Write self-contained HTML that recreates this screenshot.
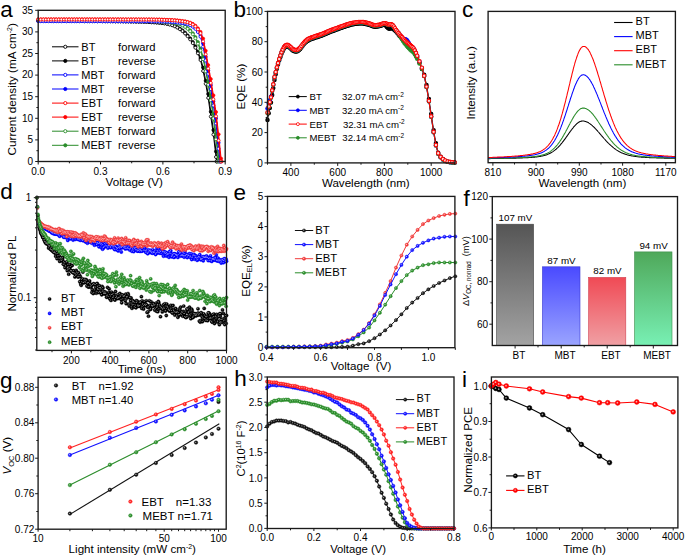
<!DOCTYPE html><html><head><meta charset="utf-8"><title>Figure</title><style>html,body{margin:0;padding:0;background:#fff;width:685px;height:557px;overflow:hidden}svg{display:block;font-family:"Liberation Sans",sans-serif}</style></head><body><svg width="685" height="557" viewBox="0 0 685 557" font-family='&quot;Liberation Sans&quot;, sans-serif'><rect width="100%" height="100%" fill="#fff"/><path d="M38.2,20.8 L40.8,20.8 L43.4,20.9 L45.9,20.9 L48.5,20.9 L51.1,20.9 L53.7,20.9 L56.2,20.9 L58.8,20.9 L61.4,20.9 L64,20.9 L66.5,20.9 L69.1,20.9 L71.7,20.9 L74.3,20.9 L76.8,21 L79.4,21 L82,21 L84.6,21 L87.2,21 L89.7,21 L92.3,21 L94.9,21 L97.5,21 L100,21.1 L102.6,21.1 L105.2,21.1 L107.8,21.1 L110.3,21.1 L112.9,21.2 L115.5,21.2 L118.1,21.2 L120.6,21.2 L123.2,21.3 L125.8,21.3 L128.4,21.3 L131,21.4 L133.5,21.4 L136.1,21.5 L138.7,21.6 L141.3,21.6 L143.8,21.7 L146.4,21.8 L149,21.9 L151.6,22.1 L154.1,22.2 L156.7,22.4 L159.3,22.6 L161.9,22.9 L164.4,23.2 L167,23.6 L169.6,24.2 L172.2,24.9 L174.8,25.8 L177.3,27.1 L179.9,28.6 L182.5,30.4 L185.1,32.7 L187.6,35.4 L190.2,38.4 L192.8,42 L195.4,46.4 L197.9,51.7 L200.5,58.1 L203.1,67.6 L205.7,80.8 L208.2,94 L210.8,111.7 L213.4,130.1 L216,151.5 L217.1,161.5" fill="none" stroke="#000" stroke-width="1.0" stroke-linejoin="round"/><g fill="#000" stroke="#000" stroke-width="0.7"><circle cx="38.2" cy="20.8" r="1.55"/><circle cx="40.8" cy="20.8" r="1.55"/><circle cx="43.4" cy="20.9" r="1.55"/><circle cx="45.9" cy="20.9" r="1.55"/><circle cx="48.5" cy="20.9" r="1.55"/><circle cx="51.1" cy="20.9" r="1.55"/><circle cx="53.7" cy="20.9" r="1.55"/><circle cx="56.2" cy="20.9" r="1.55"/><circle cx="58.8" cy="20.9" r="1.55"/><circle cx="61.4" cy="20.9" r="1.55"/><circle cx="64" cy="20.9" r="1.55"/><circle cx="66.5" cy="20.9" r="1.55"/><circle cx="69.1" cy="20.9" r="1.55"/><circle cx="71.7" cy="20.9" r="1.55"/><circle cx="74.3" cy="20.9" r="1.55"/><circle cx="76.8" cy="21" r="1.55"/><circle cx="79.4" cy="21" r="1.55"/><circle cx="82" cy="21" r="1.55"/><circle cx="84.6" cy="21" r="1.55"/><circle cx="87.2" cy="21" r="1.55"/><circle cx="89.7" cy="21" r="1.55"/><circle cx="92.3" cy="21" r="1.55"/><circle cx="94.9" cy="21" r="1.55"/><circle cx="97.5" cy="21" r="1.55"/><circle cx="100" cy="21.1" r="1.55"/><circle cx="102.6" cy="21.1" r="1.55"/><circle cx="105.2" cy="21.1" r="1.55"/><circle cx="107.8" cy="21.1" r="1.55"/><circle cx="110.3" cy="21.1" r="1.55"/><circle cx="112.9" cy="21.2" r="1.55"/><circle cx="115.5" cy="21.2" r="1.55"/><circle cx="118.1" cy="21.2" r="1.55"/><circle cx="120.6" cy="21.2" r="1.55"/><circle cx="123.2" cy="21.3" r="1.55"/><circle cx="125.8" cy="21.3" r="1.55"/><circle cx="128.4" cy="21.3" r="1.55"/><circle cx="131" cy="21.4" r="1.55"/><circle cx="133.5" cy="21.4" r="1.55"/><circle cx="136.1" cy="21.5" r="1.55"/><circle cx="138.7" cy="21.6" r="1.55"/><circle cx="141.3" cy="21.6" r="1.55"/><circle cx="143.8" cy="21.7" r="1.55"/><circle cx="146.4" cy="21.8" r="1.55"/><circle cx="149" cy="21.9" r="1.55"/><circle cx="151.6" cy="22.1" r="1.55"/><circle cx="154.1" cy="22.2" r="1.55"/><circle cx="156.7" cy="22.4" r="1.55"/><circle cx="159.3" cy="22.6" r="1.55"/><circle cx="161.9" cy="22.9" r="1.55"/><circle cx="164.4" cy="23.2" r="1.55"/><circle cx="167" cy="23.6" r="1.55"/><circle cx="169.6" cy="24.2" r="1.55"/><circle cx="172.2" cy="24.9" r="1.55"/><circle cx="174.8" cy="25.8" r="1.55"/><circle cx="177.3" cy="27.1" r="1.55"/><circle cx="179.9" cy="28.6" r="1.55"/><circle cx="182.5" cy="30.4" r="1.55"/><circle cx="185.1" cy="32.7" r="1.55"/><circle cx="187.6" cy="35.4" r="1.55"/><circle cx="190.2" cy="38.4" r="1.55"/><circle cx="192.8" cy="42" r="1.55"/><circle cx="195.4" cy="46.4" r="1.55"/><circle cx="197.9" cy="51.7" r="1.55"/><circle cx="200.5" cy="58.1" r="1.55"/><circle cx="203.1" cy="67.6" r="1.55"/><circle cx="205.7" cy="80.8" r="1.55"/><circle cx="208.2" cy="94" r="1.55"/><circle cx="210.8" cy="111.7" r="1.55"/><circle cx="213.4" cy="130.1" r="1.55"/><circle cx="216" cy="151.5" r="1.55"/><circle cx="217.1" cy="161.5" r="1.55"/></g><path d="M38.2,21 L40.8,21 L43.4,21 L45.9,21 L48.5,21 L51.1,21.1 L53.7,21.1 L56.2,21.1 L58.8,21.1 L61.4,21.1 L64,21.1 L66.5,21.1 L69.1,21.1 L71.7,21.1 L74.3,21.1 L76.8,21.1 L79.4,21.1 L82,21.1 L84.6,21.2 L87.2,21.2 L89.7,21.2 L92.3,21.2 L94.9,21.2 L97.5,21.2 L100,21.2 L102.6,21.2 L105.2,21.3 L107.8,21.3 L110.3,21.3 L112.9,21.3 L115.5,21.4 L118.1,21.4 L120.6,21.4 L123.2,21.4 L125.8,21.5 L128.4,21.5 L131,21.6 L133.5,21.6 L136.1,21.7 L138.7,21.8 L141.3,21.8 L143.8,21.9 L146.4,22 L149,22.1 L151.6,22.3 L154.1,22.4 L156.7,22.6 L159.3,22.9 L161.9,23.1 L164.4,23.4 L167,23.9 L169.6,24.5 L172.2,25.3 L174.8,26.3 L177.3,27.6 L179.9,29.2 L182.5,31.1 L185.1,33.5 L187.6,36.2 L190.2,39.4 L192.8,43.1 L195.4,47.7 L197.9,53.3 L200.5,60 L203.1,71 L205.7,83.8 L208.2,97.9 L210.8,116.6 L213.4,134.6 L216,157 L216.5,161.5" fill="none" stroke="#000" stroke-width="1.0" stroke-linejoin="round"/><g fill="#fff" stroke="#000" stroke-width="0.85"><circle cx="38.2" cy="21" r="1.5"/><circle cx="40.8" cy="21" r="1.5"/><circle cx="43.4" cy="21" r="1.5"/><circle cx="45.9" cy="21" r="1.5"/><circle cx="48.5" cy="21" r="1.5"/><circle cx="51.1" cy="21.1" r="1.5"/><circle cx="53.7" cy="21.1" r="1.5"/><circle cx="56.2" cy="21.1" r="1.5"/><circle cx="58.8" cy="21.1" r="1.5"/><circle cx="61.4" cy="21.1" r="1.5"/><circle cx="64" cy="21.1" r="1.5"/><circle cx="66.5" cy="21.1" r="1.5"/><circle cx="69.1" cy="21.1" r="1.5"/><circle cx="71.7" cy="21.1" r="1.5"/><circle cx="74.3" cy="21.1" r="1.5"/><circle cx="76.8" cy="21.1" r="1.5"/><circle cx="79.4" cy="21.1" r="1.5"/><circle cx="82" cy="21.1" r="1.5"/><circle cx="84.6" cy="21.2" r="1.5"/><circle cx="87.2" cy="21.2" r="1.5"/><circle cx="89.7" cy="21.2" r="1.5"/><circle cx="92.3" cy="21.2" r="1.5"/><circle cx="94.9" cy="21.2" r="1.5"/><circle cx="97.5" cy="21.2" r="1.5"/><circle cx="100" cy="21.2" r="1.5"/><circle cx="102.6" cy="21.2" r="1.5"/><circle cx="105.2" cy="21.3" r="1.5"/><circle cx="107.8" cy="21.3" r="1.5"/><circle cx="110.3" cy="21.3" r="1.5"/><circle cx="112.9" cy="21.3" r="1.5"/><circle cx="115.5" cy="21.4" r="1.5"/><circle cx="118.1" cy="21.4" r="1.5"/><circle cx="120.6" cy="21.4" r="1.5"/><circle cx="123.2" cy="21.4" r="1.5"/><circle cx="125.8" cy="21.5" r="1.5"/><circle cx="128.4" cy="21.5" r="1.5"/><circle cx="131" cy="21.6" r="1.5"/><circle cx="133.5" cy="21.6" r="1.5"/><circle cx="136.1" cy="21.7" r="1.5"/><circle cx="138.7" cy="21.8" r="1.5"/><circle cx="141.3" cy="21.8" r="1.5"/><circle cx="143.8" cy="21.9" r="1.5"/><circle cx="146.4" cy="22" r="1.5"/><circle cx="149" cy="22.1" r="1.5"/><circle cx="151.6" cy="22.3" r="1.5"/><circle cx="154.1" cy="22.4" r="1.5"/><circle cx="156.7" cy="22.6" r="1.5"/><circle cx="159.3" cy="22.9" r="1.5"/><circle cx="161.9" cy="23.1" r="1.5"/><circle cx="164.4" cy="23.4" r="1.5"/><circle cx="167" cy="23.9" r="1.5"/><circle cx="169.6" cy="24.5" r="1.5"/><circle cx="172.2" cy="25.3" r="1.5"/><circle cx="174.8" cy="26.3" r="1.5"/><circle cx="177.3" cy="27.6" r="1.5"/><circle cx="179.9" cy="29.2" r="1.5"/><circle cx="182.5" cy="31.1" r="1.5"/><circle cx="185.1" cy="33.5" r="1.5"/><circle cx="187.6" cy="36.2" r="1.5"/><circle cx="190.2" cy="39.4" r="1.5"/><circle cx="192.8" cy="43.1" r="1.5"/><circle cx="195.4" cy="47.7" r="1.5"/><circle cx="197.9" cy="53.3" r="1.5"/><circle cx="200.5" cy="60" r="1.5"/><circle cx="203.1" cy="71" r="1.5"/><circle cx="205.7" cy="83.8" r="1.5"/><circle cx="208.2" cy="97.9" r="1.5"/><circle cx="210.8" cy="116.6" r="1.5"/><circle cx="213.4" cy="134.6" r="1.5"/><circle cx="216" cy="157" r="1.5"/><circle cx="216.5" cy="161.5" r="1.5"/></g><path d="M38.2,20.2 L40.8,20.2 L43.4,20.2 L45.9,20.2 L48.5,20.2 L51.1,20.3 L53.7,20.3 L56.2,20.3 L58.8,20.3 L61.4,20.3 L64,20.3 L66.5,20.3 L69.1,20.3 L71.7,20.3 L74.3,20.3 L76.8,20.3 L79.4,20.3 L82,20.3 L84.6,20.3 L87.2,20.3 L89.7,20.3 L92.3,20.3 L94.9,20.3 L97.5,20.3 L100,20.3 L102.6,20.3 L105.2,20.3 L107.8,20.3 L110.3,20.4 L112.9,20.4 L115.5,20.4 L118.1,20.4 L120.6,20.4 L123.2,20.4 L125.8,20.5 L128.4,20.5 L131,20.5 L133.5,20.5 L136.1,20.6 L138.7,20.6 L141.3,20.6 L143.8,20.7 L146.4,20.7 L149,20.8 L151.6,20.9 L154.1,21 L156.7,21.1 L159.3,21.2 L161.9,21.3 L164.4,21.5 L167,21.8 L169.6,22 L172.2,22.3 L174.8,22.7 L177.3,23.2 L179.9,23.9 L182.5,24.9 L185.1,26.3 L187.6,28.1 L190.2,30.4 L192.8,33.3 L195.4,37.1 L197.9,42.1 L200.5,48.6 L203.1,56.8 L205.7,67.9 L208.2,81.4 L210.8,96.2 L213.4,113.7 L216,133.7 L218.6,157 L219.1,161.5" fill="none" stroke="#2a8c2a" stroke-width="1.0" stroke-linejoin="round"/><g fill="#2a8c2a" stroke="#2a8c2a" stroke-width="0.7"><circle cx="38.2" cy="20.2" r="1.55"/><circle cx="40.8" cy="20.2" r="1.55"/><circle cx="43.4" cy="20.2" r="1.55"/><circle cx="45.9" cy="20.2" r="1.55"/><circle cx="48.5" cy="20.2" r="1.55"/><circle cx="51.1" cy="20.3" r="1.55"/><circle cx="53.7" cy="20.3" r="1.55"/><circle cx="56.2" cy="20.3" r="1.55"/><circle cx="58.8" cy="20.3" r="1.55"/><circle cx="61.4" cy="20.3" r="1.55"/><circle cx="64" cy="20.3" r="1.55"/><circle cx="66.5" cy="20.3" r="1.55"/><circle cx="69.1" cy="20.3" r="1.55"/><circle cx="71.7" cy="20.3" r="1.55"/><circle cx="74.3" cy="20.3" r="1.55"/><circle cx="76.8" cy="20.3" r="1.55"/><circle cx="79.4" cy="20.3" r="1.55"/><circle cx="82" cy="20.3" r="1.55"/><circle cx="84.6" cy="20.3" r="1.55"/><circle cx="87.2" cy="20.3" r="1.55"/><circle cx="89.7" cy="20.3" r="1.55"/><circle cx="92.3" cy="20.3" r="1.55"/><circle cx="94.9" cy="20.3" r="1.55"/><circle cx="97.5" cy="20.3" r="1.55"/><circle cx="100" cy="20.3" r="1.55"/><circle cx="102.6" cy="20.3" r="1.55"/><circle cx="105.2" cy="20.3" r="1.55"/><circle cx="107.8" cy="20.3" r="1.55"/><circle cx="110.3" cy="20.4" r="1.55"/><circle cx="112.9" cy="20.4" r="1.55"/><circle cx="115.5" cy="20.4" r="1.55"/><circle cx="118.1" cy="20.4" r="1.55"/><circle cx="120.6" cy="20.4" r="1.55"/><circle cx="123.2" cy="20.4" r="1.55"/><circle cx="125.8" cy="20.5" r="1.55"/><circle cx="128.4" cy="20.5" r="1.55"/><circle cx="131" cy="20.5" r="1.55"/><circle cx="133.5" cy="20.5" r="1.55"/><circle cx="136.1" cy="20.6" r="1.55"/><circle cx="138.7" cy="20.6" r="1.55"/><circle cx="141.3" cy="20.6" r="1.55"/><circle cx="143.8" cy="20.7" r="1.55"/><circle cx="146.4" cy="20.7" r="1.55"/><circle cx="149" cy="20.8" r="1.55"/><circle cx="151.6" cy="20.9" r="1.55"/><circle cx="154.1" cy="21" r="1.55"/><circle cx="156.7" cy="21.1" r="1.55"/><circle cx="159.3" cy="21.2" r="1.55"/><circle cx="161.9" cy="21.3" r="1.55"/><circle cx="164.4" cy="21.5" r="1.55"/><circle cx="167" cy="21.8" r="1.55"/><circle cx="169.6" cy="22" r="1.55"/><circle cx="172.2" cy="22.3" r="1.55"/><circle cx="174.8" cy="22.7" r="1.55"/><circle cx="177.3" cy="23.2" r="1.55"/><circle cx="179.9" cy="23.9" r="1.55"/><circle cx="182.5" cy="24.9" r="1.55"/><circle cx="185.1" cy="26.3" r="1.55"/><circle cx="187.6" cy="28.1" r="1.55"/><circle cx="190.2" cy="30.4" r="1.55"/><circle cx="192.8" cy="33.3" r="1.55"/><circle cx="195.4" cy="37.1" r="1.55"/><circle cx="197.9" cy="42.1" r="1.55"/><circle cx="200.5" cy="48.6" r="1.55"/><circle cx="203.1" cy="56.8" r="1.55"/><circle cx="205.7" cy="67.9" r="1.55"/><circle cx="208.2" cy="81.4" r="1.55"/><circle cx="210.8" cy="96.2" r="1.55"/><circle cx="213.4" cy="113.7" r="1.55"/><circle cx="216" cy="133.7" r="1.55"/><circle cx="218.6" cy="157" r="1.55"/><circle cx="219.1" cy="161.5" r="1.55"/></g><path d="M38.2,20.4 L40.8,20.4 L43.4,20.4 L45.9,20.4 L48.5,20.4 L51.1,20.4 L53.7,20.4 L56.2,20.4 L58.8,20.4 L61.4,20.4 L64,20.4 L66.5,20.4 L69.1,20.4 L71.7,20.4 L74.3,20.5 L76.8,20.5 L79.4,20.5 L82,20.5 L84.6,20.5 L87.2,20.5 L89.7,20.5 L92.3,20.5 L94.9,20.5 L97.5,20.5 L100,20.5 L102.6,20.5 L105.2,20.5 L107.8,20.5 L110.3,20.5 L112.9,20.5 L115.5,20.6 L118.1,20.6 L120.6,20.6 L123.2,20.6 L125.8,20.6 L128.4,20.7 L131,20.7 L133.5,20.7 L136.1,20.7 L138.7,20.8 L141.3,20.8 L143.8,20.9 L146.4,20.9 L149,21 L151.6,21.1 L154.1,21.2 L156.7,21.3 L159.3,21.4 L161.9,21.6 L164.4,21.8 L167,22 L169.6,22.2 L172.2,22.5 L174.8,22.9 L177.3,23.5 L179.9,24.3 L182.5,25.4 L185.1,26.9 L187.6,28.8 L190.2,31.2 L192.8,34.3 L195.4,38.3 L197.9,43.7 L200.5,50.6 L203.1,59.2 L205.7,71.3 L208.2,84.8 L210.8,100.3 L213.4,118.4 L216,139.3 L218.4,161.5" fill="none" stroke="#2a8c2a" stroke-width="1.0" stroke-linejoin="round"/><g fill="#fff" stroke="#2a8c2a" stroke-width="0.85"><circle cx="38.2" cy="20.4" r="1.5"/><circle cx="40.8" cy="20.4" r="1.5"/><circle cx="43.4" cy="20.4" r="1.5"/><circle cx="45.9" cy="20.4" r="1.5"/><circle cx="48.5" cy="20.4" r="1.5"/><circle cx="51.1" cy="20.4" r="1.5"/><circle cx="53.7" cy="20.4" r="1.5"/><circle cx="56.2" cy="20.4" r="1.5"/><circle cx="58.8" cy="20.4" r="1.5"/><circle cx="61.4" cy="20.4" r="1.5"/><circle cx="64" cy="20.4" r="1.5"/><circle cx="66.5" cy="20.4" r="1.5"/><circle cx="69.1" cy="20.4" r="1.5"/><circle cx="71.7" cy="20.4" r="1.5"/><circle cx="74.3" cy="20.5" r="1.5"/><circle cx="76.8" cy="20.5" r="1.5"/><circle cx="79.4" cy="20.5" r="1.5"/><circle cx="82" cy="20.5" r="1.5"/><circle cx="84.6" cy="20.5" r="1.5"/><circle cx="87.2" cy="20.5" r="1.5"/><circle cx="89.7" cy="20.5" r="1.5"/><circle cx="92.3" cy="20.5" r="1.5"/><circle cx="94.9" cy="20.5" r="1.5"/><circle cx="97.5" cy="20.5" r="1.5"/><circle cx="100" cy="20.5" r="1.5"/><circle cx="102.6" cy="20.5" r="1.5"/><circle cx="105.2" cy="20.5" r="1.5"/><circle cx="107.8" cy="20.5" r="1.5"/><circle cx="110.3" cy="20.5" r="1.5"/><circle cx="112.9" cy="20.5" r="1.5"/><circle cx="115.5" cy="20.6" r="1.5"/><circle cx="118.1" cy="20.6" r="1.5"/><circle cx="120.6" cy="20.6" r="1.5"/><circle cx="123.2" cy="20.6" r="1.5"/><circle cx="125.8" cy="20.6" r="1.5"/><circle cx="128.4" cy="20.7" r="1.5"/><circle cx="131" cy="20.7" r="1.5"/><circle cx="133.5" cy="20.7" r="1.5"/><circle cx="136.1" cy="20.7" r="1.5"/><circle cx="138.7" cy="20.8" r="1.5"/><circle cx="141.3" cy="20.8" r="1.5"/><circle cx="143.8" cy="20.9" r="1.5"/><circle cx="146.4" cy="20.9" r="1.5"/><circle cx="149" cy="21" r="1.5"/><circle cx="151.6" cy="21.1" r="1.5"/><circle cx="154.1" cy="21.2" r="1.5"/><circle cx="156.7" cy="21.3" r="1.5"/><circle cx="159.3" cy="21.4" r="1.5"/><circle cx="161.9" cy="21.6" r="1.5"/><circle cx="164.4" cy="21.8" r="1.5"/><circle cx="167" cy="22" r="1.5"/><circle cx="169.6" cy="22.2" r="1.5"/><circle cx="172.2" cy="22.5" r="1.5"/><circle cx="174.8" cy="22.9" r="1.5"/><circle cx="177.3" cy="23.5" r="1.5"/><circle cx="179.9" cy="24.3" r="1.5"/><circle cx="182.5" cy="25.4" r="1.5"/><circle cx="185.1" cy="26.9" r="1.5"/><circle cx="187.6" cy="28.8" r="1.5"/><circle cx="190.2" cy="31.2" r="1.5"/><circle cx="192.8" cy="34.3" r="1.5"/><circle cx="195.4" cy="38.3" r="1.5"/><circle cx="197.9" cy="43.7" r="1.5"/><circle cx="200.5" cy="50.6" r="1.5"/><circle cx="203.1" cy="59.2" r="1.5"/><circle cx="205.7" cy="71.3" r="1.5"/><circle cx="208.2" cy="84.8" r="1.5"/><circle cx="210.8" cy="100.3" r="1.5"/><circle cx="213.4" cy="118.4" r="1.5"/><circle cx="216" cy="139.3" r="1.5"/><circle cx="218.4" cy="161.5" r="1.5"/></g><path d="M38.2,21 L40.8,21 L43.4,21 L45.9,21 L48.5,21 L51.1,21 L53.7,21 L56.2,21 L58.8,21 L61.4,21 L64,21 L66.5,21 L69.1,21 L71.7,21 L74.3,21 L76.8,21 L79.4,21 L82,21 L84.6,21 L87.2,21 L89.7,21 L92.3,21 L94.9,21.1 L97.5,21.1 L100,21.1 L102.6,21.1 L105.2,21.1 L107.8,21.1 L110.3,21.1 L112.9,21.1 L115.5,21.1 L118.1,21.1 L120.6,21.1 L123.2,21.1 L125.8,21.1 L128.4,21.1 L131,21.1 L133.5,21.1 L136.1,21.1 L138.7,21.1 L141.3,21.1 L143.8,21.1 L146.4,21.1 L149,21.1 L151.6,21.2 L154.1,21.2 L156.7,21.2 L159.3,21.3 L161.9,21.3 L164.4,21.4 L167,21.5 L169.6,21.6 L172.2,21.8 L174.8,22 L177.3,22.2 L179.9,22.5 L182.5,22.9 L185.1,23.3 L187.6,23.8 L190.2,24.7 L192.8,26.1 L195.4,28.1 L197.9,31 L200.5,35 L203.1,43.5 L205.7,56.7 L208.2,70.5 L210.8,85.1 L213.4,101.3 L216,118.2 L218.6,142.7 L220.6,161.5" fill="none" stroke="#0000ff" stroke-width="1.0" stroke-linejoin="round"/><g fill="#0000ff" stroke="#0000ff" stroke-width="0.7"><circle cx="38.2" cy="21" r="1.55"/><circle cx="40.8" cy="21" r="1.55"/><circle cx="43.4" cy="21" r="1.55"/><circle cx="45.9" cy="21" r="1.55"/><circle cx="48.5" cy="21" r="1.55"/><circle cx="51.1" cy="21" r="1.55"/><circle cx="53.7" cy="21" r="1.55"/><circle cx="56.2" cy="21" r="1.55"/><circle cx="58.8" cy="21" r="1.55"/><circle cx="61.4" cy="21" r="1.55"/><circle cx="64" cy="21" r="1.55"/><circle cx="66.5" cy="21" r="1.55"/><circle cx="69.1" cy="21" r="1.55"/><circle cx="71.7" cy="21" r="1.55"/><circle cx="74.3" cy="21" r="1.55"/><circle cx="76.8" cy="21" r="1.55"/><circle cx="79.4" cy="21" r="1.55"/><circle cx="82" cy="21" r="1.55"/><circle cx="84.6" cy="21" r="1.55"/><circle cx="87.2" cy="21" r="1.55"/><circle cx="89.7" cy="21" r="1.55"/><circle cx="92.3" cy="21" r="1.55"/><circle cx="94.9" cy="21.1" r="1.55"/><circle cx="97.5" cy="21.1" r="1.55"/><circle cx="100" cy="21.1" r="1.55"/><circle cx="102.6" cy="21.1" r="1.55"/><circle cx="105.2" cy="21.1" r="1.55"/><circle cx="107.8" cy="21.1" r="1.55"/><circle cx="110.3" cy="21.1" r="1.55"/><circle cx="112.9" cy="21.1" r="1.55"/><circle cx="115.5" cy="21.1" r="1.55"/><circle cx="118.1" cy="21.1" r="1.55"/><circle cx="120.6" cy="21.1" r="1.55"/><circle cx="123.2" cy="21.1" r="1.55"/><circle cx="125.8" cy="21.1" r="1.55"/><circle cx="128.4" cy="21.1" r="1.55"/><circle cx="131" cy="21.1" r="1.55"/><circle cx="133.5" cy="21.1" r="1.55"/><circle cx="136.1" cy="21.1" r="1.55"/><circle cx="138.7" cy="21.1" r="1.55"/><circle cx="141.3" cy="21.1" r="1.55"/><circle cx="143.8" cy="21.1" r="1.55"/><circle cx="146.4" cy="21.1" r="1.55"/><circle cx="149" cy="21.1" r="1.55"/><circle cx="151.6" cy="21.2" r="1.55"/><circle cx="154.1" cy="21.2" r="1.55"/><circle cx="156.7" cy="21.2" r="1.55"/><circle cx="159.3" cy="21.3" r="1.55"/><circle cx="161.9" cy="21.3" r="1.55"/><circle cx="164.4" cy="21.4" r="1.55"/><circle cx="167" cy="21.5" r="1.55"/><circle cx="169.6" cy="21.6" r="1.55"/><circle cx="172.2" cy="21.8" r="1.55"/><circle cx="174.8" cy="22" r="1.55"/><circle cx="177.3" cy="22.2" r="1.55"/><circle cx="179.9" cy="22.5" r="1.55"/><circle cx="182.5" cy="22.9" r="1.55"/><circle cx="185.1" cy="23.3" r="1.55"/><circle cx="187.6" cy="23.8" r="1.55"/><circle cx="190.2" cy="24.7" r="1.55"/><circle cx="192.8" cy="26.1" r="1.55"/><circle cx="195.4" cy="28.1" r="1.55"/><circle cx="197.9" cy="31" r="1.55"/><circle cx="200.5" cy="35" r="1.55"/><circle cx="203.1" cy="43.5" r="1.55"/><circle cx="205.7" cy="56.7" r="1.55"/><circle cx="208.2" cy="70.5" r="1.55"/><circle cx="210.8" cy="85.1" r="1.55"/><circle cx="213.4" cy="101.3" r="1.55"/><circle cx="216" cy="118.2" r="1.55"/><circle cx="218.6" cy="142.7" r="1.55"/><circle cx="220.6" cy="161.5" r="1.55"/></g><path d="M38.2,21.2 L40.8,21.2 L43.4,21.2 L45.9,21.2 L48.5,21.2 L51.1,21.2 L53.7,21.2 L56.2,21.2 L58.8,21.2 L61.4,21.2 L64,21.2 L66.5,21.2 L69.1,21.2 L71.7,21.2 L74.3,21.2 L76.8,21.2 L79.4,21.2 L82,21.2 L84.6,21.2 L87.2,21.2 L89.7,21.2 L92.3,21.2 L94.9,21.2 L97.5,21.2 L100,21.2 L102.6,21.2 L105.2,21.2 L107.8,21.2 L110.3,21.2 L112.9,21.2 L115.5,21.2 L118.1,21.2 L120.6,21.2 L123.2,21.3 L125.8,21.3 L128.4,21.3 L131,21.3 L133.5,21.3 L136.1,21.3 L138.7,21.3 L141.3,21.3 L143.8,21.3 L146.4,21.3 L149,21.3 L151.6,21.4 L154.1,21.4 L156.7,21.4 L159.3,21.5 L161.9,21.5 L164.4,21.6 L167,21.7 L169.6,21.8 L172.2,22 L174.8,22.2 L177.3,22.5 L179.9,22.8 L182.5,23.1 L185.1,23.6 L187.6,24.2 L190.2,25.2 L192.8,26.7 L195.4,28.9 L197.9,32 L200.5,36.7 L203.1,46.7 L205.7,60.4 L208.2,73.9 L210.8,89.1 L213.4,105.4 L216,123.5 L218.6,148.7 L220,161.5" fill="none" stroke="#0000ff" stroke-width="1.0" stroke-linejoin="round"/><g fill="#fff" stroke="#0000ff" stroke-width="0.85"><circle cx="38.2" cy="21.2" r="1.5"/><circle cx="40.8" cy="21.2" r="1.5"/><circle cx="43.4" cy="21.2" r="1.5"/><circle cx="45.9" cy="21.2" r="1.5"/><circle cx="48.5" cy="21.2" r="1.5"/><circle cx="51.1" cy="21.2" r="1.5"/><circle cx="53.7" cy="21.2" r="1.5"/><circle cx="56.2" cy="21.2" r="1.5"/><circle cx="58.8" cy="21.2" r="1.5"/><circle cx="61.4" cy="21.2" r="1.5"/><circle cx="64" cy="21.2" r="1.5"/><circle cx="66.5" cy="21.2" r="1.5"/><circle cx="69.1" cy="21.2" r="1.5"/><circle cx="71.7" cy="21.2" r="1.5"/><circle cx="74.3" cy="21.2" r="1.5"/><circle cx="76.8" cy="21.2" r="1.5"/><circle cx="79.4" cy="21.2" r="1.5"/><circle cx="82" cy="21.2" r="1.5"/><circle cx="84.6" cy="21.2" r="1.5"/><circle cx="87.2" cy="21.2" r="1.5"/><circle cx="89.7" cy="21.2" r="1.5"/><circle cx="92.3" cy="21.2" r="1.5"/><circle cx="94.9" cy="21.2" r="1.5"/><circle cx="97.5" cy="21.2" r="1.5"/><circle cx="100" cy="21.2" r="1.5"/><circle cx="102.6" cy="21.2" r="1.5"/><circle cx="105.2" cy="21.2" r="1.5"/><circle cx="107.8" cy="21.2" r="1.5"/><circle cx="110.3" cy="21.2" r="1.5"/><circle cx="112.9" cy="21.2" r="1.5"/><circle cx="115.5" cy="21.2" r="1.5"/><circle cx="118.1" cy="21.2" r="1.5"/><circle cx="120.6" cy="21.2" r="1.5"/><circle cx="123.2" cy="21.3" r="1.5"/><circle cx="125.8" cy="21.3" r="1.5"/><circle cx="128.4" cy="21.3" r="1.5"/><circle cx="131" cy="21.3" r="1.5"/><circle cx="133.5" cy="21.3" r="1.5"/><circle cx="136.1" cy="21.3" r="1.5"/><circle cx="138.7" cy="21.3" r="1.5"/><circle cx="141.3" cy="21.3" r="1.5"/><circle cx="143.8" cy="21.3" r="1.5"/><circle cx="146.4" cy="21.3" r="1.5"/><circle cx="149" cy="21.3" r="1.5"/><circle cx="151.6" cy="21.4" r="1.5"/><circle cx="154.1" cy="21.4" r="1.5"/><circle cx="156.7" cy="21.4" r="1.5"/><circle cx="159.3" cy="21.5" r="1.5"/><circle cx="161.9" cy="21.5" r="1.5"/><circle cx="164.4" cy="21.6" r="1.5"/><circle cx="167" cy="21.7" r="1.5"/><circle cx="169.6" cy="21.8" r="1.5"/><circle cx="172.2" cy="22" r="1.5"/><circle cx="174.8" cy="22.2" r="1.5"/><circle cx="177.3" cy="22.5" r="1.5"/><circle cx="179.9" cy="22.8" r="1.5"/><circle cx="182.5" cy="23.1" r="1.5"/><circle cx="185.1" cy="23.6" r="1.5"/><circle cx="187.6" cy="24.2" r="1.5"/><circle cx="190.2" cy="25.2" r="1.5"/><circle cx="192.8" cy="26.7" r="1.5"/><circle cx="195.4" cy="28.9" r="1.5"/><circle cx="197.9" cy="32" r="1.5"/><circle cx="200.5" cy="36.7" r="1.5"/><circle cx="203.1" cy="46.7" r="1.5"/><circle cx="205.7" cy="60.4" r="1.5"/><circle cx="208.2" cy="73.9" r="1.5"/><circle cx="210.8" cy="89.1" r="1.5"/><circle cx="213.4" cy="105.4" r="1.5"/><circle cx="216" cy="123.5" r="1.5"/><circle cx="218.6" cy="148.7" r="1.5"/><circle cx="220" cy="161.5" r="1.5"/></g><path d="M38.2,19.3 L40.8,19.3 L43.4,19.3 L45.9,19.3 L48.5,19.3 L51.1,19.3 L53.7,19.3 L56.2,19.3 L58.8,19.3 L61.4,19.3 L64,19.3 L66.5,19.3 L69.1,19.3 L71.7,19.3 L74.3,19.3 L76.8,19.3 L79.4,19.3 L82,19.3 L84.6,19.3 L87.2,19.3 L89.7,19.3 L92.3,19.3 L94.9,19.3 L97.5,19.3 L100,19.3 L102.6,19.3 L105.2,19.3 L107.8,19.3 L110.3,19.3 L112.9,19.3 L115.5,19.3 L118.1,19.3 L120.6,19.3 L123.2,19.4 L125.8,19.4 L128.4,19.4 L131,19.4 L133.5,19.4 L136.1,19.4 L138.7,19.4 L141.3,19.4 L143.8,19.4 L146.4,19.4 L149,19.4 L151.6,19.4 L154.1,19.5 L156.7,19.5 L159.3,19.5 L161.9,19.6 L164.4,19.7 L167,19.8 L169.6,19.9 L172.2,20 L174.8,20.2 L177.3,20.4 L179.9,20.7 L182.5,21 L185.1,21.4 L187.6,22 L190.2,22.7 L192.8,23.9 L195.4,25.7 L197.9,28.4 L200.5,31.9 L203.1,38.6 L205.7,50.7 L208.2,65.1 L210.8,79 L213.4,95.3 L216,112 L218.6,134.3 L221.1,158.6 L221.5,161.5" fill="none" stroke="#ff0000" stroke-width="1.0" stroke-linejoin="round"/><g fill="#ff0000" stroke="#ff0000" stroke-width="0.7"><circle cx="38.2" cy="19.3" r="1.55"/><circle cx="40.8" cy="19.3" r="1.55"/><circle cx="43.4" cy="19.3" r="1.55"/><circle cx="45.9" cy="19.3" r="1.55"/><circle cx="48.5" cy="19.3" r="1.55"/><circle cx="51.1" cy="19.3" r="1.55"/><circle cx="53.7" cy="19.3" r="1.55"/><circle cx="56.2" cy="19.3" r="1.55"/><circle cx="58.8" cy="19.3" r="1.55"/><circle cx="61.4" cy="19.3" r="1.55"/><circle cx="64" cy="19.3" r="1.55"/><circle cx="66.5" cy="19.3" r="1.55"/><circle cx="69.1" cy="19.3" r="1.55"/><circle cx="71.7" cy="19.3" r="1.55"/><circle cx="74.3" cy="19.3" r="1.55"/><circle cx="76.8" cy="19.3" r="1.55"/><circle cx="79.4" cy="19.3" r="1.55"/><circle cx="82" cy="19.3" r="1.55"/><circle cx="84.6" cy="19.3" r="1.55"/><circle cx="87.2" cy="19.3" r="1.55"/><circle cx="89.7" cy="19.3" r="1.55"/><circle cx="92.3" cy="19.3" r="1.55"/><circle cx="94.9" cy="19.3" r="1.55"/><circle cx="97.5" cy="19.3" r="1.55"/><circle cx="100" cy="19.3" r="1.55"/><circle cx="102.6" cy="19.3" r="1.55"/><circle cx="105.2" cy="19.3" r="1.55"/><circle cx="107.8" cy="19.3" r="1.55"/><circle cx="110.3" cy="19.3" r="1.55"/><circle cx="112.9" cy="19.3" r="1.55"/><circle cx="115.5" cy="19.3" r="1.55"/><circle cx="118.1" cy="19.3" r="1.55"/><circle cx="120.6" cy="19.3" r="1.55"/><circle cx="123.2" cy="19.4" r="1.55"/><circle cx="125.8" cy="19.4" r="1.55"/><circle cx="128.4" cy="19.4" r="1.55"/><circle cx="131" cy="19.4" r="1.55"/><circle cx="133.5" cy="19.4" r="1.55"/><circle cx="136.1" cy="19.4" r="1.55"/><circle cx="138.7" cy="19.4" r="1.55"/><circle cx="141.3" cy="19.4" r="1.55"/><circle cx="143.8" cy="19.4" r="1.55"/><circle cx="146.4" cy="19.4" r="1.55"/><circle cx="149" cy="19.4" r="1.55"/><circle cx="151.6" cy="19.4" r="1.55"/><circle cx="154.1" cy="19.5" r="1.55"/><circle cx="156.7" cy="19.5" r="1.55"/><circle cx="159.3" cy="19.5" r="1.55"/><circle cx="161.9" cy="19.6" r="1.55"/><circle cx="164.4" cy="19.7" r="1.55"/><circle cx="167" cy="19.8" r="1.55"/><circle cx="169.6" cy="19.9" r="1.55"/><circle cx="172.2" cy="20" r="1.55"/><circle cx="174.8" cy="20.2" r="1.55"/><circle cx="177.3" cy="20.4" r="1.55"/><circle cx="179.9" cy="20.7" r="1.55"/><circle cx="182.5" cy="21" r="1.55"/><circle cx="185.1" cy="21.4" r="1.55"/><circle cx="187.6" cy="22" r="1.55"/><circle cx="190.2" cy="22.7" r="1.55"/><circle cx="192.8" cy="23.9" r="1.55"/><circle cx="195.4" cy="25.7" r="1.55"/><circle cx="197.9" cy="28.4" r="1.55"/><circle cx="200.5" cy="31.9" r="1.55"/><circle cx="203.1" cy="38.6" r="1.55"/><circle cx="205.7" cy="50.7" r="1.55"/><circle cx="208.2" cy="65.1" r="1.55"/><circle cx="210.8" cy="79" r="1.55"/><circle cx="213.4" cy="95.3" r="1.55"/><circle cx="216" cy="112" r="1.55"/><circle cx="218.6" cy="134.3" r="1.55"/><circle cx="221.1" cy="158.6" r="1.55"/><circle cx="221.5" cy="161.5" r="1.55"/></g><path d="M38.2,19.5 L40.8,19.5 L43.4,19.5 L45.9,19.5 L48.5,19.5 L51.1,19.5 L53.7,19.5 L56.2,19.5 L58.8,19.5 L61.4,19.5 L64,19.5 L66.5,19.5 L69.1,19.5 L71.7,19.5 L74.3,19.5 L76.8,19.5 L79.4,19.5 L82,19.5 L84.6,19.5 L87.2,19.5 L89.7,19.5 L92.3,19.5 L94.9,19.5 L97.5,19.5 L100,19.5 L102.6,19.5 L105.2,19.5 L107.8,19.5 L110.3,19.5 L112.9,19.5 L115.5,19.5 L118.1,19.5 L120.6,19.5 L123.2,19.5 L125.8,19.5 L128.4,19.5 L131,19.5 L133.5,19.5 L136.1,19.5 L138.7,19.5 L141.3,19.6 L143.8,19.6 L146.4,19.6 L149,19.6 L151.6,19.6 L154.1,19.6 L156.7,19.7 L159.3,19.7 L161.9,19.8 L164.4,19.9 L167,20 L169.6,20.1 L172.2,20.2 L174.8,20.4 L177.3,20.7 L179.9,21 L182.5,21.3 L185.1,21.7 L187.6,22.3 L190.2,23.1 L192.8,24.5 L195.4,26.4 L197.9,29.3 L200.5,33.2 L203.1,41.3 L205.7,54.3 L208.2,68.5 L210.8,82.9 L213.4,99.3 L216,116.2 L218.6,140.5 L220.8,161.5" fill="none" stroke="#ff0000" stroke-width="1.0" stroke-linejoin="round"/><g fill="#fff" stroke="#ff0000" stroke-width="0.85"><circle cx="38.2" cy="19.5" r="1.5"/><circle cx="40.8" cy="19.5" r="1.5"/><circle cx="43.4" cy="19.5" r="1.5"/><circle cx="45.9" cy="19.5" r="1.5"/><circle cx="48.5" cy="19.5" r="1.5"/><circle cx="51.1" cy="19.5" r="1.5"/><circle cx="53.7" cy="19.5" r="1.5"/><circle cx="56.2" cy="19.5" r="1.5"/><circle cx="58.8" cy="19.5" r="1.5"/><circle cx="61.4" cy="19.5" r="1.5"/><circle cx="64" cy="19.5" r="1.5"/><circle cx="66.5" cy="19.5" r="1.5"/><circle cx="69.1" cy="19.5" r="1.5"/><circle cx="71.7" cy="19.5" r="1.5"/><circle cx="74.3" cy="19.5" r="1.5"/><circle cx="76.8" cy="19.5" r="1.5"/><circle cx="79.4" cy="19.5" r="1.5"/><circle cx="82" cy="19.5" r="1.5"/><circle cx="84.6" cy="19.5" r="1.5"/><circle cx="87.2" cy="19.5" r="1.5"/><circle cx="89.7" cy="19.5" r="1.5"/><circle cx="92.3" cy="19.5" r="1.5"/><circle cx="94.9" cy="19.5" r="1.5"/><circle cx="97.5" cy="19.5" r="1.5"/><circle cx="100" cy="19.5" r="1.5"/><circle cx="102.6" cy="19.5" r="1.5"/><circle cx="105.2" cy="19.5" r="1.5"/><circle cx="107.8" cy="19.5" r="1.5"/><circle cx="110.3" cy="19.5" r="1.5"/><circle cx="112.9" cy="19.5" r="1.5"/><circle cx="115.5" cy="19.5" r="1.5"/><circle cx="118.1" cy="19.5" r="1.5"/><circle cx="120.6" cy="19.5" r="1.5"/><circle cx="123.2" cy="19.5" r="1.5"/><circle cx="125.8" cy="19.5" r="1.5"/><circle cx="128.4" cy="19.5" r="1.5"/><circle cx="131" cy="19.5" r="1.5"/><circle cx="133.5" cy="19.5" r="1.5"/><circle cx="136.1" cy="19.5" r="1.5"/><circle cx="138.7" cy="19.5" r="1.5"/><circle cx="141.3" cy="19.6" r="1.5"/><circle cx="143.8" cy="19.6" r="1.5"/><circle cx="146.4" cy="19.6" r="1.5"/><circle cx="149" cy="19.6" r="1.5"/><circle cx="151.6" cy="19.6" r="1.5"/><circle cx="154.1" cy="19.6" r="1.5"/><circle cx="156.7" cy="19.7" r="1.5"/><circle cx="159.3" cy="19.7" r="1.5"/><circle cx="161.9" cy="19.8" r="1.5"/><circle cx="164.4" cy="19.9" r="1.5"/><circle cx="167" cy="20" r="1.5"/><circle cx="169.6" cy="20.1" r="1.5"/><circle cx="172.2" cy="20.2" r="1.5"/><circle cx="174.8" cy="20.4" r="1.5"/><circle cx="177.3" cy="20.7" r="1.5"/><circle cx="179.9" cy="21" r="1.5"/><circle cx="182.5" cy="21.3" r="1.5"/><circle cx="185.1" cy="21.7" r="1.5"/><circle cx="187.6" cy="22.3" r="1.5"/><circle cx="190.2" cy="23.1" r="1.5"/><circle cx="192.8" cy="24.5" r="1.5"/><circle cx="195.4" cy="26.4" r="1.5"/><circle cx="197.9" cy="29.3" r="1.5"/><circle cx="200.5" cy="33.2" r="1.5"/><circle cx="203.1" cy="41.3" r="1.5"/><circle cx="205.7" cy="54.3" r="1.5"/><circle cx="208.2" cy="68.5" r="1.5"/><circle cx="210.8" cy="82.9" r="1.5"/><circle cx="213.4" cy="99.3" r="1.5"/><circle cx="216" cy="116.2" r="1.5"/><circle cx="218.6" cy="140.5" r="1.5"/><circle cx="220.8" cy="161.5" r="1.5"/></g><rect x="38.2" y="10.3" width="187" height="151.2" fill="none" stroke="#1a1a1a" stroke-width="1.35"/><line x1="38.2" y1="161.5" x2="38.2" y2="164.5" stroke="#1a1a1a" stroke-width="1.0"/><line x1="100.5" y1="161.5" x2="100.5" y2="164.5" stroke="#1a1a1a" stroke-width="1.0"/><line x1="162.9" y1="161.5" x2="162.9" y2="164.5" stroke="#1a1a1a" stroke-width="1.0"/><line x1="225.2" y1="161.5" x2="225.2" y2="164.5" stroke="#1a1a1a" stroke-width="1.0"/><line x1="69.4" y1="161.5" x2="69.4" y2="163.3" stroke="#1a1a1a" stroke-width="1.0"/><line x1="131.7" y1="161.5" x2="131.7" y2="163.3" stroke="#1a1a1a" stroke-width="1.0"/><line x1="194" y1="161.5" x2="194" y2="163.3" stroke="#1a1a1a" stroke-width="1.0"/><text x="38.2" y="174.6" font-size="10" text-anchor="middle" fill="#000">0.0</text><text x="100.5" y="174.6" font-size="10" text-anchor="middle" fill="#000">0.3</text><text x="162.9" y="174.6" font-size="10" text-anchor="middle" fill="#000">0.6</text><text x="225.2" y="174.6" font-size="10" text-anchor="middle" fill="#000">0.9</text><line x1="35.2" y1="161.5" x2="38.2" y2="161.5" stroke="#1a1a1a" stroke-width="1.0"/><line x1="35.2" y1="139.9" x2="38.2" y2="139.9" stroke="#1a1a1a" stroke-width="1.0"/><line x1="35.2" y1="118.3" x2="38.2" y2="118.3" stroke="#1a1a1a" stroke-width="1.0"/><line x1="35.2" y1="96.7" x2="38.2" y2="96.7" stroke="#1a1a1a" stroke-width="1.0"/><line x1="35.2" y1="75.1" x2="38.2" y2="75.1" stroke="#1a1a1a" stroke-width="1.0"/><line x1="35.2" y1="53.5" x2="38.2" y2="53.5" stroke="#1a1a1a" stroke-width="1.0"/><line x1="35.2" y1="31.9" x2="38.2" y2="31.9" stroke="#1a1a1a" stroke-width="1.0"/><line x1="35.2" y1="10.3" x2="38.2" y2="10.3" stroke="#1a1a1a" stroke-width="1.0"/><line x1="36.4" y1="150.7" x2="38.2" y2="150.7" stroke="#1a1a1a" stroke-width="1.0"/><line x1="36.4" y1="129.1" x2="38.2" y2="129.1" stroke="#1a1a1a" stroke-width="1.0"/><line x1="36.4" y1="107.5" x2="38.2" y2="107.5" stroke="#1a1a1a" stroke-width="1.0"/><line x1="36.4" y1="85.9" x2="38.2" y2="85.9" stroke="#1a1a1a" stroke-width="1.0"/><line x1="36.4" y1="64.3" x2="38.2" y2="64.3" stroke="#1a1a1a" stroke-width="1.0"/><line x1="36.4" y1="42.7" x2="38.2" y2="42.7" stroke="#1a1a1a" stroke-width="1.0"/><line x1="36.4" y1="21.1" x2="38.2" y2="21.1" stroke="#1a1a1a" stroke-width="1.0"/><text x="33" y="164.8" font-size="10" text-anchor="end" fill="#000">0</text><text x="33" y="143.2" font-size="10" text-anchor="end" fill="#000">5</text><text x="33" y="121.6" font-size="10" text-anchor="end" fill="#000">10</text><text x="33" y="100" font-size="10" text-anchor="end" fill="#000">15</text><text x="33" y="78.4" font-size="10" text-anchor="end" fill="#000">20</text><text x="33" y="56.8" font-size="10" text-anchor="end" fill="#000">25</text><text x="33" y="35.2" font-size="10" text-anchor="end" fill="#000">30</text><text x="33" y="13.6" font-size="10" text-anchor="end" fill="#000">35</text><text x="134.3" y="186.3" font-size="11.6" text-anchor="middle" fill="#000">Voltage (V)</text><text x="0" y="0" transform="translate(16.4,89.3) rotate(-90)" font-size="11.7" text-anchor="middle" fill="#000">Current density (mA cm<tspan font-size="7" dy="-4">-2</tspan><tspan dy="4">)</tspan></text><line x1="52" y1="46.8" x2="78.5" y2="46.8" stroke="#000" stroke-width="1.0"/><g fill="#fff" stroke="#000" stroke-width="0.9"><circle cx="65.3" cy="46.8" r="1.6"/></g><text x="81.3" y="50.8" font-size="11" text-anchor="start" fill="#000">BT</text><text x="118.1" y="50.8" font-size="11.2" text-anchor="start" fill="#000">forward</text><line x1="52" y1="60.9" x2="78.5" y2="60.9" stroke="#000" stroke-width="1.0"/><g fill="#000" stroke="#000" stroke-width="0.9"><circle cx="65.3" cy="60.9" r="1.6"/></g><text x="81.3" y="64.9" font-size="11" text-anchor="start" fill="#000">BT</text><text x="118.1" y="64.9" font-size="11.2" text-anchor="start" fill="#000">reverse</text><line x1="52" y1="74.9" x2="78.5" y2="74.9" stroke="#0000ff" stroke-width="1.0"/><g fill="#fff" stroke="#0000ff" stroke-width="0.9"><circle cx="65.3" cy="74.9" r="1.6"/></g><text x="81.3" y="78.9" font-size="11" text-anchor="start" fill="#000">MBT</text><text x="118.1" y="78.9" font-size="11.2" text-anchor="start" fill="#000">forward</text><line x1="52" y1="89" x2="78.5" y2="89" stroke="#0000ff" stroke-width="1.0"/><g fill="#0000ff" stroke="#0000ff" stroke-width="0.9"><circle cx="65.3" cy="89" r="1.6"/></g><text x="81.3" y="93" font-size="11" text-anchor="start" fill="#000">MBT</text><text x="118.1" y="93" font-size="11.2" text-anchor="start" fill="#000">reverse</text><line x1="52" y1="103.1" x2="78.5" y2="103.1" stroke="#ff0000" stroke-width="1.0"/><g fill="#fff" stroke="#ff0000" stroke-width="0.9"><circle cx="65.3" cy="103.1" r="1.6"/></g><text x="81.3" y="107.1" font-size="11" text-anchor="start" fill="#000">EBT</text><text x="118.1" y="107.1" font-size="11.2" text-anchor="start" fill="#000">forward</text><line x1="52" y1="117.1" x2="78.5" y2="117.1" stroke="#ff0000" stroke-width="1.0"/><g fill="#ff0000" stroke="#ff0000" stroke-width="0.9"><circle cx="65.3" cy="117.1" r="1.6"/></g><text x="81.3" y="121.1" font-size="11" text-anchor="start" fill="#000">EBT</text><text x="118.1" y="121.1" font-size="11.2" text-anchor="start" fill="#000">reverse</text><line x1="52" y1="131.2" x2="78.5" y2="131.2" stroke="#2a8c2a" stroke-width="1.0"/><g fill="#fff" stroke="#2a8c2a" stroke-width="0.9"><circle cx="65.3" cy="131.2" r="1.6"/></g><text x="81.3" y="135.2" font-size="11" text-anchor="start" fill="#000">MEBT</text><text x="118.1" y="135.2" font-size="11.2" text-anchor="start" fill="#000">forward</text><line x1="52" y1="145.3" x2="78.5" y2="145.3" stroke="#2a8c2a" stroke-width="1.0"/><g fill="#2a8c2a" stroke="#2a8c2a" stroke-width="0.9"><circle cx="65.3" cy="145.3" r="1.6"/></g><text x="81.3" y="149.3" font-size="11" text-anchor="start" fill="#000">MEBT</text><text x="118.1" y="149.3" font-size="11.2" text-anchor="start" fill="#000">reverse</text><text x="0.3" y="17.4" font-size="22.5" text-anchor="start" fill="#000">a</text><path d="M267.5,120 L268.7,113.3 L269.8,108.1 L271,102.6 L272.2,94.9 L273.3,88.1 L274.5,80 L275.7,74.3 L276.9,68.8 L278,64.6 L279.2,60.5 L280.4,56.9 L281.5,53.8 L282.7,51.2 L283.9,48.7 L285,47.3 L286.2,46.5 L287.4,46.3 L288.5,46.8 L289.7,47.8 L290.9,48.7 L292.1,49.9 L293.2,50.8 L294.4,51.2 L295.6,51.5 L296.7,51.5 L297.9,51 L299.1,50.1 L300.2,49.1 L301.4,47.5 L302.6,45.8 L303.8,44.3 L304.9,43.1 L306.1,42 L307.3,41.1 L308.4,40.4 L309.6,39.8 L310.8,39.3 L311.9,38.8 L313.1,38.4 L314.3,38 L315.4,37.6 L316.6,37.2 L317.8,36.9 L319,36.5 L320.1,36.1 L321.3,35.7 L322.5,35.2 L323.6,34.8 L324.8,34.2 L326,33.7 L327.1,33.2 L328.3,32.7 L329.5,32.2 L330.6,31.8 L331.8,31.3 L333,30.9 L334.2,30.5 L335.3,30 L336.5,29.6 L337.7,29.2 L338.8,28.8 L340,28.3 L341.2,27.9 L342.3,27.5 L343.5,27.1 L344.7,26.7 L345.8,26.3 L347,25.9 L348.2,25.5 L349.4,25.2 L350.5,24.8 L351.7,24.6 L352.9,24.4 L354,24.1 L355.2,23.9 L356.4,23.8 L357.5,23.6 L358.7,23.5 L359.9,23.4 L361,23.4 L362.2,23.4 L363.4,23.6 L364.6,23.8 L365.7,24 L366.9,24.3 L368.1,24.6 L369.2,24.9 L370.4,25.2 L371.6,25.7 L372.7,26.2 L373.9,26.6 L375.1,26.7 L376.3,26.6 L377.4,26.5 L378.6,26.3 L379.8,26.1 L380.9,25.8 L382.1,25.3 L383.3,24.9 L384.4,24.6 L385.6,25.5 L386.8,26.9 L387.9,28.1 L389.1,28.7 L390.3,28.5 L391.5,28.3 L392.6,28.6 L393.8,29.5 L395,30.6 L396.1,31.4 L397.3,32.9 L398.5,34.4 L399.6,35.9 L400.8,37.3 L402,38.6 L403.1,39.9 L404.3,41.1 L405.5,42.3 L406.7,43.4 L407.8,44.5 L409,45.5 L410.2,46.6 L411.3,47.6 L412.5,48.6 L413.7,49.9 L414.8,51.8 L416,54.4 L417.2,57.2 L419.5,62.8 L421.9,69.1 L424.2,74.6 L426.5,84.9 L428.9,99 L431.2,114 L433.6,130.1 L435.9,143.3 L438.2,152.7 L440.6,156.7 L442.9,159 L445.2,160.6 L447.6,161.6 L449.9,162.1 L452.3,162.4 L454.6,162.6" fill="none" stroke="#000" stroke-width="1.0" stroke-linejoin="round"/><g fill="#000" stroke="#000" stroke-width="1.05"><circle cx="267.5" cy="120" r="1.7"/><circle cx="268.7" cy="113.3" r="1.7"/><circle cx="269.8" cy="108.1" r="1.7"/><circle cx="271" cy="102.6" r="1.7"/><circle cx="272.2" cy="94.9" r="1.7"/><circle cx="273.3" cy="88.1" r="1.7"/><circle cx="274.5" cy="80" r="1.7"/><circle cx="275.7" cy="74.3" r="1.7"/><circle cx="276.9" cy="68.8" r="1.7"/><circle cx="278" cy="64.6" r="1.7"/><circle cx="279.2" cy="60.5" r="1.7"/><circle cx="280.4" cy="56.9" r="1.7"/><circle cx="281.5" cy="53.8" r="1.7"/><circle cx="282.7" cy="51.2" r="1.7"/><circle cx="283.9" cy="48.7" r="1.7"/><circle cx="285" cy="47.3" r="1.7"/><circle cx="286.2" cy="46.5" r="1.7"/><circle cx="287.4" cy="46.3" r="1.7"/><circle cx="288.5" cy="46.8" r="1.7"/><circle cx="289.7" cy="47.8" r="1.7"/><circle cx="290.9" cy="48.7" r="1.7"/><circle cx="292.1" cy="49.9" r="1.7"/><circle cx="293.2" cy="50.8" r="1.7"/><circle cx="294.4" cy="51.2" r="1.7"/><circle cx="295.6" cy="51.5" r="1.7"/><circle cx="296.7" cy="51.5" r="1.7"/><circle cx="297.9" cy="51" r="1.7"/><circle cx="299.1" cy="50.1" r="1.7"/><circle cx="300.2" cy="49.1" r="1.7"/><circle cx="301.4" cy="47.5" r="1.7"/><circle cx="302.6" cy="45.8" r="1.7"/><circle cx="303.8" cy="44.3" r="1.7"/><circle cx="304.9" cy="43.1" r="1.7"/><circle cx="306.1" cy="42" r="1.7"/><circle cx="307.3" cy="41.1" r="1.7"/><circle cx="308.4" cy="40.4" r="1.7"/><circle cx="309.6" cy="39.8" r="1.7"/><circle cx="310.8" cy="39.3" r="1.7"/><circle cx="311.9" cy="38.8" r="1.7"/><circle cx="313.1" cy="38.4" r="1.7"/><circle cx="314.3" cy="38" r="1.7"/><circle cx="315.4" cy="37.6" r="1.7"/><circle cx="316.6" cy="37.2" r="1.7"/><circle cx="317.8" cy="36.9" r="1.7"/><circle cx="319" cy="36.5" r="1.7"/><circle cx="320.1" cy="36.1" r="1.7"/><circle cx="321.3" cy="35.7" r="1.7"/><circle cx="322.5" cy="35.2" r="1.7"/><circle cx="323.6" cy="34.8" r="1.7"/><circle cx="324.8" cy="34.2" r="1.7"/><circle cx="326" cy="33.7" r="1.7"/><circle cx="327.1" cy="33.2" r="1.7"/><circle cx="328.3" cy="32.7" r="1.7"/><circle cx="329.5" cy="32.2" r="1.7"/><circle cx="330.6" cy="31.8" r="1.7"/><circle cx="331.8" cy="31.3" r="1.7"/><circle cx="333" cy="30.9" r="1.7"/><circle cx="334.2" cy="30.5" r="1.7"/><circle cx="335.3" cy="30" r="1.7"/><circle cx="336.5" cy="29.6" r="1.7"/><circle cx="337.7" cy="29.2" r="1.7"/><circle cx="338.8" cy="28.8" r="1.7"/><circle cx="340" cy="28.3" r="1.7"/><circle cx="341.2" cy="27.9" r="1.7"/><circle cx="342.3" cy="27.5" r="1.7"/><circle cx="343.5" cy="27.1" r="1.7"/><circle cx="344.7" cy="26.7" r="1.7"/><circle cx="345.8" cy="26.3" r="1.7"/><circle cx="347" cy="25.9" r="1.7"/><circle cx="348.2" cy="25.5" r="1.7"/><circle cx="349.4" cy="25.2" r="1.7"/><circle cx="350.5" cy="24.8" r="1.7"/><circle cx="351.7" cy="24.6" r="1.7"/><circle cx="352.9" cy="24.4" r="1.7"/><circle cx="354" cy="24.1" r="1.7"/><circle cx="355.2" cy="23.9" r="1.7"/><circle cx="356.4" cy="23.8" r="1.7"/><circle cx="357.5" cy="23.6" r="1.7"/><circle cx="358.7" cy="23.5" r="1.7"/><circle cx="359.9" cy="23.4" r="1.7"/><circle cx="361" cy="23.4" r="1.7"/><circle cx="362.2" cy="23.4" r="1.7"/><circle cx="363.4" cy="23.6" r="1.7"/><circle cx="364.6" cy="23.8" r="1.7"/><circle cx="365.7" cy="24" r="1.7"/><circle cx="366.9" cy="24.3" r="1.7"/><circle cx="368.1" cy="24.6" r="1.7"/><circle cx="369.2" cy="24.9" r="1.7"/><circle cx="370.4" cy="25.2" r="1.7"/><circle cx="371.6" cy="25.7" r="1.7"/><circle cx="372.7" cy="26.2" r="1.7"/><circle cx="373.9" cy="26.6" r="1.7"/><circle cx="375.1" cy="26.7" r="1.7"/><circle cx="376.3" cy="26.6" r="1.7"/><circle cx="377.4" cy="26.5" r="1.7"/><circle cx="378.6" cy="26.3" r="1.7"/><circle cx="379.8" cy="26.1" r="1.7"/><circle cx="380.9" cy="25.8" r="1.7"/><circle cx="382.1" cy="25.3" r="1.7"/><circle cx="383.3" cy="24.9" r="1.7"/><circle cx="384.4" cy="24.6" r="1.7"/><circle cx="385.6" cy="25.5" r="1.7"/><circle cx="386.8" cy="26.9" r="1.7"/><circle cx="387.9" cy="28.1" r="1.7"/><circle cx="389.1" cy="28.7" r="1.7"/><circle cx="390.3" cy="28.5" r="1.7"/><circle cx="391.5" cy="28.3" r="1.7"/><circle cx="392.6" cy="28.6" r="1.7"/><circle cx="393.8" cy="29.5" r="1.7"/><circle cx="395" cy="30.6" r="1.7"/><circle cx="396.1" cy="31.4" r="1.7"/><circle cx="397.3" cy="32.9" r="1.7"/><circle cx="398.5" cy="34.4" r="1.7"/><circle cx="399.6" cy="35.9" r="1.7"/><circle cx="400.8" cy="37.3" r="1.7"/><circle cx="402" cy="38.6" r="1.7"/><circle cx="403.1" cy="39.9" r="1.7"/><circle cx="404.3" cy="41.1" r="1.7"/><circle cx="405.5" cy="42.3" r="1.7"/><circle cx="406.7" cy="43.4" r="1.7"/><circle cx="407.8" cy="44.5" r="1.7"/><circle cx="409" cy="45.5" r="1.7"/><circle cx="410.2" cy="46.6" r="1.7"/><circle cx="411.3" cy="47.6" r="1.7"/><circle cx="412.5" cy="48.6" r="1.7"/><circle cx="413.7" cy="49.9" r="1.7"/><circle cx="414.8" cy="51.8" r="1.7"/><circle cx="416" cy="54.4" r="1.7"/><circle cx="417.2" cy="57.2" r="1.7"/><circle cx="419.5" cy="62.8" r="1.7"/><circle cx="421.9" cy="69.1" r="1.7"/><circle cx="424.2" cy="74.6" r="1.7"/><circle cx="426.5" cy="84.9" r="1.7"/><circle cx="428.9" cy="99" r="1.7"/><circle cx="431.2" cy="114" r="1.7"/><circle cx="433.6" cy="130.1" r="1.7"/><circle cx="435.9" cy="143.3" r="1.7"/><circle cx="438.2" cy="152.7" r="1.7"/><circle cx="440.6" cy="156.7" r="1.7"/><circle cx="442.9" cy="159" r="1.7"/><circle cx="445.2" cy="160.6" r="1.7"/><circle cx="447.6" cy="161.6" r="1.7"/><circle cx="449.9" cy="162.1" r="1.7"/><circle cx="452.3" cy="162.4" r="1.7"/><circle cx="454.6" cy="162.6" r="1.7"/></g><path d="M267.5,108.4 L268.7,103.6 L269.8,100.3 L271,96.6 L272.2,90.8 L273.3,84.7 L274.5,77.4 L275.7,72.5 L276.9,67.7 L278,63.6 L279.2,59.4 L280.4,55.9 L281.5,52.8 L282.7,50.1 L283.9,47.6 L285,46.2 L286.2,45.4 L287.4,45.2 L288.5,45.8 L289.7,46.7 L290.9,47.7 L292.1,48.8 L293.2,49.7 L294.4,50.1 L295.6,50.4 L296.7,50.5 L297.9,50 L299.1,49.1 L300.2,48 L301.4,46.5 L302.6,44.7 L303.8,43.3 L304.9,42.1 L306.1,41 L307.3,40 L308.4,39.3 L309.6,38.7 L310.8,38.2 L311.9,37.8 L313.1,37.3 L314.3,36.9 L315.4,36.5 L316.6,36.2 L317.8,35.8 L319,35.4 L320.1,35.1 L321.3,34.6 L322.5,34.2 L323.6,33.7 L324.8,33.2 L326,32.7 L327.1,32.1 L328.3,31.6 L329.5,31.2 L330.6,30.7 L331.8,30.3 L333,29.8 L334.2,29.4 L335.3,29 L336.5,28.6 L337.7,28.1 L338.8,27.7 L340,27.3 L341.2,26.9 L342.3,26.4 L343.5,26 L344.7,25.6 L345.8,25.2 L347,24.8 L348.2,24.5 L349.4,24.1 L350.5,23.8 L351.7,23.5 L352.9,23.3 L354,23.1 L355.2,22.9 L356.4,22.7 L357.5,22.5 L358.7,22.4 L359.9,22.3 L361,22.3 L362.2,22.4 L363.4,22.5 L364.6,22.7 L365.7,23 L366.9,23.2 L368.1,23.5 L369.2,23.8 L370.4,24.2 L371.6,24.7 L372.7,25.1 L373.9,25.5 L375.1,25.6 L376.3,25.6 L377.4,25.4 L378.6,25.2 L379.8,25 L380.9,24.7 L382.1,24.3 L383.3,23.8 L384.4,23.5 L385.6,23.6 L386.8,24.2 L387.9,24.8 L389.1,25 L390.3,24.7 L391.5,24.6 L392.6,25.4 L393.8,26.9 L395,28.7 L396.1,30.3 L397.3,31.8 L398.5,33.3 L399.6,34.8 L400.8,36.2 L402,37.5 L403.1,38.8 L404.3,38.9 L405.5,39.2 L406.7,40.1 L407.8,41.4 L409,43.3 L410.2,45.6 L411.3,46.5 L412.5,47.5 L413.7,48.8 L414.8,50.7 L416,53.3 L417.2,56.1 L419.5,61.8 L421.9,68.1 L424.2,76.1 L426.5,87.1 L428.9,101.3 L431.2,116.7 L433.6,132.3 L435.9,145.4 L438.2,153.7 L440.6,157.3 L442.9,159.5 L445.2,161 L447.6,161.8 L449.9,162.3 L452.3,162.6 L454.6,162.7" fill="none" stroke="#0000ff" stroke-width="1.0" stroke-linejoin="round"/><g fill="#0000ff" stroke="#0000ff" stroke-width="1.05"><circle cx="267.5" cy="108.4" r="1.7"/><circle cx="268.7" cy="103.6" r="1.7"/><circle cx="269.8" cy="100.3" r="1.7"/><circle cx="271" cy="96.6" r="1.7"/><circle cx="272.2" cy="90.8" r="1.7"/><circle cx="273.3" cy="84.7" r="1.7"/><circle cx="274.5" cy="77.4" r="1.7"/><circle cx="275.7" cy="72.5" r="1.7"/><circle cx="276.9" cy="67.7" r="1.7"/><circle cx="278" cy="63.6" r="1.7"/><circle cx="279.2" cy="59.4" r="1.7"/><circle cx="280.4" cy="55.9" r="1.7"/><circle cx="281.5" cy="52.8" r="1.7"/><circle cx="282.7" cy="50.1" r="1.7"/><circle cx="283.9" cy="47.6" r="1.7"/><circle cx="285" cy="46.2" r="1.7"/><circle cx="286.2" cy="45.4" r="1.7"/><circle cx="287.4" cy="45.2" r="1.7"/><circle cx="288.5" cy="45.8" r="1.7"/><circle cx="289.7" cy="46.7" r="1.7"/><circle cx="290.9" cy="47.7" r="1.7"/><circle cx="292.1" cy="48.8" r="1.7"/><circle cx="293.2" cy="49.7" r="1.7"/><circle cx="294.4" cy="50.1" r="1.7"/><circle cx="295.6" cy="50.4" r="1.7"/><circle cx="296.7" cy="50.5" r="1.7"/><circle cx="297.9" cy="50" r="1.7"/><circle cx="299.1" cy="49.1" r="1.7"/><circle cx="300.2" cy="48" r="1.7"/><circle cx="301.4" cy="46.5" r="1.7"/><circle cx="302.6" cy="44.7" r="1.7"/><circle cx="303.8" cy="43.3" r="1.7"/><circle cx="304.9" cy="42.1" r="1.7"/><circle cx="306.1" cy="41" r="1.7"/><circle cx="307.3" cy="40" r="1.7"/><circle cx="308.4" cy="39.3" r="1.7"/><circle cx="309.6" cy="38.7" r="1.7"/><circle cx="310.8" cy="38.2" r="1.7"/><circle cx="311.9" cy="37.8" r="1.7"/><circle cx="313.1" cy="37.3" r="1.7"/><circle cx="314.3" cy="36.9" r="1.7"/><circle cx="315.4" cy="36.5" r="1.7"/><circle cx="316.6" cy="36.2" r="1.7"/><circle cx="317.8" cy="35.8" r="1.7"/><circle cx="319" cy="35.4" r="1.7"/><circle cx="320.1" cy="35.1" r="1.7"/><circle cx="321.3" cy="34.6" r="1.7"/><circle cx="322.5" cy="34.2" r="1.7"/><circle cx="323.6" cy="33.7" r="1.7"/><circle cx="324.8" cy="33.2" r="1.7"/><circle cx="326" cy="32.7" r="1.7"/><circle cx="327.1" cy="32.1" r="1.7"/><circle cx="328.3" cy="31.6" r="1.7"/><circle cx="329.5" cy="31.2" r="1.7"/><circle cx="330.6" cy="30.7" r="1.7"/><circle cx="331.8" cy="30.3" r="1.7"/><circle cx="333" cy="29.8" r="1.7"/><circle cx="334.2" cy="29.4" r="1.7"/><circle cx="335.3" cy="29" r="1.7"/><circle cx="336.5" cy="28.6" r="1.7"/><circle cx="337.7" cy="28.1" r="1.7"/><circle cx="338.8" cy="27.7" r="1.7"/><circle cx="340" cy="27.3" r="1.7"/><circle cx="341.2" cy="26.9" r="1.7"/><circle cx="342.3" cy="26.4" r="1.7"/><circle cx="343.5" cy="26" r="1.7"/><circle cx="344.7" cy="25.6" r="1.7"/><circle cx="345.8" cy="25.2" r="1.7"/><circle cx="347" cy="24.8" r="1.7"/><circle cx="348.2" cy="24.5" r="1.7"/><circle cx="349.4" cy="24.1" r="1.7"/><circle cx="350.5" cy="23.8" r="1.7"/><circle cx="351.7" cy="23.5" r="1.7"/><circle cx="352.9" cy="23.3" r="1.7"/><circle cx="354" cy="23.1" r="1.7"/><circle cx="355.2" cy="22.9" r="1.7"/><circle cx="356.4" cy="22.7" r="1.7"/><circle cx="357.5" cy="22.5" r="1.7"/><circle cx="358.7" cy="22.4" r="1.7"/><circle cx="359.9" cy="22.3" r="1.7"/><circle cx="361" cy="22.3" r="1.7"/><circle cx="362.2" cy="22.4" r="1.7"/><circle cx="363.4" cy="22.5" r="1.7"/><circle cx="364.6" cy="22.7" r="1.7"/><circle cx="365.7" cy="23" r="1.7"/><circle cx="366.9" cy="23.2" r="1.7"/><circle cx="368.1" cy="23.5" r="1.7"/><circle cx="369.2" cy="23.8" r="1.7"/><circle cx="370.4" cy="24.2" r="1.7"/><circle cx="371.6" cy="24.7" r="1.7"/><circle cx="372.7" cy="25.1" r="1.7"/><circle cx="373.9" cy="25.5" r="1.7"/><circle cx="375.1" cy="25.6" r="1.7"/><circle cx="376.3" cy="25.6" r="1.7"/><circle cx="377.4" cy="25.4" r="1.7"/><circle cx="378.6" cy="25.2" r="1.7"/><circle cx="379.8" cy="25" r="1.7"/><circle cx="380.9" cy="24.7" r="1.7"/><circle cx="382.1" cy="24.3" r="1.7"/><circle cx="383.3" cy="23.8" r="1.7"/><circle cx="384.4" cy="23.5" r="1.7"/><circle cx="385.6" cy="23.6" r="1.7"/><circle cx="386.8" cy="24.2" r="1.7"/><circle cx="387.9" cy="24.8" r="1.7"/><circle cx="389.1" cy="25" r="1.7"/><circle cx="390.3" cy="24.7" r="1.7"/><circle cx="391.5" cy="24.6" r="1.7"/><circle cx="392.6" cy="25.4" r="1.7"/><circle cx="393.8" cy="26.9" r="1.7"/><circle cx="395" cy="28.7" r="1.7"/><circle cx="396.1" cy="30.3" r="1.7"/><circle cx="397.3" cy="31.8" r="1.7"/><circle cx="398.5" cy="33.3" r="1.7"/><circle cx="399.6" cy="34.8" r="1.7"/><circle cx="400.8" cy="36.2" r="1.7"/><circle cx="402" cy="37.5" r="1.7"/><circle cx="403.1" cy="38.8" r="1.7"/><circle cx="404.3" cy="38.9" r="1.7"/><circle cx="405.5" cy="39.2" r="1.7"/><circle cx="406.7" cy="40.1" r="1.7"/><circle cx="407.8" cy="41.4" r="1.7"/><circle cx="409" cy="43.3" r="1.7"/><circle cx="410.2" cy="45.6" r="1.7"/><circle cx="411.3" cy="46.5" r="1.7"/><circle cx="412.5" cy="47.5" r="1.7"/><circle cx="413.7" cy="48.8" r="1.7"/><circle cx="414.8" cy="50.7" r="1.7"/><circle cx="416" cy="53.3" r="1.7"/><circle cx="417.2" cy="56.1" r="1.7"/><circle cx="419.5" cy="61.8" r="1.7"/><circle cx="421.9" cy="68.1" r="1.7"/><circle cx="424.2" cy="76.1" r="1.7"/><circle cx="426.5" cy="87.1" r="1.7"/><circle cx="428.9" cy="101.3" r="1.7"/><circle cx="431.2" cy="116.7" r="1.7"/><circle cx="433.6" cy="132.3" r="1.7"/><circle cx="435.9" cy="145.4" r="1.7"/><circle cx="438.2" cy="153.7" r="1.7"/><circle cx="440.6" cy="157.3" r="1.7"/><circle cx="442.9" cy="159.5" r="1.7"/><circle cx="445.2" cy="161" r="1.7"/><circle cx="447.6" cy="161.8" r="1.7"/><circle cx="449.9" cy="162.3" r="1.7"/><circle cx="452.3" cy="162.6" r="1.7"/><circle cx="454.6" cy="162.7" r="1.7"/></g><path d="M267.5,112.9 L268.7,107 L269.8,102.5 L271,97.7 L272.2,90.8 L273.3,84.7 L274.5,77.4 L275.7,72.5 L276.9,67.7 L278,63.6 L279.2,59.4 L280.4,55.9 L281.5,52.8 L282.7,50.1 L283.9,47.6 L285,46.2 L286.2,45.4 L287.4,45.2 L288.5,45.8 L289.7,46.7 L290.9,47.7 L292.1,48.8 L293.2,49.7 L294.4,50.1 L295.6,50.4 L296.7,50.5 L297.9,50 L299.1,49.1 L300.2,48 L301.4,46.5 L302.6,44.7 L303.8,43.3 L304.9,42.1 L306.1,41 L307.3,40 L308.4,39.3 L309.6,38.7 L310.8,38.2 L311.9,37.8 L313.1,37.3 L314.3,36.9 L315.4,36.5 L316.6,36.2 L317.8,35.8 L319,35.4 L320.1,35.1 L321.3,34.6 L322.5,34.2 L323.6,33.7 L324.8,33.2 L326,32.7 L327.1,32.1 L328.3,31.6 L329.5,31.2 L330.6,30.7 L331.8,30.3 L333,29.8 L334.2,29.4 L335.3,29 L336.5,28.6 L337.7,28.1 L338.8,27.7 L340,27.3 L341.2,26.9 L342.3,26.4 L343.5,26 L344.7,25.6 L345.8,25.2 L347,24.8 L348.2,24.5 L349.4,24.1 L350.5,23.8 L351.7,23.5 L352.9,23.3 L354,23.1 L355.2,22.9 L356.4,22.7 L357.5,22.5 L358.7,22.4 L359.9,22.3 L361,22.3 L362.2,22.4 L363.4,22.5 L364.6,22.7 L365.7,23 L366.9,23.2 L368.1,23.5 L369.2,23.8 L370.4,24.2 L371.6,24.7 L372.7,25.1 L373.9,25.5 L375.1,25.6 L376.3,25.6 L377.4,25.4 L378.6,25.2 L379.8,25 L380.9,24.7 L382.1,24.3 L383.3,23.8 L384.4,23.5 L385.6,23.6 L386.8,24.2 L387.9,24.8 L389.1,25 L390.3,24.7 L391.5,24.6 L392.6,25.4 L393.8,26.9 L395,28.7 L396.1,30.3 L397.3,31.8 L398.5,33.3 L399.6,35.4 L400.8,37.4 L402,39.3 L403.1,41 L404.3,42.7 L405.5,44.3 L406.7,45.7 L407.8,47.1 L409,48.3 L410.2,49.5 L411.3,50.5 L412.5,51.4 L413.7,52.5 L414.8,54.2 L416,56.4 L417.2,58.8 L419.5,63.5 L421.9,68.7 L424.2,76.1 L426.5,87.1 L428.9,101.3 L431.2,116.7 L433.6,132.3 L435.9,145.4 L438.2,153.7 L440.6,157.3 L442.9,159.5 L445.2,161 L447.6,161.8 L449.9,162.3 L452.3,162.6 L454.6,162.7" fill="none" stroke="#2a8c2a" stroke-width="1.0" stroke-linejoin="round"/><g fill="#2a8c2a" stroke="#2a8c2a" stroke-width="1.05"><circle cx="267.5" cy="112.9" r="1.7"/><circle cx="268.7" cy="107" r="1.7"/><circle cx="269.8" cy="102.5" r="1.7"/><circle cx="271" cy="97.7" r="1.7"/><circle cx="272.2" cy="90.8" r="1.7"/><circle cx="273.3" cy="84.7" r="1.7"/><circle cx="274.5" cy="77.4" r="1.7"/><circle cx="275.7" cy="72.5" r="1.7"/><circle cx="276.9" cy="67.7" r="1.7"/><circle cx="278" cy="63.6" r="1.7"/><circle cx="279.2" cy="59.4" r="1.7"/><circle cx="280.4" cy="55.9" r="1.7"/><circle cx="281.5" cy="52.8" r="1.7"/><circle cx="282.7" cy="50.1" r="1.7"/><circle cx="283.9" cy="47.6" r="1.7"/><circle cx="285" cy="46.2" r="1.7"/><circle cx="286.2" cy="45.4" r="1.7"/><circle cx="287.4" cy="45.2" r="1.7"/><circle cx="288.5" cy="45.8" r="1.7"/><circle cx="289.7" cy="46.7" r="1.7"/><circle cx="290.9" cy="47.7" r="1.7"/><circle cx="292.1" cy="48.8" r="1.7"/><circle cx="293.2" cy="49.7" r="1.7"/><circle cx="294.4" cy="50.1" r="1.7"/><circle cx="295.6" cy="50.4" r="1.7"/><circle cx="296.7" cy="50.5" r="1.7"/><circle cx="297.9" cy="50" r="1.7"/><circle cx="299.1" cy="49.1" r="1.7"/><circle cx="300.2" cy="48" r="1.7"/><circle cx="301.4" cy="46.5" r="1.7"/><circle cx="302.6" cy="44.7" r="1.7"/><circle cx="303.8" cy="43.3" r="1.7"/><circle cx="304.9" cy="42.1" r="1.7"/><circle cx="306.1" cy="41" r="1.7"/><circle cx="307.3" cy="40" r="1.7"/><circle cx="308.4" cy="39.3" r="1.7"/><circle cx="309.6" cy="38.7" r="1.7"/><circle cx="310.8" cy="38.2" r="1.7"/><circle cx="311.9" cy="37.8" r="1.7"/><circle cx="313.1" cy="37.3" r="1.7"/><circle cx="314.3" cy="36.9" r="1.7"/><circle cx="315.4" cy="36.5" r="1.7"/><circle cx="316.6" cy="36.2" r="1.7"/><circle cx="317.8" cy="35.8" r="1.7"/><circle cx="319" cy="35.4" r="1.7"/><circle cx="320.1" cy="35.1" r="1.7"/><circle cx="321.3" cy="34.6" r="1.7"/><circle cx="322.5" cy="34.2" r="1.7"/><circle cx="323.6" cy="33.7" r="1.7"/><circle cx="324.8" cy="33.2" r="1.7"/><circle cx="326" cy="32.7" r="1.7"/><circle cx="327.1" cy="32.1" r="1.7"/><circle cx="328.3" cy="31.6" r="1.7"/><circle cx="329.5" cy="31.2" r="1.7"/><circle cx="330.6" cy="30.7" r="1.7"/><circle cx="331.8" cy="30.3" r="1.7"/><circle cx="333" cy="29.8" r="1.7"/><circle cx="334.2" cy="29.4" r="1.7"/><circle cx="335.3" cy="29" r="1.7"/><circle cx="336.5" cy="28.6" r="1.7"/><circle cx="337.7" cy="28.1" r="1.7"/><circle cx="338.8" cy="27.7" r="1.7"/><circle cx="340" cy="27.3" r="1.7"/><circle cx="341.2" cy="26.9" r="1.7"/><circle cx="342.3" cy="26.4" r="1.7"/><circle cx="343.5" cy="26" r="1.7"/><circle cx="344.7" cy="25.6" r="1.7"/><circle cx="345.8" cy="25.2" r="1.7"/><circle cx="347" cy="24.8" r="1.7"/><circle cx="348.2" cy="24.5" r="1.7"/><circle cx="349.4" cy="24.1" r="1.7"/><circle cx="350.5" cy="23.8" r="1.7"/><circle cx="351.7" cy="23.5" r="1.7"/><circle cx="352.9" cy="23.3" r="1.7"/><circle cx="354" cy="23.1" r="1.7"/><circle cx="355.2" cy="22.9" r="1.7"/><circle cx="356.4" cy="22.7" r="1.7"/><circle cx="357.5" cy="22.5" r="1.7"/><circle cx="358.7" cy="22.4" r="1.7"/><circle cx="359.9" cy="22.3" r="1.7"/><circle cx="361" cy="22.3" r="1.7"/><circle cx="362.2" cy="22.4" r="1.7"/><circle cx="363.4" cy="22.5" r="1.7"/><circle cx="364.6" cy="22.7" r="1.7"/><circle cx="365.7" cy="23" r="1.7"/><circle cx="366.9" cy="23.2" r="1.7"/><circle cx="368.1" cy="23.5" r="1.7"/><circle cx="369.2" cy="23.8" r="1.7"/><circle cx="370.4" cy="24.2" r="1.7"/><circle cx="371.6" cy="24.7" r="1.7"/><circle cx="372.7" cy="25.1" r="1.7"/><circle cx="373.9" cy="25.5" r="1.7"/><circle cx="375.1" cy="25.6" r="1.7"/><circle cx="376.3" cy="25.6" r="1.7"/><circle cx="377.4" cy="25.4" r="1.7"/><circle cx="378.6" cy="25.2" r="1.7"/><circle cx="379.8" cy="25" r="1.7"/><circle cx="380.9" cy="24.7" r="1.7"/><circle cx="382.1" cy="24.3" r="1.7"/><circle cx="383.3" cy="23.8" r="1.7"/><circle cx="384.4" cy="23.5" r="1.7"/><circle cx="385.6" cy="23.6" r="1.7"/><circle cx="386.8" cy="24.2" r="1.7"/><circle cx="387.9" cy="24.8" r="1.7"/><circle cx="389.1" cy="25" r="1.7"/><circle cx="390.3" cy="24.7" r="1.7"/><circle cx="391.5" cy="24.6" r="1.7"/><circle cx="392.6" cy="25.4" r="1.7"/><circle cx="393.8" cy="26.9" r="1.7"/><circle cx="395" cy="28.7" r="1.7"/><circle cx="396.1" cy="30.3" r="1.7"/><circle cx="397.3" cy="31.8" r="1.7"/><circle cx="398.5" cy="33.3" r="1.7"/><circle cx="399.6" cy="35.4" r="1.7"/><circle cx="400.8" cy="37.4" r="1.7"/><circle cx="402" cy="39.3" r="1.7"/><circle cx="403.1" cy="41" r="1.7"/><circle cx="404.3" cy="42.7" r="1.7"/><circle cx="405.5" cy="44.3" r="1.7"/><circle cx="406.7" cy="45.7" r="1.7"/><circle cx="407.8" cy="47.1" r="1.7"/><circle cx="409" cy="48.3" r="1.7"/><circle cx="410.2" cy="49.5" r="1.7"/><circle cx="411.3" cy="50.5" r="1.7"/><circle cx="412.5" cy="51.4" r="1.7"/><circle cx="413.7" cy="52.5" r="1.7"/><circle cx="414.8" cy="54.2" r="1.7"/><circle cx="416" cy="56.4" r="1.7"/><circle cx="417.2" cy="58.8" r="1.7"/><circle cx="419.5" cy="63.5" r="1.7"/><circle cx="421.9" cy="68.7" r="1.7"/><circle cx="424.2" cy="76.1" r="1.7"/><circle cx="426.5" cy="87.1" r="1.7"/><circle cx="428.9" cy="101.3" r="1.7"/><circle cx="431.2" cy="116.7" r="1.7"/><circle cx="433.6" cy="132.3" r="1.7"/><circle cx="435.9" cy="145.4" r="1.7"/><circle cx="438.2" cy="153.7" r="1.7"/><circle cx="440.6" cy="157.3" r="1.7"/><circle cx="442.9" cy="159.5" r="1.7"/><circle cx="445.2" cy="161" r="1.7"/><circle cx="447.6" cy="161.8" r="1.7"/><circle cx="449.9" cy="162.3" r="1.7"/><circle cx="452.3" cy="162.6" r="1.7"/><circle cx="454.6" cy="162.7" r="1.7"/></g><path d="M267.5,112.5 L268.7,106.5 L269.8,102.1 L271,97.3 L272.2,90.3 L273.3,84.3 L274.5,77 L275.7,72 L276.9,67.3 L278,63.1 L279.2,59 L280.4,55.4 L281.5,52.3 L282.7,49.6 L283.9,47.2 L285,45.8 L286.2,45 L287.4,44.8 L288.5,45.3 L289.7,46.3 L290.9,47.2 L292.1,48.4 L293.2,49.3 L294.4,49.7 L295.6,50 L296.7,50 L297.9,49.5 L299.1,48.6 L300.2,47.5 L301.4,46 L302.6,44.3 L303.8,42.8 L304.9,41.6 L306.1,40.5 L307.3,39.6 L308.4,38.8 L309.6,38.3 L310.8,37.7 L311.9,37.3 L313.1,36.9 L314.3,36.5 L315.4,36.1 L316.6,35.7 L317.8,35.3 L319,35 L320.1,34.6 L321.3,34.2 L322.5,33.7 L323.6,33.2 L324.8,32.7 L326,32.2 L327.1,31.7 L328.3,31.2 L329.5,30.7 L330.6,30.2 L331.8,29.8 L333,29.4 L334.2,28.9 L335.3,28.5 L336.5,28.1 L337.7,27.7 L338.8,27.3 L340,26.8 L341.2,26.4 L342.3,26 L343.5,25.6 L344.7,25.2 L345.8,24.8 L347,24.4 L348.2,24 L349.4,23.6 L350.5,23.3 L351.7,23.1 L352.9,22.8 L354,22.6 L355.2,22.4 L356.4,22.2 L357.5,22.1 L358.7,22 L359.9,21.9 L361,21.9 L362.2,21.9 L363.4,22 L364.6,22.2 L365.7,22.5 L366.9,22.8 L368.1,23.1 L369.2,23.4 L370.4,23.7 L371.6,24.2 L372.7,24.7 L373.9,25 L375.1,25.2 L376.3,25.1 L377.4,25 L378.6,24.8 L379.8,24.6 L380.9,24.3 L382.1,23.8 L383.3,23.4 L384.4,23.1 L385.6,23.2 L386.8,23.8 L387.9,24.4 L389.1,24.6 L390.3,24.3 L391.5,24.2 L392.6,24.9 L393.8,26.4 L395,28.2 L396.1,29.9 L397.3,31.4 L398.5,32.9 L399.6,34.4 L400.8,35.8 L402,37.1 L403.1,38.4 L404.3,39.6 L405.5,40.8 L406.7,41.9 L407.8,43 L409,44 L410.2,45.1 L411.3,46.1 L412.5,47.1 L413.7,48.4 L414.8,50.3 L416,52.8 L417.2,55.7 L419.5,61.3 L421.9,67.6 L424.2,75.7 L426.5,86.6 L428.9,100.8 L431.2,116.3 L433.6,131.8 L435.9,145 L438.2,153.2 L440.6,156.8 L442.9,159 L445.2,160.5 L447.6,161.4 L449.9,161.8 L452.3,162.1 L454.6,162.3" fill="none" stroke="#ff0000" stroke-width="1.0" stroke-linejoin="round"/><g fill="#ffd8d8" stroke="#ff0000" stroke-width="1.05"><circle cx="267.5" cy="112.5" r="1.7"/><circle cx="268.7" cy="106.5" r="1.7"/><circle cx="269.8" cy="102.1" r="1.7"/><circle cx="271" cy="97.3" r="1.7"/><circle cx="272.2" cy="90.3" r="1.7"/><circle cx="273.3" cy="84.3" r="1.7"/><circle cx="274.5" cy="77" r="1.7"/><circle cx="275.7" cy="72" r="1.7"/><circle cx="276.9" cy="67.3" r="1.7"/><circle cx="278" cy="63.1" r="1.7"/><circle cx="279.2" cy="59" r="1.7"/><circle cx="280.4" cy="55.4" r="1.7"/><circle cx="281.5" cy="52.3" r="1.7"/><circle cx="282.7" cy="49.6" r="1.7"/><circle cx="283.9" cy="47.2" r="1.7"/><circle cx="285" cy="45.8" r="1.7"/><circle cx="286.2" cy="45" r="1.7"/><circle cx="287.4" cy="44.8" r="1.7"/><circle cx="288.5" cy="45.3" r="1.7"/><circle cx="289.7" cy="46.3" r="1.7"/><circle cx="290.9" cy="47.2" r="1.7"/><circle cx="292.1" cy="48.4" r="1.7"/><circle cx="293.2" cy="49.3" r="1.7"/><circle cx="294.4" cy="49.7" r="1.7"/><circle cx="295.6" cy="50" r="1.7"/><circle cx="296.7" cy="50" r="1.7"/><circle cx="297.9" cy="49.5" r="1.7"/><circle cx="299.1" cy="48.6" r="1.7"/><circle cx="300.2" cy="47.5" r="1.7"/><circle cx="301.4" cy="46" r="1.7"/><circle cx="302.6" cy="44.3" r="1.7"/><circle cx="303.8" cy="42.8" r="1.7"/><circle cx="304.9" cy="41.6" r="1.7"/><circle cx="306.1" cy="40.5" r="1.7"/><circle cx="307.3" cy="39.6" r="1.7"/><circle cx="308.4" cy="38.8" r="1.7"/><circle cx="309.6" cy="38.3" r="1.7"/><circle cx="310.8" cy="37.7" r="1.7"/><circle cx="311.9" cy="37.3" r="1.7"/><circle cx="313.1" cy="36.9" r="1.7"/><circle cx="314.3" cy="36.5" r="1.7"/><circle cx="315.4" cy="36.1" r="1.7"/><circle cx="316.6" cy="35.7" r="1.7"/><circle cx="317.8" cy="35.3" r="1.7"/><circle cx="319" cy="35" r="1.7"/><circle cx="320.1" cy="34.6" r="1.7"/><circle cx="321.3" cy="34.2" r="1.7"/><circle cx="322.5" cy="33.7" r="1.7"/><circle cx="323.6" cy="33.2" r="1.7"/><circle cx="324.8" cy="32.7" r="1.7"/><circle cx="326" cy="32.2" r="1.7"/><circle cx="327.1" cy="31.7" r="1.7"/><circle cx="328.3" cy="31.2" r="1.7"/><circle cx="329.5" cy="30.7" r="1.7"/><circle cx="330.6" cy="30.2" r="1.7"/><circle cx="331.8" cy="29.8" r="1.7"/><circle cx="333" cy="29.4" r="1.7"/><circle cx="334.2" cy="28.9" r="1.7"/><circle cx="335.3" cy="28.5" r="1.7"/><circle cx="336.5" cy="28.1" r="1.7"/><circle cx="337.7" cy="27.7" r="1.7"/><circle cx="338.8" cy="27.3" r="1.7"/><circle cx="340" cy="26.8" r="1.7"/><circle cx="341.2" cy="26.4" r="1.7"/><circle cx="342.3" cy="26" r="1.7"/><circle cx="343.5" cy="25.6" r="1.7"/><circle cx="344.7" cy="25.2" r="1.7"/><circle cx="345.8" cy="24.8" r="1.7"/><circle cx="347" cy="24.4" r="1.7"/><circle cx="348.2" cy="24" r="1.7"/><circle cx="349.4" cy="23.6" r="1.7"/><circle cx="350.5" cy="23.3" r="1.7"/><circle cx="351.7" cy="23.1" r="1.7"/><circle cx="352.9" cy="22.8" r="1.7"/><circle cx="354" cy="22.6" r="1.7"/><circle cx="355.2" cy="22.4" r="1.7"/><circle cx="356.4" cy="22.2" r="1.7"/><circle cx="357.5" cy="22.1" r="1.7"/><circle cx="358.7" cy="22" r="1.7"/><circle cx="359.9" cy="21.9" r="1.7"/><circle cx="361" cy="21.9" r="1.7"/><circle cx="362.2" cy="21.9" r="1.7"/><circle cx="363.4" cy="22" r="1.7"/><circle cx="364.6" cy="22.2" r="1.7"/><circle cx="365.7" cy="22.5" r="1.7"/><circle cx="366.9" cy="22.8" r="1.7"/><circle cx="368.1" cy="23.1" r="1.7"/><circle cx="369.2" cy="23.4" r="1.7"/><circle cx="370.4" cy="23.7" r="1.7"/><circle cx="371.6" cy="24.2" r="1.7"/><circle cx="372.7" cy="24.7" r="1.7"/><circle cx="373.9" cy="25" r="1.7"/><circle cx="375.1" cy="25.2" r="1.7"/><circle cx="376.3" cy="25.1" r="1.7"/><circle cx="377.4" cy="25" r="1.7"/><circle cx="378.6" cy="24.8" r="1.7"/><circle cx="379.8" cy="24.6" r="1.7"/><circle cx="380.9" cy="24.3" r="1.7"/><circle cx="382.1" cy="23.8" r="1.7"/><circle cx="383.3" cy="23.4" r="1.7"/><circle cx="384.4" cy="23.1" r="1.7"/><circle cx="385.6" cy="23.2" r="1.7"/><circle cx="386.8" cy="23.8" r="1.7"/><circle cx="387.9" cy="24.4" r="1.7"/><circle cx="389.1" cy="24.6" r="1.7"/><circle cx="390.3" cy="24.3" r="1.7"/><circle cx="391.5" cy="24.2" r="1.7"/><circle cx="392.6" cy="24.9" r="1.7"/><circle cx="393.8" cy="26.4" r="1.7"/><circle cx="395" cy="28.2" r="1.7"/><circle cx="396.1" cy="29.9" r="1.7"/><circle cx="397.3" cy="31.4" r="1.7"/><circle cx="398.5" cy="32.9" r="1.7"/><circle cx="399.6" cy="34.4" r="1.7"/><circle cx="400.8" cy="35.8" r="1.7"/><circle cx="402" cy="37.1" r="1.7"/><circle cx="403.1" cy="38.4" r="1.7"/><circle cx="404.3" cy="39.6" r="1.7"/><circle cx="405.5" cy="40.8" r="1.7"/><circle cx="406.7" cy="41.9" r="1.7"/><circle cx="407.8" cy="43" r="1.7"/><circle cx="409" cy="44" r="1.7"/><circle cx="410.2" cy="45.1" r="1.7"/><circle cx="411.3" cy="46.1" r="1.7"/><circle cx="412.5" cy="47.1" r="1.7"/><circle cx="413.7" cy="48.4" r="1.7"/><circle cx="414.8" cy="50.3" r="1.7"/><circle cx="416" cy="52.8" r="1.7"/><circle cx="417.2" cy="55.7" r="1.7"/><circle cx="419.5" cy="61.3" r="1.7"/><circle cx="421.9" cy="67.6" r="1.7"/><circle cx="424.2" cy="75.7" r="1.7"/><circle cx="426.5" cy="86.6" r="1.7"/><circle cx="428.9" cy="100.8" r="1.7"/><circle cx="431.2" cy="116.3" r="1.7"/><circle cx="433.6" cy="131.8" r="1.7"/><circle cx="435.9" cy="145" r="1.7"/><circle cx="438.2" cy="153.2" r="1.7"/><circle cx="440.6" cy="156.8" r="1.7"/><circle cx="442.9" cy="159" r="1.7"/><circle cx="445.2" cy="160.5" r="1.7"/><circle cx="447.6" cy="161.4" r="1.7"/><circle cx="449.9" cy="161.8" r="1.7"/><circle cx="452.3" cy="162.1" r="1.7"/><circle cx="454.6" cy="162.3" r="1.7"/></g><rect x="267.5" y="11.4" width="187.5" height="151.5" fill="none" stroke="#1a1a1a" stroke-width="1.35"/><line x1="290.9" y1="162.9" x2="290.9" y2="165.9" stroke="#1a1a1a" stroke-width="1.0"/><line x1="337.7" y1="162.9" x2="337.7" y2="165.9" stroke="#1a1a1a" stroke-width="1.0"/><line x1="384.4" y1="162.9" x2="384.4" y2="165.9" stroke="#1a1a1a" stroke-width="1.0"/><line x1="431.2" y1="162.9" x2="431.2" y2="165.9" stroke="#1a1a1a" stroke-width="1.0"/><line x1="267.5" y1="162.9" x2="267.5" y2="164.7" stroke="#1a1a1a" stroke-width="1.0"/><line x1="314.3" y1="162.9" x2="314.3" y2="164.7" stroke="#1a1a1a" stroke-width="1.0"/><line x1="361" y1="162.9" x2="361" y2="164.7" stroke="#1a1a1a" stroke-width="1.0"/><line x1="407.8" y1="162.9" x2="407.8" y2="164.7" stroke="#1a1a1a" stroke-width="1.0"/><line x1="454.6" y1="162.9" x2="454.6" y2="164.7" stroke="#1a1a1a" stroke-width="1.0"/><text x="290.9" y="176" font-size="10" text-anchor="middle" fill="#000">400</text><text x="337.7" y="176" font-size="10" text-anchor="middle" fill="#000">600</text><text x="384.4" y="176" font-size="10" text-anchor="middle" fill="#000">800</text><text x="431.2" y="176" font-size="10" text-anchor="middle" fill="#000">1000</text><line x1="264.5" y1="162.9" x2="267.5" y2="162.9" stroke="#1a1a1a" stroke-width="1.0"/><line x1="264.5" y1="132.6" x2="267.5" y2="132.6" stroke="#1a1a1a" stroke-width="1.0"/><line x1="264.5" y1="102.3" x2="267.5" y2="102.3" stroke="#1a1a1a" stroke-width="1.0"/><line x1="264.5" y1="72" x2="267.5" y2="72" stroke="#1a1a1a" stroke-width="1.0"/><line x1="264.5" y1="41.7" x2="267.5" y2="41.7" stroke="#1a1a1a" stroke-width="1.0"/><line x1="264.5" y1="11.4" x2="267.5" y2="11.4" stroke="#1a1a1a" stroke-width="1.0"/><line x1="265.7" y1="147.8" x2="267.5" y2="147.8" stroke="#1a1a1a" stroke-width="1.0"/><line x1="265.7" y1="117.5" x2="267.5" y2="117.5" stroke="#1a1a1a" stroke-width="1.0"/><line x1="265.7" y1="87.2" x2="267.5" y2="87.2" stroke="#1a1a1a" stroke-width="1.0"/><line x1="265.7" y1="56.9" x2="267.5" y2="56.9" stroke="#1a1a1a" stroke-width="1.0"/><line x1="265.7" y1="26.6" x2="267.5" y2="26.6" stroke="#1a1a1a" stroke-width="1.0"/><text x="262.8" y="166.5" font-size="10" text-anchor="end" fill="#000">0</text><text x="262.8" y="136.2" font-size="10" text-anchor="end" fill="#000">20</text><text x="262.8" y="105.9" font-size="10" text-anchor="end" fill="#000">40</text><text x="262.8" y="75.6" font-size="10" text-anchor="end" fill="#000">60</text><text x="262.8" y="45.3" font-size="10" text-anchor="end" fill="#000">80</text><text x="262.8" y="15" font-size="10" text-anchor="end" fill="#000">100</text><text x="365.8" y="187" font-size="11.6" text-anchor="middle" fill="#000">Wavelength (nm)</text><text x="0" y="0" transform="translate(245.3,86.6) rotate(-90)" font-size="11.6" text-anchor="middle" fill="#000">EQE (%)</text><line x1="288.7" y1="96.6" x2="306.8" y2="96.6" stroke="#000" stroke-width="1.0"/><g fill="#000" stroke="#000" stroke-width="0.8"><circle cx="297.9" cy="96.6" r="1.5"/></g><text x="309.5" y="100.1" font-size="9.6" text-anchor="start" fill="#000">BT</text><text x="342" y="100.1" font-size="9.6" text-anchor="start" fill="#000">32.07 mA cm<tspan font-size="6.5" dy="-3.5">-2</tspan></text><line x1="288.7" y1="110.3" x2="306.8" y2="110.3" stroke="#0000ff" stroke-width="1.0"/><g fill="#0000ff" stroke="#0000ff" stroke-width="0.8"><circle cx="297.9" cy="110.3" r="1.5"/></g><text x="309.5" y="113.8" font-size="9.6" text-anchor="start" fill="#000">MBT</text><text x="342" y="113.8" font-size="9.6" text-anchor="start" fill="#000">32.20 mA cm<tspan font-size="6.5" dy="-3.5">-2</tspan></text><line x1="288.7" y1="124.1" x2="306.8" y2="124.1" stroke="#ff0000" stroke-width="1.0"/><g fill="#fff" stroke="#ff0000" stroke-width="0.8"><circle cx="297.9" cy="124.1" r="1.5"/></g><text x="309.5" y="127.6" font-size="9.6" text-anchor="start" fill="#000">EBT</text><text x="342.9" y="127.6" font-size="9.6" text-anchor="start" fill="#000">32.31 mA cm<tspan font-size="6.5" dy="-3.5">-2</tspan></text><line x1="288.7" y1="137.8" x2="306.8" y2="137.8" stroke="#2a8c2a" stroke-width="1.0"/><g fill="#2a8c2a" stroke="#2a8c2a" stroke-width="0.8"><circle cx="297.9" cy="137.8" r="1.5"/></g><text x="309.5" y="141.3" font-size="9.6" text-anchor="start" fill="#000">MEBT</text><text x="342.3" y="141.3" font-size="9.6" text-anchor="start" fill="#000">32.14 mA cm<tspan font-size="6.5" dy="-3.5">-2</tspan></text><text x="233.6" y="17.3" font-size="22.5" text-anchor="start" fill="#000">b</text><path d="M488.1,158.6 L488.6,158.6 L489,158.6 L489.5,158.6 L490,158.6 L490.4,158.6 L490.9,158.5 L491.4,158.5 L491.9,158.5 L492.3,158.5 L492.8,158.5 L493.3,158.5 L493.7,158.5 L494.2,158.5 L494.7,158.5 L495.1,158.5 L495.6,158.5 L496.1,158.5 L496.5,158.5 L497,158.5 L497.5,158.5 L498,158.5 L498.4,158.4 L498.9,158.4 L499.4,158.4 L499.8,158.4 L500.3,158.4 L500.8,158.4 L501.2,158.4 L501.7,158.4 L502.2,158.4 L502.7,158.4 L503.1,158.4 L503.6,158.4 L504.1,158.3 L504.5,158.3 L505,158.3 L505.5,158.3 L505.9,158.3 L506.4,158.3 L506.9,158.3 L507.3,158.3 L507.8,158.3 L508.3,158.3 L508.8,158.3 L509.2,158.2 L509.7,158.2 L510.2,158.2 L510.6,158.2 L511.1,158.2 L511.6,158.2 L512,158.2 L512.5,158.2 L513,158.2 L513.4,158.1 L513.9,158.1 L514.4,158.1 L514.9,158.1 L515.3,158.1 L515.8,158.1 L516.3,158.1 L516.7,158 L517.2,158 L517.7,158 L518.1,158 L518.6,158 L519.1,158 L519.6,158 L520,157.9 L520.5,157.9 L521,157.9 L521.4,157.9 L521.9,157.9 L522.4,157.9 L522.8,157.8 L523.3,157.8 L523.8,157.8 L524.2,157.8 L524.7,157.8 L525.2,157.7 L525.7,157.7 L526.1,157.7 L526.6,157.7 L527.1,157.6 L527.5,157.6 L528,157.6 L528.5,157.6 L528.9,157.5 L529.4,157.5 L529.9,157.5 L530.3,157.5 L530.8,157.4 L531.3,157.4 L531.8,157.4 L532.2,157.3 L532.7,157.3 L533.2,157.2 L533.6,157.2 L534.1,157.2 L534.6,157.1 L535,157.1 L535.5,157 L536,157 L536.5,156.9 L536.9,156.9 L537.4,156.8 L537.9,156.7 L538.3,156.7 L538.8,156.6 L539.3,156.5 L539.7,156.5 L540.2,156.4 L540.7,156.3 L541.1,156.2 L541.6,156.1 L542.1,156 L542.6,155.9 L543,155.8 L543.5,155.7 L544,155.6 L544.4,155.4 L544.9,155.3 L545.4,155.2 L545.8,155 L546.3,154.9 L546.8,154.7 L547.2,154.5 L547.7,154.3 L548.2,154.1 L548.7,153.9 L549.1,153.7 L549.6,153.5 L550.1,153.3 L550.5,153 L551,152.7 L551.5,152.5 L551.9,152.2 L552.4,151.9 L552.9,151.6 L553.3,151.3 L553.8,150.9 L554.3,150.6 L554.8,150.2 L555.2,149.9 L555.7,149.5 L556.2,149.1 L556.6,148.6 L557.1,148.2 L557.6,147.8 L558,147.3 L558.5,146.8 L559,146.3 L559.5,145.8 L559.9,145.3 L560.4,144.8 L560.9,144.2 L561.3,143.7 L561.8,143.1 L562.3,142.5 L562.7,141.9 L563.2,141.3 L563.7,140.7 L564.1,140.1 L564.6,139.4 L565.1,138.8 L565.6,138.2 L566,137.5 L566.5,136.8 L567,136.2 L567.4,135.5 L567.9,134.8 L568.4,134.2 L568.8,133.5 L569.3,132.8 L569.8,132.2 L570.2,131.5 L570.7,130.9 L571.2,130.2 L571.7,129.6 L572.1,129 L572.6,128.4 L573.1,127.8 L573.5,127.2 L574,126.6 L574.5,126.1 L574.9,125.6 L575.4,125.1 L575.9,124.6 L576.4,124.1 L576.8,123.7 L577.3,123.3 L577.8,123 L578.2,122.6 L578.7,122.3 L579.2,122 L579.6,121.8 L580.1,121.6 L580.6,121.4 L581,121.2 L581.5,121.1 L582,121.1 L582.5,121 L582.9,121 L583.4,121 L583.9,121.1 L584.3,121.2 L584.8,121.3 L585.3,121.4 L585.7,121.5 L586.2,121.7 L586.7,121.9 L587.1,122.1 L587.6,122.3 L588.1,122.5 L588.6,122.8 L589,123.1 L589.5,123.4 L590,123.7 L590.4,124.1 L590.9,124.5 L591.4,124.8 L591.8,125.2 L592.3,125.6 L592.8,126.1 L593.3,126.5 L593.7,127 L594.2,127.4 L594.7,127.9 L595.1,128.4 L595.6,128.9 L596.1,129.4 L596.5,129.9 L597,130.4 L597.5,130.9 L597.9,131.5 L598.4,132 L598.9,132.5 L599.4,133.1 L599.8,133.6 L600.3,134.2 L600.8,134.7 L601.2,135.3 L601.7,135.8 L602.2,136.4 L602.6,136.9 L603.1,137.4 L603.6,138 L604,138.5 L604.5,139 L605,139.5 L605.5,140.1 L605.9,140.6 L606.4,141.1 L606.9,141.6 L607.3,142.1 L607.8,142.6 L608.3,143 L608.7,143.5 L609.2,144 L609.7,144.4 L610.2,144.9 L610.6,145.3 L611.1,145.7 L611.6,146.1 L612,146.5 L612.5,146.9 L613,147.3 L613.4,147.7 L613.9,148.1 L614.4,148.4 L614.8,148.8 L615.3,149.1 L615.8,149.4 L616.3,149.8 L616.7,150.1 L617.2,150.4 L617.7,150.7 L618.1,150.9 L618.6,151.2 L619.1,151.5 L619.5,151.7 L620,152 L620.5,152.2 L620.9,152.5 L621.4,152.7 L621.9,152.9 L622.4,153.1 L622.8,153.3 L623.3,153.5 L623.8,153.7 L624.2,153.8 L624.7,154 L625.2,154.2 L625.6,154.3 L626.1,154.5 L626.6,154.6 L627,154.8 L627.5,154.9 L628,155 L628.5,155.2 L628.9,155.3 L629.4,155.4 L629.9,155.5 L630.3,155.6 L630.8,155.7 L631.3,155.8 L631.7,155.9 L632.2,156 L632.7,156 L633.2,156.1 L633.6,156.2 L634.1,156.3 L634.6,156.3 L635,156.4 L635.5,156.5 L636,156.5 L636.4,156.6 L636.9,156.7 L637.4,156.7 L637.8,156.8 L638.3,156.8 L638.8,156.9 L639.3,156.9 L639.7,157 L640.2,157 L640.7,157 L641.1,157.1 L641.6,157.1 L642.1,157.1 L642.5,157.2 L643,157.2 L643.5,157.2 L643.9,157.3 L644.4,157.3 L644.9,157.3 L645.4,157.4 L645.8,157.4 L646.3,157.4 L646.8,157.4 L647.2,157.5 L647.7,157.5 L648.2,157.5 L648.6,157.5 L649.1,157.6 L649.6,157.6 L650.1,157.6 L650.5,157.6 L651,157.6 L651.5,157.7 L651.9,157.7 L652.4,157.7 L652.9,157.7 L653.3,157.7 L653.8,157.8 L654.3,157.8 L654.7,157.8 L655.2,157.8 L655.7,157.8 L656.2,157.8 L656.6,157.9 L657.1,157.9 L657.6,157.9 L658,157.9 L658.5,157.9 L659,157.9 L659.4,157.9 L659.9,158 L660.4,158 L660.8,158 L661.3,158 L661.8,158 L662.3,158 L662.7,158 L663.2,158 L663.7,158 L664.1,158.1 L664.6,158.1 L665.1,158.1 L665.5,158.1 L666,158.1 L666.5,158.1 L667,158.1 L667.4,158.1 L667.9,158.1 L668.4,158.2 L668.8,158.2 L669.3,158.2 L669.8,158.2 L670.2,158.2 L670.7,158.2 L671.2,158.2 L671.6,158.2 L672.1,158.2 L672.6,158.2 L673.1,158.2 L673.5,158.3 L674,158.3 L674.5,158.3 L674.9,158.3 L675.4,158.3" fill="none" stroke="#000" stroke-width="1.05" stroke-linejoin="round"/><path d="M488.1,158.4 L488.6,158.4 L489,158.4 L489.5,158.4 L490,158.4 L490.4,158.4 L490.9,158.4 L491.4,158.3 L491.9,158.3 L492.3,158.3 L492.8,158.3 L493.3,158.3 L493.7,158.3 L494.2,158.3 L494.7,158.3 L495.1,158.3 L495.6,158.3 L496.1,158.3 L496.5,158.3 L497,158.2 L497.5,158.2 L498,158.2 L498.4,158.2 L498.9,158.2 L499.4,158.2 L499.8,158.2 L500.3,158.2 L500.8,158.2 L501.2,158.2 L501.7,158.1 L502.2,158.1 L502.7,158.1 L503.1,158.1 L503.6,158.1 L504.1,158.1 L504.5,158.1 L505,158.1 L505.5,158.1 L505.9,158 L506.4,158 L506.9,158 L507.3,158 L507.8,158 L508.3,158 L508.8,158 L509.2,157.9 L509.7,157.9 L510.2,157.9 L510.6,157.9 L511.1,157.9 L511.6,157.9 L512,157.9 L512.5,157.8 L513,157.8 L513.4,157.8 L513.9,157.8 L514.4,157.8 L514.9,157.8 L515.3,157.7 L515.8,157.7 L516.3,157.7 L516.7,157.7 L517.2,157.7 L517.7,157.7 L518.1,157.6 L518.6,157.6 L519.1,157.6 L519.6,157.6 L520,157.6 L520.5,157.5 L521,157.5 L521.4,157.5 L521.9,157.5 L522.4,157.4 L522.8,157.4 L523.3,157.4 L523.8,157.4 L524.2,157.3 L524.7,157.3 L525.2,157.3 L525.7,157.3 L526.1,157.2 L526.6,157.2 L527.1,157.2 L527.5,157.1 L528,157.1 L528.5,157.1 L528.9,157 L529.4,157 L529.9,157 L530.3,156.9 L530.8,156.9 L531.3,156.8 L531.8,156.8 L532.2,156.7 L532.7,156.7 L533.2,156.7 L533.6,156.6 L534.1,156.5 L534.6,156.5 L535,156.4 L535.5,156.4 L536,156.3 L536.5,156.2 L536.9,156.2 L537.4,156.1 L537.9,156 L538.3,155.9 L538.8,155.8 L539.3,155.8 L539.7,155.7 L540.2,155.6 L540.7,155.4 L541.1,155.3 L541.6,155.2 L542.1,155.1 L542.6,155 L543,154.8 L543.5,154.7 L544,154.5 L544.4,154.4 L544.9,154.2 L545.4,154 L545.8,153.8 L546.3,153.6 L546.8,153.4 L547.2,153.2 L547.7,152.9 L548.2,152.7 L548.7,152.4 L549.1,152.2 L549.6,151.9 L550.1,151.6 L550.5,151.3 L551,150.9 L551.5,150.6 L551.9,150.2 L552.4,149.8 L552.9,149.4 L553.3,149 L553.8,148.6 L554.3,148.2 L554.8,147.7 L555.2,147.2 L555.7,146.7 L556.2,146.2 L556.6,145.6 L557.1,145.1 L557.6,144.5 L558,143.9 L558.5,143.3 L559,142.6 L559.5,142 L559.9,141.3 L560.4,140.6 L560.9,139.9 L561.3,139.2 L561.8,138.4 L562.3,137.7 L562.7,136.9 L563.2,136.1 L563.7,135.3 L564.1,134.4 L564.6,133.6 L565.1,132.8 L565.6,131.9 L566,131 L566.5,130.1 L567,129.3 L567.4,128.4 L567.9,127.5 L568.4,126.6 L568.8,125.7 L569.3,124.8 L569.8,123.9 L570.2,123 L570.7,122.1 L571.2,121.3 L571.7,120.4 L572.1,119.6 L572.6,118.7 L573.1,117.9 L573.5,117.1 L574,116.3 L574.5,115.6 L574.9,114.9 L575.4,114.2 L575.9,113.5 L576.4,112.9 L576.8,112.3 L577.3,111.7 L577.8,111.1 L578.2,110.7 L578.7,110.2 L579.2,109.8 L579.6,109.4 L580.1,109.1 L580.6,108.8 L581,108.5 L581.5,108.4 L582,108.2 L582.5,108.1 L582.9,108.1 L583.4,108.1 L583.9,108.1 L584.3,108.1 L584.8,108.2 L585.3,108.4 L585.7,108.5 L586.2,108.7 L586.7,108.9 L587.1,109.2 L587.6,109.4 L588.1,109.8 L588.6,110.1 L589,110.5 L589.5,110.8 L590,111.3 L590.4,111.7 L590.9,112.2 L591.4,112.6 L591.8,113.2 L592.3,113.7 L592.8,114.2 L593.3,114.8 L593.7,115.4 L594.2,116 L594.7,116.6 L595.1,117.3 L595.6,117.9 L596.1,118.6 L596.5,119.3 L597,119.9 L597.5,120.6 L597.9,121.3 L598.4,122 L598.9,122.8 L599.4,123.5 L599.8,124.2 L600.3,124.9 L600.8,125.7 L601.2,126.4 L601.7,127.1 L602.2,127.9 L602.6,128.6 L603.1,129.3 L603.6,130 L604,130.7 L604.5,131.5 L605,132.2 L605.5,132.9 L605.9,133.6 L606.4,134.2 L606.9,134.9 L607.3,135.6 L607.8,136.2 L608.3,136.9 L608.7,137.5 L609.2,138.2 L609.7,138.8 L610.2,139.4 L610.6,140 L611.1,140.6 L611.6,141.1 L612,141.7 L612.5,142.2 L613,142.8 L613.4,143.3 L613.9,143.8 L614.4,144.3 L614.8,144.8 L615.3,145.2 L615.8,145.7 L616.3,146.1 L616.7,146.6 L617.2,147 L617.7,147.4 L618.1,147.8 L618.6,148.1 L619.1,148.5 L619.5,148.9 L620,149.2 L620.5,149.5 L620.9,149.9 L621.4,150.2 L621.9,150.5 L622.4,150.8 L622.8,151 L623.3,151.3 L623.8,151.6 L624.2,151.8 L624.7,152 L625.2,152.3 L625.6,152.5 L626.1,152.7 L626.6,152.9 L627,153.1 L627.5,153.3 L628,153.5 L628.5,153.6 L628.9,153.8 L629.4,153.9 L629.9,154.1 L630.3,154.2 L630.8,154.4 L631.3,154.5 L631.7,154.6 L632.2,154.8 L632.7,154.9 L633.2,155 L633.6,155.1 L634.1,155.2 L634.6,155.3 L635,155.4 L635.5,155.5 L636,155.6 L636.4,155.7 L636.9,155.7 L637.4,155.8 L637.8,155.9 L638.3,155.9 L638.8,156 L639.3,156.1 L639.7,156.1 L640.2,156.2 L640.7,156.3 L641.1,156.3 L641.6,156.4 L642.1,156.4 L642.5,156.5 L643,156.5 L643.5,156.6 L643.9,156.6 L644.4,156.6 L644.9,156.7 L645.4,156.7 L645.8,156.8 L646.3,156.8 L646.8,156.8 L647.2,156.9 L647.7,156.9 L648.2,156.9 L648.6,157 L649.1,157 L649.6,157 L650.1,157.1 L650.5,157.1 L651,157.1 L651.5,157.1 L651.9,157.2 L652.4,157.2 L652.9,157.2 L653.3,157.2 L653.8,157.3 L654.3,157.3 L654.7,157.3 L655.2,157.3 L655.7,157.4 L656.2,157.4 L656.6,157.4 L657.1,157.4 L657.6,157.4 L658,157.5 L658.5,157.5 L659,157.5 L659.4,157.5 L659.9,157.5 L660.4,157.5 L660.8,157.6 L661.3,157.6 L661.8,157.6 L662.3,157.6 L662.7,157.6 L663.2,157.6 L663.7,157.7 L664.1,157.7 L664.6,157.7 L665.1,157.7 L665.5,157.7 L666,157.7 L666.5,157.7 L667,157.8 L667.4,157.8 L667.9,157.8 L668.4,157.8 L668.8,157.8 L669.3,157.8 L669.8,157.8 L670.2,157.9 L670.7,157.9 L671.2,157.9 L671.6,157.9 L672.1,157.9 L672.6,157.9 L673.1,157.9 L673.5,157.9 L674,158 L674.5,158 L674.9,158 L675.4,158" fill="none" stroke="#2a8c2a" stroke-width="1.05" stroke-linejoin="round"/><path d="M488.1,157.9 L488.6,157.9 L489,157.9 L489.5,157.9 L490,157.9 L490.4,157.8 L490.9,157.8 L491.4,157.8 L491.9,157.8 L492.3,157.8 L492.8,157.8 L493.3,157.8 L493.7,157.8 L494.2,157.7 L494.7,157.7 L495.1,157.7 L495.6,157.7 L496.1,157.7 L496.5,157.7 L497,157.7 L497.5,157.6 L498,157.6 L498.4,157.6 L498.9,157.6 L499.4,157.6 L499.8,157.6 L500.3,157.5 L500.8,157.5 L501.2,157.5 L501.7,157.5 L502.2,157.5 L502.7,157.5 L503.1,157.4 L503.6,157.4 L504.1,157.4 L504.5,157.4 L505,157.4 L505.5,157.3 L505.9,157.3 L506.4,157.3 L506.9,157.3 L507.3,157.3 L507.8,157.2 L508.3,157.2 L508.8,157.2 L509.2,157.2 L509.7,157.1 L510.2,157.1 L510.6,157.1 L511.1,157.1 L511.6,157 L512,157 L512.5,157 L513,157 L513.4,156.9 L513.9,156.9 L514.4,156.9 L514.9,156.9 L515.3,156.8 L515.8,156.8 L516.3,156.8 L516.7,156.7 L517.2,156.7 L517.7,156.7 L518.1,156.6 L518.6,156.6 L519.1,156.6 L519.6,156.5 L520,156.5 L520.5,156.5 L521,156.4 L521.4,156.4 L521.9,156.4 L522.4,156.3 L522.8,156.3 L523.3,156.2 L523.8,156.2 L524.2,156.2 L524.7,156.1 L525.2,156.1 L525.7,156 L526.1,156 L526.6,155.9 L527.1,155.9 L527.5,155.8 L528,155.8 L528.5,155.7 L528.9,155.7 L529.4,155.6 L529.9,155.5 L530.3,155.5 L530.8,155.4 L531.3,155.3 L531.8,155.3 L532.2,155.2 L532.7,155.1 L533.2,155 L533.6,154.9 L534.1,154.9 L534.6,154.8 L535,154.7 L535.5,154.6 L536,154.5 L536.5,154.3 L536.9,154.2 L537.4,154.1 L537.9,154 L538.3,153.8 L538.8,153.7 L539.3,153.5 L539.7,153.4 L540.2,153.2 L540.7,153 L541.1,152.9 L541.6,152.7 L542.1,152.4 L542.6,152.2 L543,152 L543.5,151.8 L544,151.5 L544.4,151.2 L544.9,150.9 L545.4,150.6 L545.8,150.3 L546.3,150 L546.8,149.6 L547.2,149.3 L547.7,148.9 L548.2,148.5 L548.7,148.1 L549.1,147.6 L549.6,147.1 L550.1,146.6 L550.5,146.1 L551,145.6 L551.5,145 L551.9,144.4 L552.4,143.8 L552.9,143.1 L553.3,142.4 L553.8,141.7 L554.3,141 L554.8,140.2 L555.2,139.4 L555.7,138.6 L556.2,137.7 L556.6,136.8 L557.1,135.9 L557.6,135 L558,134 L558.5,133 L559,131.9 L559.5,130.8 L559.9,129.7 L560.4,128.6 L560.9,127.4 L561.3,126.2 L561.8,124.9 L562.3,123.7 L562.7,122.4 L563.2,121.1 L563.7,119.7 L564.1,118.4 L564.6,117 L565.1,115.6 L565.6,114.1 L566,112.7 L566.5,111.3 L567,109.8 L567.4,108.3 L567.9,106.9 L568.4,105.4 L568.8,103.9 L569.3,102.4 L569.8,101 L570.2,99.5 L570.7,98 L571.2,96.6 L571.7,95.2 L572.1,93.8 L572.6,92.4 L573.1,91.1 L573.5,89.8 L574,88.5 L574.5,87.2 L574.9,86 L575.4,84.9 L575.9,83.8 L576.4,82.7 L576.8,81.7 L577.3,80.8 L577.8,79.9 L578.2,79.1 L578.7,78.3 L579.2,77.6 L579.6,77 L580.1,76.5 L580.6,76 L581,75.6 L581.5,75.3 L582,75 L582.5,74.9 L582.9,74.8 L583.4,74.8 L583.9,74.8 L584.3,74.9 L584.8,75.1 L585.3,75.3 L585.7,75.5 L586.2,75.9 L586.7,76.2 L587.1,76.6 L587.6,77.1 L588.1,77.6 L588.6,78.1 L589,78.7 L589.5,79.4 L590,80.1 L590.4,80.8 L590.9,81.6 L591.4,82.4 L591.8,83.2 L592.3,84.1 L592.8,85 L593.3,85.9 L593.7,86.9 L594.2,87.9 L594.7,88.9 L595.1,90 L595.6,91.1 L596.1,92.2 L596.5,93.3 L597,94.4 L597.5,95.5 L597.9,96.7 L598.4,97.9 L598.9,99.1 L599.4,100.3 L599.8,101.4 L600.3,102.6 L600.8,103.9 L601.2,105.1 L601.7,106.3 L602.2,107.5 L602.6,108.7 L603.1,109.9 L603.6,111.1 L604,112.2 L604.5,113.4 L605,114.6 L605.5,115.7 L605.9,116.9 L606.4,118 L606.9,119.1 L607.3,120.2 L607.8,121.3 L608.3,122.4 L608.7,123.5 L609.2,124.5 L609.7,125.5 L610.2,126.5 L610.6,127.5 L611.1,128.5 L611.6,129.4 L612,130.3 L612.5,131.2 L613,132.1 L613.4,132.9 L613.9,133.8 L614.4,134.6 L614.8,135.4 L615.3,136.2 L615.8,136.9 L616.3,137.6 L616.7,138.4 L617.2,139 L617.7,139.7 L618.1,140.4 L618.6,141 L619.1,141.6 L619.5,142.2 L620,142.7 L620.5,143.3 L620.9,143.8 L621.4,144.3 L621.9,144.8 L622.4,145.3 L622.8,145.7 L623.3,146.2 L623.8,146.6 L624.2,147 L624.7,147.4 L625.2,147.8 L625.6,148.1 L626.1,148.5 L626.6,148.8 L627,149.1 L627.5,149.5 L628,149.7 L628.5,150 L628.9,150.3 L629.4,150.6 L629.9,150.8 L630.3,151.1 L630.8,151.3 L631.3,151.5 L631.7,151.7 L632.2,151.9 L632.7,152.1 L633.2,152.3 L633.6,152.5 L634.1,152.6 L634.6,152.8 L635,152.9 L635.5,153.1 L636,153.2 L636.4,153.4 L636.9,153.5 L637.4,153.6 L637.8,153.8 L638.3,153.9 L638.8,154 L639.3,154.1 L639.7,154.2 L640.2,154.3 L640.7,154.4 L641.1,154.5 L641.6,154.6 L642.1,154.6 L642.5,154.7 L643,154.8 L643.5,154.9 L643.9,154.9 L644.4,155 L644.9,155.1 L645.4,155.1 L645.8,155.2 L646.3,155.3 L646.8,155.3 L647.2,155.4 L647.7,155.4 L648.2,155.5 L648.6,155.5 L649.1,155.6 L649.6,155.6 L650.1,155.7 L650.5,155.7 L651,155.8 L651.5,155.8 L651.9,155.9 L652.4,155.9 L652.9,156 L653.3,156 L653.8,156 L654.3,156.1 L654.7,156.1 L655.2,156.1 L655.7,156.2 L656.2,156.2 L656.6,156.2 L657.1,156.3 L657.6,156.3 L658,156.3 L658.5,156.4 L659,156.4 L659.4,156.4 L659.9,156.5 L660.4,156.5 L660.8,156.5 L661.3,156.6 L661.8,156.6 L662.3,156.6 L662.7,156.6 L663.2,156.7 L663.7,156.7 L664.1,156.7 L664.6,156.7 L665.1,156.8 L665.5,156.8 L666,156.8 L666.5,156.8 L667,156.9 L667.4,156.9 L667.9,156.9 L668.4,156.9 L668.8,157 L669.3,157 L669.8,157 L670.2,157 L670.7,157 L671.2,157.1 L671.6,157.1 L672.1,157.1 L672.6,157.1 L673.1,157.1 L673.5,157.2 L674,157.2 L674.5,157.2 L674.9,157.2 L675.4,157.2" fill="none" stroke="#0000ff" stroke-width="1.05" stroke-linejoin="round"/><path d="M488.1,157.5 L488.6,157.5 L489,157.5 L489.5,157.5 L490,157.4 L490.4,157.4 L490.9,157.4 L491.4,157.4 L491.9,157.4 L492.3,157.4 L492.8,157.3 L493.3,157.3 L493.7,157.3 L494.2,157.3 L494.7,157.3 L495.1,157.2 L495.6,157.2 L496.1,157.2 L496.5,157.2 L497,157.2 L497.5,157.1 L498,157.1 L498.4,157.1 L498.9,157.1 L499.4,157.1 L499.8,157 L500.3,157 L500.8,157 L501.2,157 L501.7,157 L502.2,156.9 L502.7,156.9 L503.1,156.9 L503.6,156.9 L504.1,156.8 L504.5,156.8 L505,156.8 L505.5,156.8 L505.9,156.7 L506.4,156.7 L506.9,156.7 L507.3,156.6 L507.8,156.6 L508.3,156.6 L508.8,156.6 L509.2,156.5 L509.7,156.5 L510.2,156.5 L510.6,156.4 L511.1,156.4 L511.6,156.4 L512,156.3 L512.5,156.3 L513,156.3 L513.4,156.2 L513.9,156.2 L514.4,156.2 L514.9,156.1 L515.3,156.1 L515.8,156.1 L516.3,156 L516.7,156 L517.2,155.9 L517.7,155.9 L518.1,155.9 L518.6,155.8 L519.1,155.8 L519.6,155.7 L520,155.7 L520.5,155.6 L521,155.6 L521.4,155.5 L521.9,155.5 L522.4,155.4 L522.8,155.4 L523.3,155.3 L523.8,155.3 L524.2,155.2 L524.7,155.2 L525.2,155.1 L525.7,155 L526.1,155 L526.6,154.9 L527.1,154.8 L527.5,154.8 L528,154.7 L528.5,154.6 L528.9,154.6 L529.4,154.5 L529.9,154.4 L530.3,154.3 L530.8,154.2 L531.3,154.1 L531.8,154.1 L532.2,154 L532.7,153.9 L533.2,153.7 L533.6,153.6 L534.1,153.5 L534.6,153.4 L535,153.3 L535.5,153.2 L536,153 L536.5,152.9 L536.9,152.7 L537.4,152.6 L537.9,152.4 L538.3,152.2 L538.8,152 L539.3,151.9 L539.7,151.7 L540.2,151.4 L540.7,151.2 L541.1,151 L541.6,150.7 L542.1,150.5 L542.6,150.2 L543,149.9 L543.5,149.6 L544,149.3 L544.4,148.9 L544.9,148.6 L545.4,148.2 L545.8,147.8 L546.3,147.4 L546.8,146.9 L547.2,146.5 L547.7,146 L548.2,145.4 L548.7,144.9 L549.1,144.3 L549.6,143.7 L550.1,143.1 L550.5,142.4 L551,141.7 L551.5,141 L551.9,140.3 L552.4,139.5 L552.9,138.6 L553.3,137.8 L553.8,136.8 L554.3,135.9 L554.8,134.9 L555.2,133.9 L555.7,132.8 L556.2,131.7 L556.6,130.6 L557.1,129.4 L557.6,128.1 L558,126.8 L558.5,125.5 L559,124.2 L559.5,122.8 L559.9,121.3 L560.4,119.8 L560.9,118.3 L561.3,116.7 L561.8,115.1 L562.3,113.4 L562.7,111.8 L563.2,110 L563.7,108.3 L564.1,106.5 L564.6,104.7 L565.1,102.8 L565.6,100.9 L566,99 L566.5,97.1 L567,95.2 L567.4,93.2 L567.9,91.3 L568.4,89.3 L568.8,87.3 L569.3,85.3 L569.8,83.4 L570.2,81.4 L570.7,79.4 L571.2,77.5 L571.7,75.6 L572.1,73.7 L572.6,71.8 L573.1,70 L573.5,68.2 L574,66.4 L574.5,64.7 L574.9,63 L575.4,61.4 L575.9,59.9 L576.4,58.4 L576.8,57 L577.3,55.7 L577.8,54.4 L578.2,53.2 L578.7,52.1 L579.2,51.1 L579.6,50.2 L580.1,49.4 L580.6,48.6 L581,48 L581.5,47.5 L582,47 L582.5,46.7 L582.9,46.5 L583.4,46.4 L583.9,46.4 L584.3,46.4 L584.8,46.6 L585.3,46.8 L585.7,47 L586.2,47.4 L586.7,47.8 L587.1,48.3 L587.6,48.8 L588.1,49.4 L588.6,50.1 L589,50.8 L589.5,51.6 L590,52.5 L590.4,53.4 L590.9,54.4 L591.4,55.4 L591.8,56.5 L592.3,57.6 L592.8,58.8 L593.3,60 L593.7,61.2 L594.2,62.5 L594.7,63.9 L595.1,65.2 L595.6,66.6 L596.1,68.1 L596.5,69.5 L597,71 L597.5,72.5 L597.9,74.1 L598.4,75.6 L598.9,77.2 L599.4,78.8 L599.8,80.4 L600.3,82 L600.8,83.6 L601.2,85.2 L601.7,86.8 L602.2,88.4 L602.6,90 L603.1,91.6 L603.6,93.2 L604,94.8 L604.5,96.4 L605,98 L605.5,99.5 L605.9,101.1 L606.4,102.6 L606.9,104.1 L607.3,105.6 L607.8,107.1 L608.3,108.6 L608.7,110 L609.2,111.4 L609.7,112.8 L610.2,114.1 L610.6,115.5 L611.1,116.8 L611.6,118.1 L612,119.3 L612.5,120.6 L613,121.8 L613.4,122.9 L613.9,124.1 L614.4,125.2 L614.8,126.3 L615.3,127.4 L615.8,128.4 L616.3,129.4 L616.7,130.4 L617.2,131.3 L617.7,132.2 L618.1,133.1 L618.6,134 L619.1,134.8 L619.5,135.6 L620,136.4 L620.5,137.2 L620.9,137.9 L621.4,138.6 L621.9,139.3 L622.4,140 L622.8,140.6 L623.3,141.2 L623.8,141.8 L624.2,142.4 L624.7,142.9 L625.2,143.4 L625.6,143.9 L626.1,144.4 L626.6,144.9 L627,145.3 L627.5,145.8 L628,146.2 L628.5,146.6 L628.9,147 L629.4,147.3 L629.9,147.7 L630.3,148 L630.8,148.3 L631.3,148.6 L631.7,148.9 L632.2,149.2 L632.7,149.5 L633.2,149.7 L633.6,150 L634.1,150.2 L634.6,150.4 L635,150.6 L635.5,150.9 L636,151.1 L636.4,151.2 L636.9,151.4 L637.4,151.6 L637.8,151.8 L638.3,151.9 L638.8,152.1 L639.3,152.2 L639.7,152.4 L640.2,152.5 L640.7,152.6 L641.1,152.8 L641.6,152.9 L642.1,153 L642.5,153.1 L643,153.2 L643.5,153.3 L643.9,153.4 L644.4,153.5 L644.9,153.6 L645.4,153.7 L645.8,153.8 L646.3,153.9 L646.8,154 L647.2,154 L647.7,154.1 L648.2,154.2 L648.6,154.3 L649.1,154.3 L649.6,154.4 L650.1,154.5 L650.5,154.5 L651,154.6 L651.5,154.7 L651.9,154.7 L652.4,154.8 L652.9,154.8 L653.3,154.9 L653.8,154.9 L654.3,155 L654.7,155 L655.2,155.1 L655.7,155.1 L656.2,155.2 L656.6,155.2 L657.1,155.3 L657.6,155.3 L658,155.4 L658.5,155.4 L659,155.4 L659.4,155.5 L659.9,155.5 L660.4,155.6 L660.8,155.6 L661.3,155.6 L661.8,155.7 L662.3,155.7 L662.7,155.8 L663.2,155.8 L663.7,155.8 L664.1,155.9 L664.6,155.9 L665.1,155.9 L665.5,156 L666,156 L666.5,156 L667,156.1 L667.4,156.1 L667.9,156.1 L668.4,156.2 L668.8,156.2 L669.3,156.2 L669.8,156.2 L670.2,156.3 L670.7,156.3 L671.2,156.3 L671.6,156.3 L672.1,156.4 L672.6,156.4 L673.1,156.4 L673.5,156.5 L674,156.5 L674.5,156.5 L674.9,156.5 L675.4,156.6" fill="none" stroke="#ff0000" stroke-width="1.05" stroke-linejoin="round"/><rect x="488.1" y="11.4" width="187.3" height="151.3" fill="none" stroke="#1a1a1a" stroke-width="1.35"/><line x1="492.9" y1="162.7" x2="492.9" y2="165.7" stroke="#1a1a1a" stroke-width="1.0"/><line x1="536.1" y1="162.7" x2="536.1" y2="165.7" stroke="#1a1a1a" stroke-width="1.0"/><line x1="579.3" y1="162.7" x2="579.3" y2="165.7" stroke="#1a1a1a" stroke-width="1.0"/><line x1="622.6" y1="162.7" x2="622.6" y2="165.7" stroke="#1a1a1a" stroke-width="1.0"/><line x1="665.8" y1="162.7" x2="665.8" y2="165.7" stroke="#1a1a1a" stroke-width="1.0"/><line x1="514.5" y1="162.7" x2="514.5" y2="164.5" stroke="#1a1a1a" stroke-width="1.0"/><line x1="557.7" y1="162.7" x2="557.7" y2="164.5" stroke="#1a1a1a" stroke-width="1.0"/><line x1="601" y1="162.7" x2="601" y2="164.5" stroke="#1a1a1a" stroke-width="1.0"/><line x1="644.2" y1="162.7" x2="644.2" y2="164.5" stroke="#1a1a1a" stroke-width="1.0"/><text x="492.9" y="176" font-size="10" text-anchor="middle" fill="#000">810</text><text x="536.1" y="176" font-size="10" text-anchor="middle" fill="#000">900</text><text x="579.3" y="176" font-size="10" text-anchor="middle" fill="#000">990</text><text x="622.6" y="176" font-size="10" text-anchor="middle" fill="#000">1080</text><text x="665.8" y="176" font-size="10" text-anchor="middle" fill="#000">1170</text><text x="582.4" y="187.2" font-size="11.6" text-anchor="middle" fill="#000">Wavelength (nm)</text><text x="0" y="0" transform="translate(475.2,82.8) rotate(-90)" font-size="11.6" text-anchor="middle" fill="#000">Intensity (a.u.)</text><line x1="614.1" y1="22.5" x2="632.6" y2="22.5" stroke="#000" stroke-width="1.1"/><text x="635.6" y="25.2" font-size="11" text-anchor="start" fill="#000">BT</text><line x1="614.1" y1="36.6" x2="632.6" y2="36.6" stroke="#0000ff" stroke-width="1.1"/><text x="635.6" y="39.3" font-size="11" text-anchor="start" fill="#000">MBT</text><line x1="614.1" y1="50.7" x2="632.6" y2="50.7" stroke="#ff0000" stroke-width="1.1"/><text x="635.6" y="53.4" font-size="11" text-anchor="start" fill="#000">EBT</text><line x1="614.1" y1="64.8" x2="632.6" y2="64.8" stroke="#2a8c2a" stroke-width="1.1"/><text x="635.6" y="67.5" font-size="11" text-anchor="start" fill="#000">MEBT</text><text x="462" y="17.3" font-size="22.5" text-anchor="start" fill="#000">c</text><g fill="#000" stroke="#000" stroke-width="0.4"><circle cx="36.9" cy="197.7" r="1.65"/><circle cx="37.4" cy="206.9" r="1.65"/><circle cx="37.9" cy="215.7" r="1.65"/><circle cx="38.3" cy="220.8" r="1.65"/><circle cx="38.8" cy="224.4" r="1.65"/><circle cx="39.2" cy="227.2" r="1.65"/><circle cx="39.7" cy="228.9" r="1.65"/><circle cx="40.1" cy="230.1" r="1.65"/><circle cx="40.6" cy="232" r="1.65"/><circle cx="41" cy="233.3" r="1.65"/><circle cx="41.5" cy="233.9" r="1.65"/><circle cx="41.9" cy="234.9" r="1.65"/><circle cx="42.4" cy="235.8" r="1.65"/><circle cx="42.8" cy="237.3" r="1.65"/><circle cx="43.2" cy="237.6" r="1.65"/><circle cx="43.7" cy="237.8" r="1.65"/><circle cx="44.1" cy="240" r="1.65"/><circle cx="44.6" cy="240" r="1.65"/><circle cx="45" cy="241.9" r="1.65"/><circle cx="45.5" cy="242" r="1.65"/><circle cx="45.9" cy="243.2" r="1.65"/><circle cx="46.4" cy="242.3" r="1.65"/><circle cx="46.8" cy="243.9" r="1.65"/><circle cx="47.3" cy="242.8" r="1.65"/><circle cx="47.7" cy="243.5" r="1.65"/><circle cx="48.2" cy="244.5" r="1.65"/><circle cx="48.6" cy="248" r="1.65"/><circle cx="49" cy="246.1" r="1.65"/><circle cx="49.5" cy="246" r="1.65"/><circle cx="49.9" cy="246.4" r="1.65"/><circle cx="50.4" cy="249.3" r="1.65"/><circle cx="50.8" cy="248.4" r="1.65"/><circle cx="51.3" cy="249.7" r="1.65"/><circle cx="51.7" cy="250.1" r="1.65"/><circle cx="52.2" cy="247.5" r="1.65"/><circle cx="52.6" cy="251.2" r="1.65"/><circle cx="53.1" cy="250.4" r="1.65"/><circle cx="53.5" cy="249.3" r="1.65"/><circle cx="54" cy="252.5" r="1.65"/><circle cx="54.4" cy="252.2" r="1.65"/><circle cx="54.8" cy="252.3" r="1.65"/><circle cx="55.3" cy="252.9" r="1.65"/><circle cx="55.7" cy="256.2" r="1.65"/><circle cx="56.2" cy="254" r="1.65"/><circle cx="56.6" cy="251.7" r="1.65"/><circle cx="57.1" cy="258.7" r="1.65"/><circle cx="57.5" cy="253.8" r="1.65"/><circle cx="58" cy="256" r="1.65"/><circle cx="58.4" cy="258.3" r="1.65"/><circle cx="58.9" cy="252.4" r="1.65"/><circle cx="59.3" cy="255.9" r="1.65"/><circle cx="59.7" cy="261.4" r="1.65"/><circle cx="60.2" cy="258.6" r="1.65"/><circle cx="60.6" cy="257.8" r="1.65"/><circle cx="61.1" cy="260.3" r="1.65"/><circle cx="61.5" cy="258.4" r="1.65"/><circle cx="62" cy="260.9" r="1.65"/><circle cx="62.4" cy="259.3" r="1.65"/><circle cx="62.9" cy="257.5" r="1.65"/><circle cx="63.3" cy="264.2" r="1.65"/><circle cx="63.8" cy="262" r="1.65"/><circle cx="64.2" cy="264.5" r="1.65"/><circle cx="64.7" cy="263.1" r="1.65"/><circle cx="65.1" cy="267.7" r="1.65"/><circle cx="65.5" cy="266.3" r="1.65"/><circle cx="66" cy="265.5" r="1.65"/><circle cx="66.4" cy="262.3" r="1.65"/><circle cx="66.9" cy="261.8" r="1.65"/><circle cx="67.3" cy="270.7" r="1.65"/><circle cx="67.8" cy="269.3" r="1.65"/><circle cx="68.2" cy="264.8" r="1.65"/><circle cx="68.7" cy="274.2" r="1.65"/><circle cx="69.1" cy="269.4" r="1.65"/><circle cx="69.6" cy="268.6" r="1.65"/><circle cx="70" cy="264.4" r="1.65"/><circle cx="70.5" cy="266.7" r="1.65"/><circle cx="70.9" cy="270.6" r="1.65"/><circle cx="71.3" cy="271.1" r="1.65"/><circle cx="71.8" cy="271.1" r="1.65"/><circle cx="72.2" cy="265.5" r="1.65"/><circle cx="72.7" cy="272.5" r="1.65"/><circle cx="73.1" cy="272.5" r="1.65"/><circle cx="73.6" cy="270.7" r="1.65"/><circle cx="74" cy="272.7" r="1.65"/><circle cx="74.5" cy="273.4" r="1.65"/><circle cx="74.9" cy="276.9" r="1.65"/><circle cx="75.4" cy="273.5" r="1.65"/><circle cx="75.8" cy="275.4" r="1.65"/><circle cx="76.2" cy="270.3" r="1.65"/><circle cx="76.7" cy="272.4" r="1.65"/><circle cx="77.1" cy="275.1" r="1.65"/><circle cx="77.6" cy="273.2" r="1.65"/><circle cx="78" cy="277" r="1.65"/><circle cx="78.5" cy="272.6" r="1.65"/><circle cx="78.9" cy="276.6" r="1.65"/><circle cx="79.4" cy="274.9" r="1.65"/><circle cx="79.8" cy="281.7" r="1.65"/><circle cx="80.3" cy="276.5" r="1.65"/><circle cx="80.7" cy="283.8" r="1.65"/><circle cx="81.2" cy="285.3" r="1.65"/><circle cx="81.6" cy="279.8" r="1.65"/><circle cx="82" cy="282.1" r="1.65"/><circle cx="82.5" cy="278.9" r="1.65"/><circle cx="82.9" cy="272.1" r="1.65"/><circle cx="83.4" cy="282.9" r="1.65"/><circle cx="83.8" cy="282.6" r="1.65"/><circle cx="84.3" cy="280.1" r="1.65"/><circle cx="84.7" cy="279.4" r="1.65"/><circle cx="85.2" cy="282" r="1.65"/><circle cx="85.6" cy="282.4" r="1.65"/><circle cx="86.1" cy="279.6" r="1.65"/><circle cx="86.5" cy="280.6" r="1.65"/><circle cx="86.9" cy="286.1" r="1.65"/><circle cx="87.4" cy="283.2" r="1.65"/><circle cx="87.8" cy="283.1" r="1.65"/><circle cx="88.3" cy="287" r="1.65"/><circle cx="88.7" cy="282.9" r="1.65"/><circle cx="89.2" cy="286.9" r="1.65"/><circle cx="89.6" cy="281" r="1.65"/><circle cx="90.1" cy="283.9" r="1.65"/><circle cx="90.5" cy="284.5" r="1.65"/><circle cx="91" cy="287.1" r="1.65"/><circle cx="91.4" cy="285.7" r="1.65"/><circle cx="91.9" cy="292.4" r="1.65"/><circle cx="92.3" cy="289.7" r="1.65"/><circle cx="92.7" cy="284.8" r="1.65"/><circle cx="93.2" cy="293.5" r="1.65"/><circle cx="93.6" cy="283.7" r="1.65"/><circle cx="94.1" cy="292.7" r="1.65"/><circle cx="94.5" cy="284.4" r="1.65"/><circle cx="95" cy="290.1" r="1.65"/><circle cx="95.4" cy="284.8" r="1.65"/><circle cx="95.9" cy="287.3" r="1.65"/><circle cx="96.3" cy="293.2" r="1.65"/><circle cx="96.8" cy="283.9" r="1.65"/><circle cx="97.2" cy="283.5" r="1.65"/><circle cx="97.7" cy="288.8" r="1.65"/><circle cx="98.1" cy="289.8" r="1.65"/><circle cx="98.5" cy="289.6" r="1.65"/><circle cx="99" cy="292.6" r="1.65"/><circle cx="99.4" cy="285.7" r="1.65"/><circle cx="99.9" cy="291.5" r="1.65"/><circle cx="100.3" cy="290" r="1.65"/><circle cx="100.8" cy="292.8" r="1.65"/><circle cx="101.2" cy="292.4" r="1.65"/><circle cx="101.7" cy="294.8" r="1.65"/><circle cx="102.1" cy="286.4" r="1.65"/><circle cx="102.6" cy="291.4" r="1.65"/><circle cx="103" cy="287.8" r="1.65"/><circle cx="103.4" cy="291.2" r="1.65"/><circle cx="103.9" cy="293.8" r="1.65"/><circle cx="104.3" cy="292.8" r="1.65"/><circle cx="104.8" cy="293.8" r="1.65"/><circle cx="105.2" cy="292" r="1.65"/><circle cx="105.7" cy="293.5" r="1.65"/><circle cx="106.1" cy="293.4" r="1.65"/><circle cx="106.6" cy="297.3" r="1.65"/><circle cx="107" cy="295.5" r="1.65"/><circle cx="107.5" cy="287.4" r="1.65"/><circle cx="107.9" cy="295.4" r="1.65"/><circle cx="108.4" cy="296.9" r="1.65"/><circle cx="108.8" cy="292.4" r="1.65"/><circle cx="109.2" cy="288.9" r="1.65"/><circle cx="109.7" cy="298.8" r="1.65"/><circle cx="110.1" cy="294.8" r="1.65"/><circle cx="110.6" cy="296.4" r="1.65"/><circle cx="111" cy="300.4" r="1.65"/><circle cx="111.5" cy="292.1" r="1.65"/><circle cx="111.9" cy="294.8" r="1.65"/><circle cx="112.4" cy="294.6" r="1.65"/><circle cx="112.8" cy="297.6" r="1.65"/><circle cx="113.3" cy="293.7" r="1.65"/><circle cx="113.7" cy="297.2" r="1.65"/><circle cx="114.1" cy="296" r="1.65"/><circle cx="114.6" cy="299.5" r="1.65"/><circle cx="115" cy="300" r="1.65"/><circle cx="115.5" cy="291.5" r="1.65"/><circle cx="115.9" cy="297.9" r="1.65"/><circle cx="116.4" cy="295.3" r="1.65"/><circle cx="116.8" cy="296.6" r="1.65"/><circle cx="117.3" cy="298.1" r="1.65"/><circle cx="117.7" cy="298.5" r="1.65"/><circle cx="118.2" cy="294.8" r="1.65"/><circle cx="118.6" cy="298.1" r="1.65"/><circle cx="119.1" cy="297.8" r="1.65"/><circle cx="119.5" cy="297.3" r="1.65"/><circle cx="119.9" cy="293.5" r="1.65"/><circle cx="120.4" cy="295.4" r="1.65"/><circle cx="120.8" cy="296.5" r="1.65"/><circle cx="121.3" cy="299.9" r="1.65"/><circle cx="121.7" cy="302.8" r="1.65"/><circle cx="122.2" cy="295" r="1.65"/><circle cx="122.6" cy="295.1" r="1.65"/><circle cx="123.1" cy="299" r="1.65"/><circle cx="123.5" cy="296.8" r="1.65"/><circle cx="124" cy="296.2" r="1.65"/><circle cx="124.4" cy="296.1" r="1.65"/><circle cx="124.9" cy="296" r="1.65"/><circle cx="125.3" cy="300.8" r="1.65"/><circle cx="125.7" cy="294.2" r="1.65"/><circle cx="126.2" cy="303.7" r="1.65"/><circle cx="126.6" cy="296.7" r="1.65"/><circle cx="127.1" cy="298.1" r="1.65"/><circle cx="127.5" cy="296.9" r="1.65"/><circle cx="128" cy="293.6" r="1.65"/><circle cx="128.4" cy="295.1" r="1.65"/><circle cx="128.9" cy="304.2" r="1.65"/><circle cx="129.3" cy="306.1" r="1.65"/><circle cx="129.8" cy="297.8" r="1.65"/><circle cx="130.2" cy="304.1" r="1.65"/><circle cx="130.6" cy="300.8" r="1.65"/><circle cx="131.1" cy="298" r="1.65"/><circle cx="131.5" cy="306.6" r="1.65"/><circle cx="132" cy="308.3" r="1.65"/><circle cx="132.4" cy="300.4" r="1.65"/><circle cx="132.9" cy="301.2" r="1.65"/><circle cx="133.3" cy="302.4" r="1.65"/><circle cx="133.8" cy="301.5" r="1.65"/><circle cx="134.2" cy="304.7" r="1.65"/><circle cx="134.7" cy="307" r="1.65"/><circle cx="135.1" cy="302.6" r="1.65"/><circle cx="135.6" cy="305.4" r="1.65"/><circle cx="136" cy="307.8" r="1.65"/><circle cx="136.4" cy="300.6" r="1.65"/><circle cx="136.9" cy="302.7" r="1.65"/><circle cx="137.3" cy="301.2" r="1.65"/><circle cx="137.8" cy="306" r="1.65"/><circle cx="138.2" cy="305" r="1.65"/><circle cx="138.7" cy="306.3" r="1.65"/><circle cx="139.1" cy="306" r="1.65"/><circle cx="139.6" cy="302.5" r="1.65"/><circle cx="140" cy="305.9" r="1.65"/><circle cx="140.5" cy="302.1" r="1.65"/><circle cx="140.9" cy="302.3" r="1.65"/><circle cx="141.4" cy="296.7" r="1.65"/><circle cx="141.8" cy="308.4" r="1.65"/><circle cx="142.2" cy="300.8" r="1.65"/><circle cx="142.7" cy="304.2" r="1.65"/><circle cx="143.1" cy="304" r="1.65"/><circle cx="143.6" cy="309" r="1.65"/><circle cx="144" cy="305.8" r="1.65"/><circle cx="144.5" cy="301.8" r="1.65"/><circle cx="144.9" cy="304.7" r="1.65"/><circle cx="145.4" cy="304.2" r="1.65"/><circle cx="145.8" cy="305.6" r="1.65"/><circle cx="146.3" cy="300.8" r="1.65"/><circle cx="146.7" cy="304.9" r="1.65"/><circle cx="147.1" cy="312.4" r="1.65"/><circle cx="147.6" cy="307.3" r="1.65"/><circle cx="148" cy="311.8" r="1.65"/><circle cx="148.5" cy="316.2" r="1.65"/><circle cx="148.9" cy="307.1" r="1.65"/><circle cx="149.4" cy="300.8" r="1.65"/><circle cx="149.8" cy="305.3" r="1.65"/><circle cx="150.3" cy="309.5" r="1.65"/><circle cx="150.7" cy="308.9" r="1.65"/><circle cx="151.2" cy="301.9" r="1.65"/><circle cx="151.6" cy="305.3" r="1.65"/><circle cx="152.1" cy="305.8" r="1.65"/><circle cx="152.5" cy="306.2" r="1.65"/><circle cx="152.9" cy="306" r="1.65"/><circle cx="153.4" cy="303.5" r="1.65"/><circle cx="153.8" cy="304.4" r="1.65"/><circle cx="154.3" cy="305.7" r="1.65"/><circle cx="154.7" cy="310.1" r="1.65"/><circle cx="155.2" cy="304.9" r="1.65"/><circle cx="155.6" cy="309" r="1.65"/><circle cx="156.1" cy="303.1" r="1.65"/><circle cx="156.5" cy="311.2" r="1.65"/><circle cx="157" cy="307.5" r="1.65"/><circle cx="157.4" cy="307.1" r="1.65"/><circle cx="157.8" cy="311.7" r="1.65"/><circle cx="158.3" cy="301.5" r="1.65"/><circle cx="158.7" cy="302.4" r="1.65"/><circle cx="159.2" cy="309.1" r="1.65"/><circle cx="159.6" cy="305" r="1.65"/><circle cx="160.1" cy="306.4" r="1.65"/><circle cx="160.5" cy="316.7" r="1.65"/><circle cx="161" cy="307.1" r="1.65"/><circle cx="161.4" cy="308.3" r="1.65"/><circle cx="161.9" cy="307.9" r="1.65"/><circle cx="162.3" cy="311.9" r="1.65"/><circle cx="162.8" cy="309.3" r="1.65"/><circle cx="163.2" cy="309.1" r="1.65"/><circle cx="163.6" cy="304.6" r="1.65"/><circle cx="164.1" cy="307.6" r="1.65"/><circle cx="164.5" cy="308.9" r="1.65"/><circle cx="165" cy="303.8" r="1.65"/><circle cx="165.4" cy="311" r="1.65"/><circle cx="165.9" cy="310.5" r="1.65"/><circle cx="166.3" cy="315.5" r="1.65"/><circle cx="166.8" cy="304.1" r="1.65"/><circle cx="167.2" cy="306.3" r="1.65"/><circle cx="167.7" cy="306.5" r="1.65"/><circle cx="168.1" cy="307.5" r="1.65"/><circle cx="168.6" cy="309.5" r="1.65"/><circle cx="169" cy="309.2" r="1.65"/><circle cx="169.4" cy="310.9" r="1.65"/><circle cx="169.9" cy="310.9" r="1.65"/><circle cx="170.3" cy="310.1" r="1.65"/><circle cx="170.8" cy="305.3" r="1.65"/><circle cx="171.2" cy="308.6" r="1.65"/><circle cx="171.7" cy="310.8" r="1.65"/><circle cx="172.1" cy="312.7" r="1.65"/><circle cx="172.6" cy="313" r="1.65"/><circle cx="173" cy="305.5" r="1.65"/><circle cx="173.5" cy="309.3" r="1.65"/><circle cx="173.9" cy="310.9" r="1.65"/><circle cx="174.3" cy="312.4" r="1.65"/><circle cx="174.8" cy="315.1" r="1.65"/><circle cx="175.2" cy="311.6" r="1.65"/><circle cx="175.7" cy="308.5" r="1.65"/><circle cx="176.1" cy="312.9" r="1.65"/><circle cx="176.6" cy="312.4" r="1.65"/><circle cx="177" cy="312.5" r="1.65"/><circle cx="177.5" cy="311.5" r="1.65"/><circle cx="177.9" cy="317.3" r="1.65"/><circle cx="178.4" cy="312.8" r="1.65"/><circle cx="178.8" cy="315" r="1.65"/><circle cx="179.3" cy="309.1" r="1.65"/><circle cx="179.7" cy="314.9" r="1.65"/><circle cx="180.1" cy="310.4" r="1.65"/><circle cx="180.6" cy="307.2" r="1.65"/><circle cx="181" cy="313.5" r="1.65"/><circle cx="181.5" cy="314.6" r="1.65"/><circle cx="181.9" cy="312" r="1.65"/><circle cx="182.4" cy="312.7" r="1.65"/><circle cx="182.8" cy="316.2" r="1.65"/><circle cx="183.3" cy="311.3" r="1.65"/><circle cx="183.7" cy="306.1" r="1.65"/><circle cx="184.2" cy="313.9" r="1.65"/><circle cx="184.6" cy="313.8" r="1.65"/><circle cx="185" cy="316.7" r="1.65"/><circle cx="185.5" cy="312.1" r="1.65"/><circle cx="185.9" cy="317.5" r="1.65"/><circle cx="186.4" cy="317.1" r="1.65"/><circle cx="186.8" cy="309.1" r="1.65"/><circle cx="187.3" cy="316.6" r="1.65"/><circle cx="187.7" cy="309.9" r="1.65"/><circle cx="188.2" cy="308.5" r="1.65"/><circle cx="188.6" cy="312.9" r="1.65"/><circle cx="189.1" cy="311.9" r="1.65"/><circle cx="189.5" cy="307.2" r="1.65"/><circle cx="190" cy="314.6" r="1.65"/><circle cx="190.4" cy="316" r="1.65"/><circle cx="190.8" cy="318.7" r="1.65"/><circle cx="191.3" cy="314" r="1.65"/><circle cx="191.7" cy="309.2" r="1.65"/><circle cx="192.2" cy="311" r="1.65"/><circle cx="192.6" cy="317.6" r="1.65"/><circle cx="193.1" cy="317.3" r="1.65"/><circle cx="193.5" cy="316.2" r="1.65"/><circle cx="194" cy="313.6" r="1.65"/><circle cx="194.4" cy="315.3" r="1.65"/><circle cx="194.9" cy="314" r="1.65"/><circle cx="195.3" cy="313.8" r="1.65"/><circle cx="195.8" cy="315.9" r="1.65"/><circle cx="196.2" cy="315" r="1.65"/><circle cx="196.6" cy="314.3" r="1.65"/><circle cx="197.1" cy="315.3" r="1.65"/><circle cx="197.5" cy="313.4" r="1.65"/><circle cx="198" cy="308.8" r="1.65"/><circle cx="198.4" cy="313.2" r="1.65"/><circle cx="198.9" cy="315.1" r="1.65"/><circle cx="199.3" cy="321.1" r="1.65"/><circle cx="199.8" cy="314.1" r="1.65"/><circle cx="200.2" cy="322.1" r="1.65"/><circle cx="200.7" cy="320.4" r="1.65"/><circle cx="201.1" cy="312.7" r="1.65"/><circle cx="201.5" cy="313.3" r="1.65"/><circle cx="202" cy="316.3" r="1.65"/><circle cx="202.4" cy="321.7" r="1.65"/><circle cx="202.9" cy="317.2" r="1.65"/><circle cx="203.3" cy="318.3" r="1.65"/><circle cx="203.8" cy="313.9" r="1.65"/><circle cx="204.2" cy="308.4" r="1.65"/><circle cx="204.7" cy="315.4" r="1.65"/><circle cx="205.1" cy="318.9" r="1.65"/><circle cx="205.6" cy="320.3" r="1.65"/><circle cx="206" cy="316.6" r="1.65"/><circle cx="206.5" cy="317" r="1.65"/><circle cx="206.9" cy="320.4" r="1.65"/><circle cx="207.3" cy="316.2" r="1.65"/><circle cx="207.8" cy="320.6" r="1.65"/><circle cx="208.2" cy="312.9" r="1.65"/><circle cx="208.7" cy="313.2" r="1.65"/><circle cx="209.1" cy="313.1" r="1.65"/><circle cx="209.6" cy="318.5" r="1.65"/><circle cx="210" cy="315.2" r="1.65"/><circle cx="210.5" cy="317.5" r="1.65"/><circle cx="210.9" cy="318.4" r="1.65"/><circle cx="211.4" cy="318.3" r="1.65"/><circle cx="211.8" cy="321.6" r="1.65"/><circle cx="212.3" cy="322.2" r="1.65"/><circle cx="212.7" cy="314.6" r="1.65"/><circle cx="213.1" cy="318" r="1.65"/><circle cx="213.6" cy="316.7" r="1.65"/><circle cx="214" cy="314.1" r="1.65"/><circle cx="214.5" cy="323.5" r="1.65"/><circle cx="214.9" cy="320.3" r="1.65"/><circle cx="215.4" cy="317.1" r="1.65"/><circle cx="215.8" cy="316.4" r="1.65"/><circle cx="216.3" cy="319.1" r="1.65"/><circle cx="216.7" cy="314.4" r="1.65"/><circle cx="217.2" cy="317.2" r="1.65"/><circle cx="217.6" cy="322.1" r="1.65"/><circle cx="218" cy="321.2" r="1.65"/><circle cx="218.5" cy="315.4" r="1.65"/><circle cx="218.9" cy="316.6" r="1.65"/><circle cx="219.4" cy="324.7" r="1.65"/><circle cx="219.8" cy="313.7" r="1.65"/><circle cx="220.3" cy="316.3" r="1.65"/><circle cx="220.7" cy="313.9" r="1.65"/><circle cx="221.2" cy="319.8" r="1.65"/><circle cx="221.6" cy="319.5" r="1.65"/><circle cx="222.1" cy="322.4" r="1.65"/><circle cx="222.5" cy="310" r="1.65"/><circle cx="223" cy="319.3" r="1.65"/><circle cx="223.4" cy="313.4" r="1.65"/><circle cx="223.8" cy="321" r="1.65"/><circle cx="224.3" cy="318.3" r="1.65"/><circle cx="224.7" cy="324.6" r="1.65"/><circle cx="225.2" cy="320.3" r="1.65"/><circle cx="225.6" cy="315.7" r="1.65"/><circle cx="226.1" cy="323.4" r="1.65"/><circle cx="226.5" cy="315.5" r="1.65"/></g><g fill="#999"><circle cx="36.6" cy="197.4" r="0.5"/><circle cx="37.1" cy="206.6" r="0.5"/><circle cx="37.6" cy="215.4" r="0.5"/><circle cx="38" cy="220.5" r="0.5"/><circle cx="38.5" cy="224.1" r="0.5"/><circle cx="38.9" cy="226.9" r="0.5"/><circle cx="39.4" cy="228.6" r="0.5"/><circle cx="39.8" cy="229.8" r="0.5"/><circle cx="40.3" cy="231.7" r="0.5"/><circle cx="40.7" cy="233" r="0.5"/><circle cx="41.2" cy="233.6" r="0.5"/><circle cx="41.6" cy="234.6" r="0.5"/><circle cx="42.1" cy="235.5" r="0.5"/><circle cx="42.5" cy="237" r="0.5"/><circle cx="42.9" cy="237.3" r="0.5"/><circle cx="43.4" cy="237.5" r="0.5"/><circle cx="43.8" cy="239.7" r="0.5"/><circle cx="44.3" cy="239.7" r="0.5"/><circle cx="44.7" cy="241.6" r="0.5"/><circle cx="45.2" cy="241.7" r="0.5"/><circle cx="45.6" cy="242.9" r="0.5"/><circle cx="46.1" cy="242" r="0.5"/><circle cx="46.5" cy="243.6" r="0.5"/><circle cx="47" cy="242.5" r="0.5"/><circle cx="47.4" cy="243.2" r="0.5"/><circle cx="47.9" cy="244.2" r="0.5"/><circle cx="48.3" cy="247.7" r="0.5"/><circle cx="48.7" cy="245.8" r="0.5"/><circle cx="49.2" cy="245.7" r="0.5"/><circle cx="49.6" cy="246.1" r="0.5"/><circle cx="50.1" cy="249" r="0.5"/><circle cx="50.5" cy="248.1" r="0.5"/><circle cx="51" cy="249.4" r="0.5"/><circle cx="51.4" cy="249.8" r="0.5"/><circle cx="51.9" cy="247.2" r="0.5"/><circle cx="52.3" cy="250.9" r="0.5"/><circle cx="52.8" cy="250.1" r="0.5"/><circle cx="53.2" cy="249" r="0.5"/><circle cx="53.7" cy="252.2" r="0.5"/><circle cx="54.1" cy="251.9" r="0.5"/><circle cx="54.5" cy="252" r="0.5"/><circle cx="55" cy="252.6" r="0.5"/><circle cx="55.4" cy="255.9" r="0.5"/><circle cx="55.9" cy="253.7" r="0.5"/><circle cx="56.3" cy="251.4" r="0.5"/><circle cx="56.8" cy="258.4" r="0.5"/><circle cx="57.2" cy="253.5" r="0.5"/><circle cx="57.7" cy="255.7" r="0.5"/><circle cx="58.1" cy="258" r="0.5"/><circle cx="58.6" cy="252.1" r="0.5"/><circle cx="59" cy="255.6" r="0.5"/><circle cx="59.4" cy="261.1" r="0.5"/><circle cx="59.9" cy="258.3" r="0.5"/><circle cx="60.3" cy="257.5" r="0.5"/><circle cx="60.8" cy="260" r="0.5"/><circle cx="61.2" cy="258.1" r="0.5"/><circle cx="61.7" cy="260.6" r="0.5"/><circle cx="62.1" cy="259" r="0.5"/><circle cx="62.6" cy="257.2" r="0.5"/><circle cx="63" cy="263.9" r="0.5"/><circle cx="63.5" cy="261.7" r="0.5"/><circle cx="63.9" cy="264.2" r="0.5"/><circle cx="64.4" cy="262.8" r="0.5"/><circle cx="64.8" cy="267.4" r="0.5"/><circle cx="65.2" cy="266" r="0.5"/><circle cx="65.7" cy="265.2" r="0.5"/><circle cx="66.1" cy="262" r="0.5"/><circle cx="66.6" cy="261.5" r="0.5"/><circle cx="67" cy="270.4" r="0.5"/><circle cx="67.5" cy="269" r="0.5"/><circle cx="67.9" cy="264.5" r="0.5"/><circle cx="68.4" cy="273.9" r="0.5"/><circle cx="68.8" cy="269.1" r="0.5"/><circle cx="69.3" cy="268.3" r="0.5"/><circle cx="69.7" cy="264.1" r="0.5"/><circle cx="70.2" cy="266.4" r="0.5"/><circle cx="70.6" cy="270.3" r="0.5"/><circle cx="71" cy="270.8" r="0.5"/><circle cx="71.5" cy="270.8" r="0.5"/><circle cx="71.9" cy="265.2" r="0.5"/><circle cx="72.4" cy="272.2" r="0.5"/><circle cx="72.8" cy="272.2" r="0.5"/><circle cx="73.3" cy="270.4" r="0.5"/><circle cx="73.7" cy="272.4" r="0.5"/><circle cx="74.2" cy="273.1" r="0.5"/><circle cx="74.6" cy="276.6" r="0.5"/><circle cx="75.1" cy="273.2" r="0.5"/><circle cx="75.5" cy="275.1" r="0.5"/><circle cx="75.9" cy="270" r="0.5"/><circle cx="76.4" cy="272.1" r="0.5"/><circle cx="76.8" cy="274.8" r="0.5"/><circle cx="77.3" cy="272.9" r="0.5"/><circle cx="77.7" cy="276.7" r="0.5"/><circle cx="78.2" cy="272.3" r="0.5"/><circle cx="78.6" cy="276.3" r="0.5"/><circle cx="79.1" cy="274.6" r="0.5"/><circle cx="79.5" cy="281.4" r="0.5"/><circle cx="80" cy="276.2" r="0.5"/><circle cx="80.4" cy="283.5" r="0.5"/><circle cx="80.9" cy="285" r="0.5"/><circle cx="81.3" cy="279.5" r="0.5"/><circle cx="81.7" cy="281.8" r="0.5"/><circle cx="82.2" cy="278.6" r="0.5"/><circle cx="82.6" cy="271.8" r="0.5"/><circle cx="83.1" cy="282.6" r="0.5"/><circle cx="83.5" cy="282.3" r="0.5"/><circle cx="84" cy="279.8" r="0.5"/><circle cx="84.4" cy="279.1" r="0.5"/><circle cx="84.9" cy="281.7" r="0.5"/><circle cx="85.3" cy="282.1" r="0.5"/><circle cx="85.8" cy="279.3" r="0.5"/><circle cx="86.2" cy="280.3" r="0.5"/><circle cx="86.6" cy="285.8" r="0.5"/><circle cx="87.1" cy="282.9" r="0.5"/><circle cx="87.5" cy="282.8" r="0.5"/><circle cx="88" cy="286.7" r="0.5"/><circle cx="88.4" cy="282.6" r="0.5"/><circle cx="88.9" cy="286.6" r="0.5"/><circle cx="89.3" cy="280.7" r="0.5"/><circle cx="89.8" cy="283.6" r="0.5"/><circle cx="90.2" cy="284.2" r="0.5"/><circle cx="90.7" cy="286.8" r="0.5"/><circle cx="91.1" cy="285.4" r="0.5"/><circle cx="91.6" cy="292.1" r="0.5"/><circle cx="92" cy="289.4" r="0.5"/><circle cx="92.4" cy="284.5" r="0.5"/><circle cx="92.9" cy="293.2" r="0.5"/><circle cx="93.3" cy="283.4" r="0.5"/><circle cx="93.8" cy="292.4" r="0.5"/><circle cx="94.2" cy="284.1" r="0.5"/><circle cx="94.7" cy="289.8" r="0.5"/><circle cx="95.1" cy="284.5" r="0.5"/><circle cx="95.6" cy="287" r="0.5"/><circle cx="96" cy="292.9" r="0.5"/><circle cx="96.5" cy="283.6" r="0.5"/><circle cx="96.9" cy="283.2" r="0.5"/><circle cx="97.4" cy="288.5" r="0.5"/><circle cx="97.8" cy="289.5" r="0.5"/><circle cx="98.2" cy="289.3" r="0.5"/><circle cx="98.7" cy="292.3" r="0.5"/><circle cx="99.1" cy="285.4" r="0.5"/><circle cx="99.6" cy="291.2" r="0.5"/><circle cx="100" cy="289.7" r="0.5"/><circle cx="100.5" cy="292.5" r="0.5"/><circle cx="100.9" cy="292.1" r="0.5"/><circle cx="101.4" cy="294.5" r="0.5"/><circle cx="101.8" cy="286.1" r="0.5"/><circle cx="102.3" cy="291.1" r="0.5"/><circle cx="102.7" cy="287.5" r="0.5"/><circle cx="103.1" cy="290.9" r="0.5"/><circle cx="103.6" cy="293.5" r="0.5"/><circle cx="104" cy="292.5" r="0.5"/><circle cx="104.5" cy="293.5" r="0.5"/><circle cx="104.9" cy="291.7" r="0.5"/><circle cx="105.4" cy="293.2" r="0.5"/><circle cx="105.8" cy="293.1" r="0.5"/><circle cx="106.3" cy="297" r="0.5"/><circle cx="106.7" cy="295.2" r="0.5"/><circle cx="107.2" cy="287.1" r="0.5"/><circle cx="107.6" cy="295.1" r="0.5"/><circle cx="108.1" cy="296.6" r="0.5"/><circle cx="108.5" cy="292.1" r="0.5"/><circle cx="108.9" cy="288.6" r="0.5"/><circle cx="109.4" cy="298.5" r="0.5"/><circle cx="109.8" cy="294.5" r="0.5"/><circle cx="110.3" cy="296.1" r="0.5"/><circle cx="110.7" cy="300.1" r="0.5"/><circle cx="111.2" cy="291.8" r="0.5"/><circle cx="111.6" cy="294.5" r="0.5"/><circle cx="112.1" cy="294.3" r="0.5"/><circle cx="112.5" cy="297.3" r="0.5"/><circle cx="113" cy="293.4" r="0.5"/><circle cx="113.4" cy="296.9" r="0.5"/><circle cx="113.8" cy="295.7" r="0.5"/><circle cx="114.3" cy="299.2" r="0.5"/><circle cx="114.7" cy="299.7" r="0.5"/><circle cx="115.2" cy="291.2" r="0.5"/><circle cx="115.6" cy="297.6" r="0.5"/><circle cx="116.1" cy="295" r="0.5"/><circle cx="116.5" cy="296.3" r="0.5"/><circle cx="117" cy="297.8" r="0.5"/><circle cx="117.4" cy="298.2" r="0.5"/><circle cx="117.9" cy="294.5" r="0.5"/><circle cx="118.3" cy="297.8" r="0.5"/><circle cx="118.8" cy="297.5" r="0.5"/><circle cx="119.2" cy="297" r="0.5"/><circle cx="119.6" cy="293.2" r="0.5"/><circle cx="120.1" cy="295.1" r="0.5"/><circle cx="120.5" cy="296.2" r="0.5"/><circle cx="121" cy="299.6" r="0.5"/><circle cx="121.4" cy="302.5" r="0.5"/><circle cx="121.9" cy="294.7" r="0.5"/><circle cx="122.3" cy="294.8" r="0.5"/><circle cx="122.8" cy="298.7" r="0.5"/><circle cx="123.2" cy="296.5" r="0.5"/><circle cx="123.7" cy="295.9" r="0.5"/><circle cx="124.1" cy="295.8" r="0.5"/><circle cx="124.6" cy="295.7" r="0.5"/><circle cx="125" cy="300.5" r="0.5"/><circle cx="125.4" cy="293.9" r="0.5"/><circle cx="125.9" cy="303.4" r="0.5"/><circle cx="126.3" cy="296.4" r="0.5"/><circle cx="126.8" cy="297.8" r="0.5"/><circle cx="127.2" cy="296.6" r="0.5"/><circle cx="127.7" cy="293.3" r="0.5"/><circle cx="128.1" cy="294.8" r="0.5"/><circle cx="128.6" cy="303.9" r="0.5"/><circle cx="129" cy="305.8" r="0.5"/><circle cx="129.5" cy="297.5" r="0.5"/><circle cx="129.9" cy="303.8" r="0.5"/><circle cx="130.3" cy="300.5" r="0.5"/><circle cx="130.8" cy="297.7" r="0.5"/><circle cx="131.2" cy="306.3" r="0.5"/><circle cx="131.7" cy="308" r="0.5"/><circle cx="132.1" cy="300.1" r="0.5"/><circle cx="132.6" cy="300.9" r="0.5"/><circle cx="133" cy="302.1" r="0.5"/><circle cx="133.5" cy="301.2" r="0.5"/><circle cx="133.9" cy="304.4" r="0.5"/><circle cx="134.4" cy="306.7" r="0.5"/><circle cx="134.8" cy="302.3" r="0.5"/><circle cx="135.3" cy="305.1" r="0.5"/><circle cx="135.7" cy="307.5" r="0.5"/><circle cx="136.1" cy="300.3" r="0.5"/><circle cx="136.6" cy="302.4" r="0.5"/><circle cx="137" cy="300.9" r="0.5"/><circle cx="137.5" cy="305.7" r="0.5"/><circle cx="137.9" cy="304.7" r="0.5"/><circle cx="138.4" cy="306" r="0.5"/><circle cx="138.8" cy="305.7" r="0.5"/><circle cx="139.3" cy="302.2" r="0.5"/><circle cx="139.7" cy="305.6" r="0.5"/><circle cx="140.2" cy="301.8" r="0.5"/><circle cx="140.6" cy="302" r="0.5"/><circle cx="141.1" cy="296.4" r="0.5"/><circle cx="141.5" cy="308.1" r="0.5"/><circle cx="141.9" cy="300.5" r="0.5"/><circle cx="142.4" cy="303.9" r="0.5"/><circle cx="142.8" cy="303.7" r="0.5"/><circle cx="143.3" cy="308.7" r="0.5"/><circle cx="143.7" cy="305.5" r="0.5"/><circle cx="144.2" cy="301.5" r="0.5"/><circle cx="144.6" cy="304.4" r="0.5"/><circle cx="145.1" cy="303.9" r="0.5"/><circle cx="145.5" cy="305.3" r="0.5"/><circle cx="146" cy="300.5" r="0.5"/><circle cx="146.4" cy="304.6" r="0.5"/><circle cx="146.8" cy="312.1" r="0.5"/><circle cx="147.3" cy="307" r="0.5"/><circle cx="147.7" cy="311.5" r="0.5"/><circle cx="148.2" cy="315.9" r="0.5"/><circle cx="148.6" cy="306.8" r="0.5"/><circle cx="149.1" cy="300.5" r="0.5"/><circle cx="149.5" cy="305" r="0.5"/><circle cx="150" cy="309.2" r="0.5"/><circle cx="150.4" cy="308.6" r="0.5"/><circle cx="150.9" cy="301.6" r="0.5"/><circle cx="151.3" cy="305" r="0.5"/><circle cx="151.8" cy="305.5" r="0.5"/><circle cx="152.2" cy="305.9" r="0.5"/><circle cx="152.6" cy="305.7" r="0.5"/><circle cx="153.1" cy="303.2" r="0.5"/><circle cx="153.5" cy="304.1" r="0.5"/><circle cx="154" cy="305.4" r="0.5"/><circle cx="154.4" cy="309.8" r="0.5"/><circle cx="154.9" cy="304.6" r="0.5"/><circle cx="155.3" cy="308.7" r="0.5"/><circle cx="155.8" cy="302.8" r="0.5"/><circle cx="156.2" cy="310.9" r="0.5"/><circle cx="156.7" cy="307.2" r="0.5"/><circle cx="157.1" cy="306.8" r="0.5"/><circle cx="157.5" cy="311.4" r="0.5"/><circle cx="158" cy="301.2" r="0.5"/><circle cx="158.4" cy="302.1" r="0.5"/><circle cx="158.9" cy="308.8" r="0.5"/><circle cx="159.3" cy="304.7" r="0.5"/><circle cx="159.8" cy="306.1" r="0.5"/><circle cx="160.2" cy="316.4" r="0.5"/><circle cx="160.7" cy="306.8" r="0.5"/><circle cx="161.1" cy="308" r="0.5"/><circle cx="161.6" cy="307.6" r="0.5"/><circle cx="162" cy="311.6" r="0.5"/><circle cx="162.5" cy="309" r="0.5"/><circle cx="162.9" cy="308.8" r="0.5"/><circle cx="163.3" cy="304.3" r="0.5"/><circle cx="163.8" cy="307.3" r="0.5"/><circle cx="164.2" cy="308.6" r="0.5"/><circle cx="164.7" cy="303.5" r="0.5"/><circle cx="165.1" cy="310.7" r="0.5"/><circle cx="165.6" cy="310.2" r="0.5"/><circle cx="166" cy="315.2" r="0.5"/><circle cx="166.5" cy="303.8" r="0.5"/><circle cx="166.9" cy="306" r="0.5"/><circle cx="167.4" cy="306.2" r="0.5"/><circle cx="167.8" cy="307.2" r="0.5"/><circle cx="168.3" cy="309.2" r="0.5"/><circle cx="168.7" cy="308.9" r="0.5"/><circle cx="169.1" cy="310.6" r="0.5"/><circle cx="169.6" cy="310.6" r="0.5"/><circle cx="170" cy="309.8" r="0.5"/><circle cx="170.5" cy="305" r="0.5"/><circle cx="170.9" cy="308.3" r="0.5"/><circle cx="171.4" cy="310.5" r="0.5"/><circle cx="171.8" cy="312.4" r="0.5"/><circle cx="172.3" cy="312.7" r="0.5"/><circle cx="172.7" cy="305.2" r="0.5"/><circle cx="173.2" cy="309" r="0.5"/><circle cx="173.6" cy="310.6" r="0.5"/><circle cx="174" cy="312.1" r="0.5"/><circle cx="174.5" cy="314.8" r="0.5"/><circle cx="174.9" cy="311.3" r="0.5"/><circle cx="175.4" cy="308.2" r="0.5"/><circle cx="175.8" cy="312.6" r="0.5"/><circle cx="176.3" cy="312.1" r="0.5"/><circle cx="176.7" cy="312.2" r="0.5"/><circle cx="177.2" cy="311.2" r="0.5"/><circle cx="177.6" cy="317" r="0.5"/><circle cx="178.1" cy="312.5" r="0.5"/><circle cx="178.5" cy="314.7" r="0.5"/><circle cx="179" cy="308.8" r="0.5"/><circle cx="179.4" cy="314.6" r="0.5"/><circle cx="179.8" cy="310.1" r="0.5"/><circle cx="180.3" cy="306.9" r="0.5"/><circle cx="180.7" cy="313.2" r="0.5"/><circle cx="181.2" cy="314.3" r="0.5"/><circle cx="181.6" cy="311.7" r="0.5"/><circle cx="182.1" cy="312.4" r="0.5"/><circle cx="182.5" cy="315.9" r="0.5"/><circle cx="183" cy="311" r="0.5"/><circle cx="183.4" cy="305.8" r="0.5"/><circle cx="183.9" cy="313.6" r="0.5"/><circle cx="184.3" cy="313.5" r="0.5"/><circle cx="184.7" cy="316.4" r="0.5"/><circle cx="185.2" cy="311.8" r="0.5"/><circle cx="185.6" cy="317.2" r="0.5"/><circle cx="186.1" cy="316.8" r="0.5"/><circle cx="186.5" cy="308.8" r="0.5"/><circle cx="187" cy="316.3" r="0.5"/><circle cx="187.4" cy="309.6" r="0.5"/><circle cx="187.9" cy="308.2" r="0.5"/><circle cx="188.3" cy="312.6" r="0.5"/><circle cx="188.8" cy="311.6" r="0.5"/><circle cx="189.2" cy="306.9" r="0.5"/><circle cx="189.7" cy="314.3" r="0.5"/><circle cx="190.1" cy="315.7" r="0.5"/><circle cx="190.5" cy="318.4" r="0.5"/><circle cx="191" cy="313.7" r="0.5"/><circle cx="191.4" cy="308.9" r="0.5"/><circle cx="191.9" cy="310.7" r="0.5"/><circle cx="192.3" cy="317.3" r="0.5"/><circle cx="192.8" cy="317" r="0.5"/><circle cx="193.2" cy="315.9" r="0.5"/><circle cx="193.7" cy="313.3" r="0.5"/><circle cx="194.1" cy="315" r="0.5"/><circle cx="194.6" cy="313.7" r="0.5"/><circle cx="195" cy="313.5" r="0.5"/><circle cx="195.5" cy="315.6" r="0.5"/><circle cx="195.9" cy="314.7" r="0.5"/><circle cx="196.3" cy="314" r="0.5"/><circle cx="196.8" cy="315" r="0.5"/><circle cx="197.2" cy="313.1" r="0.5"/><circle cx="197.7" cy="308.5" r="0.5"/><circle cx="198.1" cy="312.9" r="0.5"/><circle cx="198.6" cy="314.8" r="0.5"/><circle cx="199" cy="320.8" r="0.5"/><circle cx="199.5" cy="313.8" r="0.5"/><circle cx="199.9" cy="321.8" r="0.5"/><circle cx="200.4" cy="320.1" r="0.5"/><circle cx="200.8" cy="312.4" r="0.5"/><circle cx="201.2" cy="313" r="0.5"/><circle cx="201.7" cy="316" r="0.5"/><circle cx="202.1" cy="321.4" r="0.5"/><circle cx="202.6" cy="316.9" r="0.5"/><circle cx="203" cy="318" r="0.5"/><circle cx="203.5" cy="313.6" r="0.5"/><circle cx="203.9" cy="308.1" r="0.5"/><circle cx="204.4" cy="315.1" r="0.5"/><circle cx="204.8" cy="318.6" r="0.5"/><circle cx="205.3" cy="320" r="0.5"/><circle cx="205.7" cy="316.3" r="0.5"/><circle cx="206.2" cy="316.7" r="0.5"/><circle cx="206.6" cy="320.1" r="0.5"/><circle cx="207" cy="315.9" r="0.5"/><circle cx="207.5" cy="320.3" r="0.5"/><circle cx="207.9" cy="312.6" r="0.5"/><circle cx="208.4" cy="312.9" r="0.5"/><circle cx="208.8" cy="312.8" r="0.5"/><circle cx="209.3" cy="318.2" r="0.5"/><circle cx="209.7" cy="314.9" r="0.5"/><circle cx="210.2" cy="317.2" r="0.5"/><circle cx="210.6" cy="318.1" r="0.5"/><circle cx="211.1" cy="318" r="0.5"/><circle cx="211.5" cy="321.3" r="0.5"/><circle cx="212" cy="321.9" r="0.5"/><circle cx="212.4" cy="314.3" r="0.5"/><circle cx="212.8" cy="317.7" r="0.5"/><circle cx="213.3" cy="316.4" r="0.5"/><circle cx="213.7" cy="313.8" r="0.5"/><circle cx="214.2" cy="323.2" r="0.5"/><circle cx="214.6" cy="320" r="0.5"/><circle cx="215.1" cy="316.8" r="0.5"/><circle cx="215.5" cy="316.1" r="0.5"/><circle cx="216" cy="318.8" r="0.5"/><circle cx="216.4" cy="314.1" r="0.5"/><circle cx="216.9" cy="316.9" r="0.5"/><circle cx="217.3" cy="321.8" r="0.5"/><circle cx="217.7" cy="320.9" r="0.5"/><circle cx="218.2" cy="315.1" r="0.5"/><circle cx="218.6" cy="316.3" r="0.5"/><circle cx="219.1" cy="324.4" r="0.5"/><circle cx="219.5" cy="313.4" r="0.5"/><circle cx="220" cy="316" r="0.5"/><circle cx="220.4" cy="313.6" r="0.5"/><circle cx="220.9" cy="319.5" r="0.5"/><circle cx="221.3" cy="319.2" r="0.5"/><circle cx="221.8" cy="322.1" r="0.5"/><circle cx="222.2" cy="309.7" r="0.5"/><circle cx="222.7" cy="319" r="0.5"/><circle cx="223.1" cy="313.1" r="0.5"/><circle cx="223.5" cy="320.7" r="0.5"/><circle cx="224" cy="318" r="0.5"/><circle cx="224.4" cy="324.3" r="0.5"/><circle cx="224.9" cy="320" r="0.5"/><circle cx="225.3" cy="315.4" r="0.5"/><circle cx="225.8" cy="323.1" r="0.5"/><circle cx="226.2" cy="315.2" r="0.5"/></g><g fill="#0000ff" stroke="#0000ff" stroke-width="0.4"><circle cx="36.9" cy="197.7" r="1.65"/><circle cx="37.4" cy="207.4" r="1.65"/><circle cx="37.9" cy="219.9" r="1.65"/><circle cx="38.3" cy="221.4" r="1.65"/><circle cx="38.8" cy="222.1" r="1.65"/><circle cx="39.2" cy="222.7" r="1.65"/><circle cx="39.7" cy="223.4" r="1.65"/><circle cx="40.1" cy="223.9" r="1.65"/><circle cx="40.6" cy="224.6" r="1.65"/><circle cx="41" cy="225.2" r="1.65"/><circle cx="41.5" cy="225.5" r="1.65"/><circle cx="41.9" cy="225.7" r="1.65"/><circle cx="42.4" cy="226.7" r="1.65"/><circle cx="42.8" cy="226.6" r="1.65"/><circle cx="43.2" cy="227.2" r="1.65"/><circle cx="43.7" cy="227.6" r="1.65"/><circle cx="44.1" cy="227.3" r="1.65"/><circle cx="44.6" cy="228.1" r="1.65"/><circle cx="45" cy="227.6" r="1.65"/><circle cx="45.5" cy="228.8" r="1.65"/><circle cx="45.9" cy="228.5" r="1.65"/><circle cx="46.4" cy="229.1" r="1.65"/><circle cx="46.8" cy="229.6" r="1.65"/><circle cx="47.3" cy="229.2" r="1.65"/><circle cx="47.7" cy="229.8" r="1.65"/><circle cx="48.2" cy="229.6" r="1.65"/><circle cx="48.6" cy="230.2" r="1.65"/><circle cx="49" cy="231" r="1.65"/><circle cx="49.5" cy="230.6" r="1.65"/><circle cx="49.9" cy="230.7" r="1.65"/><circle cx="50.4" cy="230.3" r="1.65"/><circle cx="50.8" cy="231.8" r="1.65"/><circle cx="51.3" cy="231.4" r="1.65"/><circle cx="51.7" cy="232.8" r="1.65"/><circle cx="52.2" cy="231.2" r="1.65"/><circle cx="52.6" cy="232.7" r="1.65"/><circle cx="53.1" cy="233.5" r="1.65"/><circle cx="53.5" cy="232.2" r="1.65"/><circle cx="54" cy="231.4" r="1.65"/><circle cx="54.4" cy="233.9" r="1.65"/><circle cx="54.8" cy="233.7" r="1.65"/><circle cx="55.3" cy="233.5" r="1.65"/><circle cx="55.7" cy="234" r="1.65"/><circle cx="56.2" cy="232.7" r="1.65"/><circle cx="56.6" cy="234" r="1.65"/><circle cx="57.1" cy="234.1" r="1.65"/><circle cx="57.5" cy="232.8" r="1.65"/><circle cx="58" cy="234.4" r="1.65"/><circle cx="58.4" cy="233.2" r="1.65"/><circle cx="58.9" cy="235" r="1.65"/><circle cx="59.3" cy="235.4" r="1.65"/><circle cx="59.7" cy="236.3" r="1.65"/><circle cx="60.2" cy="231.9" r="1.65"/><circle cx="60.6" cy="234.7" r="1.65"/><circle cx="61.1" cy="234.1" r="1.65"/><circle cx="61.5" cy="234.5" r="1.65"/><circle cx="62" cy="234.4" r="1.65"/><circle cx="62.4" cy="234.6" r="1.65"/><circle cx="62.9" cy="232.2" r="1.65"/><circle cx="63.3" cy="236.4" r="1.65"/><circle cx="63.8" cy="237.2" r="1.65"/><circle cx="64.2" cy="236.6" r="1.65"/><circle cx="64.7" cy="237.2" r="1.65"/><circle cx="65.1" cy="234.2" r="1.65"/><circle cx="65.5" cy="234.2" r="1.65"/><circle cx="66" cy="237" r="1.65"/><circle cx="66.4" cy="237.8" r="1.65"/><circle cx="66.9" cy="236.3" r="1.65"/><circle cx="67.3" cy="233.6" r="1.65"/><circle cx="67.8" cy="240.4" r="1.65"/><circle cx="68.2" cy="235.2" r="1.65"/><circle cx="68.7" cy="237.8" r="1.65"/><circle cx="69.1" cy="234.5" r="1.65"/><circle cx="69.6" cy="238" r="1.65"/><circle cx="70" cy="236.9" r="1.65"/><circle cx="70.5" cy="238.9" r="1.65"/><circle cx="70.9" cy="238.2" r="1.65"/><circle cx="71.3" cy="234.5" r="1.65"/><circle cx="71.8" cy="235.5" r="1.65"/><circle cx="72.2" cy="237.5" r="1.65"/><circle cx="72.7" cy="238.4" r="1.65"/><circle cx="73.1" cy="240.1" r="1.65"/><circle cx="73.6" cy="237.8" r="1.65"/><circle cx="74" cy="237.3" r="1.65"/><circle cx="74.5" cy="237.5" r="1.65"/><circle cx="74.9" cy="237.6" r="1.65"/><circle cx="75.4" cy="239.4" r="1.65"/><circle cx="75.8" cy="237.8" r="1.65"/><circle cx="76.2" cy="237.8" r="1.65"/><circle cx="76.7" cy="235.8" r="1.65"/><circle cx="77.1" cy="235" r="1.65"/><circle cx="77.6" cy="238.3" r="1.65"/><circle cx="78" cy="239.4" r="1.65"/><circle cx="78.5" cy="238.3" r="1.65"/><circle cx="78.9" cy="239.3" r="1.65"/><circle cx="79.4" cy="239.6" r="1.65"/><circle cx="79.8" cy="238.6" r="1.65"/><circle cx="80.3" cy="240.3" r="1.65"/><circle cx="80.7" cy="237.7" r="1.65"/><circle cx="81.2" cy="238.9" r="1.65"/><circle cx="81.6" cy="238.4" r="1.65"/><circle cx="82" cy="239.2" r="1.65"/><circle cx="82.5" cy="240.2" r="1.65"/><circle cx="82.9" cy="240.6" r="1.65"/><circle cx="83.4" cy="239.5" r="1.65"/><circle cx="83.8" cy="240.1" r="1.65"/><circle cx="84.3" cy="238.9" r="1.65"/><circle cx="84.7" cy="239.4" r="1.65"/><circle cx="85.2" cy="241.7" r="1.65"/><circle cx="85.6" cy="239.4" r="1.65"/><circle cx="86.1" cy="241.8" r="1.65"/><circle cx="86.5" cy="240.7" r="1.65"/><circle cx="86.9" cy="240.3" r="1.65"/><circle cx="87.4" cy="243.2" r="1.65"/><circle cx="87.8" cy="239.9" r="1.65"/><circle cx="88.3" cy="239.9" r="1.65"/><circle cx="88.7" cy="240.5" r="1.65"/><circle cx="89.2" cy="241" r="1.65"/><circle cx="89.6" cy="241.1" r="1.65"/><circle cx="90.1" cy="242.2" r="1.65"/><circle cx="90.5" cy="241.2" r="1.65"/><circle cx="91" cy="241.8" r="1.65"/><circle cx="91.4" cy="241" r="1.65"/><circle cx="91.9" cy="243.2" r="1.65"/><circle cx="92.3" cy="241.1" r="1.65"/><circle cx="92.7" cy="241.5" r="1.65"/><circle cx="93.2" cy="242.1" r="1.65"/><circle cx="93.6" cy="242.8" r="1.65"/><circle cx="94.1" cy="241.4" r="1.65"/><circle cx="94.5" cy="245.2" r="1.65"/><circle cx="95" cy="242" r="1.65"/><circle cx="95.4" cy="242.6" r="1.65"/><circle cx="95.9" cy="242.7" r="1.65"/><circle cx="96.3" cy="242.7" r="1.65"/><circle cx="96.8" cy="244.6" r="1.65"/><circle cx="97.2" cy="244.2" r="1.65"/><circle cx="97.7" cy="242.9" r="1.65"/><circle cx="98.1" cy="243.4" r="1.65"/><circle cx="98.5" cy="243.9" r="1.65"/><circle cx="99" cy="246.8" r="1.65"/><circle cx="99.4" cy="243.7" r="1.65"/><circle cx="99.9" cy="242.8" r="1.65"/><circle cx="100.3" cy="243.1" r="1.65"/><circle cx="100.8" cy="244.4" r="1.65"/><circle cx="101.2" cy="247.4" r="1.65"/><circle cx="101.7" cy="243.5" r="1.65"/><circle cx="102.1" cy="245.3" r="1.65"/><circle cx="102.6" cy="249.2" r="1.65"/><circle cx="103" cy="244.7" r="1.65"/><circle cx="103.4" cy="247.7" r="1.65"/><circle cx="103.9" cy="247.5" r="1.65"/><circle cx="104.3" cy="246.5" r="1.65"/><circle cx="104.8" cy="243.5" r="1.65"/><circle cx="105.2" cy="246.2" r="1.65"/><circle cx="105.7" cy="245.3" r="1.65"/><circle cx="106.1" cy="243" r="1.65"/><circle cx="106.6" cy="243.3" r="1.65"/><circle cx="107" cy="246.1" r="1.65"/><circle cx="107.5" cy="246.4" r="1.65"/><circle cx="107.9" cy="248.1" r="1.65"/><circle cx="108.4" cy="247.2" r="1.65"/><circle cx="108.8" cy="245.5" r="1.65"/><circle cx="109.2" cy="245.6" r="1.65"/><circle cx="109.7" cy="246.1" r="1.65"/><circle cx="110.1" cy="244.8" r="1.65"/><circle cx="110.6" cy="247.7" r="1.65"/><circle cx="111" cy="246.6" r="1.65"/><circle cx="111.5" cy="245.4" r="1.65"/><circle cx="111.9" cy="245.7" r="1.65"/><circle cx="112.4" cy="244.9" r="1.65"/><circle cx="112.8" cy="246.1" r="1.65"/><circle cx="113.3" cy="247.2" r="1.65"/><circle cx="113.7" cy="246.2" r="1.65"/><circle cx="114.1" cy="248.5" r="1.65"/><circle cx="114.6" cy="249.5" r="1.65"/><circle cx="115" cy="246" r="1.65"/><circle cx="115.5" cy="247.1" r="1.65"/><circle cx="115.9" cy="246.6" r="1.65"/><circle cx="116.4" cy="249.8" r="1.65"/><circle cx="116.8" cy="247.7" r="1.65"/><circle cx="117.3" cy="248.2" r="1.65"/><circle cx="117.7" cy="248.6" r="1.65"/><circle cx="118.2" cy="250.9" r="1.65"/><circle cx="118.6" cy="247.9" r="1.65"/><circle cx="119.1" cy="245.9" r="1.65"/><circle cx="119.5" cy="246.8" r="1.65"/><circle cx="119.9" cy="248.4" r="1.65"/><circle cx="120.4" cy="247.5" r="1.65"/><circle cx="120.8" cy="246.4" r="1.65"/><circle cx="121.3" cy="252" r="1.65"/><circle cx="121.7" cy="247.9" r="1.65"/><circle cx="122.2" cy="246.8" r="1.65"/><circle cx="122.6" cy="246.7" r="1.65"/><circle cx="123.1" cy="245.1" r="1.65"/><circle cx="123.5" cy="246" r="1.65"/><circle cx="124" cy="247.4" r="1.65"/><circle cx="124.4" cy="247.5" r="1.65"/><circle cx="124.9" cy="246.7" r="1.65"/><circle cx="125.3" cy="248.9" r="1.65"/><circle cx="125.7" cy="248.2" r="1.65"/><circle cx="126.2" cy="246.7" r="1.65"/><circle cx="126.6" cy="245.1" r="1.65"/><circle cx="127.1" cy="248.5" r="1.65"/><circle cx="127.5" cy="248.4" r="1.65"/><circle cx="128" cy="248" r="1.65"/><circle cx="128.4" cy="246.3" r="1.65"/><circle cx="128.9" cy="248.5" r="1.65"/><circle cx="129.3" cy="246.2" r="1.65"/><circle cx="129.8" cy="250.1" r="1.65"/><circle cx="130.2" cy="248.9" r="1.65"/><circle cx="130.6" cy="249" r="1.65"/><circle cx="131.1" cy="247.5" r="1.65"/><circle cx="131.5" cy="247.2" r="1.65"/><circle cx="132" cy="251.3" r="1.65"/><circle cx="132.4" cy="250.4" r="1.65"/><circle cx="132.9" cy="248.5" r="1.65"/><circle cx="133.3" cy="250.1" r="1.65"/><circle cx="133.8" cy="251.6" r="1.65"/><circle cx="134.2" cy="247.5" r="1.65"/><circle cx="134.7" cy="248.4" r="1.65"/><circle cx="135.1" cy="248.5" r="1.65"/><circle cx="135.6" cy="250.1" r="1.65"/><circle cx="136" cy="247.8" r="1.65"/><circle cx="136.4" cy="249.9" r="1.65"/><circle cx="136.9" cy="247.8" r="1.65"/><circle cx="137.3" cy="251" r="1.65"/><circle cx="137.8" cy="251" r="1.65"/><circle cx="138.2" cy="249.4" r="1.65"/><circle cx="138.7" cy="250.9" r="1.65"/><circle cx="139.1" cy="248.7" r="1.65"/><circle cx="139.6" cy="249.5" r="1.65"/><circle cx="140" cy="251.4" r="1.65"/><circle cx="140.5" cy="249.9" r="1.65"/><circle cx="140.9" cy="250.6" r="1.65"/><circle cx="141.4" cy="248.6" r="1.65"/><circle cx="141.8" cy="251.2" r="1.65"/><circle cx="142.2" cy="250.9" r="1.65"/><circle cx="142.7" cy="248.4" r="1.65"/><circle cx="143.1" cy="246.8" r="1.65"/><circle cx="143.6" cy="247.2" r="1.65"/><circle cx="144" cy="250.4" r="1.65"/><circle cx="144.5" cy="250.2" r="1.65"/><circle cx="144.9" cy="248.1" r="1.65"/><circle cx="145.4" cy="250.8" r="1.65"/><circle cx="145.8" cy="252.3" r="1.65"/><circle cx="146.3" cy="250.6" r="1.65"/><circle cx="146.7" cy="250.1" r="1.65"/><circle cx="147.1" cy="252.2" r="1.65"/><circle cx="147.6" cy="253.6" r="1.65"/><circle cx="148" cy="253.3" r="1.65"/><circle cx="148.5" cy="250" r="1.65"/><circle cx="148.9" cy="252.3" r="1.65"/><circle cx="149.4" cy="251.4" r="1.65"/><circle cx="149.8" cy="250.9" r="1.65"/><circle cx="150.3" cy="250.3" r="1.65"/><circle cx="150.7" cy="251.9" r="1.65"/><circle cx="151.2" cy="250.6" r="1.65"/><circle cx="151.6" cy="252.9" r="1.65"/><circle cx="152.1" cy="252.1" r="1.65"/><circle cx="152.5" cy="253.2" r="1.65"/><circle cx="152.9" cy="249.8" r="1.65"/><circle cx="153.4" cy="251.7" r="1.65"/><circle cx="153.8" cy="252.9" r="1.65"/><circle cx="154.3" cy="252.4" r="1.65"/><circle cx="154.7" cy="252.2" r="1.65"/><circle cx="155.2" cy="250.8" r="1.65"/><circle cx="155.6" cy="254.5" r="1.65"/><circle cx="156.1" cy="253.7" r="1.65"/><circle cx="156.5" cy="252.7" r="1.65"/><circle cx="157" cy="248.1" r="1.65"/><circle cx="157.4" cy="250.7" r="1.65"/><circle cx="157.8" cy="252.4" r="1.65"/><circle cx="158.3" cy="251.2" r="1.65"/><circle cx="158.7" cy="249.1" r="1.65"/><circle cx="159.2" cy="252.8" r="1.65"/><circle cx="159.6" cy="253.1" r="1.65"/><circle cx="160.1" cy="250.6" r="1.65"/><circle cx="160.5" cy="251.8" r="1.65"/><circle cx="161" cy="251.6" r="1.65"/><circle cx="161.4" cy="253.5" r="1.65"/><circle cx="161.9" cy="249.7" r="1.65"/><circle cx="162.3" cy="250.1" r="1.65"/><circle cx="162.8" cy="252" r="1.65"/><circle cx="163.2" cy="251.8" r="1.65"/><circle cx="163.6" cy="256.2" r="1.65"/><circle cx="164.1" cy="252" r="1.65"/><circle cx="164.5" cy="253.4" r="1.65"/><circle cx="165" cy="252.4" r="1.65"/><circle cx="165.4" cy="252.1" r="1.65"/><circle cx="165.9" cy="253.8" r="1.65"/><circle cx="166.3" cy="256" r="1.65"/><circle cx="166.8" cy="252.8" r="1.65"/><circle cx="167.2" cy="254.6" r="1.65"/><circle cx="167.7" cy="254" r="1.65"/><circle cx="168.1" cy="254.5" r="1.65"/><circle cx="168.6" cy="254.1" r="1.65"/><circle cx="169" cy="257.3" r="1.65"/><circle cx="169.4" cy="251.7" r="1.65"/><circle cx="169.9" cy="253.3" r="1.65"/><circle cx="170.3" cy="252" r="1.65"/><circle cx="170.8" cy="250.7" r="1.65"/><circle cx="171.2" cy="253.9" r="1.65"/><circle cx="171.7" cy="256.8" r="1.65"/><circle cx="172.1" cy="255.4" r="1.65"/><circle cx="172.6" cy="256" r="1.65"/><circle cx="173" cy="254.9" r="1.65"/><circle cx="173.5" cy="254" r="1.65"/><circle cx="173.9" cy="257.4" r="1.65"/><circle cx="174.3" cy="253.7" r="1.65"/><circle cx="174.8" cy="256.8" r="1.65"/><circle cx="175.2" cy="253.9" r="1.65"/><circle cx="175.7" cy="254.6" r="1.65"/><circle cx="176.1" cy="255" r="1.65"/><circle cx="176.6" cy="254.7" r="1.65"/><circle cx="177" cy="255.5" r="1.65"/><circle cx="177.5" cy="255.6" r="1.65"/><circle cx="177.9" cy="257.4" r="1.65"/><circle cx="178.4" cy="254.8" r="1.65"/><circle cx="178.8" cy="251.9" r="1.65"/><circle cx="179.3" cy="251.7" r="1.65"/><circle cx="179.7" cy="252.8" r="1.65"/><circle cx="180.1" cy="253.8" r="1.65"/><circle cx="180.6" cy="256.1" r="1.65"/><circle cx="181" cy="252.8" r="1.65"/><circle cx="181.5" cy="255.2" r="1.65"/><circle cx="181.9" cy="255.3" r="1.65"/><circle cx="182.4" cy="255.7" r="1.65"/><circle cx="182.8" cy="255.1" r="1.65"/><circle cx="183.3" cy="256" r="1.65"/><circle cx="183.7" cy="255.5" r="1.65"/><circle cx="184.2" cy="257.2" r="1.65"/><circle cx="184.6" cy="256.1" r="1.65"/><circle cx="185" cy="251.9" r="1.65"/><circle cx="185.5" cy="255.7" r="1.65"/><circle cx="185.9" cy="256" r="1.65"/><circle cx="186.4" cy="254.9" r="1.65"/><circle cx="186.8" cy="254.6" r="1.65"/><circle cx="187.3" cy="257.6" r="1.65"/><circle cx="187.7" cy="256.2" r="1.65"/><circle cx="188.2" cy="254.5" r="1.65"/><circle cx="188.6" cy="255.5" r="1.65"/><circle cx="189.1" cy="255.8" r="1.65"/><circle cx="189.5" cy="253.6" r="1.65"/><circle cx="190" cy="257.2" r="1.65"/><circle cx="190.4" cy="256" r="1.65"/><circle cx="190.8" cy="257.1" r="1.65"/><circle cx="191.3" cy="253.9" r="1.65"/><circle cx="191.7" cy="259.5" r="1.65"/><circle cx="192.2" cy="257.5" r="1.65"/><circle cx="192.6" cy="257.3" r="1.65"/><circle cx="193.1" cy="255.4" r="1.65"/><circle cx="193.5" cy="255.6" r="1.65"/><circle cx="194" cy="254.4" r="1.65"/><circle cx="194.4" cy="259.2" r="1.65"/><circle cx="194.9" cy="255.5" r="1.65"/><circle cx="195.3" cy="257.2" r="1.65"/><circle cx="195.8" cy="257.9" r="1.65"/><circle cx="196.2" cy="256" r="1.65"/><circle cx="196.6" cy="258.4" r="1.65"/><circle cx="197.1" cy="260.3" r="1.65"/><circle cx="197.5" cy="257.6" r="1.65"/><circle cx="198" cy="259.5" r="1.65"/><circle cx="198.4" cy="258.1" r="1.65"/><circle cx="198.9" cy="256.6" r="1.65"/><circle cx="199.3" cy="256.7" r="1.65"/><circle cx="199.8" cy="254.7" r="1.65"/><circle cx="200.2" cy="257.6" r="1.65"/><circle cx="200.7" cy="259.8" r="1.65"/><circle cx="201.1" cy="258.6" r="1.65"/><circle cx="201.5" cy="258.9" r="1.65"/><circle cx="202" cy="259.5" r="1.65"/><circle cx="202.4" cy="256.9" r="1.65"/><circle cx="202.9" cy="258.6" r="1.65"/><circle cx="203.3" cy="260.8" r="1.65"/><circle cx="203.8" cy="256.6" r="1.65"/><circle cx="204.2" cy="257.9" r="1.65"/><circle cx="204.7" cy="257.2" r="1.65"/><circle cx="205.1" cy="257.7" r="1.65"/><circle cx="205.6" cy="256.9" r="1.65"/><circle cx="206" cy="257.9" r="1.65"/><circle cx="206.5" cy="256" r="1.65"/><circle cx="206.9" cy="257.4" r="1.65"/><circle cx="207.3" cy="257.5" r="1.65"/><circle cx="207.8" cy="257.5" r="1.65"/><circle cx="208.2" cy="260.5" r="1.65"/><circle cx="208.7" cy="258.5" r="1.65"/><circle cx="209.1" cy="258.7" r="1.65"/><circle cx="209.6" cy="258" r="1.65"/><circle cx="210" cy="260.6" r="1.65"/><circle cx="210.5" cy="255.9" r="1.65"/><circle cx="210.9" cy="258.4" r="1.65"/><circle cx="211.4" cy="260.5" r="1.65"/><circle cx="211.8" cy="261.4" r="1.65"/><circle cx="212.3" cy="259.1" r="1.65"/><circle cx="212.7" cy="258.9" r="1.65"/><circle cx="213.1" cy="259.9" r="1.65"/><circle cx="213.6" cy="258.7" r="1.65"/><circle cx="214" cy="259.9" r="1.65"/><circle cx="214.5" cy="258" r="1.65"/><circle cx="214.9" cy="260.1" r="1.65"/><circle cx="215.4" cy="259.1" r="1.65"/><circle cx="215.8" cy="257.5" r="1.65"/><circle cx="216.3" cy="255" r="1.65"/><circle cx="216.7" cy="260.8" r="1.65"/><circle cx="217.2" cy="260" r="1.65"/><circle cx="217.6" cy="260.6" r="1.65"/><circle cx="218" cy="258.1" r="1.65"/><circle cx="218.5" cy="261.2" r="1.65"/><circle cx="218.9" cy="260.2" r="1.65"/><circle cx="219.4" cy="259.5" r="1.65"/><circle cx="219.8" cy="261.1" r="1.65"/><circle cx="220.3" cy="261.1" r="1.65"/><circle cx="220.7" cy="260.4" r="1.65"/><circle cx="221.2" cy="263" r="1.65"/><circle cx="221.6" cy="262" r="1.65"/><circle cx="222.1" cy="260.4" r="1.65"/><circle cx="222.5" cy="259.6" r="1.65"/><circle cx="223" cy="260.1" r="1.65"/><circle cx="223.4" cy="262.7" r="1.65"/><circle cx="223.8" cy="260.7" r="1.65"/><circle cx="224.3" cy="258.7" r="1.65"/><circle cx="224.7" cy="259.1" r="1.65"/><circle cx="225.2" cy="260.2" r="1.65"/><circle cx="225.6" cy="261.6" r="1.65"/><circle cx="226.1" cy="259.2" r="1.65"/><circle cx="226.5" cy="261.2" r="1.65"/></g><g fill="#9a9aff"><circle cx="36.6" cy="197.4" r="0.5"/><circle cx="37.1" cy="207.1" r="0.5"/><circle cx="37.6" cy="219.6" r="0.5"/><circle cx="38" cy="221.1" r="0.5"/><circle cx="38.5" cy="221.8" r="0.5"/><circle cx="38.9" cy="222.4" r="0.5"/><circle cx="39.4" cy="223.1" r="0.5"/><circle cx="39.8" cy="223.6" r="0.5"/><circle cx="40.3" cy="224.3" r="0.5"/><circle cx="40.7" cy="224.9" r="0.5"/><circle cx="41.2" cy="225.2" r="0.5"/><circle cx="41.6" cy="225.4" r="0.5"/><circle cx="42.1" cy="226.4" r="0.5"/><circle cx="42.5" cy="226.3" r="0.5"/><circle cx="42.9" cy="226.9" r="0.5"/><circle cx="43.4" cy="227.3" r="0.5"/><circle cx="43.8" cy="227" r="0.5"/><circle cx="44.3" cy="227.8" r="0.5"/><circle cx="44.7" cy="227.3" r="0.5"/><circle cx="45.2" cy="228.5" r="0.5"/><circle cx="45.6" cy="228.2" r="0.5"/><circle cx="46.1" cy="228.8" r="0.5"/><circle cx="46.5" cy="229.3" r="0.5"/><circle cx="47" cy="228.9" r="0.5"/><circle cx="47.4" cy="229.5" r="0.5"/><circle cx="47.9" cy="229.3" r="0.5"/><circle cx="48.3" cy="229.9" r="0.5"/><circle cx="48.7" cy="230.7" r="0.5"/><circle cx="49.2" cy="230.3" r="0.5"/><circle cx="49.6" cy="230.4" r="0.5"/><circle cx="50.1" cy="230" r="0.5"/><circle cx="50.5" cy="231.5" r="0.5"/><circle cx="51" cy="231.1" r="0.5"/><circle cx="51.4" cy="232.5" r="0.5"/><circle cx="51.9" cy="230.9" r="0.5"/><circle cx="52.3" cy="232.4" r="0.5"/><circle cx="52.8" cy="233.2" r="0.5"/><circle cx="53.2" cy="231.9" r="0.5"/><circle cx="53.7" cy="231.1" r="0.5"/><circle cx="54.1" cy="233.6" r="0.5"/><circle cx="54.5" cy="233.4" r="0.5"/><circle cx="55" cy="233.2" r="0.5"/><circle cx="55.4" cy="233.7" r="0.5"/><circle cx="55.9" cy="232.4" r="0.5"/><circle cx="56.3" cy="233.7" r="0.5"/><circle cx="56.8" cy="233.8" r="0.5"/><circle cx="57.2" cy="232.5" r="0.5"/><circle cx="57.7" cy="234.1" r="0.5"/><circle cx="58.1" cy="232.9" r="0.5"/><circle cx="58.6" cy="234.7" r="0.5"/><circle cx="59" cy="235.1" r="0.5"/><circle cx="59.4" cy="236" r="0.5"/><circle cx="59.9" cy="231.6" r="0.5"/><circle cx="60.3" cy="234.4" r="0.5"/><circle cx="60.8" cy="233.8" r="0.5"/><circle cx="61.2" cy="234.2" r="0.5"/><circle cx="61.7" cy="234.1" r="0.5"/><circle cx="62.1" cy="234.3" r="0.5"/><circle cx="62.6" cy="231.9" r="0.5"/><circle cx="63" cy="236.1" r="0.5"/><circle cx="63.5" cy="236.9" r="0.5"/><circle cx="63.9" cy="236.3" r="0.5"/><circle cx="64.4" cy="236.9" r="0.5"/><circle cx="64.8" cy="233.9" r="0.5"/><circle cx="65.2" cy="233.9" r="0.5"/><circle cx="65.7" cy="236.7" r="0.5"/><circle cx="66.1" cy="237.5" r="0.5"/><circle cx="66.6" cy="236" r="0.5"/><circle cx="67" cy="233.3" r="0.5"/><circle cx="67.5" cy="240.1" r="0.5"/><circle cx="67.9" cy="234.9" r="0.5"/><circle cx="68.4" cy="237.5" r="0.5"/><circle cx="68.8" cy="234.2" r="0.5"/><circle cx="69.3" cy="237.7" r="0.5"/><circle cx="69.7" cy="236.6" r="0.5"/><circle cx="70.2" cy="238.6" r="0.5"/><circle cx="70.6" cy="237.9" r="0.5"/><circle cx="71" cy="234.2" r="0.5"/><circle cx="71.5" cy="235.2" r="0.5"/><circle cx="71.9" cy="237.2" r="0.5"/><circle cx="72.4" cy="238.1" r="0.5"/><circle cx="72.8" cy="239.8" r="0.5"/><circle cx="73.3" cy="237.5" r="0.5"/><circle cx="73.7" cy="237" r="0.5"/><circle cx="74.2" cy="237.2" r="0.5"/><circle cx="74.6" cy="237.3" r="0.5"/><circle cx="75.1" cy="239.1" r="0.5"/><circle cx="75.5" cy="237.5" r="0.5"/><circle cx="75.9" cy="237.5" r="0.5"/><circle cx="76.4" cy="235.5" r="0.5"/><circle cx="76.8" cy="234.7" r="0.5"/><circle cx="77.3" cy="238" r="0.5"/><circle cx="77.7" cy="239.1" r="0.5"/><circle cx="78.2" cy="238" r="0.5"/><circle cx="78.6" cy="239" r="0.5"/><circle cx="79.1" cy="239.3" r="0.5"/><circle cx="79.5" cy="238.3" r="0.5"/><circle cx="80" cy="240" r="0.5"/><circle cx="80.4" cy="237.4" r="0.5"/><circle cx="80.9" cy="238.6" r="0.5"/><circle cx="81.3" cy="238.1" r="0.5"/><circle cx="81.7" cy="238.9" r="0.5"/><circle cx="82.2" cy="239.9" r="0.5"/><circle cx="82.6" cy="240.3" r="0.5"/><circle cx="83.1" cy="239.2" r="0.5"/><circle cx="83.5" cy="239.8" r="0.5"/><circle cx="84" cy="238.6" r="0.5"/><circle cx="84.4" cy="239.1" r="0.5"/><circle cx="84.9" cy="241.4" r="0.5"/><circle cx="85.3" cy="239.1" r="0.5"/><circle cx="85.8" cy="241.5" r="0.5"/><circle cx="86.2" cy="240.4" r="0.5"/><circle cx="86.6" cy="240" r="0.5"/><circle cx="87.1" cy="242.9" r="0.5"/><circle cx="87.5" cy="239.6" r="0.5"/><circle cx="88" cy="239.6" r="0.5"/><circle cx="88.4" cy="240.2" r="0.5"/><circle cx="88.9" cy="240.7" r="0.5"/><circle cx="89.3" cy="240.8" r="0.5"/><circle cx="89.8" cy="241.9" r="0.5"/><circle cx="90.2" cy="240.9" r="0.5"/><circle cx="90.7" cy="241.5" r="0.5"/><circle cx="91.1" cy="240.7" r="0.5"/><circle cx="91.6" cy="242.9" r="0.5"/><circle cx="92" cy="240.8" r="0.5"/><circle cx="92.4" cy="241.2" r="0.5"/><circle cx="92.9" cy="241.8" r="0.5"/><circle cx="93.3" cy="242.5" r="0.5"/><circle cx="93.8" cy="241.1" r="0.5"/><circle cx="94.2" cy="244.9" r="0.5"/><circle cx="94.7" cy="241.7" r="0.5"/><circle cx="95.1" cy="242.3" r="0.5"/><circle cx="95.6" cy="242.4" r="0.5"/><circle cx="96" cy="242.4" r="0.5"/><circle cx="96.5" cy="244.3" r="0.5"/><circle cx="96.9" cy="243.9" r="0.5"/><circle cx="97.4" cy="242.6" r="0.5"/><circle cx="97.8" cy="243.1" r="0.5"/><circle cx="98.2" cy="243.6" r="0.5"/><circle cx="98.7" cy="246.5" r="0.5"/><circle cx="99.1" cy="243.4" r="0.5"/><circle cx="99.6" cy="242.5" r="0.5"/><circle cx="100" cy="242.8" r="0.5"/><circle cx="100.5" cy="244.1" r="0.5"/><circle cx="100.9" cy="247.1" r="0.5"/><circle cx="101.4" cy="243.2" r="0.5"/><circle cx="101.8" cy="245" r="0.5"/><circle cx="102.3" cy="248.9" r="0.5"/><circle cx="102.7" cy="244.4" r="0.5"/><circle cx="103.1" cy="247.4" r="0.5"/><circle cx="103.6" cy="247.2" r="0.5"/><circle cx="104" cy="246.2" r="0.5"/><circle cx="104.5" cy="243.2" r="0.5"/><circle cx="104.9" cy="245.9" r="0.5"/><circle cx="105.4" cy="245" r="0.5"/><circle cx="105.8" cy="242.7" r="0.5"/><circle cx="106.3" cy="243" r="0.5"/><circle cx="106.7" cy="245.8" r="0.5"/><circle cx="107.2" cy="246.1" r="0.5"/><circle cx="107.6" cy="247.8" r="0.5"/><circle cx="108.1" cy="246.9" r="0.5"/><circle cx="108.5" cy="245.2" r="0.5"/><circle cx="108.9" cy="245.3" r="0.5"/><circle cx="109.4" cy="245.8" r="0.5"/><circle cx="109.8" cy="244.5" r="0.5"/><circle cx="110.3" cy="247.4" r="0.5"/><circle cx="110.7" cy="246.3" r="0.5"/><circle cx="111.2" cy="245.1" r="0.5"/><circle cx="111.6" cy="245.4" r="0.5"/><circle cx="112.1" cy="244.6" r="0.5"/><circle cx="112.5" cy="245.8" r="0.5"/><circle cx="113" cy="246.9" r="0.5"/><circle cx="113.4" cy="245.9" r="0.5"/><circle cx="113.8" cy="248.2" r="0.5"/><circle cx="114.3" cy="249.2" r="0.5"/><circle cx="114.7" cy="245.7" r="0.5"/><circle cx="115.2" cy="246.8" r="0.5"/><circle cx="115.6" cy="246.3" r="0.5"/><circle cx="116.1" cy="249.5" r="0.5"/><circle cx="116.5" cy="247.4" r="0.5"/><circle cx="117" cy="247.9" r="0.5"/><circle cx="117.4" cy="248.3" r="0.5"/><circle cx="117.9" cy="250.6" r="0.5"/><circle cx="118.3" cy="247.6" r="0.5"/><circle cx="118.8" cy="245.6" r="0.5"/><circle cx="119.2" cy="246.5" r="0.5"/><circle cx="119.6" cy="248.1" r="0.5"/><circle cx="120.1" cy="247.2" r="0.5"/><circle cx="120.5" cy="246.1" r="0.5"/><circle cx="121" cy="251.7" r="0.5"/><circle cx="121.4" cy="247.6" r="0.5"/><circle cx="121.9" cy="246.5" r="0.5"/><circle cx="122.3" cy="246.4" r="0.5"/><circle cx="122.8" cy="244.8" r="0.5"/><circle cx="123.2" cy="245.7" r="0.5"/><circle cx="123.7" cy="247.1" r="0.5"/><circle cx="124.1" cy="247.2" r="0.5"/><circle cx="124.6" cy="246.4" r="0.5"/><circle cx="125" cy="248.6" r="0.5"/><circle cx="125.4" cy="247.9" r="0.5"/><circle cx="125.9" cy="246.4" r="0.5"/><circle cx="126.3" cy="244.8" r="0.5"/><circle cx="126.8" cy="248.2" r="0.5"/><circle cx="127.2" cy="248.1" r="0.5"/><circle cx="127.7" cy="247.7" r="0.5"/><circle cx="128.1" cy="246" r="0.5"/><circle cx="128.6" cy="248.2" r="0.5"/><circle cx="129" cy="245.9" r="0.5"/><circle cx="129.5" cy="249.8" r="0.5"/><circle cx="129.9" cy="248.6" r="0.5"/><circle cx="130.3" cy="248.7" r="0.5"/><circle cx="130.8" cy="247.2" r="0.5"/><circle cx="131.2" cy="246.9" r="0.5"/><circle cx="131.7" cy="251" r="0.5"/><circle cx="132.1" cy="250.1" r="0.5"/><circle cx="132.6" cy="248.2" r="0.5"/><circle cx="133" cy="249.8" r="0.5"/><circle cx="133.5" cy="251.3" r="0.5"/><circle cx="133.9" cy="247.2" r="0.5"/><circle cx="134.4" cy="248.1" r="0.5"/><circle cx="134.8" cy="248.2" r="0.5"/><circle cx="135.3" cy="249.8" r="0.5"/><circle cx="135.7" cy="247.5" r="0.5"/><circle cx="136.1" cy="249.6" r="0.5"/><circle cx="136.6" cy="247.5" r="0.5"/><circle cx="137" cy="250.7" r="0.5"/><circle cx="137.5" cy="250.7" r="0.5"/><circle cx="137.9" cy="249.1" r="0.5"/><circle cx="138.4" cy="250.6" r="0.5"/><circle cx="138.8" cy="248.4" r="0.5"/><circle cx="139.3" cy="249.2" r="0.5"/><circle cx="139.7" cy="251.1" r="0.5"/><circle cx="140.2" cy="249.6" r="0.5"/><circle cx="140.6" cy="250.3" r="0.5"/><circle cx="141.1" cy="248.3" r="0.5"/><circle cx="141.5" cy="250.9" r="0.5"/><circle cx="141.9" cy="250.6" r="0.5"/><circle cx="142.4" cy="248.1" r="0.5"/><circle cx="142.8" cy="246.5" r="0.5"/><circle cx="143.3" cy="246.9" r="0.5"/><circle cx="143.7" cy="250.1" r="0.5"/><circle cx="144.2" cy="249.9" r="0.5"/><circle cx="144.6" cy="247.8" r="0.5"/><circle cx="145.1" cy="250.5" r="0.5"/><circle cx="145.5" cy="252" r="0.5"/><circle cx="146" cy="250.3" r="0.5"/><circle cx="146.4" cy="249.8" r="0.5"/><circle cx="146.8" cy="251.9" r="0.5"/><circle cx="147.3" cy="253.3" r="0.5"/><circle cx="147.7" cy="253" r="0.5"/><circle cx="148.2" cy="249.7" r="0.5"/><circle cx="148.6" cy="252" r="0.5"/><circle cx="149.1" cy="251.1" r="0.5"/><circle cx="149.5" cy="250.6" r="0.5"/><circle cx="150" cy="250" r="0.5"/><circle cx="150.4" cy="251.6" r="0.5"/><circle cx="150.9" cy="250.3" r="0.5"/><circle cx="151.3" cy="252.6" r="0.5"/><circle cx="151.8" cy="251.8" r="0.5"/><circle cx="152.2" cy="252.9" r="0.5"/><circle cx="152.6" cy="249.5" r="0.5"/><circle cx="153.1" cy="251.4" r="0.5"/><circle cx="153.5" cy="252.6" r="0.5"/><circle cx="154" cy="252.1" r="0.5"/><circle cx="154.4" cy="251.9" r="0.5"/><circle cx="154.9" cy="250.5" r="0.5"/><circle cx="155.3" cy="254.2" r="0.5"/><circle cx="155.8" cy="253.4" r="0.5"/><circle cx="156.2" cy="252.4" r="0.5"/><circle cx="156.7" cy="247.8" r="0.5"/><circle cx="157.1" cy="250.4" r="0.5"/><circle cx="157.5" cy="252.1" r="0.5"/><circle cx="158" cy="250.9" r="0.5"/><circle cx="158.4" cy="248.8" r="0.5"/><circle cx="158.9" cy="252.5" r="0.5"/><circle cx="159.3" cy="252.8" r="0.5"/><circle cx="159.8" cy="250.3" r="0.5"/><circle cx="160.2" cy="251.5" r="0.5"/><circle cx="160.7" cy="251.3" r="0.5"/><circle cx="161.1" cy="253.2" r="0.5"/><circle cx="161.6" cy="249.4" r="0.5"/><circle cx="162" cy="249.8" r="0.5"/><circle cx="162.5" cy="251.7" r="0.5"/><circle cx="162.9" cy="251.5" r="0.5"/><circle cx="163.3" cy="255.9" r="0.5"/><circle cx="163.8" cy="251.7" r="0.5"/><circle cx="164.2" cy="253.1" r="0.5"/><circle cx="164.7" cy="252.1" r="0.5"/><circle cx="165.1" cy="251.8" r="0.5"/><circle cx="165.6" cy="253.5" r="0.5"/><circle cx="166" cy="255.7" r="0.5"/><circle cx="166.5" cy="252.5" r="0.5"/><circle cx="166.9" cy="254.3" r="0.5"/><circle cx="167.4" cy="253.7" r="0.5"/><circle cx="167.8" cy="254.2" r="0.5"/><circle cx="168.3" cy="253.8" r="0.5"/><circle cx="168.7" cy="257" r="0.5"/><circle cx="169.1" cy="251.4" r="0.5"/><circle cx="169.6" cy="253" r="0.5"/><circle cx="170" cy="251.7" r="0.5"/><circle cx="170.5" cy="250.4" r="0.5"/><circle cx="170.9" cy="253.6" r="0.5"/><circle cx="171.4" cy="256.5" r="0.5"/><circle cx="171.8" cy="255.1" r="0.5"/><circle cx="172.3" cy="255.7" r="0.5"/><circle cx="172.7" cy="254.6" r="0.5"/><circle cx="173.2" cy="253.7" r="0.5"/><circle cx="173.6" cy="257.1" r="0.5"/><circle cx="174" cy="253.4" r="0.5"/><circle cx="174.5" cy="256.5" r="0.5"/><circle cx="174.9" cy="253.6" r="0.5"/><circle cx="175.4" cy="254.3" r="0.5"/><circle cx="175.8" cy="254.7" r="0.5"/><circle cx="176.3" cy="254.4" r="0.5"/><circle cx="176.7" cy="255.2" r="0.5"/><circle cx="177.2" cy="255.3" r="0.5"/><circle cx="177.6" cy="257.1" r="0.5"/><circle cx="178.1" cy="254.5" r="0.5"/><circle cx="178.5" cy="251.6" r="0.5"/><circle cx="179" cy="251.4" r="0.5"/><circle cx="179.4" cy="252.5" r="0.5"/><circle cx="179.8" cy="253.5" r="0.5"/><circle cx="180.3" cy="255.8" r="0.5"/><circle cx="180.7" cy="252.5" r="0.5"/><circle cx="181.2" cy="254.9" r="0.5"/><circle cx="181.6" cy="255" r="0.5"/><circle cx="182.1" cy="255.4" r="0.5"/><circle cx="182.5" cy="254.8" r="0.5"/><circle cx="183" cy="255.7" r="0.5"/><circle cx="183.4" cy="255.2" r="0.5"/><circle cx="183.9" cy="256.9" r="0.5"/><circle cx="184.3" cy="255.8" r="0.5"/><circle cx="184.7" cy="251.6" r="0.5"/><circle cx="185.2" cy="255.4" r="0.5"/><circle cx="185.6" cy="255.7" r="0.5"/><circle cx="186.1" cy="254.6" r="0.5"/><circle cx="186.5" cy="254.3" r="0.5"/><circle cx="187" cy="257.3" r="0.5"/><circle cx="187.4" cy="255.9" r="0.5"/><circle cx="187.9" cy="254.2" r="0.5"/><circle cx="188.3" cy="255.2" r="0.5"/><circle cx="188.8" cy="255.5" r="0.5"/><circle cx="189.2" cy="253.3" r="0.5"/><circle cx="189.7" cy="256.9" r="0.5"/><circle cx="190.1" cy="255.7" r="0.5"/><circle cx="190.5" cy="256.8" r="0.5"/><circle cx="191" cy="253.6" r="0.5"/><circle cx="191.4" cy="259.2" r="0.5"/><circle cx="191.9" cy="257.2" r="0.5"/><circle cx="192.3" cy="257" r="0.5"/><circle cx="192.8" cy="255.1" r="0.5"/><circle cx="193.2" cy="255.3" r="0.5"/><circle cx="193.7" cy="254.1" r="0.5"/><circle cx="194.1" cy="258.9" r="0.5"/><circle cx="194.6" cy="255.2" r="0.5"/><circle cx="195" cy="256.9" r="0.5"/><circle cx="195.5" cy="257.6" r="0.5"/><circle cx="195.9" cy="255.7" r="0.5"/><circle cx="196.3" cy="258.1" r="0.5"/><circle cx="196.8" cy="260" r="0.5"/><circle cx="197.2" cy="257.3" r="0.5"/><circle cx="197.7" cy="259.2" r="0.5"/><circle cx="198.1" cy="257.8" r="0.5"/><circle cx="198.6" cy="256.3" r="0.5"/><circle cx="199" cy="256.4" r="0.5"/><circle cx="199.5" cy="254.4" r="0.5"/><circle cx="199.9" cy="257.3" r="0.5"/><circle cx="200.4" cy="259.5" r="0.5"/><circle cx="200.8" cy="258.3" r="0.5"/><circle cx="201.2" cy="258.6" r="0.5"/><circle cx="201.7" cy="259.2" r="0.5"/><circle cx="202.1" cy="256.6" r="0.5"/><circle cx="202.6" cy="258.3" r="0.5"/><circle cx="203" cy="260.5" r="0.5"/><circle cx="203.5" cy="256.3" r="0.5"/><circle cx="203.9" cy="257.6" r="0.5"/><circle cx="204.4" cy="256.9" r="0.5"/><circle cx="204.8" cy="257.4" r="0.5"/><circle cx="205.3" cy="256.6" r="0.5"/><circle cx="205.7" cy="257.6" r="0.5"/><circle cx="206.2" cy="255.7" r="0.5"/><circle cx="206.6" cy="257.1" r="0.5"/><circle cx="207" cy="257.2" r="0.5"/><circle cx="207.5" cy="257.2" r="0.5"/><circle cx="207.9" cy="260.2" r="0.5"/><circle cx="208.4" cy="258.2" r="0.5"/><circle cx="208.8" cy="258.4" r="0.5"/><circle cx="209.3" cy="257.7" r="0.5"/><circle cx="209.7" cy="260.3" r="0.5"/><circle cx="210.2" cy="255.6" r="0.5"/><circle cx="210.6" cy="258.1" r="0.5"/><circle cx="211.1" cy="260.2" r="0.5"/><circle cx="211.5" cy="261.1" r="0.5"/><circle cx="212" cy="258.8" r="0.5"/><circle cx="212.4" cy="258.6" r="0.5"/><circle cx="212.8" cy="259.6" r="0.5"/><circle cx="213.3" cy="258.4" r="0.5"/><circle cx="213.7" cy="259.6" r="0.5"/><circle cx="214.2" cy="257.7" r="0.5"/><circle cx="214.6" cy="259.8" r="0.5"/><circle cx="215.1" cy="258.8" r="0.5"/><circle cx="215.5" cy="257.2" r="0.5"/><circle cx="216" cy="254.7" r="0.5"/><circle cx="216.4" cy="260.5" r="0.5"/><circle cx="216.9" cy="259.7" r="0.5"/><circle cx="217.3" cy="260.3" r="0.5"/><circle cx="217.7" cy="257.8" r="0.5"/><circle cx="218.2" cy="260.9" r="0.5"/><circle cx="218.6" cy="259.9" r="0.5"/><circle cx="219.1" cy="259.2" r="0.5"/><circle cx="219.5" cy="260.8" r="0.5"/><circle cx="220" cy="260.8" r="0.5"/><circle cx="220.4" cy="260.1" r="0.5"/><circle cx="220.9" cy="262.7" r="0.5"/><circle cx="221.3" cy="261.7" r="0.5"/><circle cx="221.8" cy="260.1" r="0.5"/><circle cx="222.2" cy="259.3" r="0.5"/><circle cx="222.7" cy="259.8" r="0.5"/><circle cx="223.1" cy="262.4" r="0.5"/><circle cx="223.5" cy="260.4" r="0.5"/><circle cx="224" cy="258.4" r="0.5"/><circle cx="224.4" cy="258.8" r="0.5"/><circle cx="224.9" cy="259.9" r="0.5"/><circle cx="225.3" cy="261.3" r="0.5"/><circle cx="225.8" cy="258.9" r="0.5"/><circle cx="226.2" cy="260.9" r="0.5"/></g><g fill="#f04040" stroke="#f04040" stroke-width="0.4"><circle cx="36.9" cy="197.7" r="1.65"/><circle cx="37.4" cy="207.9" r="1.65"/><circle cx="37.9" cy="219.9" r="1.65"/><circle cx="38.3" cy="221" r="1.65"/><circle cx="38.8" cy="221.5" r="1.65"/><circle cx="39.2" cy="222" r="1.65"/><circle cx="39.7" cy="222.3" r="1.65"/><circle cx="40.1" cy="223" r="1.65"/><circle cx="40.6" cy="223.4" r="1.65"/><circle cx="41" cy="223.4" r="1.65"/><circle cx="41.5" cy="224.1" r="1.65"/><circle cx="41.9" cy="224.8" r="1.65"/><circle cx="42.4" cy="225" r="1.65"/><circle cx="42.8" cy="225.2" r="1.65"/><circle cx="43.2" cy="225.2" r="1.65"/><circle cx="43.7" cy="226" r="1.65"/><circle cx="44.1" cy="226.7" r="1.65"/><circle cx="44.6" cy="226.4" r="1.65"/><circle cx="45" cy="226.5" r="1.65"/><circle cx="45.5" cy="226.7" r="1.65"/><circle cx="45.9" cy="226.4" r="1.65"/><circle cx="46.4" cy="227" r="1.65"/><circle cx="46.8" cy="227" r="1.65"/><circle cx="47.3" cy="228.1" r="1.65"/><circle cx="47.7" cy="227.3" r="1.65"/><circle cx="48.2" cy="226.8" r="1.65"/><circle cx="48.6" cy="227.7" r="1.65"/><circle cx="49" cy="228.1" r="1.65"/><circle cx="49.5" cy="228.4" r="1.65"/><circle cx="49.9" cy="227.4" r="1.65"/><circle cx="50.4" cy="229.4" r="1.65"/><circle cx="50.8" cy="229" r="1.65"/><circle cx="51.3" cy="228.7" r="1.65"/><circle cx="51.7" cy="228.6" r="1.65"/><circle cx="52.2" cy="229.7" r="1.65"/><circle cx="52.6" cy="229.3" r="1.65"/><circle cx="53.1" cy="229.9" r="1.65"/><circle cx="53.5" cy="229.7" r="1.65"/><circle cx="54" cy="230" r="1.65"/><circle cx="54.4" cy="231.1" r="1.65"/><circle cx="54.8" cy="230.2" r="1.65"/><circle cx="55.3" cy="229.5" r="1.65"/><circle cx="55.7" cy="231.4" r="1.65"/><circle cx="56.2" cy="230.8" r="1.65"/><circle cx="56.6" cy="230" r="1.65"/><circle cx="57.1" cy="232" r="1.65"/><circle cx="57.5" cy="230.8" r="1.65"/><circle cx="58" cy="232.3" r="1.65"/><circle cx="58.4" cy="229.9" r="1.65"/><circle cx="58.9" cy="228.6" r="1.65"/><circle cx="59.3" cy="229" r="1.65"/><circle cx="59.7" cy="231.8" r="1.65"/><circle cx="60.2" cy="230.7" r="1.65"/><circle cx="60.6" cy="231.6" r="1.65"/><circle cx="61.1" cy="231.7" r="1.65"/><circle cx="61.5" cy="230" r="1.65"/><circle cx="62" cy="233.8" r="1.65"/><circle cx="62.4" cy="230.8" r="1.65"/><circle cx="62.9" cy="232.4" r="1.65"/><circle cx="63.3" cy="230.4" r="1.65"/><circle cx="63.8" cy="232.2" r="1.65"/><circle cx="64.2" cy="233.6" r="1.65"/><circle cx="64.7" cy="232.3" r="1.65"/><circle cx="65.1" cy="231.7" r="1.65"/><circle cx="65.5" cy="232.8" r="1.65"/><circle cx="66" cy="232.2" r="1.65"/><circle cx="66.4" cy="233.9" r="1.65"/><circle cx="66.9" cy="236.6" r="1.65"/><circle cx="67.3" cy="231.8" r="1.65"/><circle cx="67.8" cy="232.2" r="1.65"/><circle cx="68.2" cy="233.2" r="1.65"/><circle cx="68.7" cy="233.5" r="1.65"/><circle cx="69.1" cy="232" r="1.65"/><circle cx="69.6" cy="234.5" r="1.65"/><circle cx="70" cy="235" r="1.65"/><circle cx="70.5" cy="234.2" r="1.65"/><circle cx="70.9" cy="232.1" r="1.65"/><circle cx="71.3" cy="236.3" r="1.65"/><circle cx="71.8" cy="232.3" r="1.65"/><circle cx="72.2" cy="235.3" r="1.65"/><circle cx="72.7" cy="236.1" r="1.65"/><circle cx="73.1" cy="232.5" r="1.65"/><circle cx="73.6" cy="234.7" r="1.65"/><circle cx="74" cy="236.7" r="1.65"/><circle cx="74.5" cy="235.3" r="1.65"/><circle cx="74.9" cy="233.3" r="1.65"/><circle cx="75.4" cy="233" r="1.65"/><circle cx="75.8" cy="235.7" r="1.65"/><circle cx="76.2" cy="234.4" r="1.65"/><circle cx="76.7" cy="234" r="1.65"/><circle cx="77.1" cy="236.3" r="1.65"/><circle cx="77.6" cy="234.8" r="1.65"/><circle cx="78" cy="235.5" r="1.65"/><circle cx="78.5" cy="236.4" r="1.65"/><circle cx="78.9" cy="236.4" r="1.65"/><circle cx="79.4" cy="235.6" r="1.65"/><circle cx="79.8" cy="235.7" r="1.65"/><circle cx="80.3" cy="236.8" r="1.65"/><circle cx="80.7" cy="236.7" r="1.65"/><circle cx="81.2" cy="234.3" r="1.65"/><circle cx="81.6" cy="235.8" r="1.65"/><circle cx="82" cy="234.9" r="1.65"/><circle cx="82.5" cy="234.5" r="1.65"/><circle cx="82.9" cy="235.6" r="1.65"/><circle cx="83.4" cy="233" r="1.65"/><circle cx="83.8" cy="238" r="1.65"/><circle cx="84.3" cy="235.5" r="1.65"/><circle cx="84.7" cy="237.5" r="1.65"/><circle cx="85.2" cy="234.1" r="1.65"/><circle cx="85.6" cy="234.4" r="1.65"/><circle cx="86.1" cy="240.4" r="1.65"/><circle cx="86.5" cy="238.9" r="1.65"/><circle cx="86.9" cy="236.4" r="1.65"/><circle cx="87.4" cy="236.3" r="1.65"/><circle cx="87.8" cy="236.4" r="1.65"/><circle cx="88.3" cy="237.8" r="1.65"/><circle cx="88.7" cy="237" r="1.65"/><circle cx="89.2" cy="236.8" r="1.65"/><circle cx="89.6" cy="238" r="1.65"/><circle cx="90.1" cy="236.3" r="1.65"/><circle cx="90.5" cy="241.6" r="1.65"/><circle cx="91" cy="237.1" r="1.65"/><circle cx="91.4" cy="239.8" r="1.65"/><circle cx="91.9" cy="236.6" r="1.65"/><circle cx="92.3" cy="238.6" r="1.65"/><circle cx="92.7" cy="239.7" r="1.65"/><circle cx="93.2" cy="237.7" r="1.65"/><circle cx="93.6" cy="239.8" r="1.65"/><circle cx="94.1" cy="239.8" r="1.65"/><circle cx="94.5" cy="240.9" r="1.65"/><circle cx="95" cy="238.5" r="1.65"/><circle cx="95.4" cy="237.7" r="1.65"/><circle cx="95.9" cy="236.9" r="1.65"/><circle cx="96.3" cy="238.8" r="1.65"/><circle cx="96.8" cy="236.9" r="1.65"/><circle cx="97.2" cy="238.6" r="1.65"/><circle cx="97.7" cy="238.8" r="1.65"/><circle cx="98.1" cy="237.8" r="1.65"/><circle cx="98.5" cy="237.1" r="1.65"/><circle cx="99" cy="239.4" r="1.65"/><circle cx="99.4" cy="239.3" r="1.65"/><circle cx="99.9" cy="239.2" r="1.65"/><circle cx="100.3" cy="238.8" r="1.65"/><circle cx="100.8" cy="240.4" r="1.65"/><circle cx="101.2" cy="237.4" r="1.65"/><circle cx="101.7" cy="239.7" r="1.65"/><circle cx="102.1" cy="238.4" r="1.65"/><circle cx="102.6" cy="240.5" r="1.65"/><circle cx="103" cy="238.7" r="1.65"/><circle cx="103.4" cy="238.7" r="1.65"/><circle cx="103.9" cy="240" r="1.65"/><circle cx="104.3" cy="236.1" r="1.65"/><circle cx="104.8" cy="238.8" r="1.65"/><circle cx="105.2" cy="236.6" r="1.65"/><circle cx="105.7" cy="238" r="1.65"/><circle cx="106.1" cy="240.6" r="1.65"/><circle cx="106.6" cy="240.2" r="1.65"/><circle cx="107" cy="239" r="1.65"/><circle cx="107.5" cy="239.6" r="1.65"/><circle cx="107.9" cy="239.7" r="1.65"/><circle cx="108.4" cy="240.3" r="1.65"/><circle cx="108.8" cy="242.7" r="1.65"/><circle cx="109.2" cy="240.3" r="1.65"/><circle cx="109.7" cy="243.5" r="1.65"/><circle cx="110.1" cy="239.4" r="1.65"/><circle cx="110.6" cy="241.2" r="1.65"/><circle cx="111" cy="241.2" r="1.65"/><circle cx="111.5" cy="240.5" r="1.65"/><circle cx="111.9" cy="239.8" r="1.65"/><circle cx="112.4" cy="242.5" r="1.65"/><circle cx="112.8" cy="243.1" r="1.65"/><circle cx="113.3" cy="242" r="1.65"/><circle cx="113.7" cy="243.7" r="1.65"/><circle cx="114.1" cy="242" r="1.65"/><circle cx="114.6" cy="237.9" r="1.65"/><circle cx="115" cy="242.2" r="1.65"/><circle cx="115.5" cy="239.5" r="1.65"/><circle cx="115.9" cy="242.8" r="1.65"/><circle cx="116.4" cy="240.2" r="1.65"/><circle cx="116.8" cy="241.2" r="1.65"/><circle cx="117.3" cy="240.9" r="1.65"/><circle cx="117.7" cy="239.9" r="1.65"/><circle cx="118.2" cy="238.1" r="1.65"/><circle cx="118.6" cy="240.6" r="1.65"/><circle cx="119.1" cy="240.8" r="1.65"/><circle cx="119.5" cy="242.6" r="1.65"/><circle cx="119.9" cy="240.1" r="1.65"/><circle cx="120.4" cy="241.5" r="1.65"/><circle cx="120.8" cy="239.8" r="1.65"/><circle cx="121.3" cy="241.3" r="1.65"/><circle cx="121.7" cy="238.5" r="1.65"/><circle cx="122.2" cy="244.5" r="1.65"/><circle cx="122.6" cy="241.8" r="1.65"/><circle cx="123.1" cy="240" r="1.65"/><circle cx="123.5" cy="242" r="1.65"/><circle cx="124" cy="242.8" r="1.65"/><circle cx="124.4" cy="242" r="1.65"/><circle cx="124.9" cy="243.8" r="1.65"/><circle cx="125.3" cy="241.4" r="1.65"/><circle cx="125.7" cy="237.8" r="1.65"/><circle cx="126.2" cy="239.9" r="1.65"/><circle cx="126.6" cy="243.5" r="1.65"/><circle cx="127.1" cy="243.2" r="1.65"/><circle cx="127.5" cy="242.5" r="1.65"/><circle cx="128" cy="240.3" r="1.65"/><circle cx="128.4" cy="243.3" r="1.65"/><circle cx="128.9" cy="243.1" r="1.65"/><circle cx="129.3" cy="240.6" r="1.65"/><circle cx="129.8" cy="240.7" r="1.65"/><circle cx="130.2" cy="242.7" r="1.65"/><circle cx="130.6" cy="244" r="1.65"/><circle cx="131.1" cy="244.7" r="1.65"/><circle cx="131.5" cy="243.4" r="1.65"/><circle cx="132" cy="245.9" r="1.65"/><circle cx="132.4" cy="241.2" r="1.65"/><circle cx="132.9" cy="243.4" r="1.65"/><circle cx="133.3" cy="241.7" r="1.65"/><circle cx="133.8" cy="239.5" r="1.65"/><circle cx="134.2" cy="240.7" r="1.65"/><circle cx="134.7" cy="244.4" r="1.65"/><circle cx="135.1" cy="241.2" r="1.65"/><circle cx="135.6" cy="240.8" r="1.65"/><circle cx="136" cy="243.9" r="1.65"/><circle cx="136.4" cy="244.3" r="1.65"/><circle cx="136.9" cy="243" r="1.65"/><circle cx="137.3" cy="245.4" r="1.65"/><circle cx="137.8" cy="240.5" r="1.65"/><circle cx="138.2" cy="246.8" r="1.65"/><circle cx="138.7" cy="244.7" r="1.65"/><circle cx="139.1" cy="243.4" r="1.65"/><circle cx="139.6" cy="243.4" r="1.65"/><circle cx="140" cy="242.8" r="1.65"/><circle cx="140.5" cy="242.7" r="1.65"/><circle cx="140.9" cy="243.5" r="1.65"/><circle cx="141.4" cy="241.4" r="1.65"/><circle cx="141.8" cy="246.7" r="1.65"/><circle cx="142.2" cy="243.3" r="1.65"/><circle cx="142.7" cy="244.5" r="1.65"/><circle cx="143.1" cy="243.2" r="1.65"/><circle cx="143.6" cy="243.1" r="1.65"/><circle cx="144" cy="244.9" r="1.65"/><circle cx="144.5" cy="244.5" r="1.65"/><circle cx="144.9" cy="242.3" r="1.65"/><circle cx="145.4" cy="243" r="1.65"/><circle cx="145.8" cy="244.7" r="1.65"/><circle cx="146.3" cy="240.4" r="1.65"/><circle cx="146.7" cy="240" r="1.65"/><circle cx="147.1" cy="246.1" r="1.65"/><circle cx="147.6" cy="243.3" r="1.65"/><circle cx="148" cy="239.8" r="1.65"/><circle cx="148.5" cy="242.6" r="1.65"/><circle cx="148.9" cy="243.6" r="1.65"/><circle cx="149.4" cy="244.3" r="1.65"/><circle cx="149.8" cy="244.9" r="1.65"/><circle cx="150.3" cy="244.4" r="1.65"/><circle cx="150.7" cy="245" r="1.65"/><circle cx="151.2" cy="243" r="1.65"/><circle cx="151.6" cy="244.8" r="1.65"/><circle cx="152.1" cy="244.9" r="1.65"/><circle cx="152.5" cy="246.2" r="1.65"/><circle cx="152.9" cy="244.4" r="1.65"/><circle cx="153.4" cy="245.8" r="1.65"/><circle cx="153.8" cy="244.7" r="1.65"/><circle cx="154.3" cy="242.8" r="1.65"/><circle cx="154.7" cy="243.9" r="1.65"/><circle cx="155.2" cy="243.7" r="1.65"/><circle cx="155.6" cy="244" r="1.65"/><circle cx="156.1" cy="244.5" r="1.65"/><circle cx="156.5" cy="244.8" r="1.65"/><circle cx="157" cy="245.2" r="1.65"/><circle cx="157.4" cy="243.5" r="1.65"/><circle cx="157.8" cy="246.5" r="1.65"/><circle cx="158.3" cy="242.6" r="1.65"/><circle cx="158.7" cy="244.8" r="1.65"/><circle cx="159.2" cy="246.1" r="1.65"/><circle cx="159.6" cy="245.7" r="1.65"/><circle cx="160.1" cy="246" r="1.65"/><circle cx="160.5" cy="244.7" r="1.65"/><circle cx="161" cy="246.2" r="1.65"/><circle cx="161.4" cy="243.2" r="1.65"/><circle cx="161.9" cy="246.3" r="1.65"/><circle cx="162.3" cy="248.8" r="1.65"/><circle cx="162.8" cy="246.3" r="1.65"/><circle cx="163.2" cy="248.4" r="1.65"/><circle cx="163.6" cy="245.3" r="1.65"/><circle cx="164.1" cy="243.6" r="1.65"/><circle cx="164.5" cy="244.3" r="1.65"/><circle cx="165" cy="247.5" r="1.65"/><circle cx="165.4" cy="246.6" r="1.65"/><circle cx="165.9" cy="242.6" r="1.65"/><circle cx="166.3" cy="245" r="1.65"/><circle cx="166.8" cy="245.5" r="1.65"/><circle cx="167.2" cy="243.9" r="1.65"/><circle cx="167.7" cy="241.7" r="1.65"/><circle cx="168.1" cy="243.5" r="1.65"/><circle cx="168.6" cy="245.4" r="1.65"/><circle cx="169" cy="245.1" r="1.65"/><circle cx="169.4" cy="244.7" r="1.65"/><circle cx="169.9" cy="246.7" r="1.65"/><circle cx="170.3" cy="247.5" r="1.65"/><circle cx="170.8" cy="245.8" r="1.65"/><circle cx="171.2" cy="247.4" r="1.65"/><circle cx="171.7" cy="246" r="1.65"/><circle cx="172.1" cy="245.8" r="1.65"/><circle cx="172.6" cy="242.2" r="1.65"/><circle cx="173" cy="247.4" r="1.65"/><circle cx="173.5" cy="246.2" r="1.65"/><circle cx="173.9" cy="246.3" r="1.65"/><circle cx="174.3" cy="245.4" r="1.65"/><circle cx="174.8" cy="244.5" r="1.65"/><circle cx="175.2" cy="247" r="1.65"/><circle cx="175.7" cy="247.5" r="1.65"/><circle cx="176.1" cy="248.9" r="1.65"/><circle cx="176.6" cy="247.8" r="1.65"/><circle cx="177" cy="245.5" r="1.65"/><circle cx="177.5" cy="246.3" r="1.65"/><circle cx="177.9" cy="248" r="1.65"/><circle cx="178.4" cy="247" r="1.65"/><circle cx="178.8" cy="246.4" r="1.65"/><circle cx="179.3" cy="245.7" r="1.65"/><circle cx="179.7" cy="247.5" r="1.65"/><circle cx="180.1" cy="247" r="1.65"/><circle cx="180.6" cy="249.5" r="1.65"/><circle cx="181" cy="248.5" r="1.65"/><circle cx="181.5" cy="244.1" r="1.65"/><circle cx="181.9" cy="250.2" r="1.65"/><circle cx="182.4" cy="247.3" r="1.65"/><circle cx="182.8" cy="246.4" r="1.65"/><circle cx="183.3" cy="247.4" r="1.65"/><circle cx="183.7" cy="248.2" r="1.65"/><circle cx="184.2" cy="247" r="1.65"/><circle cx="184.6" cy="246.9" r="1.65"/><circle cx="185" cy="247.1" r="1.65"/><circle cx="185.5" cy="250" r="1.65"/><circle cx="185.9" cy="247.3" r="1.65"/><circle cx="186.4" cy="248.4" r="1.65"/><circle cx="186.8" cy="248" r="1.65"/><circle cx="187.3" cy="246.8" r="1.65"/><circle cx="187.7" cy="246.2" r="1.65"/><circle cx="188.2" cy="245.8" r="1.65"/><circle cx="188.6" cy="248.1" r="1.65"/><circle cx="189.1" cy="245.8" r="1.65"/><circle cx="189.5" cy="245.5" r="1.65"/><circle cx="190" cy="245.5" r="1.65"/><circle cx="190.4" cy="245.2" r="1.65"/><circle cx="190.8" cy="247.7" r="1.65"/><circle cx="191.3" cy="247.8" r="1.65"/><circle cx="191.7" cy="246.2" r="1.65"/><circle cx="192.2" cy="249.7" r="1.65"/><circle cx="192.6" cy="247.2" r="1.65"/><circle cx="193.1" cy="248.5" r="1.65"/><circle cx="193.5" cy="248.2" r="1.65"/><circle cx="194" cy="250.5" r="1.65"/><circle cx="194.4" cy="249.1" r="1.65"/><circle cx="194.9" cy="247.8" r="1.65"/><circle cx="195.3" cy="246.4" r="1.65"/><circle cx="195.8" cy="246.2" r="1.65"/><circle cx="196.2" cy="248" r="1.65"/><circle cx="196.6" cy="248.2" r="1.65"/><circle cx="197.1" cy="249.3" r="1.65"/><circle cx="197.5" cy="247.3" r="1.65"/><circle cx="198" cy="248.4" r="1.65"/><circle cx="198.4" cy="247.1" r="1.65"/><circle cx="198.9" cy="245.3" r="1.65"/><circle cx="199.3" cy="248.2" r="1.65"/><circle cx="199.8" cy="250.5" r="1.65"/><circle cx="200.2" cy="249.6" r="1.65"/><circle cx="200.7" cy="250.6" r="1.65"/><circle cx="201.1" cy="250.2" r="1.65"/><circle cx="201.5" cy="246.2" r="1.65"/><circle cx="202" cy="248" r="1.65"/><circle cx="202.4" cy="250.8" r="1.65"/><circle cx="202.9" cy="247.4" r="1.65"/><circle cx="203.3" cy="246.4" r="1.65"/><circle cx="203.8" cy="249" r="1.65"/><circle cx="204.2" cy="249.6" r="1.65"/><circle cx="204.7" cy="249.1" r="1.65"/><circle cx="205.1" cy="248.1" r="1.65"/><circle cx="205.6" cy="247.6" r="1.65"/><circle cx="206" cy="246.8" r="1.65"/><circle cx="206.5" cy="246.7" r="1.65"/><circle cx="206.9" cy="246.8" r="1.65"/><circle cx="207.3" cy="246.6" r="1.65"/><circle cx="207.8" cy="247.7" r="1.65"/><circle cx="208.2" cy="251.3" r="1.65"/><circle cx="208.7" cy="249.1" r="1.65"/><circle cx="209.1" cy="248.4" r="1.65"/><circle cx="209.6" cy="249.5" r="1.65"/><circle cx="210" cy="247.5" r="1.65"/><circle cx="210.5" cy="249.6" r="1.65"/><circle cx="210.9" cy="250.5" r="1.65"/><circle cx="211.4" cy="246.8" r="1.65"/><circle cx="211.8" cy="248" r="1.65"/><circle cx="212.3" cy="248.8" r="1.65"/><circle cx="212.7" cy="247.7" r="1.65"/><circle cx="213.1" cy="247.5" r="1.65"/><circle cx="213.6" cy="248.7" r="1.65"/><circle cx="214" cy="253.2" r="1.65"/><circle cx="214.5" cy="250.4" r="1.65"/><circle cx="214.9" cy="250.1" r="1.65"/><circle cx="215.4" cy="251" r="1.65"/><circle cx="215.8" cy="249.1" r="1.65"/><circle cx="216.3" cy="247.6" r="1.65"/><circle cx="216.7" cy="250.3" r="1.65"/><circle cx="217.2" cy="251.4" r="1.65"/><circle cx="217.6" cy="246.3" r="1.65"/><circle cx="218" cy="250.3" r="1.65"/><circle cx="218.5" cy="251.6" r="1.65"/><circle cx="218.9" cy="249.3" r="1.65"/><circle cx="219.4" cy="249" r="1.65"/><circle cx="219.8" cy="250.9" r="1.65"/><circle cx="220.3" cy="248.5" r="1.65"/><circle cx="220.7" cy="250.6" r="1.65"/><circle cx="221.2" cy="251.3" r="1.65"/><circle cx="221.6" cy="249.6" r="1.65"/><circle cx="222.1" cy="248.7" r="1.65"/><circle cx="222.5" cy="251" r="1.65"/><circle cx="223" cy="249.5" r="1.65"/><circle cx="223.4" cy="250.2" r="1.65"/><circle cx="223.8" cy="245.5" r="1.65"/><circle cx="224.3" cy="251.2" r="1.65"/><circle cx="224.7" cy="247.9" r="1.65"/><circle cx="225.2" cy="250.3" r="1.65"/><circle cx="225.6" cy="250.4" r="1.65"/><circle cx="226.1" cy="249.1" r="1.65"/><circle cx="226.5" cy="248.8" r="1.65"/></g><g fill="#ffb0b0"><circle cx="36.6" cy="197.4" r="0.5"/><circle cx="37.1" cy="207.6" r="0.5"/><circle cx="37.6" cy="219.6" r="0.5"/><circle cx="38" cy="220.7" r="0.5"/><circle cx="38.5" cy="221.2" r="0.5"/><circle cx="38.9" cy="221.7" r="0.5"/><circle cx="39.4" cy="222" r="0.5"/><circle cx="39.8" cy="222.7" r="0.5"/><circle cx="40.3" cy="223.1" r="0.5"/><circle cx="40.7" cy="223.1" r="0.5"/><circle cx="41.2" cy="223.8" r="0.5"/><circle cx="41.6" cy="224.5" r="0.5"/><circle cx="42.1" cy="224.7" r="0.5"/><circle cx="42.5" cy="224.9" r="0.5"/><circle cx="42.9" cy="224.9" r="0.5"/><circle cx="43.4" cy="225.7" r="0.5"/><circle cx="43.8" cy="226.4" r="0.5"/><circle cx="44.3" cy="226.1" r="0.5"/><circle cx="44.7" cy="226.2" r="0.5"/><circle cx="45.2" cy="226.4" r="0.5"/><circle cx="45.6" cy="226.1" r="0.5"/><circle cx="46.1" cy="226.7" r="0.5"/><circle cx="46.5" cy="226.7" r="0.5"/><circle cx="47" cy="227.8" r="0.5"/><circle cx="47.4" cy="227" r="0.5"/><circle cx="47.9" cy="226.5" r="0.5"/><circle cx="48.3" cy="227.4" r="0.5"/><circle cx="48.7" cy="227.8" r="0.5"/><circle cx="49.2" cy="228.1" r="0.5"/><circle cx="49.6" cy="227.1" r="0.5"/><circle cx="50.1" cy="229.1" r="0.5"/><circle cx="50.5" cy="228.7" r="0.5"/><circle cx="51" cy="228.4" r="0.5"/><circle cx="51.4" cy="228.3" r="0.5"/><circle cx="51.9" cy="229.4" r="0.5"/><circle cx="52.3" cy="229" r="0.5"/><circle cx="52.8" cy="229.6" r="0.5"/><circle cx="53.2" cy="229.4" r="0.5"/><circle cx="53.7" cy="229.7" r="0.5"/><circle cx="54.1" cy="230.8" r="0.5"/><circle cx="54.5" cy="229.9" r="0.5"/><circle cx="55" cy="229.2" r="0.5"/><circle cx="55.4" cy="231.1" r="0.5"/><circle cx="55.9" cy="230.5" r="0.5"/><circle cx="56.3" cy="229.7" r="0.5"/><circle cx="56.8" cy="231.7" r="0.5"/><circle cx="57.2" cy="230.5" r="0.5"/><circle cx="57.7" cy="232" r="0.5"/><circle cx="58.1" cy="229.6" r="0.5"/><circle cx="58.6" cy="228.3" r="0.5"/><circle cx="59" cy="228.7" r="0.5"/><circle cx="59.4" cy="231.5" r="0.5"/><circle cx="59.9" cy="230.4" r="0.5"/><circle cx="60.3" cy="231.3" r="0.5"/><circle cx="60.8" cy="231.4" r="0.5"/><circle cx="61.2" cy="229.7" r="0.5"/><circle cx="61.7" cy="233.5" r="0.5"/><circle cx="62.1" cy="230.5" r="0.5"/><circle cx="62.6" cy="232.1" r="0.5"/><circle cx="63" cy="230.1" r="0.5"/><circle cx="63.5" cy="231.9" r="0.5"/><circle cx="63.9" cy="233.3" r="0.5"/><circle cx="64.4" cy="232" r="0.5"/><circle cx="64.8" cy="231.4" r="0.5"/><circle cx="65.2" cy="232.5" r="0.5"/><circle cx="65.7" cy="231.9" r="0.5"/><circle cx="66.1" cy="233.6" r="0.5"/><circle cx="66.6" cy="236.3" r="0.5"/><circle cx="67" cy="231.5" r="0.5"/><circle cx="67.5" cy="231.9" r="0.5"/><circle cx="67.9" cy="232.9" r="0.5"/><circle cx="68.4" cy="233.2" r="0.5"/><circle cx="68.8" cy="231.7" r="0.5"/><circle cx="69.3" cy="234.2" r="0.5"/><circle cx="69.7" cy="234.7" r="0.5"/><circle cx="70.2" cy="233.9" r="0.5"/><circle cx="70.6" cy="231.8" r="0.5"/><circle cx="71" cy="236" r="0.5"/><circle cx="71.5" cy="232" r="0.5"/><circle cx="71.9" cy="235" r="0.5"/><circle cx="72.4" cy="235.8" r="0.5"/><circle cx="72.8" cy="232.2" r="0.5"/><circle cx="73.3" cy="234.4" r="0.5"/><circle cx="73.7" cy="236.4" r="0.5"/><circle cx="74.2" cy="235" r="0.5"/><circle cx="74.6" cy="233" r="0.5"/><circle cx="75.1" cy="232.7" r="0.5"/><circle cx="75.5" cy="235.4" r="0.5"/><circle cx="75.9" cy="234.1" r="0.5"/><circle cx="76.4" cy="233.7" r="0.5"/><circle cx="76.8" cy="236" r="0.5"/><circle cx="77.3" cy="234.5" r="0.5"/><circle cx="77.7" cy="235.2" r="0.5"/><circle cx="78.2" cy="236.1" r="0.5"/><circle cx="78.6" cy="236.1" r="0.5"/><circle cx="79.1" cy="235.3" r="0.5"/><circle cx="79.5" cy="235.4" r="0.5"/><circle cx="80" cy="236.5" r="0.5"/><circle cx="80.4" cy="236.4" r="0.5"/><circle cx="80.9" cy="234" r="0.5"/><circle cx="81.3" cy="235.5" r="0.5"/><circle cx="81.7" cy="234.6" r="0.5"/><circle cx="82.2" cy="234.2" r="0.5"/><circle cx="82.6" cy="235.3" r="0.5"/><circle cx="83.1" cy="232.7" r="0.5"/><circle cx="83.5" cy="237.7" r="0.5"/><circle cx="84" cy="235.2" r="0.5"/><circle cx="84.4" cy="237.2" r="0.5"/><circle cx="84.9" cy="233.8" r="0.5"/><circle cx="85.3" cy="234.1" r="0.5"/><circle cx="85.8" cy="240.1" r="0.5"/><circle cx="86.2" cy="238.6" r="0.5"/><circle cx="86.6" cy="236.1" r="0.5"/><circle cx="87.1" cy="236" r="0.5"/><circle cx="87.5" cy="236.1" r="0.5"/><circle cx="88" cy="237.5" r="0.5"/><circle cx="88.4" cy="236.7" r="0.5"/><circle cx="88.9" cy="236.5" r="0.5"/><circle cx="89.3" cy="237.7" r="0.5"/><circle cx="89.8" cy="236" r="0.5"/><circle cx="90.2" cy="241.3" r="0.5"/><circle cx="90.7" cy="236.8" r="0.5"/><circle cx="91.1" cy="239.5" r="0.5"/><circle cx="91.6" cy="236.3" r="0.5"/><circle cx="92" cy="238.3" r="0.5"/><circle cx="92.4" cy="239.4" r="0.5"/><circle cx="92.9" cy="237.4" r="0.5"/><circle cx="93.3" cy="239.5" r="0.5"/><circle cx="93.8" cy="239.5" r="0.5"/><circle cx="94.2" cy="240.6" r="0.5"/><circle cx="94.7" cy="238.2" r="0.5"/><circle cx="95.1" cy="237.4" r="0.5"/><circle cx="95.6" cy="236.6" r="0.5"/><circle cx="96" cy="238.5" r="0.5"/><circle cx="96.5" cy="236.6" r="0.5"/><circle cx="96.9" cy="238.3" r="0.5"/><circle cx="97.4" cy="238.5" r="0.5"/><circle cx="97.8" cy="237.5" r="0.5"/><circle cx="98.2" cy="236.8" r="0.5"/><circle cx="98.7" cy="239.1" r="0.5"/><circle cx="99.1" cy="239" r="0.5"/><circle cx="99.6" cy="238.9" r="0.5"/><circle cx="100" cy="238.5" r="0.5"/><circle cx="100.5" cy="240.1" r="0.5"/><circle cx="100.9" cy="237.1" r="0.5"/><circle cx="101.4" cy="239.4" r="0.5"/><circle cx="101.8" cy="238.1" r="0.5"/><circle cx="102.3" cy="240.2" r="0.5"/><circle cx="102.7" cy="238.4" r="0.5"/><circle cx="103.1" cy="238.4" r="0.5"/><circle cx="103.6" cy="239.7" r="0.5"/><circle cx="104" cy="235.8" r="0.5"/><circle cx="104.5" cy="238.5" r="0.5"/><circle cx="104.9" cy="236.3" r="0.5"/><circle cx="105.4" cy="237.7" r="0.5"/><circle cx="105.8" cy="240.3" r="0.5"/><circle cx="106.3" cy="239.9" r="0.5"/><circle cx="106.7" cy="238.7" r="0.5"/><circle cx="107.2" cy="239.3" r="0.5"/><circle cx="107.6" cy="239.4" r="0.5"/><circle cx="108.1" cy="240" r="0.5"/><circle cx="108.5" cy="242.4" r="0.5"/><circle cx="108.9" cy="240" r="0.5"/><circle cx="109.4" cy="243.2" r="0.5"/><circle cx="109.8" cy="239.1" r="0.5"/><circle cx="110.3" cy="240.9" r="0.5"/><circle cx="110.7" cy="240.9" r="0.5"/><circle cx="111.2" cy="240.2" r="0.5"/><circle cx="111.6" cy="239.5" r="0.5"/><circle cx="112.1" cy="242.2" r="0.5"/><circle cx="112.5" cy="242.8" r="0.5"/><circle cx="113" cy="241.7" r="0.5"/><circle cx="113.4" cy="243.4" r="0.5"/><circle cx="113.8" cy="241.7" r="0.5"/><circle cx="114.3" cy="237.6" r="0.5"/><circle cx="114.7" cy="241.9" r="0.5"/><circle cx="115.2" cy="239.2" r="0.5"/><circle cx="115.6" cy="242.5" r="0.5"/><circle cx="116.1" cy="239.9" r="0.5"/><circle cx="116.5" cy="240.9" r="0.5"/><circle cx="117" cy="240.6" r="0.5"/><circle cx="117.4" cy="239.6" r="0.5"/><circle cx="117.9" cy="237.8" r="0.5"/><circle cx="118.3" cy="240.3" r="0.5"/><circle cx="118.8" cy="240.5" r="0.5"/><circle cx="119.2" cy="242.3" r="0.5"/><circle cx="119.6" cy="239.8" r="0.5"/><circle cx="120.1" cy="241.2" r="0.5"/><circle cx="120.5" cy="239.5" r="0.5"/><circle cx="121" cy="241" r="0.5"/><circle cx="121.4" cy="238.2" r="0.5"/><circle cx="121.9" cy="244.2" r="0.5"/><circle cx="122.3" cy="241.5" r="0.5"/><circle cx="122.8" cy="239.7" r="0.5"/><circle cx="123.2" cy="241.7" r="0.5"/><circle cx="123.7" cy="242.5" r="0.5"/><circle cx="124.1" cy="241.7" r="0.5"/><circle cx="124.6" cy="243.5" r="0.5"/><circle cx="125" cy="241.1" r="0.5"/><circle cx="125.4" cy="237.5" r="0.5"/><circle cx="125.9" cy="239.6" r="0.5"/><circle cx="126.3" cy="243.2" r="0.5"/><circle cx="126.8" cy="242.9" r="0.5"/><circle cx="127.2" cy="242.2" r="0.5"/><circle cx="127.7" cy="240" r="0.5"/><circle cx="128.1" cy="243" r="0.5"/><circle cx="128.6" cy="242.8" r="0.5"/><circle cx="129" cy="240.3" r="0.5"/><circle cx="129.5" cy="240.4" r="0.5"/><circle cx="129.9" cy="242.4" r="0.5"/><circle cx="130.3" cy="243.7" r="0.5"/><circle cx="130.8" cy="244.4" r="0.5"/><circle cx="131.2" cy="243.1" r="0.5"/><circle cx="131.7" cy="245.6" r="0.5"/><circle cx="132.1" cy="240.9" r="0.5"/><circle cx="132.6" cy="243.1" r="0.5"/><circle cx="133" cy="241.4" r="0.5"/><circle cx="133.5" cy="239.2" r="0.5"/><circle cx="133.9" cy="240.4" r="0.5"/><circle cx="134.4" cy="244.1" r="0.5"/><circle cx="134.8" cy="240.9" r="0.5"/><circle cx="135.3" cy="240.5" r="0.5"/><circle cx="135.7" cy="243.6" r="0.5"/><circle cx="136.1" cy="244" r="0.5"/><circle cx="136.6" cy="242.7" r="0.5"/><circle cx="137" cy="245.1" r="0.5"/><circle cx="137.5" cy="240.2" r="0.5"/><circle cx="137.9" cy="246.5" r="0.5"/><circle cx="138.4" cy="244.4" r="0.5"/><circle cx="138.8" cy="243.1" r="0.5"/><circle cx="139.3" cy="243.1" r="0.5"/><circle cx="139.7" cy="242.5" r="0.5"/><circle cx="140.2" cy="242.4" r="0.5"/><circle cx="140.6" cy="243.2" r="0.5"/><circle cx="141.1" cy="241.1" r="0.5"/><circle cx="141.5" cy="246.4" r="0.5"/><circle cx="141.9" cy="243" r="0.5"/><circle cx="142.4" cy="244.2" r="0.5"/><circle cx="142.8" cy="242.9" r="0.5"/><circle cx="143.3" cy="242.8" r="0.5"/><circle cx="143.7" cy="244.6" r="0.5"/><circle cx="144.2" cy="244.2" r="0.5"/><circle cx="144.6" cy="242" r="0.5"/><circle cx="145.1" cy="242.7" r="0.5"/><circle cx="145.5" cy="244.4" r="0.5"/><circle cx="146" cy="240.1" r="0.5"/><circle cx="146.4" cy="239.7" r="0.5"/><circle cx="146.8" cy="245.8" r="0.5"/><circle cx="147.3" cy="243" r="0.5"/><circle cx="147.7" cy="239.5" r="0.5"/><circle cx="148.2" cy="242.3" r="0.5"/><circle cx="148.6" cy="243.3" r="0.5"/><circle cx="149.1" cy="244" r="0.5"/><circle cx="149.5" cy="244.6" r="0.5"/><circle cx="150" cy="244.1" r="0.5"/><circle cx="150.4" cy="244.7" r="0.5"/><circle cx="150.9" cy="242.7" r="0.5"/><circle cx="151.3" cy="244.5" r="0.5"/><circle cx="151.8" cy="244.6" r="0.5"/><circle cx="152.2" cy="245.9" r="0.5"/><circle cx="152.6" cy="244.1" r="0.5"/><circle cx="153.1" cy="245.5" r="0.5"/><circle cx="153.5" cy="244.4" r="0.5"/><circle cx="154" cy="242.5" r="0.5"/><circle cx="154.4" cy="243.6" r="0.5"/><circle cx="154.9" cy="243.4" r="0.5"/><circle cx="155.3" cy="243.7" r="0.5"/><circle cx="155.8" cy="244.2" r="0.5"/><circle cx="156.2" cy="244.5" r="0.5"/><circle cx="156.7" cy="244.9" r="0.5"/><circle cx="157.1" cy="243.2" r="0.5"/><circle cx="157.5" cy="246.2" r="0.5"/><circle cx="158" cy="242.3" r="0.5"/><circle cx="158.4" cy="244.5" r="0.5"/><circle cx="158.9" cy="245.8" r="0.5"/><circle cx="159.3" cy="245.4" r="0.5"/><circle cx="159.8" cy="245.7" r="0.5"/><circle cx="160.2" cy="244.4" r="0.5"/><circle cx="160.7" cy="245.9" r="0.5"/><circle cx="161.1" cy="242.9" r="0.5"/><circle cx="161.6" cy="246" r="0.5"/><circle cx="162" cy="248.5" r="0.5"/><circle cx="162.5" cy="246" r="0.5"/><circle cx="162.9" cy="248.1" r="0.5"/><circle cx="163.3" cy="245" r="0.5"/><circle cx="163.8" cy="243.3" r="0.5"/><circle cx="164.2" cy="244" r="0.5"/><circle cx="164.7" cy="247.2" r="0.5"/><circle cx="165.1" cy="246.3" r="0.5"/><circle cx="165.6" cy="242.3" r="0.5"/><circle cx="166" cy="244.7" r="0.5"/><circle cx="166.5" cy="245.2" r="0.5"/><circle cx="166.9" cy="243.6" r="0.5"/><circle cx="167.4" cy="241.4" r="0.5"/><circle cx="167.8" cy="243.2" r="0.5"/><circle cx="168.3" cy="245.1" r="0.5"/><circle cx="168.7" cy="244.8" r="0.5"/><circle cx="169.1" cy="244.4" r="0.5"/><circle cx="169.6" cy="246.4" r="0.5"/><circle cx="170" cy="247.2" r="0.5"/><circle cx="170.5" cy="245.5" r="0.5"/><circle cx="170.9" cy="247.1" r="0.5"/><circle cx="171.4" cy="245.7" r="0.5"/><circle cx="171.8" cy="245.5" r="0.5"/><circle cx="172.3" cy="241.9" r="0.5"/><circle cx="172.7" cy="247.1" r="0.5"/><circle cx="173.2" cy="245.9" r="0.5"/><circle cx="173.6" cy="246" r="0.5"/><circle cx="174" cy="245.1" r="0.5"/><circle cx="174.5" cy="244.2" r="0.5"/><circle cx="174.9" cy="246.7" r="0.5"/><circle cx="175.4" cy="247.2" r="0.5"/><circle cx="175.8" cy="248.6" r="0.5"/><circle cx="176.3" cy="247.5" r="0.5"/><circle cx="176.7" cy="245.2" r="0.5"/><circle cx="177.2" cy="246" r="0.5"/><circle cx="177.6" cy="247.7" r="0.5"/><circle cx="178.1" cy="246.7" r="0.5"/><circle cx="178.5" cy="246.1" r="0.5"/><circle cx="179" cy="245.4" r="0.5"/><circle cx="179.4" cy="247.2" r="0.5"/><circle cx="179.8" cy="246.7" r="0.5"/><circle cx="180.3" cy="249.2" r="0.5"/><circle cx="180.7" cy="248.2" r="0.5"/><circle cx="181.2" cy="243.8" r="0.5"/><circle cx="181.6" cy="249.9" r="0.5"/><circle cx="182.1" cy="247" r="0.5"/><circle cx="182.5" cy="246.1" r="0.5"/><circle cx="183" cy="247.1" r="0.5"/><circle cx="183.4" cy="247.9" r="0.5"/><circle cx="183.9" cy="246.7" r="0.5"/><circle cx="184.3" cy="246.6" r="0.5"/><circle cx="184.7" cy="246.8" r="0.5"/><circle cx="185.2" cy="249.7" r="0.5"/><circle cx="185.6" cy="247" r="0.5"/><circle cx="186.1" cy="248.1" r="0.5"/><circle cx="186.5" cy="247.7" r="0.5"/><circle cx="187" cy="246.5" r="0.5"/><circle cx="187.4" cy="245.9" r="0.5"/><circle cx="187.9" cy="245.5" r="0.5"/><circle cx="188.3" cy="247.8" r="0.5"/><circle cx="188.8" cy="245.5" r="0.5"/><circle cx="189.2" cy="245.2" r="0.5"/><circle cx="189.7" cy="245.2" r="0.5"/><circle cx="190.1" cy="244.9" r="0.5"/><circle cx="190.5" cy="247.4" r="0.5"/><circle cx="191" cy="247.5" r="0.5"/><circle cx="191.4" cy="245.9" r="0.5"/><circle cx="191.9" cy="249.4" r="0.5"/><circle cx="192.3" cy="246.9" r="0.5"/><circle cx="192.8" cy="248.2" r="0.5"/><circle cx="193.2" cy="247.9" r="0.5"/><circle cx="193.7" cy="250.2" r="0.5"/><circle cx="194.1" cy="248.8" r="0.5"/><circle cx="194.6" cy="247.5" r="0.5"/><circle cx="195" cy="246.1" r="0.5"/><circle cx="195.5" cy="245.9" r="0.5"/><circle cx="195.9" cy="247.7" r="0.5"/><circle cx="196.3" cy="247.9" r="0.5"/><circle cx="196.8" cy="249" r="0.5"/><circle cx="197.2" cy="247" r="0.5"/><circle cx="197.7" cy="248.1" r="0.5"/><circle cx="198.1" cy="246.8" r="0.5"/><circle cx="198.6" cy="245" r="0.5"/><circle cx="199" cy="247.9" r="0.5"/><circle cx="199.5" cy="250.2" r="0.5"/><circle cx="199.9" cy="249.3" r="0.5"/><circle cx="200.4" cy="250.3" r="0.5"/><circle cx="200.8" cy="249.9" r="0.5"/><circle cx="201.2" cy="245.9" r="0.5"/><circle cx="201.7" cy="247.7" r="0.5"/><circle cx="202.1" cy="250.5" r="0.5"/><circle cx="202.6" cy="247.1" r="0.5"/><circle cx="203" cy="246.1" r="0.5"/><circle cx="203.5" cy="248.7" r="0.5"/><circle cx="203.9" cy="249.3" r="0.5"/><circle cx="204.4" cy="248.8" r="0.5"/><circle cx="204.8" cy="247.8" r="0.5"/><circle cx="205.3" cy="247.3" r="0.5"/><circle cx="205.7" cy="246.5" r="0.5"/><circle cx="206.2" cy="246.4" r="0.5"/><circle cx="206.6" cy="246.5" r="0.5"/><circle cx="207" cy="246.3" r="0.5"/><circle cx="207.5" cy="247.4" r="0.5"/><circle cx="207.9" cy="251" r="0.5"/><circle cx="208.4" cy="248.8" r="0.5"/><circle cx="208.8" cy="248.1" r="0.5"/><circle cx="209.3" cy="249.2" r="0.5"/><circle cx="209.7" cy="247.2" r="0.5"/><circle cx="210.2" cy="249.3" r="0.5"/><circle cx="210.6" cy="250.2" r="0.5"/><circle cx="211.1" cy="246.5" r="0.5"/><circle cx="211.5" cy="247.7" r="0.5"/><circle cx="212" cy="248.5" r="0.5"/><circle cx="212.4" cy="247.4" r="0.5"/><circle cx="212.8" cy="247.2" r="0.5"/><circle cx="213.3" cy="248.4" r="0.5"/><circle cx="213.7" cy="252.9" r="0.5"/><circle cx="214.2" cy="250.1" r="0.5"/><circle cx="214.6" cy="249.8" r="0.5"/><circle cx="215.1" cy="250.7" r="0.5"/><circle cx="215.5" cy="248.8" r="0.5"/><circle cx="216" cy="247.3" r="0.5"/><circle cx="216.4" cy="250" r="0.5"/><circle cx="216.9" cy="251.1" r="0.5"/><circle cx="217.3" cy="246" r="0.5"/><circle cx="217.7" cy="250" r="0.5"/><circle cx="218.2" cy="251.3" r="0.5"/><circle cx="218.6" cy="249" r="0.5"/><circle cx="219.1" cy="248.7" r="0.5"/><circle cx="219.5" cy="250.6" r="0.5"/><circle cx="220" cy="248.2" r="0.5"/><circle cx="220.4" cy="250.3" r="0.5"/><circle cx="220.9" cy="251" r="0.5"/><circle cx="221.3" cy="249.3" r="0.5"/><circle cx="221.8" cy="248.4" r="0.5"/><circle cx="222.2" cy="250.7" r="0.5"/><circle cx="222.7" cy="249.2" r="0.5"/><circle cx="223.1" cy="249.9" r="0.5"/><circle cx="223.5" cy="245.2" r="0.5"/><circle cx="224" cy="250.9" r="0.5"/><circle cx="224.4" cy="247.6" r="0.5"/><circle cx="224.9" cy="250" r="0.5"/><circle cx="225.3" cy="250.1" r="0.5"/><circle cx="225.8" cy="248.8" r="0.5"/><circle cx="226.2" cy="248.5" r="0.5"/></g><g fill="#2a8c2a" stroke="#2a8c2a" stroke-width="0.4"><circle cx="36.9" cy="197.7" r="1.65"/><circle cx="37.4" cy="206.9" r="1.65"/><circle cx="37.9" cy="214.4" r="1.65"/><circle cx="38.3" cy="218.1" r="1.65"/><circle cx="38.8" cy="220.3" r="1.65"/><circle cx="39.2" cy="222.1" r="1.65"/><circle cx="39.7" cy="223.6" r="1.65"/><circle cx="40.1" cy="225.3" r="1.65"/><circle cx="40.6" cy="226.5" r="1.65"/><circle cx="41" cy="227.6" r="1.65"/><circle cx="41.5" cy="229.1" r="1.65"/><circle cx="41.9" cy="230.7" r="1.65"/><circle cx="42.4" cy="231.6" r="1.65"/><circle cx="42.8" cy="232.6" r="1.65"/><circle cx="43.2" cy="232" r="1.65"/><circle cx="43.7" cy="234" r="1.65"/><circle cx="44.1" cy="233.5" r="1.65"/><circle cx="44.6" cy="234.6" r="1.65"/><circle cx="45" cy="234.5" r="1.65"/><circle cx="45.5" cy="235.6" r="1.65"/><circle cx="45.9" cy="236.9" r="1.65"/><circle cx="46.4" cy="237.6" r="1.65"/><circle cx="46.8" cy="237.9" r="1.65"/><circle cx="47.3" cy="238.4" r="1.65"/><circle cx="47.7" cy="239.5" r="1.65"/><circle cx="48.2" cy="239.6" r="1.65"/><circle cx="48.6" cy="238.4" r="1.65"/><circle cx="49" cy="242.2" r="1.65"/><circle cx="49.5" cy="240.6" r="1.65"/><circle cx="49.9" cy="242.3" r="1.65"/><circle cx="50.4" cy="241.4" r="1.65"/><circle cx="50.8" cy="241" r="1.65"/><circle cx="51.3" cy="242.4" r="1.65"/><circle cx="51.7" cy="241.7" r="1.65"/><circle cx="52.2" cy="245.1" r="1.65"/><circle cx="52.6" cy="241.8" r="1.65"/><circle cx="53.1" cy="244.5" r="1.65"/><circle cx="53.5" cy="243" r="1.65"/><circle cx="54" cy="244" r="1.65"/><circle cx="54.4" cy="248.5" r="1.65"/><circle cx="54.8" cy="246.1" r="1.65"/><circle cx="55.3" cy="244.9" r="1.65"/><circle cx="55.7" cy="243" r="1.65"/><circle cx="56.2" cy="245.5" r="1.65"/><circle cx="56.6" cy="245.9" r="1.65"/><circle cx="57.1" cy="249.2" r="1.65"/><circle cx="57.5" cy="244.5" r="1.65"/><circle cx="58" cy="244.1" r="1.65"/><circle cx="58.4" cy="247.8" r="1.65"/><circle cx="58.9" cy="248.6" r="1.65"/><circle cx="59.3" cy="251.8" r="1.65"/><circle cx="59.7" cy="247.1" r="1.65"/><circle cx="60.2" cy="243.7" r="1.65"/><circle cx="60.6" cy="248.1" r="1.65"/><circle cx="61.1" cy="247.3" r="1.65"/><circle cx="61.5" cy="249.1" r="1.65"/><circle cx="62" cy="252.9" r="1.65"/><circle cx="62.4" cy="247.9" r="1.65"/><circle cx="62.9" cy="254.2" r="1.65"/><circle cx="63.3" cy="252.1" r="1.65"/><circle cx="63.8" cy="251.2" r="1.65"/><circle cx="64.2" cy="250.1" r="1.65"/><circle cx="64.7" cy="251.5" r="1.65"/><circle cx="65.1" cy="251.8" r="1.65"/><circle cx="65.5" cy="255.1" r="1.65"/><circle cx="66" cy="256.8" r="1.65"/><circle cx="66.4" cy="253.5" r="1.65"/><circle cx="66.9" cy="255.9" r="1.65"/><circle cx="67.3" cy="257.8" r="1.65"/><circle cx="67.8" cy="258" r="1.65"/><circle cx="68.2" cy="256.2" r="1.65"/><circle cx="68.7" cy="260.2" r="1.65"/><circle cx="69.1" cy="259.1" r="1.65"/><circle cx="69.6" cy="260.2" r="1.65"/><circle cx="70" cy="255.6" r="1.65"/><circle cx="70.5" cy="255.3" r="1.65"/><circle cx="70.9" cy="251.3" r="1.65"/><circle cx="71.3" cy="261" r="1.65"/><circle cx="71.8" cy="259.1" r="1.65"/><circle cx="72.2" cy="255.1" r="1.65"/><circle cx="72.7" cy="258.5" r="1.65"/><circle cx="73.1" cy="259.1" r="1.65"/><circle cx="73.6" cy="253.9" r="1.65"/><circle cx="74" cy="259.7" r="1.65"/><circle cx="74.5" cy="262.2" r="1.65"/><circle cx="74.9" cy="262.9" r="1.65"/><circle cx="75.4" cy="258.8" r="1.65"/><circle cx="75.8" cy="259.2" r="1.65"/><circle cx="76.2" cy="264" r="1.65"/><circle cx="76.7" cy="263.3" r="1.65"/><circle cx="77.1" cy="259.5" r="1.65"/><circle cx="77.6" cy="259.7" r="1.65"/><circle cx="78" cy="263.3" r="1.65"/><circle cx="78.5" cy="260.2" r="1.65"/><circle cx="78.9" cy="260.7" r="1.65"/><circle cx="79.4" cy="267.4" r="1.65"/><circle cx="79.8" cy="263.7" r="1.65"/><circle cx="80.3" cy="262.1" r="1.65"/><circle cx="80.7" cy="265.1" r="1.65"/><circle cx="81.2" cy="269.6" r="1.65"/><circle cx="81.6" cy="264.9" r="1.65"/><circle cx="82" cy="262.4" r="1.65"/><circle cx="82.5" cy="260.5" r="1.65"/><circle cx="82.9" cy="271" r="1.65"/><circle cx="83.4" cy="258.3" r="1.65"/><circle cx="83.8" cy="268.7" r="1.65"/><circle cx="84.3" cy="263.4" r="1.65"/><circle cx="84.7" cy="262.9" r="1.65"/><circle cx="85.2" cy="263.9" r="1.65"/><circle cx="85.6" cy="266.4" r="1.65"/><circle cx="86.1" cy="270.2" r="1.65"/><circle cx="86.5" cy="265.7" r="1.65"/><circle cx="86.9" cy="269.6" r="1.65"/><circle cx="87.4" cy="274.7" r="1.65"/><circle cx="87.8" cy="260.5" r="1.65"/><circle cx="88.3" cy="266.4" r="1.65"/><circle cx="88.7" cy="263.7" r="1.65"/><circle cx="89.2" cy="271.3" r="1.65"/><circle cx="89.6" cy="265.1" r="1.65"/><circle cx="90.1" cy="265" r="1.65"/><circle cx="90.5" cy="265.3" r="1.65"/><circle cx="91" cy="269.8" r="1.65"/><circle cx="91.4" cy="273.3" r="1.65"/><circle cx="91.9" cy="270.7" r="1.65"/><circle cx="92.3" cy="276.4" r="1.65"/><circle cx="92.7" cy="275.3" r="1.65"/><circle cx="93.2" cy="270.7" r="1.65"/><circle cx="93.6" cy="273.8" r="1.65"/><circle cx="94.1" cy="271.8" r="1.65"/><circle cx="94.5" cy="271.8" r="1.65"/><circle cx="95" cy="266.5" r="1.65"/><circle cx="95.4" cy="268.5" r="1.65"/><circle cx="95.9" cy="272.3" r="1.65"/><circle cx="96.3" cy="269.1" r="1.65"/><circle cx="96.8" cy="274.7" r="1.65"/><circle cx="97.2" cy="273.7" r="1.65"/><circle cx="97.7" cy="270.5" r="1.65"/><circle cx="98.1" cy="276.5" r="1.65"/><circle cx="98.5" cy="274.1" r="1.65"/><circle cx="99" cy="277.1" r="1.65"/><circle cx="99.4" cy="273.4" r="1.65"/><circle cx="99.9" cy="269.5" r="1.65"/><circle cx="100.3" cy="276.2" r="1.65"/><circle cx="100.8" cy="273.7" r="1.65"/><circle cx="101.2" cy="276.9" r="1.65"/><circle cx="101.7" cy="277.8" r="1.65"/><circle cx="102.1" cy="278.2" r="1.65"/><circle cx="102.6" cy="271.1" r="1.65"/><circle cx="103" cy="268.8" r="1.65"/><circle cx="103.4" cy="274" r="1.65"/><circle cx="103.9" cy="277.4" r="1.65"/><circle cx="104.3" cy="273.8" r="1.65"/><circle cx="104.8" cy="276.7" r="1.65"/><circle cx="105.2" cy="273.8" r="1.65"/><circle cx="105.7" cy="275.4" r="1.65"/><circle cx="106.1" cy="275.5" r="1.65"/><circle cx="106.6" cy="274.8" r="1.65"/><circle cx="107" cy="278.1" r="1.65"/><circle cx="107.5" cy="277.8" r="1.65"/><circle cx="107.9" cy="281.5" r="1.65"/><circle cx="108.4" cy="278.2" r="1.65"/><circle cx="108.8" cy="281" r="1.65"/><circle cx="109.2" cy="277.7" r="1.65"/><circle cx="109.7" cy="280" r="1.65"/><circle cx="110.1" cy="277.3" r="1.65"/><circle cx="110.6" cy="276.5" r="1.65"/><circle cx="111" cy="281.6" r="1.65"/><circle cx="111.5" cy="280.1" r="1.65"/><circle cx="111.9" cy="280.6" r="1.65"/><circle cx="112.4" cy="276.2" r="1.65"/><circle cx="112.8" cy="273.7" r="1.65"/><circle cx="113.3" cy="276.1" r="1.65"/><circle cx="113.7" cy="279.5" r="1.65"/><circle cx="114.1" cy="274.7" r="1.65"/><circle cx="114.6" cy="282.9" r="1.65"/><circle cx="115" cy="274.9" r="1.65"/><circle cx="115.5" cy="280.8" r="1.65"/><circle cx="115.9" cy="286.7" r="1.65"/><circle cx="116.4" cy="272.1" r="1.65"/><circle cx="116.8" cy="275.1" r="1.65"/><circle cx="117.3" cy="282.3" r="1.65"/><circle cx="117.7" cy="279.2" r="1.65"/><circle cx="118.2" cy="280.3" r="1.65"/><circle cx="118.6" cy="279.6" r="1.65"/><circle cx="119.1" cy="284" r="1.65"/><circle cx="119.5" cy="281.9" r="1.65"/><circle cx="119.9" cy="278.9" r="1.65"/><circle cx="120.4" cy="279.7" r="1.65"/><circle cx="120.8" cy="277.2" r="1.65"/><circle cx="121.3" cy="280.3" r="1.65"/><circle cx="121.7" cy="274.3" r="1.65"/><circle cx="122.2" cy="282.7" r="1.65"/><circle cx="122.6" cy="280.2" r="1.65"/><circle cx="123.1" cy="286.2" r="1.65"/><circle cx="123.5" cy="284.5" r="1.65"/><circle cx="124" cy="277.6" r="1.65"/><circle cx="124.4" cy="283.9" r="1.65"/><circle cx="124.9" cy="280" r="1.65"/><circle cx="125.3" cy="281.7" r="1.65"/><circle cx="125.7" cy="284.5" r="1.65"/><circle cx="126.2" cy="282.7" r="1.65"/><circle cx="126.6" cy="283.3" r="1.65"/><circle cx="127.1" cy="283.3" r="1.65"/><circle cx="127.5" cy="280.1" r="1.65"/><circle cx="128" cy="280.5" r="1.65"/><circle cx="128.4" cy="283.9" r="1.65"/><circle cx="128.9" cy="284.9" r="1.65"/><circle cx="129.3" cy="281.8" r="1.65"/><circle cx="129.8" cy="282.9" r="1.65"/><circle cx="130.2" cy="280" r="1.65"/><circle cx="130.6" cy="275.7" r="1.65"/><circle cx="131.1" cy="280.7" r="1.65"/><circle cx="131.5" cy="283.2" r="1.65"/><circle cx="132" cy="283.7" r="1.65"/><circle cx="132.4" cy="285.6" r="1.65"/><circle cx="132.9" cy="285.9" r="1.65"/><circle cx="133.3" cy="286.2" r="1.65"/><circle cx="133.8" cy="284.7" r="1.65"/><circle cx="134.2" cy="284.9" r="1.65"/><circle cx="134.7" cy="281.8" r="1.65"/><circle cx="135.1" cy="285" r="1.65"/><circle cx="135.6" cy="284.6" r="1.65"/><circle cx="136" cy="287.4" r="1.65"/><circle cx="136.4" cy="279.8" r="1.65"/><circle cx="136.9" cy="283" r="1.65"/><circle cx="137.3" cy="279.6" r="1.65"/><circle cx="137.8" cy="282.4" r="1.65"/><circle cx="138.2" cy="280.6" r="1.65"/><circle cx="138.7" cy="285.4" r="1.65"/><circle cx="139.1" cy="282.9" r="1.65"/><circle cx="139.6" cy="277.6" r="1.65"/><circle cx="140" cy="288.3" r="1.65"/><circle cx="140.5" cy="281.9" r="1.65"/><circle cx="140.9" cy="280.6" r="1.65"/><circle cx="141.4" cy="284.1" r="1.65"/><circle cx="141.8" cy="283.3" r="1.65"/><circle cx="142.2" cy="282" r="1.65"/><circle cx="142.7" cy="287.3" r="1.65"/><circle cx="143.1" cy="284.5" r="1.65"/><circle cx="143.6" cy="288.1" r="1.65"/><circle cx="144" cy="287.6" r="1.65"/><circle cx="144.5" cy="287.6" r="1.65"/><circle cx="144.9" cy="286.3" r="1.65"/><circle cx="145.4" cy="285.6" r="1.65"/><circle cx="145.8" cy="284.9" r="1.65"/><circle cx="146.3" cy="290.1" r="1.65"/><circle cx="146.7" cy="280.8" r="1.65"/><circle cx="147.1" cy="283.2" r="1.65"/><circle cx="147.6" cy="284.4" r="1.65"/><circle cx="148" cy="287.5" r="1.65"/><circle cx="148.5" cy="286.8" r="1.65"/><circle cx="148.9" cy="285.1" r="1.65"/><circle cx="149.4" cy="285.6" r="1.65"/><circle cx="149.8" cy="291.5" r="1.65"/><circle cx="150.3" cy="284.8" r="1.65"/><circle cx="150.7" cy="278.9" r="1.65"/><circle cx="151.2" cy="292.2" r="1.65"/><circle cx="151.6" cy="284.4" r="1.65"/><circle cx="152.1" cy="286.2" r="1.65"/><circle cx="152.5" cy="287.6" r="1.65"/><circle cx="152.9" cy="283.6" r="1.65"/><circle cx="153.4" cy="290.7" r="1.65"/><circle cx="153.8" cy="287.1" r="1.65"/><circle cx="154.3" cy="283.5" r="1.65"/><circle cx="154.7" cy="288.2" r="1.65"/><circle cx="155.2" cy="288.9" r="1.65"/><circle cx="155.6" cy="287.5" r="1.65"/><circle cx="156.1" cy="289.1" r="1.65"/><circle cx="156.5" cy="283.7" r="1.65"/><circle cx="157" cy="290.6" r="1.65"/><circle cx="157.4" cy="285.7" r="1.65"/><circle cx="157.8" cy="291.7" r="1.65"/><circle cx="158.3" cy="286.4" r="1.65"/><circle cx="158.7" cy="288.7" r="1.65"/><circle cx="159.2" cy="295.6" r="1.65"/><circle cx="159.6" cy="288.5" r="1.65"/><circle cx="160.1" cy="291.6" r="1.65"/><circle cx="160.5" cy="289.9" r="1.65"/><circle cx="161" cy="284.5" r="1.65"/><circle cx="161.4" cy="291.9" r="1.65"/><circle cx="161.9" cy="291.9" r="1.65"/><circle cx="162.3" cy="285" r="1.65"/><circle cx="162.8" cy="288.8" r="1.65"/><circle cx="163.2" cy="284.9" r="1.65"/><circle cx="163.6" cy="288.3" r="1.65"/><circle cx="164.1" cy="291.8" r="1.65"/><circle cx="164.5" cy="289.6" r="1.65"/><circle cx="165" cy="286" r="1.65"/><circle cx="165.4" cy="286.9" r="1.65"/><circle cx="165.9" cy="289.6" r="1.65"/><circle cx="166.3" cy="289.5" r="1.65"/><circle cx="166.8" cy="290.1" r="1.65"/><circle cx="167.2" cy="291.4" r="1.65"/><circle cx="167.7" cy="284.5" r="1.65"/><circle cx="168.1" cy="290" r="1.65"/><circle cx="168.6" cy="293.2" r="1.65"/><circle cx="169" cy="291.5" r="1.65"/><circle cx="169.4" cy="288.2" r="1.65"/><circle cx="169.9" cy="288.5" r="1.65"/><circle cx="170.3" cy="290.8" r="1.65"/><circle cx="170.8" cy="292.3" r="1.65"/><circle cx="171.2" cy="290.5" r="1.65"/><circle cx="171.7" cy="295.3" r="1.65"/><circle cx="172.1" cy="294.3" r="1.65"/><circle cx="172.6" cy="288.6" r="1.65"/><circle cx="173" cy="292.2" r="1.65"/><circle cx="173.5" cy="289.9" r="1.65"/><circle cx="173.9" cy="287.6" r="1.65"/><circle cx="174.3" cy="289.3" r="1.65"/><circle cx="174.8" cy="291.1" r="1.65"/><circle cx="175.2" cy="285.4" r="1.65"/><circle cx="175.7" cy="289.5" r="1.65"/><circle cx="176.1" cy="292.4" r="1.65"/><circle cx="176.6" cy="289.5" r="1.65"/><circle cx="177" cy="290.5" r="1.65"/><circle cx="177.5" cy="294.1" r="1.65"/><circle cx="177.9" cy="291.6" r="1.65"/><circle cx="178.4" cy="292.4" r="1.65"/><circle cx="178.8" cy="297.5" r="1.65"/><circle cx="179.3" cy="292.6" r="1.65"/><circle cx="179.7" cy="293" r="1.65"/><circle cx="180.1" cy="293.5" r="1.65"/><circle cx="180.6" cy="296.9" r="1.65"/><circle cx="181" cy="293.5" r="1.65"/><circle cx="181.5" cy="292.7" r="1.65"/><circle cx="181.9" cy="292.4" r="1.65"/><circle cx="182.4" cy="295.9" r="1.65"/><circle cx="182.8" cy="291.1" r="1.65"/><circle cx="183.3" cy="296.3" r="1.65"/><circle cx="183.7" cy="293.7" r="1.65"/><circle cx="184.2" cy="289.5" r="1.65"/><circle cx="184.6" cy="295.2" r="1.65"/><circle cx="185" cy="294.8" r="1.65"/><circle cx="185.5" cy="290.5" r="1.65"/><circle cx="185.9" cy="294.6" r="1.65"/><circle cx="186.4" cy="294.5" r="1.65"/><circle cx="186.8" cy="293.1" r="1.65"/><circle cx="187.3" cy="290.9" r="1.65"/><circle cx="187.7" cy="300.1" r="1.65"/><circle cx="188.2" cy="296.4" r="1.65"/><circle cx="188.6" cy="297" r="1.65"/><circle cx="189.1" cy="297.3" r="1.65"/><circle cx="189.5" cy="296.7" r="1.65"/><circle cx="190" cy="296.8" r="1.65"/><circle cx="190.4" cy="293.7" r="1.65"/><circle cx="190.8" cy="297.1" r="1.65"/><circle cx="191.3" cy="294.4" r="1.65"/><circle cx="191.7" cy="293.7" r="1.65"/><circle cx="192.2" cy="297" r="1.65"/><circle cx="192.6" cy="294.7" r="1.65"/><circle cx="193.1" cy="290.6" r="1.65"/><circle cx="193.5" cy="294.3" r="1.65"/><circle cx="194" cy="297.1" r="1.65"/><circle cx="194.4" cy="295.6" r="1.65"/><circle cx="194.9" cy="298" r="1.65"/><circle cx="195.3" cy="294.8" r="1.65"/><circle cx="195.8" cy="293.3" r="1.65"/><circle cx="196.2" cy="298" r="1.65"/><circle cx="196.6" cy="296.4" r="1.65"/><circle cx="197.1" cy="292.9" r="1.65"/><circle cx="197.5" cy="297.4" r="1.65"/><circle cx="198" cy="295.6" r="1.65"/><circle cx="198.4" cy="299" r="1.65"/><circle cx="198.9" cy="298.5" r="1.65"/><circle cx="199.3" cy="297.8" r="1.65"/><circle cx="199.8" cy="290.6" r="1.65"/><circle cx="200.2" cy="297.6" r="1.65"/><circle cx="200.7" cy="298" r="1.65"/><circle cx="201.1" cy="298.2" r="1.65"/><circle cx="201.5" cy="297.2" r="1.65"/><circle cx="202" cy="295.1" r="1.65"/><circle cx="202.4" cy="296.4" r="1.65"/><circle cx="202.9" cy="291.5" r="1.65"/><circle cx="203.3" cy="296.5" r="1.65"/><circle cx="203.8" cy="293.3" r="1.65"/><circle cx="204.2" cy="296.5" r="1.65"/><circle cx="204.7" cy="295.7" r="1.65"/><circle cx="205.1" cy="301.3" r="1.65"/><circle cx="205.6" cy="297.8" r="1.65"/><circle cx="206" cy="297.8" r="1.65"/><circle cx="206.5" cy="298.3" r="1.65"/><circle cx="206.9" cy="303.5" r="1.65"/><circle cx="207.3" cy="295.4" r="1.65"/><circle cx="207.8" cy="298.9" r="1.65"/><circle cx="208.2" cy="299.1" r="1.65"/><circle cx="208.7" cy="298.7" r="1.65"/><circle cx="209.1" cy="298.7" r="1.65"/><circle cx="209.6" cy="297.1" r="1.65"/><circle cx="210" cy="301.7" r="1.65"/><circle cx="210.5" cy="300.9" r="1.65"/><circle cx="210.9" cy="297.6" r="1.65"/><circle cx="211.4" cy="298.1" r="1.65"/><circle cx="211.8" cy="299.6" r="1.65"/><circle cx="212.3" cy="300.2" r="1.65"/><circle cx="212.7" cy="301" r="1.65"/><circle cx="213.1" cy="299" r="1.65"/><circle cx="213.6" cy="295.7" r="1.65"/><circle cx="214" cy="301.8" r="1.65"/><circle cx="214.5" cy="294.9" r="1.65"/><circle cx="214.9" cy="296.8" r="1.65"/><circle cx="215.4" cy="300.4" r="1.65"/><circle cx="215.8" cy="297.1" r="1.65"/><circle cx="216.3" cy="303.3" r="1.65"/><circle cx="216.7" cy="304.1" r="1.65"/><circle cx="217.2" cy="302.9" r="1.65"/><circle cx="217.6" cy="300.6" r="1.65"/><circle cx="218" cy="300.5" r="1.65"/><circle cx="218.5" cy="301" r="1.65"/><circle cx="218.9" cy="299.5" r="1.65"/><circle cx="219.4" cy="305.6" r="1.65"/><circle cx="219.8" cy="298.5" r="1.65"/><circle cx="220.3" cy="303.8" r="1.65"/><circle cx="220.7" cy="301.8" r="1.65"/><circle cx="221.2" cy="301.2" r="1.65"/><circle cx="221.6" cy="303.3" r="1.65"/><circle cx="222.1" cy="303.9" r="1.65"/><circle cx="222.5" cy="303" r="1.65"/><circle cx="223" cy="300.4" r="1.65"/><circle cx="223.4" cy="298.8" r="1.65"/><circle cx="223.8" cy="298.9" r="1.65"/><circle cx="224.3" cy="303.2" r="1.65"/><circle cx="224.7" cy="302.7" r="1.65"/><circle cx="225.2" cy="303.1" r="1.65"/><circle cx="225.6" cy="299.5" r="1.65"/><circle cx="226.1" cy="306.3" r="1.65"/><circle cx="226.5" cy="297.5" r="1.65"/></g><g fill="#9fd09f"><circle cx="36.6" cy="197.4" r="0.5"/><circle cx="37.1" cy="206.6" r="0.5"/><circle cx="37.6" cy="214.1" r="0.5"/><circle cx="38" cy="217.8" r="0.5"/><circle cx="38.5" cy="220" r="0.5"/><circle cx="38.9" cy="221.8" r="0.5"/><circle cx="39.4" cy="223.3" r="0.5"/><circle cx="39.8" cy="225" r="0.5"/><circle cx="40.3" cy="226.2" r="0.5"/><circle cx="40.7" cy="227.3" r="0.5"/><circle cx="41.2" cy="228.8" r="0.5"/><circle cx="41.6" cy="230.4" r="0.5"/><circle cx="42.1" cy="231.3" r="0.5"/><circle cx="42.5" cy="232.3" r="0.5"/><circle cx="42.9" cy="231.7" r="0.5"/><circle cx="43.4" cy="233.7" r="0.5"/><circle cx="43.8" cy="233.2" r="0.5"/><circle cx="44.3" cy="234.3" r="0.5"/><circle cx="44.7" cy="234.2" r="0.5"/><circle cx="45.2" cy="235.3" r="0.5"/><circle cx="45.6" cy="236.6" r="0.5"/><circle cx="46.1" cy="237.3" r="0.5"/><circle cx="46.5" cy="237.6" r="0.5"/><circle cx="47" cy="238.1" r="0.5"/><circle cx="47.4" cy="239.2" r="0.5"/><circle cx="47.9" cy="239.3" r="0.5"/><circle cx="48.3" cy="238.1" r="0.5"/><circle cx="48.7" cy="241.9" r="0.5"/><circle cx="49.2" cy="240.3" r="0.5"/><circle cx="49.6" cy="242" r="0.5"/><circle cx="50.1" cy="241.1" r="0.5"/><circle cx="50.5" cy="240.7" r="0.5"/><circle cx="51" cy="242.1" r="0.5"/><circle cx="51.4" cy="241.4" r="0.5"/><circle cx="51.9" cy="244.8" r="0.5"/><circle cx="52.3" cy="241.5" r="0.5"/><circle cx="52.8" cy="244.2" r="0.5"/><circle cx="53.2" cy="242.7" r="0.5"/><circle cx="53.7" cy="243.7" r="0.5"/><circle cx="54.1" cy="248.2" r="0.5"/><circle cx="54.5" cy="245.8" r="0.5"/><circle cx="55" cy="244.6" r="0.5"/><circle cx="55.4" cy="242.7" r="0.5"/><circle cx="55.9" cy="245.2" r="0.5"/><circle cx="56.3" cy="245.6" r="0.5"/><circle cx="56.8" cy="248.9" r="0.5"/><circle cx="57.2" cy="244.2" r="0.5"/><circle cx="57.7" cy="243.8" r="0.5"/><circle cx="58.1" cy="247.5" r="0.5"/><circle cx="58.6" cy="248.3" r="0.5"/><circle cx="59" cy="251.5" r="0.5"/><circle cx="59.4" cy="246.8" r="0.5"/><circle cx="59.9" cy="243.4" r="0.5"/><circle cx="60.3" cy="247.8" r="0.5"/><circle cx="60.8" cy="247" r="0.5"/><circle cx="61.2" cy="248.8" r="0.5"/><circle cx="61.7" cy="252.6" r="0.5"/><circle cx="62.1" cy="247.6" r="0.5"/><circle cx="62.6" cy="253.9" r="0.5"/><circle cx="63" cy="251.8" r="0.5"/><circle cx="63.5" cy="250.9" r="0.5"/><circle cx="63.9" cy="249.8" r="0.5"/><circle cx="64.4" cy="251.2" r="0.5"/><circle cx="64.8" cy="251.5" r="0.5"/><circle cx="65.2" cy="254.8" r="0.5"/><circle cx="65.7" cy="256.5" r="0.5"/><circle cx="66.1" cy="253.2" r="0.5"/><circle cx="66.6" cy="255.6" r="0.5"/><circle cx="67" cy="257.5" r="0.5"/><circle cx="67.5" cy="257.7" r="0.5"/><circle cx="67.9" cy="255.9" r="0.5"/><circle cx="68.4" cy="259.9" r="0.5"/><circle cx="68.8" cy="258.8" r="0.5"/><circle cx="69.3" cy="259.9" r="0.5"/><circle cx="69.7" cy="255.3" r="0.5"/><circle cx="70.2" cy="255" r="0.5"/><circle cx="70.6" cy="251" r="0.5"/><circle cx="71" cy="260.7" r="0.5"/><circle cx="71.5" cy="258.8" r="0.5"/><circle cx="71.9" cy="254.8" r="0.5"/><circle cx="72.4" cy="258.2" r="0.5"/><circle cx="72.8" cy="258.8" r="0.5"/><circle cx="73.3" cy="253.6" r="0.5"/><circle cx="73.7" cy="259.4" r="0.5"/><circle cx="74.2" cy="261.9" r="0.5"/><circle cx="74.6" cy="262.6" r="0.5"/><circle cx="75.1" cy="258.5" r="0.5"/><circle cx="75.5" cy="258.9" r="0.5"/><circle cx="75.9" cy="263.7" r="0.5"/><circle cx="76.4" cy="263" r="0.5"/><circle cx="76.8" cy="259.2" r="0.5"/><circle cx="77.3" cy="259.4" r="0.5"/><circle cx="77.7" cy="263" r="0.5"/><circle cx="78.2" cy="259.9" r="0.5"/><circle cx="78.6" cy="260.4" r="0.5"/><circle cx="79.1" cy="267.1" r="0.5"/><circle cx="79.5" cy="263.4" r="0.5"/><circle cx="80" cy="261.8" r="0.5"/><circle cx="80.4" cy="264.8" r="0.5"/><circle cx="80.9" cy="269.3" r="0.5"/><circle cx="81.3" cy="264.6" r="0.5"/><circle cx="81.7" cy="262.1" r="0.5"/><circle cx="82.2" cy="260.2" r="0.5"/><circle cx="82.6" cy="270.7" r="0.5"/><circle cx="83.1" cy="258" r="0.5"/><circle cx="83.5" cy="268.4" r="0.5"/><circle cx="84" cy="263.1" r="0.5"/><circle cx="84.4" cy="262.6" r="0.5"/><circle cx="84.9" cy="263.6" r="0.5"/><circle cx="85.3" cy="266.1" r="0.5"/><circle cx="85.8" cy="269.9" r="0.5"/><circle cx="86.2" cy="265.4" r="0.5"/><circle cx="86.6" cy="269.3" r="0.5"/><circle cx="87.1" cy="274.4" r="0.5"/><circle cx="87.5" cy="260.2" r="0.5"/><circle cx="88" cy="266.1" r="0.5"/><circle cx="88.4" cy="263.4" r="0.5"/><circle cx="88.9" cy="271" r="0.5"/><circle cx="89.3" cy="264.8" r="0.5"/><circle cx="89.8" cy="264.7" r="0.5"/><circle cx="90.2" cy="265" r="0.5"/><circle cx="90.7" cy="269.5" r="0.5"/><circle cx="91.1" cy="273" r="0.5"/><circle cx="91.6" cy="270.4" r="0.5"/><circle cx="92" cy="276.1" r="0.5"/><circle cx="92.4" cy="275" r="0.5"/><circle cx="92.9" cy="270.4" r="0.5"/><circle cx="93.3" cy="273.5" r="0.5"/><circle cx="93.8" cy="271.5" r="0.5"/><circle cx="94.2" cy="271.5" r="0.5"/><circle cx="94.7" cy="266.2" r="0.5"/><circle cx="95.1" cy="268.2" r="0.5"/><circle cx="95.6" cy="272" r="0.5"/><circle cx="96" cy="268.8" r="0.5"/><circle cx="96.5" cy="274.4" r="0.5"/><circle cx="96.9" cy="273.4" r="0.5"/><circle cx="97.4" cy="270.2" r="0.5"/><circle cx="97.8" cy="276.2" r="0.5"/><circle cx="98.2" cy="273.8" r="0.5"/><circle cx="98.7" cy="276.8" r="0.5"/><circle cx="99.1" cy="273.1" r="0.5"/><circle cx="99.6" cy="269.2" r="0.5"/><circle cx="100" cy="275.9" r="0.5"/><circle cx="100.5" cy="273.4" r="0.5"/><circle cx="100.9" cy="276.6" r="0.5"/><circle cx="101.4" cy="277.5" r="0.5"/><circle cx="101.8" cy="277.9" r="0.5"/><circle cx="102.3" cy="270.8" r="0.5"/><circle cx="102.7" cy="268.5" r="0.5"/><circle cx="103.1" cy="273.7" r="0.5"/><circle cx="103.6" cy="277.1" r="0.5"/><circle cx="104" cy="273.5" r="0.5"/><circle cx="104.5" cy="276.4" r="0.5"/><circle cx="104.9" cy="273.5" r="0.5"/><circle cx="105.4" cy="275.1" r="0.5"/><circle cx="105.8" cy="275.2" r="0.5"/><circle cx="106.3" cy="274.5" r="0.5"/><circle cx="106.7" cy="277.8" r="0.5"/><circle cx="107.2" cy="277.5" r="0.5"/><circle cx="107.6" cy="281.2" r="0.5"/><circle cx="108.1" cy="277.9" r="0.5"/><circle cx="108.5" cy="280.7" r="0.5"/><circle cx="108.9" cy="277.4" r="0.5"/><circle cx="109.4" cy="279.7" r="0.5"/><circle cx="109.8" cy="277" r="0.5"/><circle cx="110.3" cy="276.2" r="0.5"/><circle cx="110.7" cy="281.3" r="0.5"/><circle cx="111.2" cy="279.8" r="0.5"/><circle cx="111.6" cy="280.3" r="0.5"/><circle cx="112.1" cy="275.9" r="0.5"/><circle cx="112.5" cy="273.4" r="0.5"/><circle cx="113" cy="275.8" r="0.5"/><circle cx="113.4" cy="279.2" r="0.5"/><circle cx="113.8" cy="274.4" r="0.5"/><circle cx="114.3" cy="282.6" r="0.5"/><circle cx="114.7" cy="274.6" r="0.5"/><circle cx="115.2" cy="280.5" r="0.5"/><circle cx="115.6" cy="286.4" r="0.5"/><circle cx="116.1" cy="271.8" r="0.5"/><circle cx="116.5" cy="274.8" r="0.5"/><circle cx="117" cy="282" r="0.5"/><circle cx="117.4" cy="278.9" r="0.5"/><circle cx="117.9" cy="280" r="0.5"/><circle cx="118.3" cy="279.3" r="0.5"/><circle cx="118.8" cy="283.7" r="0.5"/><circle cx="119.2" cy="281.6" r="0.5"/><circle cx="119.6" cy="278.6" r="0.5"/><circle cx="120.1" cy="279.4" r="0.5"/><circle cx="120.5" cy="276.9" r="0.5"/><circle cx="121" cy="280" r="0.5"/><circle cx="121.4" cy="274" r="0.5"/><circle cx="121.9" cy="282.4" r="0.5"/><circle cx="122.3" cy="279.9" r="0.5"/><circle cx="122.8" cy="285.9" r="0.5"/><circle cx="123.2" cy="284.2" r="0.5"/><circle cx="123.7" cy="277.3" r="0.5"/><circle cx="124.1" cy="283.6" r="0.5"/><circle cx="124.6" cy="279.7" r="0.5"/><circle cx="125" cy="281.4" r="0.5"/><circle cx="125.4" cy="284.2" r="0.5"/><circle cx="125.9" cy="282.4" r="0.5"/><circle cx="126.3" cy="283" r="0.5"/><circle cx="126.8" cy="283" r="0.5"/><circle cx="127.2" cy="279.8" r="0.5"/><circle cx="127.7" cy="280.2" r="0.5"/><circle cx="128.1" cy="283.6" r="0.5"/><circle cx="128.6" cy="284.6" r="0.5"/><circle cx="129" cy="281.5" r="0.5"/><circle cx="129.5" cy="282.6" r="0.5"/><circle cx="129.9" cy="279.7" r="0.5"/><circle cx="130.3" cy="275.4" r="0.5"/><circle cx="130.8" cy="280.4" r="0.5"/><circle cx="131.2" cy="282.9" r="0.5"/><circle cx="131.7" cy="283.4" r="0.5"/><circle cx="132.1" cy="285.3" r="0.5"/><circle cx="132.6" cy="285.6" r="0.5"/><circle cx="133" cy="285.9" r="0.5"/><circle cx="133.5" cy="284.4" r="0.5"/><circle cx="133.9" cy="284.6" r="0.5"/><circle cx="134.4" cy="281.5" r="0.5"/><circle cx="134.8" cy="284.7" r="0.5"/><circle cx="135.3" cy="284.3" r="0.5"/><circle cx="135.7" cy="287.1" r="0.5"/><circle cx="136.1" cy="279.5" r="0.5"/><circle cx="136.6" cy="282.7" r="0.5"/><circle cx="137" cy="279.3" r="0.5"/><circle cx="137.5" cy="282.1" r="0.5"/><circle cx="137.9" cy="280.3" r="0.5"/><circle cx="138.4" cy="285.1" r="0.5"/><circle cx="138.8" cy="282.6" r="0.5"/><circle cx="139.3" cy="277.3" r="0.5"/><circle cx="139.7" cy="288" r="0.5"/><circle cx="140.2" cy="281.6" r="0.5"/><circle cx="140.6" cy="280.3" r="0.5"/><circle cx="141.1" cy="283.8" r="0.5"/><circle cx="141.5" cy="283" r="0.5"/><circle cx="141.9" cy="281.7" r="0.5"/><circle cx="142.4" cy="287" r="0.5"/><circle cx="142.8" cy="284.2" r="0.5"/><circle cx="143.3" cy="287.8" r="0.5"/><circle cx="143.7" cy="287.3" r="0.5"/><circle cx="144.2" cy="287.3" r="0.5"/><circle cx="144.6" cy="286" r="0.5"/><circle cx="145.1" cy="285.3" r="0.5"/><circle cx="145.5" cy="284.6" r="0.5"/><circle cx="146" cy="289.8" r="0.5"/><circle cx="146.4" cy="280.5" r="0.5"/><circle cx="146.8" cy="282.9" r="0.5"/><circle cx="147.3" cy="284.1" r="0.5"/><circle cx="147.7" cy="287.2" r="0.5"/><circle cx="148.2" cy="286.5" r="0.5"/><circle cx="148.6" cy="284.8" r="0.5"/><circle cx="149.1" cy="285.3" r="0.5"/><circle cx="149.5" cy="291.2" r="0.5"/><circle cx="150" cy="284.5" r="0.5"/><circle cx="150.4" cy="278.6" r="0.5"/><circle cx="150.9" cy="291.9" r="0.5"/><circle cx="151.3" cy="284.1" r="0.5"/><circle cx="151.8" cy="285.9" r="0.5"/><circle cx="152.2" cy="287.3" r="0.5"/><circle cx="152.6" cy="283.3" r="0.5"/><circle cx="153.1" cy="290.4" r="0.5"/><circle cx="153.5" cy="286.8" r="0.5"/><circle cx="154" cy="283.2" r="0.5"/><circle cx="154.4" cy="287.9" r="0.5"/><circle cx="154.9" cy="288.6" r="0.5"/><circle cx="155.3" cy="287.2" r="0.5"/><circle cx="155.8" cy="288.8" r="0.5"/><circle cx="156.2" cy="283.4" r="0.5"/><circle cx="156.7" cy="290.3" r="0.5"/><circle cx="157.1" cy="285.4" r="0.5"/><circle cx="157.5" cy="291.4" r="0.5"/><circle cx="158" cy="286.1" r="0.5"/><circle cx="158.4" cy="288.4" r="0.5"/><circle cx="158.9" cy="295.3" r="0.5"/><circle cx="159.3" cy="288.2" r="0.5"/><circle cx="159.8" cy="291.3" r="0.5"/><circle cx="160.2" cy="289.6" r="0.5"/><circle cx="160.7" cy="284.2" r="0.5"/><circle cx="161.1" cy="291.6" r="0.5"/><circle cx="161.6" cy="291.6" r="0.5"/><circle cx="162" cy="284.7" r="0.5"/><circle cx="162.5" cy="288.5" r="0.5"/><circle cx="162.9" cy="284.6" r="0.5"/><circle cx="163.3" cy="288" r="0.5"/><circle cx="163.8" cy="291.5" r="0.5"/><circle cx="164.2" cy="289.3" r="0.5"/><circle cx="164.7" cy="285.7" r="0.5"/><circle cx="165.1" cy="286.6" r="0.5"/><circle cx="165.6" cy="289.3" r="0.5"/><circle cx="166" cy="289.2" r="0.5"/><circle cx="166.5" cy="289.8" r="0.5"/><circle cx="166.9" cy="291.1" r="0.5"/><circle cx="167.4" cy="284.2" r="0.5"/><circle cx="167.8" cy="289.7" r="0.5"/><circle cx="168.3" cy="292.9" r="0.5"/><circle cx="168.7" cy="291.2" r="0.5"/><circle cx="169.1" cy="287.9" r="0.5"/><circle cx="169.6" cy="288.2" r="0.5"/><circle cx="170" cy="290.5" r="0.5"/><circle cx="170.5" cy="292" r="0.5"/><circle cx="170.9" cy="290.2" r="0.5"/><circle cx="171.4" cy="295" r="0.5"/><circle cx="171.8" cy="294" r="0.5"/><circle cx="172.3" cy="288.3" r="0.5"/><circle cx="172.7" cy="291.9" r="0.5"/><circle cx="173.2" cy="289.6" r="0.5"/><circle cx="173.6" cy="287.3" r="0.5"/><circle cx="174" cy="289" r="0.5"/><circle cx="174.5" cy="290.8" r="0.5"/><circle cx="174.9" cy="285.1" r="0.5"/><circle cx="175.4" cy="289.2" r="0.5"/><circle cx="175.8" cy="292.1" r="0.5"/><circle cx="176.3" cy="289.2" r="0.5"/><circle cx="176.7" cy="290.2" r="0.5"/><circle cx="177.2" cy="293.8" r="0.5"/><circle cx="177.6" cy="291.3" r="0.5"/><circle cx="178.1" cy="292.1" r="0.5"/><circle cx="178.5" cy="297.2" r="0.5"/><circle cx="179" cy="292.3" r="0.5"/><circle cx="179.4" cy="292.7" r="0.5"/><circle cx="179.8" cy="293.2" r="0.5"/><circle cx="180.3" cy="296.6" r="0.5"/><circle cx="180.7" cy="293.2" r="0.5"/><circle cx="181.2" cy="292.4" r="0.5"/><circle cx="181.6" cy="292.1" r="0.5"/><circle cx="182.1" cy="295.6" r="0.5"/><circle cx="182.5" cy="290.8" r="0.5"/><circle cx="183" cy="296" r="0.5"/><circle cx="183.4" cy="293.4" r="0.5"/><circle cx="183.9" cy="289.2" r="0.5"/><circle cx="184.3" cy="294.9" r="0.5"/><circle cx="184.7" cy="294.5" r="0.5"/><circle cx="185.2" cy="290.2" r="0.5"/><circle cx="185.6" cy="294.3" r="0.5"/><circle cx="186.1" cy="294.2" r="0.5"/><circle cx="186.5" cy="292.8" r="0.5"/><circle cx="187" cy="290.6" r="0.5"/><circle cx="187.4" cy="299.8" r="0.5"/><circle cx="187.9" cy="296.1" r="0.5"/><circle cx="188.3" cy="296.7" r="0.5"/><circle cx="188.8" cy="297" r="0.5"/><circle cx="189.2" cy="296.4" r="0.5"/><circle cx="189.7" cy="296.5" r="0.5"/><circle cx="190.1" cy="293.4" r="0.5"/><circle cx="190.5" cy="296.8" r="0.5"/><circle cx="191" cy="294.1" r="0.5"/><circle cx="191.4" cy="293.4" r="0.5"/><circle cx="191.9" cy="296.7" r="0.5"/><circle cx="192.3" cy="294.4" r="0.5"/><circle cx="192.8" cy="290.3" r="0.5"/><circle cx="193.2" cy="294" r="0.5"/><circle cx="193.7" cy="296.8" r="0.5"/><circle cx="194.1" cy="295.3" r="0.5"/><circle cx="194.6" cy="297.7" r="0.5"/><circle cx="195" cy="294.5" r="0.5"/><circle cx="195.5" cy="293" r="0.5"/><circle cx="195.9" cy="297.7" r="0.5"/><circle cx="196.3" cy="296.1" r="0.5"/><circle cx="196.8" cy="292.6" r="0.5"/><circle cx="197.2" cy="297.1" r="0.5"/><circle cx="197.7" cy="295.3" r="0.5"/><circle cx="198.1" cy="298.7" r="0.5"/><circle cx="198.6" cy="298.2" r="0.5"/><circle cx="199" cy="297.5" r="0.5"/><circle cx="199.5" cy="290.3" r="0.5"/><circle cx="199.9" cy="297.3" r="0.5"/><circle cx="200.4" cy="297.7" r="0.5"/><circle cx="200.8" cy="297.9" r="0.5"/><circle cx="201.2" cy="296.9" r="0.5"/><circle cx="201.7" cy="294.8" r="0.5"/><circle cx="202.1" cy="296.1" r="0.5"/><circle cx="202.6" cy="291.2" r="0.5"/><circle cx="203" cy="296.2" r="0.5"/><circle cx="203.5" cy="293" r="0.5"/><circle cx="203.9" cy="296.2" r="0.5"/><circle cx="204.4" cy="295.4" r="0.5"/><circle cx="204.8" cy="301" r="0.5"/><circle cx="205.3" cy="297.5" r="0.5"/><circle cx="205.7" cy="297.5" r="0.5"/><circle cx="206.2" cy="298" r="0.5"/><circle cx="206.6" cy="303.2" r="0.5"/><circle cx="207" cy="295.1" r="0.5"/><circle cx="207.5" cy="298.6" r="0.5"/><circle cx="207.9" cy="298.8" r="0.5"/><circle cx="208.4" cy="298.4" r="0.5"/><circle cx="208.8" cy="298.4" r="0.5"/><circle cx="209.3" cy="296.8" r="0.5"/><circle cx="209.7" cy="301.4" r="0.5"/><circle cx="210.2" cy="300.6" r="0.5"/><circle cx="210.6" cy="297.3" r="0.5"/><circle cx="211.1" cy="297.8" r="0.5"/><circle cx="211.5" cy="299.3" r="0.5"/><circle cx="212" cy="299.9" r="0.5"/><circle cx="212.4" cy="300.7" r="0.5"/><circle cx="212.8" cy="298.7" r="0.5"/><circle cx="213.3" cy="295.4" r="0.5"/><circle cx="213.7" cy="301.5" r="0.5"/><circle cx="214.2" cy="294.6" r="0.5"/><circle cx="214.6" cy="296.5" r="0.5"/><circle cx="215.1" cy="300.1" r="0.5"/><circle cx="215.5" cy="296.8" r="0.5"/><circle cx="216" cy="303" r="0.5"/><circle cx="216.4" cy="303.8" r="0.5"/><circle cx="216.9" cy="302.6" r="0.5"/><circle cx="217.3" cy="300.3" r="0.5"/><circle cx="217.7" cy="300.2" r="0.5"/><circle cx="218.2" cy="300.7" r="0.5"/><circle cx="218.6" cy="299.2" r="0.5"/><circle cx="219.1" cy="305.3" r="0.5"/><circle cx="219.5" cy="298.2" r="0.5"/><circle cx="220" cy="303.5" r="0.5"/><circle cx="220.4" cy="301.5" r="0.5"/><circle cx="220.9" cy="300.9" r="0.5"/><circle cx="221.3" cy="303" r="0.5"/><circle cx="221.8" cy="303.6" r="0.5"/><circle cx="222.2" cy="302.7" r="0.5"/><circle cx="222.7" cy="300.1" r="0.5"/><circle cx="223.1" cy="298.5" r="0.5"/><circle cx="223.5" cy="298.6" r="0.5"/><circle cx="224" cy="302.9" r="0.5"/><circle cx="224.4" cy="302.4" r="0.5"/><circle cx="224.9" cy="302.8" r="0.5"/><circle cx="225.3" cy="299.2" r="0.5"/><circle cx="225.8" cy="306" r="0.5"/><circle cx="226.2" cy="297.2" r="0.5"/></g><rect x="36.8" y="196.9" width="189.7" height="153.5" fill="none" stroke="#1a1a1a" stroke-width="1.35"/><line x1="71.4" y1="350.4" x2="71.4" y2="353.4" stroke="#1a1a1a" stroke-width="1.0"/><line x1="110.2" y1="350.4" x2="110.2" y2="353.4" stroke="#1a1a1a" stroke-width="1.0"/><line x1="148.9" y1="350.4" x2="148.9" y2="353.4" stroke="#1a1a1a" stroke-width="1.0"/><line x1="187.7" y1="350.4" x2="187.7" y2="353.4" stroke="#1a1a1a" stroke-width="1.0"/><line x1="226.5" y1="350.4" x2="226.5" y2="353.4" stroke="#1a1a1a" stroke-width="1.0"/><line x1="52" y1="350.4" x2="52" y2="352.2" stroke="#1a1a1a" stroke-width="1.0"/><line x1="90.8" y1="350.4" x2="90.8" y2="352.2" stroke="#1a1a1a" stroke-width="1.0"/><line x1="129.6" y1="350.4" x2="129.6" y2="352.2" stroke="#1a1a1a" stroke-width="1.0"/><line x1="168.3" y1="350.4" x2="168.3" y2="352.2" stroke="#1a1a1a" stroke-width="1.0"/><line x1="207.1" y1="350.4" x2="207.1" y2="352.2" stroke="#1a1a1a" stroke-width="1.0"/><text x="71.4" y="363.5" font-size="10" text-anchor="middle" fill="#000">200</text><text x="110.2" y="363.5" font-size="10" text-anchor="middle" fill="#000">400</text><text x="148.9" y="363.5" font-size="10" text-anchor="middle" fill="#000">600</text><text x="187.7" y="363.5" font-size="10" text-anchor="middle" fill="#000">800</text><text x="226.5" y="363.5" font-size="10" text-anchor="middle" fill="#000">1000</text><line x1="33.8" y1="297.7" x2="36.8" y2="297.7" stroke="#1a1a1a" stroke-width="1.0"/><line x1="33.8" y1="197.7" x2="36.8" y2="197.7" stroke="#1a1a1a" stroke-width="1.0"/><line x1="35" y1="350" x2="36.8" y2="350" stroke="#1a1a1a" stroke-width="1.0"/><line x1="35" y1="337.5" x2="36.8" y2="337.5" stroke="#1a1a1a" stroke-width="1.0"/><line x1="35" y1="327.8" x2="36.8" y2="327.8" stroke="#1a1a1a" stroke-width="1.0"/><line x1="35" y1="319.9" x2="36.8" y2="319.9" stroke="#1a1a1a" stroke-width="1.0"/><line x1="35" y1="313.2" x2="36.8" y2="313.2" stroke="#1a1a1a" stroke-width="1.0"/><line x1="35" y1="307.4" x2="36.8" y2="307.4" stroke="#1a1a1a" stroke-width="1.0"/><line x1="35" y1="302.3" x2="36.8" y2="302.3" stroke="#1a1a1a" stroke-width="1.0"/><line x1="35" y1="267.6" x2="36.8" y2="267.6" stroke="#1a1a1a" stroke-width="1.0"/><line x1="35" y1="250" x2="36.8" y2="250" stroke="#1a1a1a" stroke-width="1.0"/><line x1="35" y1="237.5" x2="36.8" y2="237.5" stroke="#1a1a1a" stroke-width="1.0"/><line x1="35" y1="227.8" x2="36.8" y2="227.8" stroke="#1a1a1a" stroke-width="1.0"/><line x1="35" y1="219.9" x2="36.8" y2="219.9" stroke="#1a1a1a" stroke-width="1.0"/><line x1="35" y1="213.2" x2="36.8" y2="213.2" stroke="#1a1a1a" stroke-width="1.0"/><line x1="35" y1="207.4" x2="36.8" y2="207.4" stroke="#1a1a1a" stroke-width="1.0"/><line x1="35" y1="202.3" x2="36.8" y2="202.3" stroke="#1a1a1a" stroke-width="1.0"/><text x="31.4" y="301.3" font-size="10" text-anchor="end" fill="#000">0.1</text><text x="31.4" y="201.3" font-size="10" text-anchor="end" fill="#000">1</text><text x="141.9" y="373.3" font-size="11.6" text-anchor="middle" fill="#000">Time (ns)</text><text x="0" y="0" transform="translate(16,273.5) rotate(-90)" font-size="11.6" text-anchor="middle" fill="#000">Normalized PL</text><g fill="#000" stroke="#000" stroke-width="0.4"><circle cx="49.6" cy="299" r="1.6"/></g><g fill="#999"><circle cx="49.3" cy="298.7" r="0.5"/></g><text x="61" y="301.6" font-size="11.3" text-anchor="start" fill="#000">BT</text><g fill="#0000ff" stroke="#0000ff" stroke-width="0.4"><circle cx="49.6" cy="313.4" r="1.6"/></g><g fill="#9a9aff"><circle cx="49.3" cy="313.1" r="0.5"/></g><text x="61" y="316" font-size="11.3" text-anchor="start" fill="#000">MBT</text><g fill="#f04040" stroke="#f04040" stroke-width="0.4"><circle cx="49.6" cy="327.8" r="1.6"/></g><g fill="#ffb0b0"><circle cx="49.3" cy="327.5" r="0.5"/></g><text x="61" y="330.4" font-size="11.3" text-anchor="start" fill="#000">EBT</text><g fill="#2a8c2a" stroke="#2a8c2a" stroke-width="0.4"><circle cx="49.6" cy="342.2" r="1.6"/></g><g fill="#9fd09f"><circle cx="49.3" cy="341.9" r="0.5"/></g><text x="61" y="344.8" font-size="11.3" text-anchor="start" fill="#000">MEBT</text><text x="0.2" y="198.6" font-size="22.5" text-anchor="start" fill="#000">d</text><path d="M266.7,347.2 L272.1,347.2 L277.5,347.2 L282.9,347.2 L288.3,347.2 L293.6,347.2 L299,347.2 L304.4,347.2 L309.8,347.2 L315.2,347.2 L320.6,347.2 L326,347.2 L331.4,347.2 L336.8,347 L342.1,346.9 L347.5,346.6 L352.9,345.7 L358.3,344.2 L363.7,343.4 L369.1,341.2 L374.5,338.2 L379.9,334.5 L385.2,330.3 L390.6,325.5 L396,320.1 L401.4,314.3 L406.8,308 L412.2,302.6 L417.6,298 L423,293.2 L428.4,289.3 L433.7,286 L439.1,283 L444.5,280.5 L449.9,278.1 L455.3,276.3" fill="none" stroke="#111" stroke-width="1.0" stroke-linejoin="round"/><g fill="#111" stroke="#111" stroke-width="0.5"><circle cx="266.7" cy="347.2" r="1.6"/><circle cx="272.1" cy="347.2" r="1.6"/><circle cx="277.5" cy="347.2" r="1.6"/><circle cx="282.9" cy="347.2" r="1.6"/><circle cx="288.3" cy="347.2" r="1.6"/><circle cx="293.6" cy="347.2" r="1.6"/><circle cx="299" cy="347.2" r="1.6"/><circle cx="304.4" cy="347.2" r="1.6"/><circle cx="309.8" cy="347.2" r="1.6"/><circle cx="315.2" cy="347.2" r="1.6"/><circle cx="320.6" cy="347.2" r="1.6"/><circle cx="326" cy="347.2" r="1.6"/><circle cx="331.4" cy="347.2" r="1.6"/><circle cx="336.8" cy="347" r="1.6"/><circle cx="342.1" cy="346.9" r="1.6"/><circle cx="347.5" cy="346.6" r="1.6"/><circle cx="352.9" cy="345.7" r="1.6"/><circle cx="358.3" cy="344.2" r="1.6"/><circle cx="363.7" cy="343.4" r="1.6"/><circle cx="369.1" cy="341.2" r="1.6"/><circle cx="374.5" cy="338.2" r="1.6"/><circle cx="379.9" cy="334.5" r="1.6"/><circle cx="385.2" cy="330.3" r="1.6"/><circle cx="390.6" cy="325.5" r="1.6"/><circle cx="396" cy="320.1" r="1.6"/><circle cx="401.4" cy="314.3" r="1.6"/><circle cx="406.8" cy="308" r="1.6"/><circle cx="412.2" cy="302.6" r="1.6"/><circle cx="417.6" cy="298" r="1.6"/><circle cx="423" cy="293.2" r="1.6"/><circle cx="428.4" cy="289.3" r="1.6"/><circle cx="433.7" cy="286" r="1.6"/><circle cx="439.1" cy="283" r="1.6"/><circle cx="444.5" cy="280.5" r="1.6"/><circle cx="449.9" cy="278.1" r="1.6"/><circle cx="455.3" cy="276.3" r="1.6"/></g><g fill="#aaa"><circle cx="266.4" cy="346.9" r="0.6"/><circle cx="271.8" cy="346.9" r="0.6"/><circle cx="277.2" cy="346.9" r="0.6"/><circle cx="282.6" cy="346.9" r="0.6"/><circle cx="288" cy="346.9" r="0.6"/><circle cx="293.3" cy="346.9" r="0.6"/><circle cx="298.7" cy="346.9" r="0.6"/><circle cx="304.1" cy="346.9" r="0.6"/><circle cx="309.5" cy="346.9" r="0.6"/><circle cx="314.9" cy="346.9" r="0.6"/><circle cx="320.3" cy="346.9" r="0.6"/><circle cx="325.7" cy="346.9" r="0.6"/><circle cx="331.1" cy="346.9" r="0.6"/><circle cx="336.5" cy="346.7" r="0.6"/><circle cx="341.8" cy="346.6" r="0.6"/><circle cx="347.2" cy="346.3" r="0.6"/><circle cx="352.6" cy="345.4" r="0.6"/><circle cx="358" cy="343.9" r="0.6"/><circle cx="363.4" cy="343.1" r="0.6"/><circle cx="368.8" cy="340.9" r="0.6"/><circle cx="374.2" cy="337.9" r="0.6"/><circle cx="379.6" cy="334.2" r="0.6"/><circle cx="384.9" cy="330" r="0.6"/><circle cx="390.3" cy="325.2" r="0.6"/><circle cx="395.7" cy="319.8" r="0.6"/><circle cx="401.1" cy="314" r="0.6"/><circle cx="406.5" cy="307.7" r="0.6"/><circle cx="411.9" cy="302.3" r="0.6"/><circle cx="417.3" cy="297.7" r="0.6"/><circle cx="422.7" cy="292.9" r="0.6"/><circle cx="428.1" cy="289" r="0.6"/><circle cx="433.4" cy="285.7" r="0.6"/><circle cx="438.8" cy="282.7" r="0.6"/><circle cx="444.2" cy="280.2" r="0.6"/><circle cx="449.6" cy="277.8" r="0.6"/><circle cx="455" cy="276" r="0.6"/></g><path d="M266.7,347.2 L272.1,347.2 L277.5,347.2 L282.9,347 L288.3,346.9 L293.6,346.7 L299,346.6 L304.4,346.4 L309.8,346.3 L315.2,346 L320.6,345.7 L326,344.5 L331.4,343.6 L336.8,342.7 L342.1,341.2 L347.5,340 L352.9,337.9 L358.3,334.2 L363.7,329.7 L369.1,323.1 L374.5,314.6 L379.9,304.4 L385.2,292.9 L390.6,281.1 L396,267.6 L401.4,255.5 L406.8,244.7 L412.2,236.5 L417.6,229.9 L423,224.1 L428.4,220.5 L433.7,218.1 L439.1,216 L444.5,214.8 L449.9,213.9 L455.3,213.6" fill="none" stroke="#f03a3a" stroke-width="1.0" stroke-linejoin="round"/><g fill="#f03a3a" stroke="#f03a3a" stroke-width="0.5"><circle cx="266.7" cy="347.2" r="1.6"/><circle cx="272.1" cy="347.2" r="1.6"/><circle cx="277.5" cy="347.2" r="1.6"/><circle cx="282.9" cy="347" r="1.6"/><circle cx="288.3" cy="346.9" r="1.6"/><circle cx="293.6" cy="346.7" r="1.6"/><circle cx="299" cy="346.6" r="1.6"/><circle cx="304.4" cy="346.4" r="1.6"/><circle cx="309.8" cy="346.3" r="1.6"/><circle cx="315.2" cy="346" r="1.6"/><circle cx="320.6" cy="345.7" r="1.6"/><circle cx="326" cy="344.5" r="1.6"/><circle cx="331.4" cy="343.6" r="1.6"/><circle cx="336.8" cy="342.7" r="1.6"/><circle cx="342.1" cy="341.2" r="1.6"/><circle cx="347.5" cy="340" r="1.6"/><circle cx="352.9" cy="337.9" r="1.6"/><circle cx="358.3" cy="334.2" r="1.6"/><circle cx="363.7" cy="329.7" r="1.6"/><circle cx="369.1" cy="323.1" r="1.6"/><circle cx="374.5" cy="314.6" r="1.6"/><circle cx="379.9" cy="304.4" r="1.6"/><circle cx="385.2" cy="292.9" r="1.6"/><circle cx="390.6" cy="281.1" r="1.6"/><circle cx="396" cy="267.6" r="1.6"/><circle cx="401.4" cy="255.5" r="1.6"/><circle cx="406.8" cy="244.7" r="1.6"/><circle cx="412.2" cy="236.5" r="1.6"/><circle cx="417.6" cy="229.9" r="1.6"/><circle cx="423" cy="224.1" r="1.6"/><circle cx="428.4" cy="220.5" r="1.6"/><circle cx="433.7" cy="218.1" r="1.6"/><circle cx="439.1" cy="216" r="1.6"/><circle cx="444.5" cy="214.8" r="1.6"/><circle cx="449.9" cy="213.9" r="1.6"/><circle cx="455.3" cy="213.6" r="1.6"/></g><g fill="#ffb8b8"><circle cx="266.4" cy="346.9" r="0.6"/><circle cx="271.8" cy="346.9" r="0.6"/><circle cx="277.2" cy="346.9" r="0.6"/><circle cx="282.6" cy="346.7" r="0.6"/><circle cx="288" cy="346.6" r="0.6"/><circle cx="293.3" cy="346.4" r="0.6"/><circle cx="298.7" cy="346.3" r="0.6"/><circle cx="304.1" cy="346.1" r="0.6"/><circle cx="309.5" cy="346" r="0.6"/><circle cx="314.9" cy="345.7" r="0.6"/><circle cx="320.3" cy="345.4" r="0.6"/><circle cx="325.7" cy="344.2" r="0.6"/><circle cx="331.1" cy="343.3" r="0.6"/><circle cx="336.5" cy="342.4" r="0.6"/><circle cx="341.8" cy="340.9" r="0.6"/><circle cx="347.2" cy="339.7" r="0.6"/><circle cx="352.6" cy="337.6" r="0.6"/><circle cx="358" cy="333.9" r="0.6"/><circle cx="363.4" cy="329.4" r="0.6"/><circle cx="368.8" cy="322.8" r="0.6"/><circle cx="374.2" cy="314.3" r="0.6"/><circle cx="379.6" cy="304.1" r="0.6"/><circle cx="384.9" cy="292.6" r="0.6"/><circle cx="390.3" cy="280.8" r="0.6"/><circle cx="395.7" cy="267.3" r="0.6"/><circle cx="401.1" cy="255.2" r="0.6"/><circle cx="406.5" cy="244.4" r="0.6"/><circle cx="411.9" cy="236.2" r="0.6"/><circle cx="417.3" cy="229.6" r="0.6"/><circle cx="422.7" cy="223.8" r="0.6"/><circle cx="428.1" cy="220.2" r="0.6"/><circle cx="433.4" cy="217.8" r="0.6"/><circle cx="438.8" cy="215.7" r="0.6"/><circle cx="444.2" cy="214.5" r="0.6"/><circle cx="449.6" cy="213.6" r="0.6"/><circle cx="455" cy="213.3" r="0.6"/></g><path d="M266.7,346.6 L272.1,346.6 L277.5,346.6 L282.9,346.6 L288.3,346.6 L293.6,346.6 L299,346.6 L304.4,346.6 L309.8,346.4 L315.2,346.3 L320.6,346.3 L326,345.7 L331.4,344.8 L336.8,343.9 L342.1,342.7 L347.5,341.5 L352.9,339.4 L358.3,336.3 L363.7,332.4 L369.1,327.6 L374.5,320.4 L379.9,312.8 L385.2,304.7 L390.6,296.2 L396,288.1 L401.4,281.1 L406.8,275.1 L412.2,270.6 L417.6,267.6 L423,265.2 L428.4,264.3 L433.7,263.1 L439.1,262.5 L444.5,262.5 L449.9,262.5 L455.3,262.5" fill="none" stroke="#2a8c2a" stroke-width="1.0" stroke-linejoin="round"/><g fill="#2a8c2a" stroke="#2a8c2a" stroke-width="0.5"><circle cx="266.7" cy="346.6" r="1.6"/><circle cx="272.1" cy="346.6" r="1.6"/><circle cx="277.5" cy="346.6" r="1.6"/><circle cx="282.9" cy="346.6" r="1.6"/><circle cx="288.3" cy="346.6" r="1.6"/><circle cx="293.6" cy="346.6" r="1.6"/><circle cx="299" cy="346.6" r="1.6"/><circle cx="304.4" cy="346.6" r="1.6"/><circle cx="309.8" cy="346.4" r="1.6"/><circle cx="315.2" cy="346.3" r="1.6"/><circle cx="320.6" cy="346.3" r="1.6"/><circle cx="326" cy="345.7" r="1.6"/><circle cx="331.4" cy="344.8" r="1.6"/><circle cx="336.8" cy="343.9" r="1.6"/><circle cx="342.1" cy="342.7" r="1.6"/><circle cx="347.5" cy="341.5" r="1.6"/><circle cx="352.9" cy="339.4" r="1.6"/><circle cx="358.3" cy="336.3" r="1.6"/><circle cx="363.7" cy="332.4" r="1.6"/><circle cx="369.1" cy="327.6" r="1.6"/><circle cx="374.5" cy="320.4" r="1.6"/><circle cx="379.9" cy="312.8" r="1.6"/><circle cx="385.2" cy="304.7" r="1.6"/><circle cx="390.6" cy="296.2" r="1.6"/><circle cx="396" cy="288.1" r="1.6"/><circle cx="401.4" cy="281.1" r="1.6"/><circle cx="406.8" cy="275.1" r="1.6"/><circle cx="412.2" cy="270.6" r="1.6"/><circle cx="417.6" cy="267.6" r="1.6"/><circle cx="423" cy="265.2" r="1.6"/><circle cx="428.4" cy="264.3" r="1.6"/><circle cx="433.7" cy="263.1" r="1.6"/><circle cx="439.1" cy="262.5" r="1.6"/><circle cx="444.5" cy="262.5" r="1.6"/><circle cx="449.9" cy="262.5" r="1.6"/><circle cx="455.3" cy="262.5" r="1.6"/></g><g fill="#a8d8a8"><circle cx="266.4" cy="346.3" r="0.6"/><circle cx="271.8" cy="346.3" r="0.6"/><circle cx="277.2" cy="346.3" r="0.6"/><circle cx="282.6" cy="346.3" r="0.6"/><circle cx="288" cy="346.3" r="0.6"/><circle cx="293.3" cy="346.3" r="0.6"/><circle cx="298.7" cy="346.3" r="0.6"/><circle cx="304.1" cy="346.3" r="0.6"/><circle cx="309.5" cy="346.1" r="0.6"/><circle cx="314.9" cy="346" r="0.6"/><circle cx="320.3" cy="346" r="0.6"/><circle cx="325.7" cy="345.4" r="0.6"/><circle cx="331.1" cy="344.5" r="0.6"/><circle cx="336.5" cy="343.6" r="0.6"/><circle cx="341.8" cy="342.4" r="0.6"/><circle cx="347.2" cy="341.2" r="0.6"/><circle cx="352.6" cy="339.1" r="0.6"/><circle cx="358" cy="336" r="0.6"/><circle cx="363.4" cy="332.1" r="0.6"/><circle cx="368.8" cy="327.3" r="0.6"/><circle cx="374.2" cy="320.1" r="0.6"/><circle cx="379.6" cy="312.5" r="0.6"/><circle cx="384.9" cy="304.4" r="0.6"/><circle cx="390.3" cy="295.9" r="0.6"/><circle cx="395.7" cy="287.8" r="0.6"/><circle cx="401.1" cy="280.8" r="0.6"/><circle cx="406.5" cy="274.8" r="0.6"/><circle cx="411.9" cy="270.3" r="0.6"/><circle cx="417.3" cy="267.3" r="0.6"/><circle cx="422.7" cy="264.9" r="0.6"/><circle cx="428.1" cy="264" r="0.6"/><circle cx="433.4" cy="262.8" r="0.6"/><circle cx="438.8" cy="262.2" r="0.6"/><circle cx="444.2" cy="262.2" r="0.6"/><circle cx="449.6" cy="262.2" r="0.6"/><circle cx="455" cy="262.2" r="0.6"/></g><path d="M266.7,347.2 L272.1,347.2 L277.5,347.2 L282.9,347.2 L288.3,347 L293.6,346.9 L299,346.9 L304.4,346.7 L309.8,346.6 L315.2,346.3 L320.6,346 L326,345.1 L331.4,344.2 L336.8,343.4 L342.1,341.8 L347.5,340.9 L352.9,338.5 L358.3,334.8 L363.7,330 L369.1,323.7 L374.5,315.5 L379.9,305.9 L385.2,295 L390.6,284.5 L396,274.2 L401.4,264.9 L406.8,256.7 L412.2,250.1 L417.6,245.9 L423,242.8 L428.4,240.4 L433.7,238.6 L439.1,237.7 L444.5,236.8 L449.9,236.5 L455.3,236.5" fill="none" stroke="#1010ff" stroke-width="1.0" stroke-linejoin="round"/><g fill="#1010ff" stroke="#1010ff" stroke-width="0.5"><circle cx="266.7" cy="347.2" r="1.6"/><circle cx="272.1" cy="347.2" r="1.6"/><circle cx="277.5" cy="347.2" r="1.6"/><circle cx="282.9" cy="347.2" r="1.6"/><circle cx="288.3" cy="347" r="1.6"/><circle cx="293.6" cy="346.9" r="1.6"/><circle cx="299" cy="346.9" r="1.6"/><circle cx="304.4" cy="346.7" r="1.6"/><circle cx="309.8" cy="346.6" r="1.6"/><circle cx="315.2" cy="346.3" r="1.6"/><circle cx="320.6" cy="346" r="1.6"/><circle cx="326" cy="345.1" r="1.6"/><circle cx="331.4" cy="344.2" r="1.6"/><circle cx="336.8" cy="343.4" r="1.6"/><circle cx="342.1" cy="341.8" r="1.6"/><circle cx="347.5" cy="340.9" r="1.6"/><circle cx="352.9" cy="338.5" r="1.6"/><circle cx="358.3" cy="334.8" r="1.6"/><circle cx="363.7" cy="330" r="1.6"/><circle cx="369.1" cy="323.7" r="1.6"/><circle cx="374.5" cy="315.5" r="1.6"/><circle cx="379.9" cy="305.9" r="1.6"/><circle cx="385.2" cy="295" r="1.6"/><circle cx="390.6" cy="284.5" r="1.6"/><circle cx="396" cy="274.2" r="1.6"/><circle cx="401.4" cy="264.9" r="1.6"/><circle cx="406.8" cy="256.7" r="1.6"/><circle cx="412.2" cy="250.1" r="1.6"/><circle cx="417.6" cy="245.9" r="1.6"/><circle cx="423" cy="242.8" r="1.6"/><circle cx="428.4" cy="240.4" r="1.6"/><circle cx="433.7" cy="238.6" r="1.6"/><circle cx="439.1" cy="237.7" r="1.6"/><circle cx="444.5" cy="236.8" r="1.6"/><circle cx="449.9" cy="236.5" r="1.6"/><circle cx="455.3" cy="236.5" r="1.6"/></g><g fill="#a8a8ff"><circle cx="266.4" cy="346.9" r="0.6"/><circle cx="271.8" cy="346.9" r="0.6"/><circle cx="277.2" cy="346.9" r="0.6"/><circle cx="282.6" cy="346.9" r="0.6"/><circle cx="288" cy="346.7" r="0.6"/><circle cx="293.3" cy="346.6" r="0.6"/><circle cx="298.7" cy="346.6" r="0.6"/><circle cx="304.1" cy="346.4" r="0.6"/><circle cx="309.5" cy="346.3" r="0.6"/><circle cx="314.9" cy="346" r="0.6"/><circle cx="320.3" cy="345.7" r="0.6"/><circle cx="325.7" cy="344.8" r="0.6"/><circle cx="331.1" cy="343.9" r="0.6"/><circle cx="336.5" cy="343.1" r="0.6"/><circle cx="341.8" cy="341.5" r="0.6"/><circle cx="347.2" cy="340.6" r="0.6"/><circle cx="352.6" cy="338.2" r="0.6"/><circle cx="358" cy="334.5" r="0.6"/><circle cx="363.4" cy="329.7" r="0.6"/><circle cx="368.8" cy="323.4" r="0.6"/><circle cx="374.2" cy="315.2" r="0.6"/><circle cx="379.6" cy="305.6" r="0.6"/><circle cx="384.9" cy="294.7" r="0.6"/><circle cx="390.3" cy="284.2" r="0.6"/><circle cx="395.7" cy="273.9" r="0.6"/><circle cx="401.1" cy="264.6" r="0.6"/><circle cx="406.5" cy="256.4" r="0.6"/><circle cx="411.9" cy="249.8" r="0.6"/><circle cx="417.3" cy="245.6" r="0.6"/><circle cx="422.7" cy="242.5" r="0.6"/><circle cx="428.1" cy="240.1" r="0.6"/><circle cx="433.4" cy="238.3" r="0.6"/><circle cx="438.8" cy="237.4" r="0.6"/><circle cx="444.2" cy="236.5" r="0.6"/><circle cx="449.6" cy="236.2" r="0.6"/><circle cx="455" cy="236.2" r="0.6"/></g><rect x="267.5" y="196.4" width="187.4" height="151.3" fill="none" stroke="#1a1a1a" stroke-width="1.35"/><line x1="266.7" y1="347.7" x2="266.7" y2="349.9" stroke="#1a1a1a" stroke-width="1.0"/><line x1="320.6" y1="347.7" x2="320.6" y2="349.9" stroke="#1a1a1a" stroke-width="1.0"/><line x1="374.5" y1="347.7" x2="374.5" y2="349.9" stroke="#1a1a1a" stroke-width="1.0"/><line x1="428.4" y1="347.7" x2="428.4" y2="349.9" stroke="#1a1a1a" stroke-width="1.0"/><line x1="293.6" y1="347.7" x2="293.6" y2="349.9" stroke="#1a1a1a" stroke-width="1.0"/><line x1="347.5" y1="347.7" x2="347.5" y2="349.9" stroke="#1a1a1a" stroke-width="1.0"/><line x1="401.4" y1="347.7" x2="401.4" y2="349.9" stroke="#1a1a1a" stroke-width="1.0"/><line x1="455.3" y1="347.7" x2="455.3" y2="349.9" stroke="#1a1a1a" stroke-width="1.0"/><text x="266.7" y="361.2" font-size="10" text-anchor="middle" fill="#000">0.4</text><text x="320.6" y="361.2" font-size="10" text-anchor="middle" fill="#000">0.6</text><text x="374.5" y="361.2" font-size="10" text-anchor="middle" fill="#000">0.8</text><text x="428.4" y="361.2" font-size="10" text-anchor="middle" fill="#000">1.0</text><line x1="264.5" y1="347.2" x2="267.5" y2="347.2" stroke="#1a1a1a" stroke-width="1.0"/><line x1="264.5" y1="317" x2="267.5" y2="317" stroke="#1a1a1a" stroke-width="1.0"/><line x1="264.5" y1="286.9" x2="267.5" y2="286.9" stroke="#1a1a1a" stroke-width="1.0"/><line x1="264.5" y1="256.7" x2="267.5" y2="256.7" stroke="#1a1a1a" stroke-width="1.0"/><line x1="264.5" y1="226.6" x2="267.5" y2="226.6" stroke="#1a1a1a" stroke-width="1.0"/><line x1="264.5" y1="196.4" x2="267.5" y2="196.4" stroke="#1a1a1a" stroke-width="1.0"/><line x1="265.7" y1="332.1" x2="267.5" y2="332.1" stroke="#1a1a1a" stroke-width="1.0"/><line x1="265.7" y1="302" x2="267.5" y2="302" stroke="#1a1a1a" stroke-width="1.0"/><line x1="265.7" y1="271.8" x2="267.5" y2="271.8" stroke="#1a1a1a" stroke-width="1.0"/><line x1="265.7" y1="241.6" x2="267.5" y2="241.6" stroke="#1a1a1a" stroke-width="1.0"/><line x1="265.7" y1="211.5" x2="267.5" y2="211.5" stroke="#1a1a1a" stroke-width="1.0"/><text x="263.2" y="350.8" font-size="10" text-anchor="end" fill="#000">0</text><text x="263.2" y="320.6" font-size="10" text-anchor="end" fill="#000">1</text><text x="263.2" y="290.5" font-size="10" text-anchor="end" fill="#000">2</text><text x="263.2" y="260.3" font-size="10" text-anchor="end" fill="#000">3</text><text x="263.2" y="230.2" font-size="10" text-anchor="end" fill="#000">4</text><text x="263.2" y="200" font-size="10" text-anchor="end" fill="#000">5</text><text x="361" y="370" font-size="11.6" text-anchor="middle" fill="#000">Voltage&#160;&#160;(V)</text><text x="0" y="0" transform="translate(249.8,271) rotate(-90)" font-size="11.6" text-anchor="middle" fill="#000">EQE<tspan font-size="7.5" dy="2.5">EL</tspan><tspan dy="-2.5">(%)</tspan></text><line x1="294.9" y1="230.5" x2="313.2" y2="230.5" stroke="#111" stroke-width="1.0"/><g fill="#111" stroke="#111" stroke-width="0.5"><circle cx="304" cy="230.5" r="1.6"/></g><g fill="#aaa"><circle cx="303.7" cy="230.2" r="0.6"/></g><text x="315.2" y="233.5" font-size="11.3" text-anchor="start" fill="#000">BT</text><line x1="294.9" y1="244.6" x2="313.2" y2="244.6" stroke="#1010ff" stroke-width="1.0"/><g fill="#1010ff" stroke="#1010ff" stroke-width="0.5"><circle cx="304" cy="244.6" r="1.6"/></g><g fill="#a8a8ff"><circle cx="303.7" cy="244.3" r="0.6"/></g><text x="315.2" y="247.6" font-size="11.3" text-anchor="start" fill="#000">MBT</text><line x1="294.9" y1="258.7" x2="313.2" y2="258.7" stroke="#f03a3a" stroke-width="1.0"/><g fill="#f03a3a" stroke="#f03a3a" stroke-width="0.5"><circle cx="304" cy="258.7" r="1.6"/></g><g fill="#ffb8b8"><circle cx="303.7" cy="258.4" r="0.6"/></g><text x="315.2" y="261.7" font-size="11.3" text-anchor="start" fill="#000">EBT</text><line x1="294.9" y1="272.8" x2="313.2" y2="272.8" stroke="#2a8c2a" stroke-width="1.0"/><g fill="#2a8c2a" stroke="#2a8c2a" stroke-width="0.5"><circle cx="304" cy="272.8" r="1.6"/></g><g fill="#a8d8a8"><circle cx="303.7" cy="272.5" r="0.6"/></g><text x="315.2" y="275.8" font-size="11.3" text-anchor="start" fill="#000">MEBT</text><text x="233.6" y="200" font-size="22.5" text-anchor="start" fill="#000">e</text><defs><linearGradient id="gk" x1="0" y1="0" x2="0" y2="1"><stop offset="0" stop-color="#555"/><stop offset="1" stop-color="#a3a3a3"/></linearGradient><linearGradient id="gb" x1="0" y1="0" x2="0" y2="1"><stop offset="0" stop-color="#4a4aff"/><stop offset="1" stop-color="#9aa4ff"/></linearGradient><linearGradient id="gr" x1="0" y1="0" x2="0" y2="1"><stop offset="0" stop-color="#f04a55"/><stop offset="1" stop-color="#f0a0a4"/></linearGradient><linearGradient id="gg" x1="0" y1="0" x2="0" y2="1"><stop offset="0" stop-color="#4fa85a"/><stop offset="1" stop-color="#78f0b4"/></linearGradient></defs><rect x="496.6" y="224.2" width="37" height="121.3" fill="url(#gk)" stroke="#444" stroke-width="0.6"/><text x="515.4" y="221.2" font-size="9.8" text-anchor="middle" fill="#000">107 mV</text><rect x="542.4" y="266.8" width="37.6" height="78.7" fill="url(#gb)" stroke="#3a3ad0" stroke-width="0.6"/><text x="561.5" y="263.8" font-size="9.8" text-anchor="middle" fill="#000">87 mV</text><rect x="588.6" y="277.4" width="37.2" height="68.1" fill="url(#gr)" stroke="#d04050" stroke-width="0.6"/><text x="607.5" y="274.4" font-size="9.8" text-anchor="middle" fill="#000">82 mV</text><rect x="634.6" y="251.9" width="37.4" height="93.6" fill="url(#gg)" stroke="#3a8a48" stroke-width="0.6"/><text x="653.6" y="248.9" font-size="9.8" text-anchor="middle" fill="#000">94 mV</text><rect x="492.3" y="196.6" width="185.2" height="148.9" fill="none" stroke="#1a1a1a" stroke-width="1.35"/><line x1="515.1" y1="345.5" x2="515.1" y2="348.5" stroke="#1a1a1a" stroke-width="1.0"/><line x1="561.2" y1="345.5" x2="561.2" y2="348.5" stroke="#1a1a1a" stroke-width="1.0"/><line x1="607.2" y1="345.5" x2="607.2" y2="348.5" stroke="#1a1a1a" stroke-width="1.0"/><line x1="653.3" y1="345.5" x2="653.3" y2="348.5" stroke="#1a1a1a" stroke-width="1.0"/><line x1="538" y1="345.5" x2="538" y2="347.4" stroke="#1a1a1a" stroke-width="1.0"/><line x1="584.2" y1="345.5" x2="584.2" y2="347.4" stroke="#1a1a1a" stroke-width="1.0"/><line x1="630.2" y1="345.5" x2="630.2" y2="347.4" stroke="#1a1a1a" stroke-width="1.0"/><text x="518.9" y="359.3" font-size="10" text-anchor="middle" fill="#000">BT</text><text x="565" y="359.3" font-size="10" text-anchor="middle" fill="#000">MBT</text><text x="611" y="359.3" font-size="10" text-anchor="middle" fill="#000">EBT</text><text x="657.1" y="359.3" font-size="10" text-anchor="middle" fill="#000">MEBT</text><line x1="489.3" y1="324.2" x2="492.3" y2="324.2" stroke="#1a1a1a" stroke-width="1.0"/><line x1="489.3" y1="281.7" x2="492.3" y2="281.7" stroke="#1a1a1a" stroke-width="1.0"/><line x1="489.3" y1="239.1" x2="492.3" y2="239.1" stroke="#1a1a1a" stroke-width="1.0"/><line x1="489.3" y1="196.6" x2="492.3" y2="196.6" stroke="#1a1a1a" stroke-width="1.0"/><line x1="490.5" y1="302.9" x2="492.3" y2="302.9" stroke="#1a1a1a" stroke-width="1.0"/><line x1="490.5" y1="260.4" x2="492.3" y2="260.4" stroke="#1a1a1a" stroke-width="1.0"/><line x1="490.5" y1="217.9" x2="492.3" y2="217.9" stroke="#1a1a1a" stroke-width="1.0"/><text x="488" y="327.8" font-size="10" text-anchor="end" fill="#000">60</text><text x="488" y="285.3" font-size="10" text-anchor="end" fill="#000">80</text><text x="488" y="242.7" font-size="10" text-anchor="end" fill="#000">100</text><text x="488" y="200.2" font-size="10" text-anchor="end" fill="#000">120</text><text transform="translate(469.0,271.2) rotate(-90)" x="0" y="0" font-size="9.2" text-anchor="middle">&#916;<tspan font-style="italic">V</tspan><tspan font-size="6.3" dy="2.3">OC, nonrad</tspan><tspan dy="-2.5" font-size="9.2">&#160;&#160;(mV)</tspan></text><text x="463.6" y="205.5" font-size="22.5" text-anchor="start" fill="#000">f</text><path d="M69.9,514.4 L219.3,423.7" fill="none" stroke="#111" stroke-width="1.1" stroke-linejoin="round"/><path d="M69.9,485.1 L219.3,410.5" fill="none" stroke="#2a8c2a" stroke-width="1.1" stroke-linejoin="round"/><path d="M69.9,455 L219.3,394.9" fill="none" stroke="#11f" stroke-width="1.1" stroke-linejoin="round"/><path d="M69.9,448 L219.3,389.4" fill="none" stroke="#f22" stroke-width="1.1" stroke-linejoin="round"/><g fill="#111" stroke="#111" stroke-width="0.5"><circle cx="69.9" cy="513.6" r="1.75"/><circle cx="109.9" cy="489.8" r="1.75"/><circle cx="136.2" cy="474.7" r="1.75"/><circle cx="155.9" cy="463" r="1.75"/><circle cx="171.7" cy="455" r="1.75"/><circle cx="184.7" cy="448" r="1.75"/><circle cx="196" cy="442.6" r="1.75"/><circle cx="205.8" cy="437.4" r="1.75"/><circle cx="212" cy="434" r="1.75"/><circle cx="218.5" cy="428.7" r="1.75"/><circle cx="218.5" cy="401.9" r="1.75"/></g><g fill="#aaa"><circle cx="69.6" cy="513.3" r="0.65"/><circle cx="109.6" cy="489.5" r="0.65"/><circle cx="135.9" cy="474.4" r="0.65"/><circle cx="155.6" cy="462.7" r="0.65"/><circle cx="171.4" cy="454.7" r="0.65"/><circle cx="184.4" cy="447.7" r="0.65"/><circle cx="195.7" cy="442.3" r="0.65"/><circle cx="205.5" cy="437.1" r="0.65"/><circle cx="211.7" cy="433.7" r="0.65"/><circle cx="218.2" cy="428.4" r="0.65"/><circle cx="218.2" cy="401.6" r="0.65"/></g><g fill="#2a8c2a" stroke="#2a8c2a" stroke-width="0.5"><circle cx="69.9" cy="485.1" r="1.75"/><circle cx="109.9" cy="464.7" r="1.75"/><circle cx="136.2" cy="452.2" r="1.75"/><circle cx="155.9" cy="442.2" r="1.75"/><circle cx="171.7" cy="434.4" r="1.75"/><circle cx="184.7" cy="429.3" r="1.75"/><circle cx="196" cy="423.8" r="1.75"/><circle cx="205.8" cy="419" r="1.75"/><circle cx="212" cy="415.9" r="1.75"/><circle cx="218.5" cy="411.2" r="1.75"/><circle cx="218.5" cy="399.7" r="1.75"/></g><g fill="#a8d8a8"><circle cx="69.6" cy="484.8" r="0.65"/><circle cx="109.6" cy="464.4" r="0.65"/><circle cx="135.9" cy="451.9" r="0.65"/><circle cx="155.6" cy="441.9" r="0.65"/><circle cx="171.4" cy="434.1" r="0.65"/><circle cx="184.4" cy="429" r="0.65"/><circle cx="195.7" cy="423.5" r="0.65"/><circle cx="205.5" cy="418.7" r="0.65"/><circle cx="211.7" cy="415.6" r="0.65"/><circle cx="218.2" cy="410.9" r="0.65"/><circle cx="218.2" cy="399.4" r="0.65"/></g><g fill="#11f" stroke="#11f" stroke-width="0.5"><circle cx="69.9" cy="455" r="1.75"/><circle cx="109.9" cy="437.7" r="1.75"/><circle cx="136.2" cy="427.9" r="1.75"/><circle cx="155.9" cy="421.5" r="1.75"/><circle cx="171.7" cy="414.8" r="1.75"/><circle cx="184.7" cy="410.4" r="1.75"/><circle cx="196" cy="406.4" r="1.75"/><circle cx="205.8" cy="403.3" r="1.75"/><circle cx="212" cy="399.7" r="1.75"/><circle cx="218.5" cy="395.3" r="1.75"/></g><g fill="#a8a8ff"><circle cx="69.6" cy="454.7" r="0.65"/><circle cx="109.6" cy="437.4" r="0.65"/><circle cx="135.9" cy="427.6" r="0.65"/><circle cx="155.6" cy="421.2" r="0.65"/><circle cx="171.4" cy="414.5" r="0.65"/><circle cx="184.4" cy="410.1" r="0.65"/><circle cx="195.7" cy="406.1" r="0.65"/><circle cx="205.5" cy="403" r="0.65"/><circle cx="211.7" cy="399.4" r="0.65"/><circle cx="218.2" cy="395" r="0.65"/></g><g fill="#f22" stroke="#f22" stroke-width="0.5"><circle cx="69.9" cy="447.3" r="1.75"/><circle cx="109.9" cy="432" r="1.75"/><circle cx="136.2" cy="421.7" r="1.75"/><circle cx="155.9" cy="414.4" r="1.75"/><circle cx="171.7" cy="408.9" r="1.75"/><circle cx="184.7" cy="404.2" r="1.75"/><circle cx="196" cy="400.6" r="1.75"/><circle cx="205.8" cy="396.6" r="1.75"/><circle cx="212" cy="393.9" r="1.75"/><circle cx="218.5" cy="390" r="1.75"/><circle cx="218.5" cy="387.3" r="1.75"/></g><g fill="#ffb0b0"><circle cx="69.6" cy="447" r="0.65"/><circle cx="109.6" cy="431.7" r="0.65"/><circle cx="135.9" cy="421.4" r="0.65"/><circle cx="155.6" cy="414.1" r="0.65"/><circle cx="171.4" cy="408.6" r="0.65"/><circle cx="184.4" cy="403.9" r="0.65"/><circle cx="195.7" cy="400.3" r="0.65"/><circle cx="205.5" cy="396.3" r="0.65"/><circle cx="211.7" cy="393.6" r="0.65"/><circle cx="218.2" cy="389.7" r="0.65"/><circle cx="218.2" cy="387" r="0.65"/></g><rect x="38.1" y="377.3" width="188.1" height="151.9" fill="none" stroke="#1a1a1a" stroke-width="1.35"/><line x1="38.1" y1="529.2" x2="38.1" y2="531.7" stroke="#1a1a1a" stroke-width="1.0"/><line x1="164.2" y1="529.2" x2="164.2" y2="531.7" stroke="#1a1a1a" stroke-width="1.0"/><line x1="218.5" y1="529.2" x2="218.5" y2="531.7" stroke="#1a1a1a" stroke-width="1.0"/><line x1="69.9" y1="529.2" x2="69.9" y2="531.2" stroke="#1a1a1a" stroke-width="1.0"/><line x1="92.4" y1="529.2" x2="92.4" y2="531.2" stroke="#1a1a1a" stroke-width="1.0"/><line x1="109.9" y1="529.2" x2="109.9" y2="531.2" stroke="#1a1a1a" stroke-width="1.0"/><line x1="124.2" y1="529.2" x2="124.2" y2="531.2" stroke="#1a1a1a" stroke-width="1.0"/><line x1="136.2" y1="529.2" x2="136.2" y2="531.2" stroke="#1a1a1a" stroke-width="1.0"/><line x1="146.7" y1="529.2" x2="146.7" y2="531.2" stroke="#1a1a1a" stroke-width="1.0"/><line x1="155.9" y1="529.2" x2="155.9" y2="531.2" stroke="#1a1a1a" stroke-width="1.0"/><line x1="171.7" y1="529.2" x2="171.7" y2="531.2" stroke="#1a1a1a" stroke-width="1.0"/><line x1="178.5" y1="529.2" x2="178.5" y2="531.2" stroke="#1a1a1a" stroke-width="1.0"/><line x1="184.7" y1="529.2" x2="184.7" y2="531.2" stroke="#1a1a1a" stroke-width="1.0"/><line x1="190.6" y1="529.2" x2="190.6" y2="531.2" stroke="#1a1a1a" stroke-width="1.0"/><line x1="196" y1="529.2" x2="196" y2="531.2" stroke="#1a1a1a" stroke-width="1.0"/><line x1="201" y1="529.2" x2="201" y2="531.2" stroke="#1a1a1a" stroke-width="1.0"/><line x1="205.8" y1="529.2" x2="205.8" y2="531.2" stroke="#1a1a1a" stroke-width="1.0"/><line x1="210.2" y1="529.2" x2="210.2" y2="531.2" stroke="#1a1a1a" stroke-width="1.0"/><line x1="214.5" y1="529.2" x2="214.5" y2="531.2" stroke="#1a1a1a" stroke-width="1.0"/><text x="38.1" y="541.5" font-size="10" text-anchor="middle" fill="#000">10</text><text x="164.2" y="541.5" font-size="10" text-anchor="middle" fill="#000">50</text><text x="218.5" y="541.5" font-size="10" text-anchor="middle" fill="#000">100</text><line x1="35.1" y1="529.2" x2="38.1" y2="529.2" stroke="#1a1a1a" stroke-width="1.0"/><line x1="35.1" y1="493.7" x2="38.1" y2="493.7" stroke="#1a1a1a" stroke-width="1.0"/><line x1="35.1" y1="458.2" x2="38.1" y2="458.2" stroke="#1a1a1a" stroke-width="1.0"/><line x1="35.1" y1="422.8" x2="38.1" y2="422.8" stroke="#1a1a1a" stroke-width="1.0"/><line x1="35.1" y1="387.3" x2="38.1" y2="387.3" stroke="#1a1a1a" stroke-width="1.0"/><line x1="36.3" y1="511.5" x2="38.1" y2="511.5" stroke="#1a1a1a" stroke-width="1.0"/><line x1="36.3" y1="476" x2="38.1" y2="476" stroke="#1a1a1a" stroke-width="1.0"/><line x1="36.3" y1="440.5" x2="38.1" y2="440.5" stroke="#1a1a1a" stroke-width="1.0"/><line x1="36.3" y1="405" x2="38.1" y2="405" stroke="#1a1a1a" stroke-width="1.0"/><text x="34.3" y="532.8" font-size="10" text-anchor="end" fill="#000">0.72</text><text x="34.3" y="497.3" font-size="10" text-anchor="end" fill="#000">0.76</text><text x="34.3" y="461.9" font-size="10" text-anchor="end" fill="#000">0.80</text><text x="34.3" y="426.4" font-size="10" text-anchor="end" fill="#000">0.84</text><text x="34.3" y="390.9" font-size="10" text-anchor="end" fill="#000">0.88</text><text x="132.3" y="553" font-size="11.6" text-anchor="middle" fill="#000">Light intensity (mW cm<tspan font-size="7" dy="-4">-2</tspan><tspan dy="4">)</tspan></text><text transform="translate(11.2,455.7) rotate(-90)" x="0" y="0" font-size="11.6" text-anchor="middle"><tspan font-style="italic">V</tspan><tspan font-size="7.5" dy="2.5">OC</tspan><tspan dy="-2.5"> (V)</tspan></text><g fill="#111" stroke="#111" stroke-width="0.5"><circle cx="56" cy="385.4" r="1.75"/></g><g fill="#aaa"><circle cx="55.7" cy="385.1" r="0.65"/></g><g fill="#11f" stroke="#11f" stroke-width="0.5"><circle cx="56" cy="399.5" r="1.75"/></g><g fill="#a8a8ff"><circle cx="55.7" cy="399.2" r="0.65"/></g><text x="71.7" y="389.6" font-size="11.3" text-anchor="start" fill="#000">BT</text><text x="98.6" y="389.6" font-size="11.3" text-anchor="start" fill="#000">n=1.92</text><text x="71.7" y="403.7" font-size="11.3" text-anchor="start" fill="#000">MBT n=1.40</text><g fill="#f22" stroke="#f22" stroke-width="0.5"><circle cx="130.4" cy="501.6" r="1.75"/></g><g fill="#ffb0b0"><circle cx="130.1" cy="501.3" r="0.65"/></g><g fill="#2a8c2a" stroke="#2a8c2a" stroke-width="0.5"><circle cx="130.4" cy="515.5" r="1.75"/></g><g fill="#a8d8a8"><circle cx="130.1" cy="515.2" r="0.65"/></g><text x="141.5" y="505.8" font-size="11.5" text-anchor="start" fill="#000">EBT</text><text x="175.8" y="505.8" font-size="11.5" text-anchor="start" fill="#000">n=1.33</text><text x="142.6" y="519.7" font-size="11.5" text-anchor="start" fill="#000">MEBT n=1.71</text><text x="0" y="387.6" font-size="22.5" text-anchor="start" fill="#000">g</text><path d="M267.2,426.4 L269.5,423.7 L271.9,422 L274.2,421.4 L276.5,420.6 L278.9,420.6 L281.2,420.5 L283.5,421 L285.9,421.2 L288.2,422.4 L290.5,422 L292.9,423.1 L295.2,423.6 L297.5,424.7 L299.9,425.6 L302.2,426.2 L304.5,427.1 L306.9,428.5 L309.2,429.5 L311.5,430.3 L313.9,431.8 L316.2,433.1 L318.5,433.6 L320.9,435 L323.2,436.5 L325.5,437.3 L327.9,438.4 L330.2,439.7 L332.5,441 L334.9,441.8 L337.2,442.8 L339.5,444.4 L341.9,445.9 L344.2,447 L346.5,448.3 L348.9,450.2 L351.2,451.5 L353.5,453.1 L355.9,455.2 L358.2,457.3 L360.5,458.9 L362.9,461.1 L365.2,463.2 L367.6,466.4 L369.9,469 L372.2,472.2 L374.6,476.3 L376.9,480.8 L379.2,486.6 L381.6,492.8 L383.9,497.9 L386.2,503.7 L388.6,509 L390.9,514.5 L393.2,519.5 L395.6,523.1 L397.9,525.2 L400.2,526.8 L402.6,527.8 L404.9,528.1 L407.2,528.3 L409.6,528.4 L411.9,528.4 L414.2,528.4 L416.6,528.4 L418.9,528.4 L421.2,528.4 L423.6,528.4 L425.9,528.4 L428.2,528.4 L430.6,528.4 L432.9,528.4 L435.2,528.4 L437.6,528.4 L439.9,528.4 L442.2,528.4 L444.6,528.4 L446.9,528.4 L449.2,528.4 L451.6,528.4 L453.9,528.4" fill="none" stroke="#111" stroke-width="1.0" stroke-linejoin="round"/><g fill="#111" stroke="#111" stroke-width="0.5"><circle cx="267.2" cy="426.4" r="1.75"/><circle cx="269.5" cy="423.7" r="1.75"/><circle cx="271.9" cy="422" r="1.75"/><circle cx="274.2" cy="421.4" r="1.75"/><circle cx="276.5" cy="420.6" r="1.75"/><circle cx="278.9" cy="420.6" r="1.75"/><circle cx="281.2" cy="420.5" r="1.75"/><circle cx="283.5" cy="421" r="1.75"/><circle cx="285.9" cy="421.2" r="1.75"/><circle cx="288.2" cy="422.4" r="1.75"/><circle cx="290.5" cy="422" r="1.75"/><circle cx="292.9" cy="423.1" r="1.75"/><circle cx="295.2" cy="423.6" r="1.75"/><circle cx="297.5" cy="424.7" r="1.75"/><circle cx="299.9" cy="425.6" r="1.75"/><circle cx="302.2" cy="426.2" r="1.75"/><circle cx="304.5" cy="427.1" r="1.75"/><circle cx="306.9" cy="428.5" r="1.75"/><circle cx="309.2" cy="429.5" r="1.75"/><circle cx="311.5" cy="430.3" r="1.75"/><circle cx="313.9" cy="431.8" r="1.75"/><circle cx="316.2" cy="433.1" r="1.75"/><circle cx="318.5" cy="433.6" r="1.75"/><circle cx="320.9" cy="435" r="1.75"/><circle cx="323.2" cy="436.5" r="1.75"/><circle cx="325.5" cy="437.3" r="1.75"/><circle cx="327.9" cy="438.4" r="1.75"/><circle cx="330.2" cy="439.7" r="1.75"/><circle cx="332.5" cy="441" r="1.75"/><circle cx="334.9" cy="441.8" r="1.75"/><circle cx="337.2" cy="442.8" r="1.75"/><circle cx="339.5" cy="444.4" r="1.75"/><circle cx="341.9" cy="445.9" r="1.75"/><circle cx="344.2" cy="447" r="1.75"/><circle cx="346.5" cy="448.3" r="1.75"/><circle cx="348.9" cy="450.2" r="1.75"/><circle cx="351.2" cy="451.5" r="1.75"/><circle cx="353.5" cy="453.1" r="1.75"/><circle cx="355.9" cy="455.2" r="1.75"/><circle cx="358.2" cy="457.3" r="1.75"/><circle cx="360.5" cy="458.9" r="1.75"/><circle cx="362.9" cy="461.1" r="1.75"/><circle cx="365.2" cy="463.2" r="1.75"/><circle cx="367.6" cy="466.4" r="1.75"/><circle cx="369.9" cy="469" r="1.75"/><circle cx="372.2" cy="472.2" r="1.75"/><circle cx="374.6" cy="476.3" r="1.75"/><circle cx="376.9" cy="480.8" r="1.75"/><circle cx="379.2" cy="486.6" r="1.75"/><circle cx="381.6" cy="492.8" r="1.75"/><circle cx="383.9" cy="497.9" r="1.75"/><circle cx="386.2" cy="503.7" r="1.75"/><circle cx="388.6" cy="509" r="1.75"/><circle cx="390.9" cy="514.5" r="1.75"/><circle cx="393.2" cy="519.5" r="1.75"/><circle cx="395.6" cy="523.1" r="1.75"/><circle cx="397.9" cy="525.2" r="1.75"/><circle cx="400.2" cy="526.8" r="1.75"/><circle cx="402.6" cy="527.8" r="1.75"/><circle cx="404.9" cy="528.1" r="1.75"/><circle cx="407.2" cy="528.3" r="1.75"/><circle cx="409.6" cy="528.4" r="1.75"/><circle cx="411.9" cy="528.4" r="1.75"/><circle cx="414.2" cy="528.4" r="1.75"/><circle cx="416.6" cy="528.4" r="1.75"/><circle cx="418.9" cy="528.4" r="1.75"/><circle cx="421.2" cy="528.4" r="1.75"/><circle cx="423.6" cy="528.4" r="1.75"/><circle cx="425.9" cy="528.4" r="1.75"/><circle cx="428.2" cy="528.4" r="1.75"/><circle cx="430.6" cy="528.4" r="1.75"/><circle cx="432.9" cy="528.4" r="1.75"/><circle cx="435.2" cy="528.4" r="1.75"/><circle cx="437.6" cy="528.4" r="1.75"/><circle cx="439.9" cy="528.4" r="1.75"/><circle cx="442.2" cy="528.4" r="1.75"/><circle cx="444.6" cy="528.4" r="1.75"/><circle cx="446.9" cy="528.4" r="1.75"/><circle cx="449.2" cy="528.4" r="1.75"/><circle cx="451.6" cy="528.4" r="1.75"/><circle cx="453.9" cy="528.4" r="1.75"/></g><g fill="#bbb"><circle cx="266.9" cy="426.1" r="0.55"/><circle cx="269.2" cy="423.4" r="0.55"/><circle cx="271.6" cy="421.7" r="0.55"/><circle cx="273.9" cy="421.1" r="0.55"/><circle cx="276.2" cy="420.3" r="0.55"/><circle cx="278.6" cy="420.3" r="0.55"/><circle cx="280.9" cy="420.2" r="0.55"/><circle cx="283.2" cy="420.7" r="0.55"/><circle cx="285.6" cy="420.9" r="0.55"/><circle cx="287.9" cy="422.1" r="0.55"/><circle cx="290.2" cy="421.7" r="0.55"/><circle cx="292.6" cy="422.8" r="0.55"/><circle cx="294.9" cy="423.3" r="0.55"/><circle cx="297.2" cy="424.4" r="0.55"/><circle cx="299.6" cy="425.3" r="0.55"/><circle cx="301.9" cy="425.9" r="0.55"/><circle cx="304.2" cy="426.8" r="0.55"/><circle cx="306.6" cy="428.2" r="0.55"/><circle cx="308.9" cy="429.2" r="0.55"/><circle cx="311.2" cy="430" r="0.55"/><circle cx="313.6" cy="431.5" r="0.55"/><circle cx="315.9" cy="432.8" r="0.55"/><circle cx="318.2" cy="433.3" r="0.55"/><circle cx="320.6" cy="434.7" r="0.55"/><circle cx="322.9" cy="436.2" r="0.55"/><circle cx="325.2" cy="437" r="0.55"/><circle cx="327.6" cy="438.1" r="0.55"/><circle cx="329.9" cy="439.4" r="0.55"/><circle cx="332.2" cy="440.7" r="0.55"/><circle cx="334.6" cy="441.5" r="0.55"/><circle cx="336.9" cy="442.5" r="0.55"/><circle cx="339.2" cy="444.1" r="0.55"/><circle cx="341.6" cy="445.6" r="0.55"/><circle cx="343.9" cy="446.7" r="0.55"/><circle cx="346.2" cy="448" r="0.55"/><circle cx="348.6" cy="449.9" r="0.55"/><circle cx="350.9" cy="451.2" r="0.55"/><circle cx="353.2" cy="452.8" r="0.55"/><circle cx="355.6" cy="454.9" r="0.55"/><circle cx="357.9" cy="457" r="0.55"/><circle cx="360.2" cy="458.6" r="0.55"/><circle cx="362.6" cy="460.8" r="0.55"/><circle cx="364.9" cy="462.9" r="0.55"/><circle cx="367.3" cy="466.1" r="0.55"/><circle cx="369.6" cy="468.7" r="0.55"/><circle cx="371.9" cy="471.9" r="0.55"/><circle cx="374.3" cy="476" r="0.55"/><circle cx="376.6" cy="480.5" r="0.55"/><circle cx="378.9" cy="486.3" r="0.55"/><circle cx="381.3" cy="492.5" r="0.55"/><circle cx="383.6" cy="497.6" r="0.55"/><circle cx="385.9" cy="503.4" r="0.55"/><circle cx="388.3" cy="508.7" r="0.55"/><circle cx="390.6" cy="514.2" r="0.55"/><circle cx="392.9" cy="519.2" r="0.55"/><circle cx="395.3" cy="522.8" r="0.55"/><circle cx="397.6" cy="524.9" r="0.55"/><circle cx="399.9" cy="526.5" r="0.55"/><circle cx="402.3" cy="527.5" r="0.55"/><circle cx="404.6" cy="527.8" r="0.55"/><circle cx="406.9" cy="528" r="0.55"/><circle cx="409.3" cy="528.1" r="0.55"/><circle cx="411.6" cy="528.1" r="0.55"/><circle cx="413.9" cy="528.1" r="0.55"/><circle cx="416.3" cy="528.1" r="0.55"/><circle cx="418.6" cy="528.1" r="0.55"/><circle cx="420.9" cy="528.1" r="0.55"/><circle cx="423.3" cy="528.1" r="0.55"/><circle cx="425.6" cy="528.1" r="0.55"/><circle cx="427.9" cy="528.1" r="0.55"/><circle cx="430.3" cy="528.1" r="0.55"/><circle cx="432.6" cy="528.1" r="0.55"/><circle cx="434.9" cy="528.1" r="0.55"/><circle cx="437.3" cy="528.1" r="0.55"/><circle cx="439.6" cy="528.1" r="0.55"/><circle cx="441.9" cy="528.1" r="0.55"/><circle cx="444.3" cy="528.1" r="0.55"/><circle cx="446.6" cy="528.1" r="0.55"/><circle cx="448.9" cy="528.1" r="0.55"/><circle cx="451.3" cy="528.1" r="0.55"/><circle cx="453.6" cy="528.1" r="0.55"/></g><path d="M267.2,404.9 L269.5,403.9 L271.9,402.1 L274.2,400.8 L276.5,400.7 L278.9,399.8 L281.2,400.2 L283.5,399.9 L285.9,399.7 L288.2,399.8 L290.5,401.3 L292.9,401.1 L295.2,401 L297.5,401.1 L299.9,401.7 L302.2,402.5 L304.5,402.6 L306.9,403.1 L309.2,403.6 L311.5,404.3 L313.9,404.5 L316.2,405.2 L318.5,406 L320.9,406.7 L323.2,407.8 L325.5,408.4 L327.9,408.9 L330.2,410.6 L332.5,412.4 L334.9,413.1 L337.2,414.9 L339.5,415.9 L341.9,418.1 L344.2,419.8 L346.5,421.6 L348.9,422.4 L351.2,423.7 L353.5,426.2 L355.9,427.7 L358.2,428.8 L360.5,430.9 L362.9,432.6 L365.2,434.9 L367.6,437.6 L369.9,440.8 L372.2,445.1 L374.6,449 L376.9,453.8 L379.2,458.3 L381.6,464.2 L383.9,469.6 L386.2,474.7 L388.6,481.2 L390.9,487.3 L393.2,493.8 L395.6,500 L397.9,506.6 L400.2,512.4 L402.6,517.8 L404.9,522.3 L407.2,525.1 L409.6,527 L411.9,527.8 L414.2,528.2 L416.6,528.4 L418.9,528.4 L421.2,528.4 L423.6,528.4 L425.9,528.4 L428.2,528.4 L430.6,528.4 L432.9,528.4 L435.2,528.4 L437.6,528.4 L439.9,528.4 L442.2,528.4 L444.6,528.4 L446.9,528.4 L449.2,528.4 L451.6,528.4 L453.9,528.4" fill="none" stroke="#2a8c2a" stroke-width="1.0" stroke-linejoin="round"/><g fill="#2a8c2a" stroke="#2a8c2a" stroke-width="0.5"><circle cx="267.2" cy="404.9" r="1.75"/><circle cx="269.5" cy="403.9" r="1.75"/><circle cx="271.9" cy="402.1" r="1.75"/><circle cx="274.2" cy="400.8" r="1.75"/><circle cx="276.5" cy="400.7" r="1.75"/><circle cx="278.9" cy="399.8" r="1.75"/><circle cx="281.2" cy="400.2" r="1.75"/><circle cx="283.5" cy="399.9" r="1.75"/><circle cx="285.9" cy="399.7" r="1.75"/><circle cx="288.2" cy="399.8" r="1.75"/><circle cx="290.5" cy="401.3" r="1.75"/><circle cx="292.9" cy="401.1" r="1.75"/><circle cx="295.2" cy="401" r="1.75"/><circle cx="297.5" cy="401.1" r="1.75"/><circle cx="299.9" cy="401.7" r="1.75"/><circle cx="302.2" cy="402.5" r="1.75"/><circle cx="304.5" cy="402.6" r="1.75"/><circle cx="306.9" cy="403.1" r="1.75"/><circle cx="309.2" cy="403.6" r="1.75"/><circle cx="311.5" cy="404.3" r="1.75"/><circle cx="313.9" cy="404.5" r="1.75"/><circle cx="316.2" cy="405.2" r="1.75"/><circle cx="318.5" cy="406" r="1.75"/><circle cx="320.9" cy="406.7" r="1.75"/><circle cx="323.2" cy="407.8" r="1.75"/><circle cx="325.5" cy="408.4" r="1.75"/><circle cx="327.9" cy="408.9" r="1.75"/><circle cx="330.2" cy="410.6" r="1.75"/><circle cx="332.5" cy="412.4" r="1.75"/><circle cx="334.9" cy="413.1" r="1.75"/><circle cx="337.2" cy="414.9" r="1.75"/><circle cx="339.5" cy="415.9" r="1.75"/><circle cx="341.9" cy="418.1" r="1.75"/><circle cx="344.2" cy="419.8" r="1.75"/><circle cx="346.5" cy="421.6" r="1.75"/><circle cx="348.9" cy="422.4" r="1.75"/><circle cx="351.2" cy="423.7" r="1.75"/><circle cx="353.5" cy="426.2" r="1.75"/><circle cx="355.9" cy="427.7" r="1.75"/><circle cx="358.2" cy="428.8" r="1.75"/><circle cx="360.5" cy="430.9" r="1.75"/><circle cx="362.9" cy="432.6" r="1.75"/><circle cx="365.2" cy="434.9" r="1.75"/><circle cx="367.6" cy="437.6" r="1.75"/><circle cx="369.9" cy="440.8" r="1.75"/><circle cx="372.2" cy="445.1" r="1.75"/><circle cx="374.6" cy="449" r="1.75"/><circle cx="376.9" cy="453.8" r="1.75"/><circle cx="379.2" cy="458.3" r="1.75"/><circle cx="381.6" cy="464.2" r="1.75"/><circle cx="383.9" cy="469.6" r="1.75"/><circle cx="386.2" cy="474.7" r="1.75"/><circle cx="388.6" cy="481.2" r="1.75"/><circle cx="390.9" cy="487.3" r="1.75"/><circle cx="393.2" cy="493.8" r="1.75"/><circle cx="395.6" cy="500" r="1.75"/><circle cx="397.9" cy="506.6" r="1.75"/><circle cx="400.2" cy="512.4" r="1.75"/><circle cx="402.6" cy="517.8" r="1.75"/><circle cx="404.9" cy="522.3" r="1.75"/><circle cx="407.2" cy="525.1" r="1.75"/><circle cx="409.6" cy="527" r="1.75"/><circle cx="411.9" cy="527.8" r="1.75"/><circle cx="414.2" cy="528.2" r="1.75"/><circle cx="416.6" cy="528.4" r="1.75"/><circle cx="418.9" cy="528.4" r="1.75"/><circle cx="421.2" cy="528.4" r="1.75"/><circle cx="423.6" cy="528.4" r="1.75"/><circle cx="425.9" cy="528.4" r="1.75"/><circle cx="428.2" cy="528.4" r="1.75"/><circle cx="430.6" cy="528.4" r="1.75"/><circle cx="432.9" cy="528.4" r="1.75"/><circle cx="435.2" cy="528.4" r="1.75"/><circle cx="437.6" cy="528.4" r="1.75"/><circle cx="439.9" cy="528.4" r="1.75"/><circle cx="442.2" cy="528.4" r="1.75"/><circle cx="444.6" cy="528.4" r="1.75"/><circle cx="446.9" cy="528.4" r="1.75"/><circle cx="449.2" cy="528.4" r="1.75"/><circle cx="451.6" cy="528.4" r="1.75"/><circle cx="453.9" cy="528.4" r="1.75"/></g><g fill="#b0e0b0"><circle cx="266.9" cy="404.6" r="0.55"/><circle cx="269.2" cy="403.6" r="0.55"/><circle cx="271.6" cy="401.8" r="0.55"/><circle cx="273.9" cy="400.5" r="0.55"/><circle cx="276.2" cy="400.4" r="0.55"/><circle cx="278.6" cy="399.5" r="0.55"/><circle cx="280.9" cy="399.9" r="0.55"/><circle cx="283.2" cy="399.6" r="0.55"/><circle cx="285.6" cy="399.4" r="0.55"/><circle cx="287.9" cy="399.5" r="0.55"/><circle cx="290.2" cy="401" r="0.55"/><circle cx="292.6" cy="400.8" r="0.55"/><circle cx="294.9" cy="400.7" r="0.55"/><circle cx="297.2" cy="400.8" r="0.55"/><circle cx="299.6" cy="401.4" r="0.55"/><circle cx="301.9" cy="402.2" r="0.55"/><circle cx="304.2" cy="402.3" r="0.55"/><circle cx="306.6" cy="402.8" r="0.55"/><circle cx="308.9" cy="403.3" r="0.55"/><circle cx="311.2" cy="404" r="0.55"/><circle cx="313.6" cy="404.2" r="0.55"/><circle cx="315.9" cy="404.9" r="0.55"/><circle cx="318.2" cy="405.7" r="0.55"/><circle cx="320.6" cy="406.4" r="0.55"/><circle cx="322.9" cy="407.5" r="0.55"/><circle cx="325.2" cy="408.1" r="0.55"/><circle cx="327.6" cy="408.6" r="0.55"/><circle cx="329.9" cy="410.3" r="0.55"/><circle cx="332.2" cy="412.1" r="0.55"/><circle cx="334.6" cy="412.8" r="0.55"/><circle cx="336.9" cy="414.6" r="0.55"/><circle cx="339.2" cy="415.6" r="0.55"/><circle cx="341.6" cy="417.8" r="0.55"/><circle cx="343.9" cy="419.5" r="0.55"/><circle cx="346.2" cy="421.3" r="0.55"/><circle cx="348.6" cy="422.1" r="0.55"/><circle cx="350.9" cy="423.4" r="0.55"/><circle cx="353.2" cy="425.9" r="0.55"/><circle cx="355.6" cy="427.4" r="0.55"/><circle cx="357.9" cy="428.5" r="0.55"/><circle cx="360.2" cy="430.6" r="0.55"/><circle cx="362.6" cy="432.3" r="0.55"/><circle cx="364.9" cy="434.6" r="0.55"/><circle cx="367.3" cy="437.3" r="0.55"/><circle cx="369.6" cy="440.5" r="0.55"/><circle cx="371.9" cy="444.8" r="0.55"/><circle cx="374.3" cy="448.7" r="0.55"/><circle cx="376.6" cy="453.5" r="0.55"/><circle cx="378.9" cy="458" r="0.55"/><circle cx="381.3" cy="463.9" r="0.55"/><circle cx="383.6" cy="469.3" r="0.55"/><circle cx="385.9" cy="474.4" r="0.55"/><circle cx="388.3" cy="480.9" r="0.55"/><circle cx="390.6" cy="487" r="0.55"/><circle cx="392.9" cy="493.5" r="0.55"/><circle cx="395.3" cy="499.7" r="0.55"/><circle cx="397.6" cy="506.3" r="0.55"/><circle cx="399.9" cy="512.1" r="0.55"/><circle cx="402.3" cy="517.5" r="0.55"/><circle cx="404.6" cy="522" r="0.55"/><circle cx="406.9" cy="524.8" r="0.55"/><circle cx="409.3" cy="526.7" r="0.55"/><circle cx="411.6" cy="527.5" r="0.55"/><circle cx="413.9" cy="527.9" r="0.55"/><circle cx="416.3" cy="528.1" r="0.55"/><circle cx="418.6" cy="528.1" r="0.55"/><circle cx="420.9" cy="528.1" r="0.55"/><circle cx="423.3" cy="528.1" r="0.55"/><circle cx="425.6" cy="528.1" r="0.55"/><circle cx="427.9" cy="528.1" r="0.55"/><circle cx="430.3" cy="528.1" r="0.55"/><circle cx="432.6" cy="528.1" r="0.55"/><circle cx="434.9" cy="528.1" r="0.55"/><circle cx="437.3" cy="528.1" r="0.55"/><circle cx="439.6" cy="528.1" r="0.55"/><circle cx="441.9" cy="528.1" r="0.55"/><circle cx="444.3" cy="528.1" r="0.55"/><circle cx="446.6" cy="528.1" r="0.55"/><circle cx="448.9" cy="528.1" r="0.55"/><circle cx="451.3" cy="528.1" r="0.55"/><circle cx="453.6" cy="528.1" r="0.55"/></g><path d="M267.2,387.4 L269.5,385.7 L271.9,385 L274.2,385 L276.5,385.5 L278.9,385.1 L281.2,385.4 L283.5,385.6 L285.9,386.2 L288.2,386.4 L290.5,386.8 L292.9,387.4 L295.2,387.8 L297.5,388.2 L299.9,388.8 L302.2,389.2 L304.5,389.8 L306.9,390.1 L309.2,390.8 L311.5,391.2 L313.9,392.5 L316.2,392.5 L318.5,393.8 L320.9,394.6 L323.2,395.3 L325.5,396.3 L327.9,397.2 L330.2,398.7 L332.5,400.2 L334.9,401.7 L337.2,402.5 L339.5,404.4 L341.9,406.3 L344.2,407.5 L346.5,409.6 L348.9,410.2 L351.2,412.8 L353.5,413.7 L355.9,415.1 L358.2,417.2 L360.5,418.3 L362.9,420 L365.2,422.5 L367.6,425.8 L369.9,429.5 L372.2,434.3 L374.6,439.1 L376.9,444.2 L379.2,449.3 L381.6,455.7 L383.9,461.4 L386.2,468 L388.6,474.3 L390.9,480 L393.2,485.9 L395.6,492.5 L397.9,499.4 L400.2,505.3 L402.6,511.9 L404.9,518.2 L407.2,523 L409.6,525.4 L411.9,526.9 L414.2,527.7 L416.6,528.2 L418.9,528.4 L421.2,528.4 L423.6,528.4 L425.9,528.4 L428.2,528.4 L430.6,528.4 L432.9,528.4 L435.2,528.4 L437.6,528.4 L439.9,528.4 L442.2,528.4 L444.6,528.4 L446.9,528.4 L449.2,528.4 L451.6,528.4 L453.9,528.4" fill="none" stroke="#1010ff" stroke-width="1.0" stroke-linejoin="round"/><g fill="#1010ff" stroke="#1010ff" stroke-width="0.5"><circle cx="267.2" cy="387.4" r="1.75"/><circle cx="269.5" cy="385.7" r="1.75"/><circle cx="271.9" cy="385" r="1.75"/><circle cx="274.2" cy="385" r="1.75"/><circle cx="276.5" cy="385.5" r="1.75"/><circle cx="278.9" cy="385.1" r="1.75"/><circle cx="281.2" cy="385.4" r="1.75"/><circle cx="283.5" cy="385.6" r="1.75"/><circle cx="285.9" cy="386.2" r="1.75"/><circle cx="288.2" cy="386.4" r="1.75"/><circle cx="290.5" cy="386.8" r="1.75"/><circle cx="292.9" cy="387.4" r="1.75"/><circle cx="295.2" cy="387.8" r="1.75"/><circle cx="297.5" cy="388.2" r="1.75"/><circle cx="299.9" cy="388.8" r="1.75"/><circle cx="302.2" cy="389.2" r="1.75"/><circle cx="304.5" cy="389.8" r="1.75"/><circle cx="306.9" cy="390.1" r="1.75"/><circle cx="309.2" cy="390.8" r="1.75"/><circle cx="311.5" cy="391.2" r="1.75"/><circle cx="313.9" cy="392.5" r="1.75"/><circle cx="316.2" cy="392.5" r="1.75"/><circle cx="318.5" cy="393.8" r="1.75"/><circle cx="320.9" cy="394.6" r="1.75"/><circle cx="323.2" cy="395.3" r="1.75"/><circle cx="325.5" cy="396.3" r="1.75"/><circle cx="327.9" cy="397.2" r="1.75"/><circle cx="330.2" cy="398.7" r="1.75"/><circle cx="332.5" cy="400.2" r="1.75"/><circle cx="334.9" cy="401.7" r="1.75"/><circle cx="337.2" cy="402.5" r="1.75"/><circle cx="339.5" cy="404.4" r="1.75"/><circle cx="341.9" cy="406.3" r="1.75"/><circle cx="344.2" cy="407.5" r="1.75"/><circle cx="346.5" cy="409.6" r="1.75"/><circle cx="348.9" cy="410.2" r="1.75"/><circle cx="351.2" cy="412.8" r="1.75"/><circle cx="353.5" cy="413.7" r="1.75"/><circle cx="355.9" cy="415.1" r="1.75"/><circle cx="358.2" cy="417.2" r="1.75"/><circle cx="360.5" cy="418.3" r="1.75"/><circle cx="362.9" cy="420" r="1.75"/><circle cx="365.2" cy="422.5" r="1.75"/><circle cx="367.6" cy="425.8" r="1.75"/><circle cx="369.9" cy="429.5" r="1.75"/><circle cx="372.2" cy="434.3" r="1.75"/><circle cx="374.6" cy="439.1" r="1.75"/><circle cx="376.9" cy="444.2" r="1.75"/><circle cx="379.2" cy="449.3" r="1.75"/><circle cx="381.6" cy="455.7" r="1.75"/><circle cx="383.9" cy="461.4" r="1.75"/><circle cx="386.2" cy="468" r="1.75"/><circle cx="388.6" cy="474.3" r="1.75"/><circle cx="390.9" cy="480" r="1.75"/><circle cx="393.2" cy="485.9" r="1.75"/><circle cx="395.6" cy="492.5" r="1.75"/><circle cx="397.9" cy="499.4" r="1.75"/><circle cx="400.2" cy="505.3" r="1.75"/><circle cx="402.6" cy="511.9" r="1.75"/><circle cx="404.9" cy="518.2" r="1.75"/><circle cx="407.2" cy="523" r="1.75"/><circle cx="409.6" cy="525.4" r="1.75"/><circle cx="411.9" cy="526.9" r="1.75"/><circle cx="414.2" cy="527.7" r="1.75"/><circle cx="416.6" cy="528.2" r="1.75"/><circle cx="418.9" cy="528.4" r="1.75"/><circle cx="421.2" cy="528.4" r="1.75"/><circle cx="423.6" cy="528.4" r="1.75"/><circle cx="425.9" cy="528.4" r="1.75"/><circle cx="428.2" cy="528.4" r="1.75"/><circle cx="430.6" cy="528.4" r="1.75"/><circle cx="432.9" cy="528.4" r="1.75"/><circle cx="435.2" cy="528.4" r="1.75"/><circle cx="437.6" cy="528.4" r="1.75"/><circle cx="439.9" cy="528.4" r="1.75"/><circle cx="442.2" cy="528.4" r="1.75"/><circle cx="444.6" cy="528.4" r="1.75"/><circle cx="446.9" cy="528.4" r="1.75"/><circle cx="449.2" cy="528.4" r="1.75"/><circle cx="451.6" cy="528.4" r="1.75"/><circle cx="453.9" cy="528.4" r="1.75"/></g><g fill="#b0b0ff"><circle cx="266.9" cy="387.1" r="0.55"/><circle cx="269.2" cy="385.4" r="0.55"/><circle cx="271.6" cy="384.7" r="0.55"/><circle cx="273.9" cy="384.7" r="0.55"/><circle cx="276.2" cy="385.2" r="0.55"/><circle cx="278.6" cy="384.8" r="0.55"/><circle cx="280.9" cy="385.1" r="0.55"/><circle cx="283.2" cy="385.3" r="0.55"/><circle cx="285.6" cy="385.9" r="0.55"/><circle cx="287.9" cy="386.1" r="0.55"/><circle cx="290.2" cy="386.5" r="0.55"/><circle cx="292.6" cy="387.1" r="0.55"/><circle cx="294.9" cy="387.5" r="0.55"/><circle cx="297.2" cy="387.9" r="0.55"/><circle cx="299.6" cy="388.5" r="0.55"/><circle cx="301.9" cy="388.9" r="0.55"/><circle cx="304.2" cy="389.5" r="0.55"/><circle cx="306.6" cy="389.8" r="0.55"/><circle cx="308.9" cy="390.5" r="0.55"/><circle cx="311.2" cy="390.9" r="0.55"/><circle cx="313.6" cy="392.2" r="0.55"/><circle cx="315.9" cy="392.2" r="0.55"/><circle cx="318.2" cy="393.5" r="0.55"/><circle cx="320.6" cy="394.3" r="0.55"/><circle cx="322.9" cy="395" r="0.55"/><circle cx="325.2" cy="396" r="0.55"/><circle cx="327.6" cy="396.9" r="0.55"/><circle cx="329.9" cy="398.4" r="0.55"/><circle cx="332.2" cy="399.9" r="0.55"/><circle cx="334.6" cy="401.4" r="0.55"/><circle cx="336.9" cy="402.2" r="0.55"/><circle cx="339.2" cy="404.1" r="0.55"/><circle cx="341.6" cy="406" r="0.55"/><circle cx="343.9" cy="407.2" r="0.55"/><circle cx="346.2" cy="409.3" r="0.55"/><circle cx="348.6" cy="409.9" r="0.55"/><circle cx="350.9" cy="412.5" r="0.55"/><circle cx="353.2" cy="413.4" r="0.55"/><circle cx="355.6" cy="414.8" r="0.55"/><circle cx="357.9" cy="416.9" r="0.55"/><circle cx="360.2" cy="418" r="0.55"/><circle cx="362.6" cy="419.7" r="0.55"/><circle cx="364.9" cy="422.2" r="0.55"/><circle cx="367.3" cy="425.5" r="0.55"/><circle cx="369.6" cy="429.2" r="0.55"/><circle cx="371.9" cy="434" r="0.55"/><circle cx="374.3" cy="438.8" r="0.55"/><circle cx="376.6" cy="443.9" r="0.55"/><circle cx="378.9" cy="449" r="0.55"/><circle cx="381.3" cy="455.4" r="0.55"/><circle cx="383.6" cy="461.1" r="0.55"/><circle cx="385.9" cy="467.7" r="0.55"/><circle cx="388.3" cy="474" r="0.55"/><circle cx="390.6" cy="479.7" r="0.55"/><circle cx="392.9" cy="485.6" r="0.55"/><circle cx="395.3" cy="492.2" r="0.55"/><circle cx="397.6" cy="499.1" r="0.55"/><circle cx="399.9" cy="505" r="0.55"/><circle cx="402.3" cy="511.6" r="0.55"/><circle cx="404.6" cy="517.9" r="0.55"/><circle cx="406.9" cy="522.7" r="0.55"/><circle cx="409.3" cy="525.1" r="0.55"/><circle cx="411.6" cy="526.6" r="0.55"/><circle cx="413.9" cy="527.4" r="0.55"/><circle cx="416.3" cy="527.9" r="0.55"/><circle cx="418.6" cy="528.1" r="0.55"/><circle cx="420.9" cy="528.1" r="0.55"/><circle cx="423.3" cy="528.1" r="0.55"/><circle cx="425.6" cy="528.1" r="0.55"/><circle cx="427.9" cy="528.1" r="0.55"/><circle cx="430.3" cy="528.1" r="0.55"/><circle cx="432.6" cy="528.1" r="0.55"/><circle cx="434.9" cy="528.1" r="0.55"/><circle cx="437.3" cy="528.1" r="0.55"/><circle cx="439.6" cy="528.1" r="0.55"/><circle cx="441.9" cy="528.1" r="0.55"/><circle cx="444.3" cy="528.1" r="0.55"/><circle cx="446.6" cy="528.1" r="0.55"/><circle cx="448.9" cy="528.1" r="0.55"/><circle cx="451.3" cy="528.1" r="0.55"/><circle cx="453.6" cy="528.1" r="0.55"/></g><path d="M267.2,381.6 L269.5,382 L271.9,382.4 L274.2,382.4 L276.5,382.6 L278.9,383.7 L281.2,383.8 L283.5,384.1 L285.9,384.6 L288.2,384.9 L290.5,385.8 L292.9,385.9 L295.2,386 L297.5,386.8 L299.9,387.7 L302.2,387.8 L304.5,388.1 L306.9,388.9 L309.2,389.7 L311.5,389.6 L313.9,391 L316.2,391.1 L318.5,391.8 L320.9,392.8 L323.2,392.7 L325.5,393.6 L327.9,394.8 L330.2,395 L332.5,396.1 L334.9,397.4 L337.2,397.9 L339.5,398.5 L341.9,399.1 L344.2,400 L346.5,400.7 L348.9,401.3 L351.2,402.3 L353.5,402.6 L355.9,403.6 L358.2,404.3 L360.5,405 L362.9,406.6 L365.2,408.1 L367.6,409.5 L369.9,412.4 L372.2,415.2 L374.6,418 L376.9,421.6 L379.2,425.2 L381.6,429.6 L383.9,434.4 L386.2,440.7 L388.6,445.7 L390.9,452.2 L393.2,458.6 L395.6,464.7 L397.9,472 L400.2,479.6 L402.6,487.6 L404.9,494.8 L407.2,501.1 L409.6,509 L411.9,514.6 L414.2,519.7 L416.6,523.6 L418.9,526.6 L421.2,527.8 L423.6,528.4 L425.9,528.4 L428.2,528.4 L430.6,528.4 L432.9,528.4 L435.2,528.4 L437.6,528.4 L439.9,528.4 L442.2,528.4 L444.6,528.4 L446.9,528.4 L449.2,528.4 L451.6,528.4 L453.9,528.4" fill="none" stroke="#f22" stroke-width="1.0" stroke-linejoin="round"/><g fill="#f22" stroke="#f22" stroke-width="0.5"><circle cx="267.2" cy="381.6" r="1.75"/><circle cx="269.5" cy="382" r="1.75"/><circle cx="271.9" cy="382.4" r="1.75"/><circle cx="274.2" cy="382.4" r="1.75"/><circle cx="276.5" cy="382.6" r="1.75"/><circle cx="278.9" cy="383.7" r="1.75"/><circle cx="281.2" cy="383.8" r="1.75"/><circle cx="283.5" cy="384.1" r="1.75"/><circle cx="285.9" cy="384.6" r="1.75"/><circle cx="288.2" cy="384.9" r="1.75"/><circle cx="290.5" cy="385.8" r="1.75"/><circle cx="292.9" cy="385.9" r="1.75"/><circle cx="295.2" cy="386" r="1.75"/><circle cx="297.5" cy="386.8" r="1.75"/><circle cx="299.9" cy="387.7" r="1.75"/><circle cx="302.2" cy="387.8" r="1.75"/><circle cx="304.5" cy="388.1" r="1.75"/><circle cx="306.9" cy="388.9" r="1.75"/><circle cx="309.2" cy="389.7" r="1.75"/><circle cx="311.5" cy="389.6" r="1.75"/><circle cx="313.9" cy="391" r="1.75"/><circle cx="316.2" cy="391.1" r="1.75"/><circle cx="318.5" cy="391.8" r="1.75"/><circle cx="320.9" cy="392.8" r="1.75"/><circle cx="323.2" cy="392.7" r="1.75"/><circle cx="325.5" cy="393.6" r="1.75"/><circle cx="327.9" cy="394.8" r="1.75"/><circle cx="330.2" cy="395" r="1.75"/><circle cx="332.5" cy="396.1" r="1.75"/><circle cx="334.9" cy="397.4" r="1.75"/><circle cx="337.2" cy="397.9" r="1.75"/><circle cx="339.5" cy="398.5" r="1.75"/><circle cx="341.9" cy="399.1" r="1.75"/><circle cx="344.2" cy="400" r="1.75"/><circle cx="346.5" cy="400.7" r="1.75"/><circle cx="348.9" cy="401.3" r="1.75"/><circle cx="351.2" cy="402.3" r="1.75"/><circle cx="353.5" cy="402.6" r="1.75"/><circle cx="355.9" cy="403.6" r="1.75"/><circle cx="358.2" cy="404.3" r="1.75"/><circle cx="360.5" cy="405" r="1.75"/><circle cx="362.9" cy="406.6" r="1.75"/><circle cx="365.2" cy="408.1" r="1.75"/><circle cx="367.6" cy="409.5" r="1.75"/><circle cx="369.9" cy="412.4" r="1.75"/><circle cx="372.2" cy="415.2" r="1.75"/><circle cx="374.6" cy="418" r="1.75"/><circle cx="376.9" cy="421.6" r="1.75"/><circle cx="379.2" cy="425.2" r="1.75"/><circle cx="381.6" cy="429.6" r="1.75"/><circle cx="383.9" cy="434.4" r="1.75"/><circle cx="386.2" cy="440.7" r="1.75"/><circle cx="388.6" cy="445.7" r="1.75"/><circle cx="390.9" cy="452.2" r="1.75"/><circle cx="393.2" cy="458.6" r="1.75"/><circle cx="395.6" cy="464.7" r="1.75"/><circle cx="397.9" cy="472" r="1.75"/><circle cx="400.2" cy="479.6" r="1.75"/><circle cx="402.6" cy="487.6" r="1.75"/><circle cx="404.9" cy="494.8" r="1.75"/><circle cx="407.2" cy="501.1" r="1.75"/><circle cx="409.6" cy="509" r="1.75"/><circle cx="411.9" cy="514.6" r="1.75"/><circle cx="414.2" cy="519.7" r="1.75"/><circle cx="416.6" cy="523.6" r="1.75"/><circle cx="418.9" cy="526.6" r="1.75"/><circle cx="421.2" cy="527.8" r="1.75"/><circle cx="423.6" cy="528.4" r="1.75"/><circle cx="425.9" cy="528.4" r="1.75"/><circle cx="428.2" cy="528.4" r="1.75"/><circle cx="430.6" cy="528.4" r="1.75"/><circle cx="432.9" cy="528.4" r="1.75"/><circle cx="435.2" cy="528.4" r="1.75"/><circle cx="437.6" cy="528.4" r="1.75"/><circle cx="439.9" cy="528.4" r="1.75"/><circle cx="442.2" cy="528.4" r="1.75"/><circle cx="444.6" cy="528.4" r="1.75"/><circle cx="446.9" cy="528.4" r="1.75"/><circle cx="449.2" cy="528.4" r="1.75"/><circle cx="451.6" cy="528.4" r="1.75"/><circle cx="453.9" cy="528.4" r="1.75"/></g><g fill="#ffb8b8"><circle cx="266.9" cy="381.3" r="0.55"/><circle cx="269.2" cy="381.7" r="0.55"/><circle cx="271.6" cy="382.1" r="0.55"/><circle cx="273.9" cy="382.1" r="0.55"/><circle cx="276.2" cy="382.3" r="0.55"/><circle cx="278.6" cy="383.4" r="0.55"/><circle cx="280.9" cy="383.5" r="0.55"/><circle cx="283.2" cy="383.8" r="0.55"/><circle cx="285.6" cy="384.3" r="0.55"/><circle cx="287.9" cy="384.6" r="0.55"/><circle cx="290.2" cy="385.5" r="0.55"/><circle cx="292.6" cy="385.6" r="0.55"/><circle cx="294.9" cy="385.7" r="0.55"/><circle cx="297.2" cy="386.5" r="0.55"/><circle cx="299.6" cy="387.4" r="0.55"/><circle cx="301.9" cy="387.5" r="0.55"/><circle cx="304.2" cy="387.8" r="0.55"/><circle cx="306.6" cy="388.6" r="0.55"/><circle cx="308.9" cy="389.4" r="0.55"/><circle cx="311.2" cy="389.3" r="0.55"/><circle cx="313.6" cy="390.7" r="0.55"/><circle cx="315.9" cy="390.8" r="0.55"/><circle cx="318.2" cy="391.5" r="0.55"/><circle cx="320.6" cy="392.5" r="0.55"/><circle cx="322.9" cy="392.4" r="0.55"/><circle cx="325.2" cy="393.3" r="0.55"/><circle cx="327.6" cy="394.5" r="0.55"/><circle cx="329.9" cy="394.7" r="0.55"/><circle cx="332.2" cy="395.8" r="0.55"/><circle cx="334.6" cy="397.1" r="0.55"/><circle cx="336.9" cy="397.6" r="0.55"/><circle cx="339.2" cy="398.2" r="0.55"/><circle cx="341.6" cy="398.8" r="0.55"/><circle cx="343.9" cy="399.7" r="0.55"/><circle cx="346.2" cy="400.4" r="0.55"/><circle cx="348.6" cy="401" r="0.55"/><circle cx="350.9" cy="402" r="0.55"/><circle cx="353.2" cy="402.3" r="0.55"/><circle cx="355.6" cy="403.3" r="0.55"/><circle cx="357.9" cy="404" r="0.55"/><circle cx="360.2" cy="404.7" r="0.55"/><circle cx="362.6" cy="406.3" r="0.55"/><circle cx="364.9" cy="407.8" r="0.55"/><circle cx="367.3" cy="409.2" r="0.55"/><circle cx="369.6" cy="412.1" r="0.55"/><circle cx="371.9" cy="414.9" r="0.55"/><circle cx="374.3" cy="417.7" r="0.55"/><circle cx="376.6" cy="421.3" r="0.55"/><circle cx="378.9" cy="424.9" r="0.55"/><circle cx="381.3" cy="429.3" r="0.55"/><circle cx="383.6" cy="434.1" r="0.55"/><circle cx="385.9" cy="440.4" r="0.55"/><circle cx="388.3" cy="445.4" r="0.55"/><circle cx="390.6" cy="451.9" r="0.55"/><circle cx="392.9" cy="458.3" r="0.55"/><circle cx="395.3" cy="464.4" r="0.55"/><circle cx="397.6" cy="471.7" r="0.55"/><circle cx="399.9" cy="479.3" r="0.55"/><circle cx="402.3" cy="487.3" r="0.55"/><circle cx="404.6" cy="494.5" r="0.55"/><circle cx="406.9" cy="500.8" r="0.55"/><circle cx="409.3" cy="508.7" r="0.55"/><circle cx="411.6" cy="514.3" r="0.55"/><circle cx="413.9" cy="519.4" r="0.55"/><circle cx="416.3" cy="523.3" r="0.55"/><circle cx="418.6" cy="526.3" r="0.55"/><circle cx="420.9" cy="527.5" r="0.55"/><circle cx="423.3" cy="528.1" r="0.55"/><circle cx="425.6" cy="528.1" r="0.55"/><circle cx="427.9" cy="528.1" r="0.55"/><circle cx="430.3" cy="528.1" r="0.55"/><circle cx="432.6" cy="528.1" r="0.55"/><circle cx="434.9" cy="528.1" r="0.55"/><circle cx="437.3" cy="528.1" r="0.55"/><circle cx="439.6" cy="528.1" r="0.55"/><circle cx="441.9" cy="528.1" r="0.55"/><circle cx="444.3" cy="528.1" r="0.55"/><circle cx="446.6" cy="528.1" r="0.55"/><circle cx="448.9" cy="528.1" r="0.55"/><circle cx="451.3" cy="528.1" r="0.55"/><circle cx="453.6" cy="528.1" r="0.55"/></g><rect x="267.3" y="377" width="186.7" height="151.5" fill="none" stroke="#1a1a1a" stroke-width="1.35"/><line x1="267.2" y1="528.5" x2="267.2" y2="531" stroke="#1a1a1a" stroke-width="1.0"/><line x1="313.9" y1="528.5" x2="313.9" y2="531" stroke="#1a1a1a" stroke-width="1.0"/><line x1="360.5" y1="528.5" x2="360.5" y2="531" stroke="#1a1a1a" stroke-width="1.0"/><line x1="407.2" y1="528.5" x2="407.2" y2="531" stroke="#1a1a1a" stroke-width="1.0"/><line x1="453.9" y1="528.5" x2="453.9" y2="531" stroke="#1a1a1a" stroke-width="1.0"/><line x1="290.5" y1="528.5" x2="290.5" y2="530.3" stroke="#1a1a1a" stroke-width="1.0"/><line x1="337.2" y1="528.5" x2="337.2" y2="530.3" stroke="#1a1a1a" stroke-width="1.0"/><line x1="383.9" y1="528.5" x2="383.9" y2="530.3" stroke="#1a1a1a" stroke-width="1.0"/><line x1="430.6" y1="528.5" x2="430.6" y2="530.3" stroke="#1a1a1a" stroke-width="1.0"/><text x="267.2" y="540.5" font-size="10" text-anchor="middle" fill="#000">0.0</text><text x="313.9" y="540.5" font-size="10" text-anchor="middle" fill="#000">0.2</text><text x="360.5" y="540.5" font-size="10" text-anchor="middle" fill="#000">0.4</text><text x="407.2" y="540.5" font-size="10" text-anchor="middle" fill="#000">0.6</text><text x="453.9" y="540.5" font-size="10" text-anchor="middle" fill="#000">0.8</text><line x1="264.3" y1="528.4" x2="267.3" y2="528.4" stroke="#1a1a1a" stroke-width="1.0"/><line x1="264.3" y1="503.2" x2="267.3" y2="503.2" stroke="#1a1a1a" stroke-width="1.0"/><line x1="264.3" y1="477.9" x2="267.3" y2="477.9" stroke="#1a1a1a" stroke-width="1.0"/><line x1="264.3" y1="452.7" x2="267.3" y2="452.7" stroke="#1a1a1a" stroke-width="1.0"/><line x1="264.3" y1="427.5" x2="267.3" y2="427.5" stroke="#1a1a1a" stroke-width="1.0"/><line x1="264.3" y1="402.2" x2="267.3" y2="402.2" stroke="#1a1a1a" stroke-width="1.0"/><line x1="264.3" y1="377" x2="267.3" y2="377" stroke="#1a1a1a" stroke-width="1.0"/><line x1="265.5" y1="515.8" x2="267.3" y2="515.8" stroke="#1a1a1a" stroke-width="1.0"/><line x1="265.5" y1="490.5" x2="267.3" y2="490.5" stroke="#1a1a1a" stroke-width="1.0"/><line x1="265.5" y1="465.3" x2="267.3" y2="465.3" stroke="#1a1a1a" stroke-width="1.0"/><line x1="265.5" y1="440.1" x2="267.3" y2="440.1" stroke="#1a1a1a" stroke-width="1.0"/><line x1="265.5" y1="414.9" x2="267.3" y2="414.9" stroke="#1a1a1a" stroke-width="1.0"/><line x1="265.5" y1="389.6" x2="267.3" y2="389.6" stroke="#1a1a1a" stroke-width="1.0"/><text x="262.6" y="532" font-size="10" text-anchor="end" fill="#000">0.0</text><text x="262.6" y="506.8" font-size="10" text-anchor="end" fill="#000">0.5</text><text x="262.6" y="481.5" font-size="10" text-anchor="end" fill="#000">1.0</text><text x="262.6" y="456.3" font-size="10" text-anchor="end" fill="#000">1.5</text><text x="262.6" y="431.1" font-size="10" text-anchor="end" fill="#000">2.0</text><text x="262.6" y="405.8" font-size="10" text-anchor="end" fill="#000">2.5</text><text x="262.6" y="380.6" font-size="10" text-anchor="end" fill="#000">3.0</text><text x="358.1" y="552.6" font-size="11.3" text-anchor="middle" fill="#000">Voltage (V)</text><text transform="translate(245.2,448.5) rotate(-90)" x="0" y="0" font-size="11.2" text-anchor="middle">C<tspan font-size="7" dy="-4">2</tspan><tspan dy="4">(10</tspan><tspan font-size="7" dy="-4">16</tspan><tspan dy="4"> F</tspan><tspan font-size="7" dy="-4">-2</tspan><tspan dy="4">)</tspan></text><line x1="395.9" y1="399.6" x2="414.2" y2="399.6" stroke="#111" stroke-width="1.0"/><g fill="#111" stroke="#111" stroke-width="0.5"><circle cx="405.2" cy="399.6" r="1.6"/></g><g fill="#bbb"><circle cx="404.9" cy="399.3" r="0.55"/></g><text x="416.6" y="402.4" font-size="11" text-anchor="start" fill="#000">BT</text><line x1="395.9" y1="413.7" x2="414.2" y2="413.7" stroke="#1010ff" stroke-width="1.0"/><g fill="#1010ff" stroke="#1010ff" stroke-width="0.5"><circle cx="405.2" cy="413.7" r="1.6"/></g><g fill="#b0b0ff"><circle cx="404.9" cy="413.4" r="0.55"/></g><text x="416.6" y="416.5" font-size="11" text-anchor="start" fill="#000">MBT</text><line x1="395.9" y1="427.8" x2="414.2" y2="427.8" stroke="#f22" stroke-width="1.0"/><g fill="#f22" stroke="#f22" stroke-width="0.5"><circle cx="405.2" cy="427.8" r="1.6"/></g><g fill="#ffb8b8"><circle cx="404.9" cy="427.5" r="0.55"/></g><text x="416.6" y="430.6" font-size="11" text-anchor="start" fill="#000">EBT</text><line x1="395.9" y1="441.9" x2="414.2" y2="441.9" stroke="#2a8c2a" stroke-width="1.0"/><g fill="#2a8c2a" stroke="#2a8c2a" stroke-width="0.5"><circle cx="405.2" cy="441.9" r="1.6"/></g><g fill="#b0e0b0"><circle cx="404.9" cy="441.6" r="0.55"/></g><text x="416.6" y="444.7" font-size="11" text-anchor="start" fill="#000">MEBT</text><text x="234.3" y="386" font-size="22.5" text-anchor="start" fill="#000">h</text><path d="M491.3,386 L493.6,386.7 L495.8,388.5 L499,389.5 L506.3,398.1 L529.5,408 L542.7,414.7 L568.6,429.6 L581.3,444.5 L599.5,456.2 L609.5,462.6" fill="none" stroke="#000" stroke-width="1.1" stroke-linejoin="round"/><g fill="#000" stroke="#000" stroke-width="0.5"><circle cx="491.3" cy="386" r="2.4"/><circle cx="493.6" cy="386.7" r="2.4"/><circle cx="495.8" cy="388.5" r="2.4"/><circle cx="499" cy="389.5" r="2.4"/><circle cx="506.3" cy="398.1" r="2.4"/><circle cx="529.5" cy="408" r="2.4"/><circle cx="542.7" cy="414.7" r="2.4"/><circle cx="568.6" cy="429.6" r="2.4"/><circle cx="581.3" cy="444.5" r="2.4"/><circle cx="599.5" cy="456.2" r="2.4"/><circle cx="609.5" cy="462.6" r="2.4"/></g><g fill="#999"><circle cx="491" cy="385.7" r="0.85"/><circle cx="493.3" cy="386.4" r="0.85"/><circle cx="495.5" cy="388.2" r="0.85"/><circle cx="498.7" cy="389.2" r="0.85"/><circle cx="506" cy="397.8" r="0.85"/><circle cx="529.2" cy="407.7" r="0.85"/><circle cx="542.4" cy="414.4" r="0.85"/><circle cx="568.3" cy="429.3" r="0.85"/><circle cx="581" cy="444.2" r="0.85"/><circle cx="599.2" cy="455.9" r="0.85"/><circle cx="609.2" cy="462.3" r="0.85"/></g><path d="M491.3,386 L493.6,384.2 L495.8,382.5 L499,384.2 L506.3,386 L529.5,388.8 L542.7,392 L568.6,396.6 L581.3,398.1 L599.5,402.7 L607.7,402.7 L617.7,403 L636.8,402 L655,404.4 L673.2,411.9" fill="none" stroke="#ff0000" stroke-width="1.1" stroke-linejoin="round"/><g fill="#ff0000" stroke="#ff0000" stroke-width="0.5"><circle cx="491.3" cy="386" r="2.4"/><circle cx="493.6" cy="384.2" r="2.4"/><circle cx="495.8" cy="382.5" r="2.4"/><circle cx="499" cy="384.2" r="2.4"/><circle cx="506.3" cy="386" r="2.4"/><circle cx="529.5" cy="388.8" r="2.4"/><circle cx="542.7" cy="392" r="2.4"/><circle cx="568.6" cy="396.6" r="2.4"/><circle cx="581.3" cy="398.1" r="2.4"/><circle cx="599.5" cy="402.7" r="2.4"/><circle cx="607.7" cy="402.7" r="2.4"/><circle cx="617.7" cy="403" r="2.4"/><circle cx="636.8" cy="402" r="2.4"/><circle cx="655" cy="404.4" r="2.4"/><circle cx="673.2" cy="411.9" r="2.4"/></g><g fill="#ffaaaa"><circle cx="491" cy="385.7" r="0.85"/><circle cx="493.3" cy="383.9" r="0.85"/><circle cx="495.5" cy="382.2" r="0.85"/><circle cx="498.7" cy="383.9" r="0.85"/><circle cx="506" cy="385.7" r="0.85"/><circle cx="529.2" cy="388.5" r="0.85"/><circle cx="542.4" cy="391.7" r="0.85"/><circle cx="568.3" cy="396.3" r="0.85"/><circle cx="581" cy="397.8" r="0.85"/><circle cx="599.2" cy="402.4" r="0.85"/><circle cx="607.4" cy="402.4" r="0.85"/><circle cx="617.4" cy="402.7" r="0.85"/><circle cx="636.5" cy="401.7" r="0.85"/><circle cx="654.7" cy="404.1" r="0.85"/><circle cx="672.9" cy="411.6" r="0.85"/></g><rect x="491.4" y="377" width="186.5" height="150.9" fill="none" stroke="#1a1a1a" stroke-width="1.35"/><line x1="491.3" y1="527.9" x2="491.3" y2="530.4" stroke="#1a1a1a" stroke-width="1.0"/><line x1="536.8" y1="527.9" x2="536.8" y2="530.4" stroke="#1a1a1a" stroke-width="1.0"/><line x1="582.2" y1="527.9" x2="582.2" y2="530.4" stroke="#1a1a1a" stroke-width="1.0"/><line x1="627.7" y1="527.9" x2="627.7" y2="530.4" stroke="#1a1a1a" stroke-width="1.0"/><line x1="673.2" y1="527.9" x2="673.2" y2="530.4" stroke="#1a1a1a" stroke-width="1.0"/><line x1="514" y1="527.9" x2="514" y2="529.9" stroke="#1a1a1a" stroke-width="1.0"/><line x1="559.5" y1="527.9" x2="559.5" y2="529.9" stroke="#1a1a1a" stroke-width="1.0"/><line x1="605" y1="527.9" x2="605" y2="529.9" stroke="#1a1a1a" stroke-width="1.0"/><line x1="650.5" y1="527.9" x2="650.5" y2="529.9" stroke="#1a1a1a" stroke-width="1.0"/><text x="491.3" y="540.3" font-size="10" text-anchor="middle" fill="#000">0</text><text x="536.8" y="540.3" font-size="10" text-anchor="middle" fill="#000">1000</text><text x="582.2" y="540.3" font-size="10" text-anchor="middle" fill="#000">2000</text><text x="627.7" y="540.3" font-size="10" text-anchor="middle" fill="#000">3000</text><text x="673.2" y="540.3" font-size="10" text-anchor="middle" fill="#000">4000</text><line x1="488.4" y1="527.9" x2="491.4" y2="527.9" stroke="#1a1a1a" stroke-width="1.0"/><line x1="488.4" y1="492.4" x2="491.4" y2="492.4" stroke="#1a1a1a" stroke-width="1.0"/><line x1="488.4" y1="457" x2="491.4" y2="457" stroke="#1a1a1a" stroke-width="1.0"/><line x1="488.4" y1="421.5" x2="491.4" y2="421.5" stroke="#1a1a1a" stroke-width="1.0"/><line x1="488.4" y1="386" x2="491.4" y2="386" stroke="#1a1a1a" stroke-width="1.0"/><line x1="489.6" y1="510.2" x2="491.4" y2="510.2" stroke="#1a1a1a" stroke-width="1.0"/><line x1="489.6" y1="474.7" x2="491.4" y2="474.7" stroke="#1a1a1a" stroke-width="1.0"/><line x1="489.6" y1="439.2" x2="491.4" y2="439.2" stroke="#1a1a1a" stroke-width="1.0"/><line x1="489.6" y1="403.7" x2="491.4" y2="403.7" stroke="#1a1a1a" stroke-width="1.0"/><text x="487.5" y="531.5" font-size="10" text-anchor="end" fill="#000">0.6</text><text x="487.5" y="496" font-size="10" text-anchor="end" fill="#000">0.7</text><text x="487.5" y="460.6" font-size="10" text-anchor="end" fill="#000">0.8</text><text x="487.5" y="425.1" font-size="10" text-anchor="end" fill="#000">0.9</text><text x="487.5" y="389.6" font-size="10" text-anchor="end" fill="#000">1.0</text><text x="584.5" y="553" font-size="11.6" text-anchor="middle" fill="#000">Time (h)</text><text x="0" y="0" transform="translate(471.8,449.8) rotate(-90)" font-size="11.6" text-anchor="middle" fill="#000">Normalized PCE</text><line x1="506.1" y1="475.9" x2="524.5" y2="475.9" stroke="#000" stroke-width="1.1"/><g fill="#000" stroke="#000" stroke-width="0.5"><circle cx="515.4" cy="475.9" r="2.1"/></g><g fill="#999"><circle cx="515.1" cy="475.6" r="0.75"/></g><text x="527" y="478.8" font-size="11.2" text-anchor="start" fill="#000">BT</text><line x1="506.1" y1="490.4" x2="524.5" y2="490.4" stroke="#ff0000" stroke-width="1.1"/><g fill="#ff0000" stroke="#ff0000" stroke-width="0.5"><circle cx="515.4" cy="490.4" r="2.1"/></g><g fill="#ffaaaa"><circle cx="515.1" cy="490.1" r="0.75"/></g><text x="527" y="493.3" font-size="11.2" text-anchor="start" fill="#000">EBT</text><text x="462" y="387.2" font-size="22.5" text-anchor="start" fill="#000">i</text></svg></body></html>
